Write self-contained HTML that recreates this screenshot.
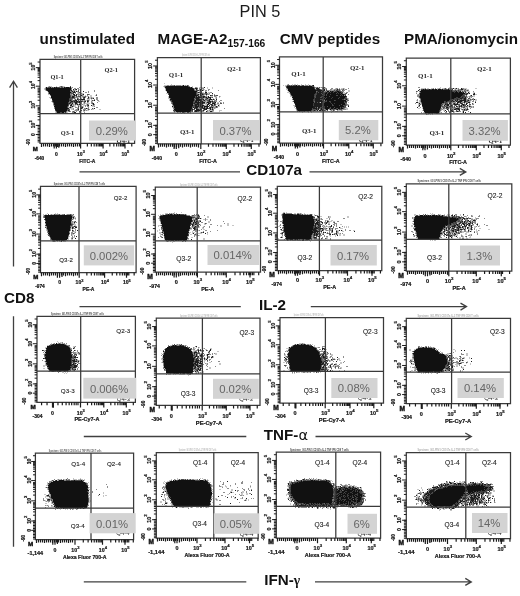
<!DOCTYPE html>
<html lang="en">
<head>
<meta charset="utf-8">
<title>PIN 5</title>
<style>
html,body{margin:0;padding:0;background:#fff;}
body{width:520px;height:596px;overflow:hidden;}
svg{display:block;}
</style>
</head>
<body>
<svg width="520" height="596" viewBox="0 0 520 596" font-family="'Liberation Sans', Arial, sans-serif">
<rect width="520" height="596" fill="#ffffff"/>
<text x="239.6" y="17" font-size="16.3" fill="#1c1c1c">PIN 5</text>
<g font-weight="bold" font-size="15.2" fill="#111">
<text x="39.5" y="43.8" letter-spacing="0.1">unstimulated</text>
<text x="157.5" y="43.8">MAGE-A2<tspan font-size="10.3" dy="3.2">157-166</tspan></text>
<text x="279.8" y="44.2">CMV peptides</text>
<text x="404" y="44.2">PMA/ionomycin</text>
<text x="4" y="303.4">CD8</text>
<text x="246.3" y="174.6">CD107a</text>
<text x="259" y="309.6">IL-2</text>
<text x="263.8" y="440">TNF-<tspan font-weight="normal" font-size="14.6" font-family="'DejaVu Sans', 'Liberation Sans', sans-serif">α</tspan></text>
<text x="264.2" y="585">IFN-<tspan font-weight="bold" font-size="13.6" font-family="'Liberation Serif', 'DejaVu Serif', serif">γ</tspan></text>
</g>
<g stroke="#404040" stroke-width="1.3" fill="none">
<path d="M13.5 81.3V266.4M13.5 316.2V546.8M9.6 87.6L13.5 81.2L17.4 87.6"/>
<path d="M79.5 171.9H240M309.5 171.9H465.8M459.8 168.4L465.8 171.9L459.8 175.4"/>
<path d="M79.5 306.6H240.8M310.8 306.6H466.5M460.5 303.1L466.5 306.6L460.5 310.1"/>
<path d="M83.8 436.5H246.3M315.5 436.5H471.3M465.3 433L471.3 436.5L465.3 440"/>
<path d="M83.8 581.9H246.3M315 581.9H471.3M465.3 578.4L471.3 581.9L465.3 585.4"/>
</g>
<g>
<text x="53.8" y="57.9" font-size="3.3" fill="#333" fill-opacity="0.9" font-weight="bold" textLength="48.7" lengthAdjust="spacingAndGlyphs">Specimen_001-PIN 5 CD107a IL-2 TNF IFN CD8 T cells</text>
<path fill="#0a0a0a" fill-opacity="0.92" d="M72 87.5h1v0.5h-1zM79 87.5h1.5v0.5h-1.5zM71.5 88h0.5v0.5h-0.5zM74 88h1v0.5h-1zM77.5 88h0.5v0.5h-0.5zM75 88.5h1v0.5h-1zM77.5 88.5h1.5v0.5h-1.5zM71 89h1v0.5h-1zM73 89h1v0.5h-1zM75 89h2v0.5h-2zM78 89h1.5v0.5h-1.5zM73 89.5h1.5v0.5h-1.5zM75.5 89.5h1.5v0.5h-1.5zM71 90h1v0.5h-1zM75.5 90h1v0.5h-1zM78 90h0.5v0.5h-0.5zM71 90.5h1v0.5h-1zM72.5 90.5h2.5v0.5h-2.5zM78 90.5h1v0.5h-1zM94 90.5h1v0.5h-1zM71.5 91h3.5v0.5h-3.5zM76 91h1v0.5h-1zM77.5 91h1.5v0.5h-1.5zM83 91h1v0.5h-1zM94 91h1v0.5h-1zM71.5 91.5h1.5v0.5h-1.5zM74 91.5h1.5v0.5h-1.5zM76 91.5h1v0.5h-1zM77.5 91.5h1v0.5h-1zM83 91.5h1v0.5h-1zM88 91.5h1v0.5h-1zM72.5 92h3v0.5h-3zM79.5 92h1v0.5h-1zM85.5 92h1v0.5h-1zM88 92h1v0.5h-1zM71 92.5h1.5v0.5h-1.5zM73 92.5h3v0.5h-3zM77.5 92.5h3v0.5h-3zM85.5 92.5h1v0.5h-1zM71 93h3v0.5h-3zM75 93h1v0.5h-1zM77.5 93h1v0.5h-1zM81 93h0.5v0.5h-0.5zM82.5 93h1v0.5h-1zM70 93.5h0.5v0.5h-0.5zM71.5 93.5h1v0.5h-1zM73 93.5h0.5v0.5h-0.5zM78.5 93.5h1v0.5h-1zM81 93.5h0.5v0.5h-0.5zM71 94h1.5v0.5h-1.5zM73 94h2v0.5h-2zM76 94h1.5v0.5h-1.5zM79 94h1v0.5h-1zM82.5 94h1.5v0.5h-1.5zM87.5 94h2v0.5h-2zM73 94.5h2v0.5h-2zM76 94.5h1.5v0.5h-1.5zM78 94.5h1v0.5h-1zM80.5 94.5h1v0.5h-1zM82.5 94.5h1.5v0.5h-1.5zM87 94.5h1v0.5h-1zM88.5 94.5h1v0.5h-1zM96 94.5h1v0.5h-1zM70.5 95h1v0.5h-1zM73 95h2v0.5h-2zM75.5 95h1.5v0.5h-1.5zM78 95h1v0.5h-1zM79.5 95h2.5v0.5h-2.5zM82.5 95h0.5v0.5h-0.5zM96 95h1v0.5h-1zM70.5 95.5h1v0.5h-1zM72 95.5h1v0.5h-1zM74 95.5h3v0.5h-3zM81 95.5h1v0.5h-1zM82.5 95.5h1v0.5h-1zM85.5 95.5h0.5v0.5h-0.5zM87 95.5h1v0.5h-1zM90.5 95.5h1v0.5h-1zM95.5 95.5h1v0.5h-1zM70.5 96h0.5v0.5h-0.5zM71.5 96h4v0.5h-4zM76 96h1v0.5h-1zM77.5 96h1v0.5h-1zM79 96h1.5v0.5h-1.5zM82.5 96h1v0.5h-1zM84.5 96h1.5v0.5h-1.5zM86.5 96h1v0.5h-1zM90.5 96h1v0.5h-1zM70 96.5h1.5v0.5h-1.5zM72 96.5h2.5v0.5h-2.5zM76 96.5h0.5v0.5h-0.5zM77.5 96.5h1.5v0.5h-1.5zM79.5 96.5h1v0.5h-1zM82 96.5h0.5v0.5h-0.5zM83 96.5h0.5v0.5h-0.5zM84.5 96.5h1v0.5h-1zM88 96.5h1v0.5h-1zM70 97h1.5v0.5h-1.5zM72 97h2.5v0.5h-2.5zM75.5 97h1v0.5h-1zM77 97h1.5v0.5h-1.5zM82 97h0.5v0.5h-0.5zM83.5 97h2v0.5h-2zM88 97h1v0.5h-1zM96.5 97h1v0.5h-1zM70.5 97.5h4.5v0.5h-4.5zM75.5 97.5h1v0.5h-1zM79.5 97.5h1v0.5h-1zM83 97.5h2.5v0.5h-2.5zM88 97.5h1.5v0.5h-1.5zM90.5 97.5h1.5v0.5h-1.5zM92.5 97.5h1v0.5h-1zM96.5 97.5h1v0.5h-1zM70.5 98h4.5v0.5h-4.5zM77 98h0.5v0.5h-0.5zM83 98h1.5v0.5h-1.5zM87.5 98h1v0.5h-1zM90.5 98h3.5v0.5h-3.5zM69.5 98.5h1v0.5h-1zM71.5 98.5h1v0.5h-1zM74.5 98.5h1v0.5h-1zM77 98.5h2v0.5h-2zM80 98.5h1v0.5h-1zM81.5 98.5h0.5v0.5h-0.5zM83.5 98.5h1.5v0.5h-1.5zM87.5 98.5h2v0.5h-2zM91 98.5h0.5v0.5h-0.5zM93 98.5h1v0.5h-1zM96 98.5h2v0.5h-2zM69 99h0.5v0.5h-0.5zM70 99h0.5v0.5h-0.5zM71 99h2v0.5h-2zM74.5 99h1.5v0.5h-1.5zM77 99h8v0.5h-8zM88.5 99h1v0.5h-1zM91 99h0.5v0.5h-0.5zM94 99h0.5v0.5h-0.5zM96 99h2v0.5h-2zM69 99.5h0.5v0.5h-0.5zM70 99.5h1v0.5h-1zM71.5 99.5h0.5v0.5h-0.5zM75 99.5h0.5v0.5h-0.5zM76.5 99.5h1.5v0.5h-1.5zM78.5 99.5h1v0.5h-1zM80 99.5h5v0.5h-5zM87 99.5h0.5v0.5h-0.5zM94 99.5h0.5v0.5h-0.5zM69.5 100h2.5v0.5h-2.5zM73 100h0.5v0.5h-0.5zM74.5 100h2.5v0.5h-2.5zM77.5 100h1v0.5h-1zM81.5 100h1v0.5h-1zM83.5 100h1v0.5h-1zM87 100h1.5v0.5h-1.5zM92 100h1v0.5h-1zM93.5 100h1.5v0.5h-1.5zM97.5 100h1v0.5h-1zM70 100.5h1.5v0.5h-1.5zM72 100.5h5v0.5h-5zM78 100.5h1.5v0.5h-1.5zM82.5 100.5h0.5v0.5h-0.5zM84.5 100.5h1.5v0.5h-1.5zM86.5 100.5h1v0.5h-1zM88 100.5h1.5v0.5h-1.5zM91.5 100.5h1v0.5h-1zM93.5 100.5h1.5v0.5h-1.5zM97.5 100.5h1v0.5h-1zM69.5 101h5.5v0.5h-5.5zM75.5 101h2.5v0.5h-2.5zM78.5 101h3.5v0.5h-3.5zM82.5 101h1v0.5h-1zM84.5 101h1.5v0.5h-1.5zM87 101h2v0.5h-2zM91.5 101h0.5v0.5h-0.5zM98.5 101h1v0.5h-1zM69.5 101.5h1v0.5h-1zM71 101.5h2.5v0.5h-2.5zM74 101.5h9.5v0.5h-9.5zM84 101.5h2v0.5h-2zM87 101.5h1.5v0.5h-1.5zM91.5 101.5h1v0.5h-1zM69.5 102h4v0.5h-4zM74 102h6v0.5h-6zM80.5 102h1v0.5h-1zM83.5 102h1.5v0.5h-1.5zM87 102h1.5v0.5h-1.5zM92 102h1v0.5h-1zM69.5 102.5h1.5v0.5h-1.5zM71.5 102.5h1v0.5h-1zM73 102.5h0.5v0.5h-0.5zM74.5 102.5h2.5v0.5h-2.5zM77.5 102.5h1v0.5h-1zM79 102.5h1v0.5h-1zM80.5 102.5h1v0.5h-1zM84.5 102.5h1v0.5h-1zM91 102.5h1v0.5h-1zM97 102.5h1v0.5h-1zM68.5 103h2.5v0.5h-2.5zM72 103h1.5v0.5h-1.5zM74.5 103h2.5v0.5h-2.5zM80.5 103h1v0.5h-1zM84.5 103h1v0.5h-1zM88.5 103h1v0.5h-1zM91 103h3v0.5h-3zM69 103.5h1.5v0.5h-1.5zM71 103.5h2v0.5h-2zM75 103.5h3v0.5h-3zM79 103.5h1v0.5h-1zM80.5 103.5h1v0.5h-1zM83.5 103.5h1v0.5h-1zM86.5 103.5h0.5v0.5h-0.5zM87.5 103.5h0.5v0.5h-0.5zM92.5 103.5h1.5v0.5h-1.5zM70.5 104h2v0.5h-2zM75 104h1.5v0.5h-1.5zM77 104h1v0.5h-1zM79 104h2v0.5h-2zM82 104h0.5v0.5h-0.5zM83.5 104h1v0.5h-1zM86.5 104h0.5v0.5h-0.5zM87.5 104h0.5v0.5h-0.5zM92.5 104h1.5v0.5h-1.5zM68.5 104.5h1v0.5h-1zM70.5 104.5h2v0.5h-2zM73 104.5h1v0.5h-1zM74.5 104.5h1v0.5h-1zM76.5 104.5h5v0.5h-5zM82 104.5h0.5v0.5h-0.5zM87 104.5h2v0.5h-2zM93 104.5h2v0.5h-2zM70 105h2v0.5h-2zM73 105h1v0.5h-1zM77 105h0.5v0.5h-0.5zM78.5 105h0.5v0.5h-0.5zM80 105h1.5v0.5h-1.5zM87 105h2v0.5h-2zM91 105h1v0.5h-1zM70 105.5h2.5v0.5h-2.5zM74.5 105.5h1v0.5h-1zM78.5 105.5h1v0.5h-1zM80 105.5h1v0.5h-1zM83.5 105.5h1v0.5h-1zM85 105.5h1v0.5h-1zM86.5 105.5h1v0.5h-1zM88 105.5h1v0.5h-1zM91 105.5h1v0.5h-1zM92.5 105.5h2v0.5h-2zM70 106h1v0.5h-1zM71.5 106h2v0.5h-2zM74.5 106h1v0.5h-1zM78.5 106h1v0.5h-1zM80 106h1v0.5h-1zM81.5 106h1v0.5h-1zM85 106h1v0.5h-1zM88 106h1v0.5h-1zM92.5 106h1v0.5h-1zM67.5 106.5h1v0.5h-1zM71.5 106.5h2v0.5h-2zM78 106.5h1v0.5h-1zM81.5 106.5h1v0.5h-1zM83 106.5h0.5v0.5h-0.5zM87 106.5h1v0.5h-1zM94 106.5h1v0.5h-1zM69.5 107h2.5v0.5h-2.5zM75 107h1v0.5h-1zM78 107h1v0.5h-1zM81.5 107h2v0.5h-2zM96.5 107h1v0.5h-1zM69.5 107.5h1.5v0.5h-1.5zM72 107.5h0.5v0.5h-0.5zM76 107.5h1v0.5h-1zM77.5 107.5h1v0.5h-1zM81 107.5h2v0.5h-2zM88 107.5h1v0.5h-1zM96.5 107.5h1v0.5h-1zM68 108h1v0.5h-1zM70.5 108h1v0.5h-1zM72 108h0.5v0.5h-0.5zM77.5 108h1.5v0.5h-1.5zM80 108h2.5v0.5h-2.5zM84.5 108h1v0.5h-1zM86 108h1.5v0.5h-1.5zM88 108h1v0.5h-1zM92 108h0.5v0.5h-0.5zM94 108h1v0.5h-1zM68 108.5h1.5v0.5h-1.5zM73 108.5h1v0.5h-1zM77.5 108.5h1v0.5h-1zM80 108.5h2.5v0.5h-2.5zM84.5 108.5h1v0.5h-1zM86 108.5h1.5v0.5h-1.5zM92 108.5h1.5v0.5h-1.5zM94 108.5h1v0.5h-1zM67 109h0.5v0.5h-0.5zM68.5 109h1v0.5h-1zM73 109h1v0.5h-1zM77.5 109h1.5v0.5h-1.5zM84.5 109h1v0.5h-1zM88.5 109h1v0.5h-1zM92.5 109h1v0.5h-1zM67.5 109.5h2.5v0.5h-2.5zM71.5 109.5h1v0.5h-1zM75 109.5h0.5v0.5h-0.5zM76 109.5h1v0.5h-1zM77.5 109.5h1.5v0.5h-1.5zM83 109.5h1v0.5h-1zM84.5 109.5h1v0.5h-1zM87.5 109.5h2v0.5h-2zM91 109.5h1v0.5h-1zM99.5 109.5h1v0.5h-1zM67.5 110h2.5v0.5h-2.5zM74.5 110h2.5v0.5h-2.5zM77.5 110h1v0.5h-1zM80.5 110h1v0.5h-1zM83 110h2.5v0.5h-2.5zM86 110h1v0.5h-1zM87.5 110h1v0.5h-1zM67.5 110.5h2v0.5h-2zM77.5 110.5h1v0.5h-1zM81 110.5h1v0.5h-1zM84.5 110.5h0.5v0.5h-0.5zM66.5 111h0.5v0.5h-0.5zM68 111h2.5v0.5h-2.5zM72.5 111h1v0.5h-1zM76 111h0.5v0.5h-0.5zM79.5 111h0.5v0.5h-0.5zM69.5 111.5h1v0.5h-1zM72.5 111.5h2.5v0.5h-2.5zM76 111.5h0.5v0.5h-0.5zM79 111.5h2v0.5h-2zM83.5 111.5h1v0.5h-1zM65 112h0.5v0.5h-0.5zM66.5 112h1v0.5h-1zM72 112h1v0.5h-1zM73.5 112h2.5v0.5h-2.5zM79 112h2v0.5h-2zM84 112h0.5v0.5h-0.5zM73.5 112.5h2.5v0.5h-2.5zM84 112.5h0.5v0.5h-0.5z"/>
<path fill="#111111" d="M49 86h0.5v0.5h-0.5zM61.5 86h0.5v0.5h-0.5zM62.5 86h0.5v0.5h-0.5zM70.5 86h0.5v0.5h-0.5zM48.5 86.5h0.5v0.5h-0.5zM49.5 86.5h0.5v0.5h-0.5zM50.5 86.5h1v0.5h-1zM56.5 86.5h0.5v0.5h-0.5zM59.5 86.5h3v0.5h-3zM63.5 86.5h0.5v0.5h-0.5zM64.5 86.5h0.5v0.5h-0.5zM70 86.5h1v0.5h-1zM46 87h1v0.5h-1zM48.5 87h1v0.5h-1zM50 87h1v0.5h-1zM52.5 87h0.5v0.5h-0.5zM54 87h1v0.5h-1zM55.5 87h2v0.5h-2zM58.5 87h0.5v0.5h-0.5zM59.5 87h0.5v0.5h-0.5zM61 87h0.5v0.5h-0.5zM62.5 87h0.5v0.5h-0.5zM64 87h1v0.5h-1zM65.5 87h3.5v0.5h-3.5zM69.5 87h1.5v0.5h-1.5zM71.5 87h0.5v0.5h-0.5zM45.5 87.5h25.5v0.5h-25.5zM45 88h26.5v0.5h-26.5zM44 88.5h0.5v0.5h-0.5zM46 88.5h25.5v0.5h-25.5zM44 89h0.5v0.5h-0.5zM45.5 89h25.5v0.5h-25.5zM45.5 89.5h25.5v0.5h-25.5zM45.5 90h25v0.5h-25zM46.5 90.5h24.5v0.5h-24.5zM47.5 91h23v0.5h-23zM48 91.5h22.5v0.5h-22.5zM71 91.5h0.5v0.5h-0.5zM48.5 92h23v0.5h-23zM48 92.5h0.5v0.5h-0.5zM49 92.5h22v0.5h-22zM48.5 93h22v0.5h-22zM48 93.5h0.5v0.5h-0.5zM49 93.5h21v0.5h-21zM70.5 93.5h0.5v0.5h-0.5zM48.5 94h0.5v0.5h-0.5zM50 94h20.5v0.5h-20.5zM49.5 94.5h21v0.5h-21zM50.5 95h20v0.5h-20zM50.5 95.5h20v0.5h-20zM51 96h19.5v0.5h-19.5zM51 96.5h19v0.5h-19zM49.5 97h0.5v0.5h-0.5zM50.5 97h19.5v0.5h-19.5zM51 97.5h19.5v0.5h-19.5zM50.5 98h0.5v0.5h-0.5zM51.5 98h19v0.5h-19zM51.5 98.5h18v0.5h-18zM70.5 98.5h0.5v0.5h-0.5zM52 99h17v0.5h-17zM69.5 99h0.5v0.5h-0.5zM70.5 99h0.5v0.5h-0.5zM52 99.5h17v0.5h-17zM69.5 99.5h0.5v0.5h-0.5zM52 100h17.5v0.5h-17.5zM52.5 100.5h17.5v0.5h-17.5zM51.5 101h17.5v0.5h-17.5zM52.5 101.5h17v0.5h-17zM53 102h15.5v0.5h-15.5zM69 102h0.5v0.5h-0.5zM52.5 102.5h0.5v0.5h-0.5zM53.5 102.5h15.5v0.5h-15.5zM53 103h15.5v0.5h-15.5zM54 103.5h15v0.5h-15zM53 104h16.5v0.5h-16.5zM54 104.5h14.5v0.5h-14.5zM53 105h0.5v0.5h-0.5zM54.5 105h14v0.5h-14zM54 105.5h15v0.5h-15zM54 106h14.5v0.5h-14.5zM54 106.5h13.5v0.5h-13.5zM54.5 107h13v0.5h-13zM68.5 107h1v0.5h-1zM54.5 107.5h13.5v0.5h-13.5zM54 108h0.5v0.5h-0.5zM55 108h13v0.5h-13zM54 108.5h0.5v0.5h-0.5zM55 108.5h13v0.5h-13zM55 109h12v0.5h-12zM67.5 109h0.5v0.5h-0.5zM55 109.5h12.5v0.5h-12.5zM55 110h12.5v0.5h-12.5zM55.5 110.5h11.5v0.5h-11.5zM56 111h10.5v0.5h-10.5zM67.5 111h0.5v0.5h-0.5zM55.5 111.5h0.5v0.5h-0.5zM56.5 111.5h9.5v0.5h-9.5zM66.5 111.5h0.5v0.5h-0.5zM55 112h0.5v0.5h-0.5zM56.5 112h8.5v0.5h-8.5zM65.5 112h0.5v0.5h-0.5zM56.5 112.5h4v0.5h-4zM61 112.5h0.5v0.5h-0.5zM62 112.5h2v0.5h-2zM65 112.5h1.5v0.5h-1.5zM57 113h1v0.5h-1zM58.5 113h0.5v0.5h-0.5zM61.5 113h1v0.5h-1zM63 113h1v0.5h-1zM64.5 113h0.5v0.5h-0.5zM57 113.5h0.5v0.5h-0.5zM64 113.5h0.5v0.5h-0.5z"/>
<path stroke="#3a3a3a" stroke-width="1.25" fill="none" d="M40 59.4H134.6V143.4H40ZM80.7 59.4V143.4M40 113.7H134.6"/>
<path stroke="#1c1c1c" stroke-width="1.2" fill="none" d="M56.4 143.4v5.2M80.6 143.4v5.2M103.1 143.4v5.2M125 143.4v5.2M87.37 143.4v3M91.34 143.4v3M94.15 143.4v3M96.33 143.4v3M98.11 143.4v3M99.61 143.4v3M100.92 143.4v3M102.07 143.4v3M109.87 143.4v3M113.84 143.4v3M116.65 143.4v3M118.83 143.4v3M120.61 143.4v3M122.11 143.4v3M123.42 143.4v3M124.57 143.4v3M131.77 143.4v3M41.5 143.4v3.6M43.5 143.4v3M45.5 143.4v3M47.5 143.4v3M49.5 143.4v3.6M51.5 143.4v3M53.5 143.4v3M55.5 143.4v3M57.5 143.4v3.6M59.5 143.4v3M61.5 143.4v3M63.5 143.4v3M65.5 143.4v3.6M67.5 143.4v3M69.5 143.4v3M71.5 143.4v3M73.5 143.4v3.6M75.5 143.4v3M77.5 143.4v3M79.5 143.4v3M54.2 143.4v5.2M58.8 143.4v4.4"/>
<path stroke="#1c1c1c" stroke-width="1.0" fill="none" d="M40 67.63h-4.2M40 86.2h-4.2M40 105.85h-4.2M40 125.42h-4.2M40 62.04h-2.4M40 80.61h-2.4M40 77.34h-2.4M40 75.02h-2.4M40 73.22h-2.4M40 71.75h-2.4M40 70.51h-2.4M40 69.43h-2.4M40 68.48h-2.4M40 100.26h-2.4M40 96.99h-2.4M40 94.68h-2.4M40 92.88h-2.4M40 91.41h-2.4M40 90.16h-2.4M40 89.09h-2.4M40 88.14h-2.4M40 119.84h-2.4M40 116.57h-2.4M40 114.25h-2.4M40 112.45h-2.4M40 110.98h-2.4M40 109.74h-2.4M40 108.66h-2.4M40 107.71h-2.4M40 125.42h-2.4M40 126.92h-2.4M40 128.42h-2.4M40 129.92h-2.4M40 131.42h-2.4M40 132.92h-2.4M40 134.42h-2.4M40 135.92h-2.4M40 137.42h-2.4M40 138.92h-2.4M40 140.42h-2.4M40 141.92h-2.4M40 134.5h-4.2"/>
<text x="116.5" y="142.5" font-family="'Liberation Serif', serif" font-size="6.6" font-weight="bold" fill="#222">Q4-1</text>
<rect x="89" y="120.5" width="47" height="20.1" fill="#d3d3d3"/>
<text x="111.8" y="134.85" font-size="11.3" fill="#666666" text-anchor="middle">0.29%</text>
<g font-family="'Liberation Serif', serif" font-size="6.31" font-weight="bold" fill="#262626">
<text x="50.4" y="78.8">Q1-1</text>
<text x="104.5" y="72">Q2-1</text>
<text x="60.8" y="134.5">Q3-1</text>
</g>
<g font-size="5.03" font-weight="bold" fill="#141414" stroke="#141414" stroke-width="0.2">
<text x="56.4" y="155.9" text-anchor="middle">0</text>
<text x="77.05" y="155.9">10<tspan font-size="3.94" dy="-2.66">3</tspan></text>
<text x="99.55" y="155.9">10<tspan font-size="3.94" dy="-2.66">4</tspan></text>
<text x="121.45" y="155.9">10<tspan font-size="3.94" dy="-2.66">5</tspan></text>
<text x="39.5" y="159.5" text-anchor="middle" font-size="4.73">-640</text>
<text x="32.81" y="150.7" font-size="6.01" stroke-width="0.45">M</text>
<text x="79.22" y="162.8" font-size="5.12" textLength="16.16" lengthAdjust="spacingAndGlyphs">FITC-A</text>
<text transform="translate(35.47 67.63) rotate(-90)" x="-2.76" y="0">10<tspan font-size="3.94" dy="-3.74">5</tspan></text>
<text transform="translate(35.47 86.2) rotate(-90)" x="-2.76" y="0">10<tspan font-size="3.94" dy="-3.74">4</tspan></text>
<text transform="translate(35.47 105.85) rotate(-90)" x="-2.76" y="0">10<tspan font-size="3.94" dy="-3.74">3</tspan></text>
<text transform="translate(35.47 125.42) rotate(-90)" x="-2.76" y="0">10<tspan font-size="3.94" dy="-3.74">2</tspan></text>
<text transform="translate(35.47 134.5) rotate(-90)" x="-1.38" y="0">0</text>
<text transform="translate(29.85 141.8) rotate(-90)" x="-3.55" y="0" font-size="4.43">-90</text>
</g>
</g>
<g>
<text x="182" y="56.2" font-size="3.3" fill="#333" fill-opacity="0.35" font-weight="bold" textLength="28" lengthAdjust="spacingAndGlyphs">Specimen_001-PIN 5 CD107a IL-2 TNF IFN CD8 T cells</text>
<path fill="#0a0a0a" fill-opacity="0.92" d="M192 87h1v0.5h-1zM204 87h1v0.5h-1zM195 87.5h2.5v0.5h-2.5zM199.5 87.5h1v0.5h-1zM201 87.5h1v0.5h-1zM202.5 87.5h1v0.5h-1zM204 87.5h1v0.5h-1zM207 87.5h0.5v0.5h-0.5zM212.5 87.5h0.5v0.5h-0.5zM193 88h0.5v0.5h-0.5zM194 88h3.5v0.5h-3.5zM199.5 88h0.5v0.5h-0.5zM201 88h1v0.5h-1zM202.5 88h1v0.5h-1zM207 88h0.5v0.5h-0.5zM212.5 88h0.5v0.5h-0.5zM193 88.5h1v0.5h-1zM195 88.5h3v0.5h-3zM199.5 88.5h0.5v0.5h-0.5zM202.5 88.5h1v0.5h-1zM196 89h2v0.5h-2zM199 89h2v0.5h-2zM202.5 89h1v0.5h-1zM208.5 89h1v0.5h-1zM196 89.5h1v0.5h-1zM200 89.5h2v0.5h-2zM203.5 89.5h1v0.5h-1zM208.5 89.5h1v0.5h-1zM196.5 90h1v0.5h-1zM198 90h1.5v0.5h-1.5zM200 90h1v0.5h-1zM202 90h1.5v0.5h-1.5zM196.5 90.5h1.5v0.5h-1.5zM198.5 90.5h1v0.5h-1zM200 90.5h1v0.5h-1zM202 90.5h1.5v0.5h-1.5zM205 90.5h2v0.5h-2zM208 90.5h1v0.5h-1zM218 90.5h1v0.5h-1zM199 91h0.5v0.5h-0.5zM200 91h1.5v0.5h-1.5zM197 91.5h0.5v0.5h-0.5zM200.5 91.5h1v0.5h-1zM205 91.5h1.5v0.5h-1.5zM196.5 92h0.5v0.5h-0.5zM198 92h2v0.5h-2zM200.5 92h1v0.5h-1zM205 92h2v0.5h-2zM196.5 92.5h0.5v0.5h-0.5zM197.5 92.5h1.5v0.5h-1.5zM199.5 92.5h2.5v0.5h-2.5zM202.5 92.5h1v0.5h-1zM205 92.5h2v0.5h-2zM208.5 92.5h1v0.5h-1zM210 92.5h2v0.5h-2zM196 93h0.5v0.5h-0.5zM198 93h0.5v0.5h-0.5zM199.5 93h2.5v0.5h-2.5zM202.5 93h1v0.5h-1zM204 93h1v0.5h-1zM205.5 93h2v0.5h-2zM208.5 93h1v0.5h-1zM212 93h1v0.5h-1zM196 93.5h0.5v0.5h-0.5zM197 93.5h0.5v0.5h-0.5zM200 93.5h1.5v0.5h-1.5zM202 93.5h1.5v0.5h-1.5zM205 93.5h1.5v0.5h-1.5zM207 93.5h0.5v0.5h-0.5zM209.5 93.5h0.5v0.5h-0.5zM212 93.5h1v0.5h-1zM196.5 94h1v0.5h-1zM198 94h3.5v0.5h-3.5zM202 94h2.5v0.5h-2.5zM205 94h2v0.5h-2zM207.5 94h1v0.5h-1zM209.5 94h0.5v0.5h-0.5zM214 94h0.5v0.5h-0.5zM196 94.5h0.5v0.5h-0.5zM197 94.5h2v0.5h-2zM200 94.5h1v0.5h-1zM202 94.5h1v0.5h-1zM203.5 94.5h1v0.5h-1zM206 94.5h1v0.5h-1zM207.5 94.5h1v0.5h-1zM212 94.5h0.5v0.5h-0.5zM214 94.5h0.5v0.5h-0.5zM196 95h3v0.5h-3zM200 95h1.5v0.5h-1.5zM203.5 95h0.5v0.5h-0.5zM210 95h1v0.5h-1zM211.5 95h1v0.5h-1zM214.5 95h0.5v0.5h-0.5zM216.5 95h1v0.5h-1zM196 95.5h2.5v0.5h-2.5zM199.5 95.5h3.5v0.5h-3.5zM203.5 95.5h1v0.5h-1zM206 95.5h1v0.5h-1zM210 95.5h3v0.5h-3zM214 95.5h4v0.5h-4zM195.5 96h2v0.5h-2zM198 96h1v0.5h-1zM199.5 96h5.5v0.5h-5.5zM205.5 96h0.5v0.5h-0.5zM208 96h1v0.5h-1zM210.5 96h1v0.5h-1zM214 96h2.5v0.5h-2.5zM219.5 96h1v0.5h-1zM195 96.5h0.5v0.5h-0.5zM196 96.5h1.5v0.5h-1.5zM198 96.5h2v0.5h-2zM200.5 96.5h1v0.5h-1zM202.5 96.5h2.5v0.5h-2.5zM205.5 96.5h2v0.5h-2zM208 96.5h1v0.5h-1zM212.5 96.5h0.5v0.5h-0.5zM219.5 96.5h0.5v0.5h-0.5zM195 97h9.5v0.5h-9.5zM205.5 97h2v0.5h-2zM208 97h3.5v0.5h-3.5zM212.5 97h0.5v0.5h-0.5zM219.5 97h0.5v0.5h-0.5zM195.5 97.5h7v0.5h-7zM203 97.5h4.5v0.5h-4.5zM208 97.5h3.5v0.5h-3.5zM212 97.5h1v0.5h-1zM215 97.5h0.5v0.5h-0.5zM216 97.5h1v0.5h-1zM195 98h4.5v0.5h-4.5zM200 98h0.5v0.5h-0.5zM201 98h0.5v0.5h-0.5zM202 98h0.5v0.5h-0.5zM203 98h0.5v0.5h-0.5zM204.5 98h4v0.5h-4zM209.5 98h1.5v0.5h-1.5zM215 98h0.5v0.5h-0.5zM216 98h1v0.5h-1zM194.5 98.5h0.5v0.5h-0.5zM195.5 98.5h4.5v0.5h-4.5zM201 98.5h0.5v0.5h-0.5zM202 98.5h1.5v0.5h-1.5zM206.5 98.5h2v0.5h-2zM209.5 98.5h1.5v0.5h-1.5zM213.5 98.5h0.5v0.5h-0.5zM194.5 99h0.5v0.5h-0.5zM196 99h8v0.5h-8zM205.5 99h1v0.5h-1zM207.5 99h1v0.5h-1zM209 99h3.5v0.5h-3.5zM213 99h1.5v0.5h-1.5zM216 99h1v0.5h-1zM194.5 99.5h8v0.5h-8zM203 99.5h1.5v0.5h-1.5zM205 99.5h2v0.5h-2zM207.5 99.5h1v0.5h-1zM209 99.5h3.5v0.5h-3.5zM213 99.5h1.5v0.5h-1.5zM216 99.5h1v0.5h-1zM194.5 100h7.5v0.5h-7.5zM203.5 100h3.5v0.5h-3.5zM207.5 100h1v0.5h-1zM209 100h1.5v0.5h-1.5zM214 100h0.5v0.5h-0.5zM215.5 100h1v0.5h-1zM220.5 100h1v0.5h-1zM194 100.5h0.5v0.5h-0.5zM195.5 100.5h9.5v0.5h-9.5zM207 100.5h3v0.5h-3zM211 100.5h0.5v0.5h-0.5zM212 100.5h1v0.5h-1zM214 100.5h0.5v0.5h-0.5zM215.5 100.5h1v0.5h-1zM220.5 100.5h1v0.5h-1zM193.5 101h0.5v0.5h-0.5zM194.5 101h3v0.5h-3zM198 101h1.5v0.5h-1.5zM200 101h3.5v0.5h-3.5zM204.5 101h0.5v0.5h-0.5zM207.5 101h0.5v0.5h-0.5zM208.5 101h3v0.5h-3zM212 101h1v0.5h-1zM213.5 101h1v0.5h-1zM215.5 101h1v0.5h-1zM219 101h0.5v0.5h-0.5zM195 101.5h4.5v0.5h-4.5zM200 101.5h3.5v0.5h-3.5zM204.5 101.5h2v0.5h-2zM207.5 101.5h5.5v0.5h-5.5zM213.5 101.5h1.5v0.5h-1.5zM215.5 101.5h1v0.5h-1zM219 101.5h0.5v0.5h-0.5zM193.5 102h0.5v0.5h-0.5zM194.5 102h10.5v0.5h-10.5zM205.5 102h4v0.5h-4zM210 102h1v0.5h-1zM212.5 102h3.5v0.5h-3.5zM193.5 102.5h11.5v0.5h-11.5zM207 102.5h4.5v0.5h-4.5zM212 102.5h1.5v0.5h-1.5zM214.5 102.5h1.5v0.5h-1.5zM217.5 102.5h1v0.5h-1zM220 102.5h1.5v0.5h-1.5zM223 102.5h1v0.5h-1zM194 103h9v0.5h-9zM203.5 103h1.5v0.5h-1.5zM208 103h2.5v0.5h-2.5zM212 103h3.5v0.5h-3.5zM217.5 103h1v0.5h-1zM220.5 103h1.5v0.5h-1.5zM223 103h1v0.5h-1zM193.5 103.5h2v0.5h-2zM196.5 103.5h3v0.5h-3zM200 103.5h4.5v0.5h-4.5zM205.5 103.5h1.5v0.5h-1.5zM207.5 103.5h3v0.5h-3zM212 103.5h3.5v0.5h-3.5zM217.5 103.5h1v0.5h-1zM220 103.5h1v0.5h-1zM221.5 103.5h0.5v0.5h-0.5zM194 104h5v0.5h-5zM199.5 104h4v0.5h-4zM205.5 104h0.5v0.5h-0.5zM206.5 104h2.5v0.5h-2.5zM210 104h3.5v0.5h-3.5zM214 104h1.5v0.5h-1.5zM194.5 104.5h7v0.5h-7zM202 104.5h0.5v0.5h-0.5zM207 104.5h2.5v0.5h-2.5zM210.5 104.5h2v0.5h-2zM214 104.5h2v0.5h-2zM216.5 104.5h1v0.5h-1zM218.5 104.5h1v0.5h-1zM193 105h1.5v0.5h-1.5zM195 105h2v0.5h-2zM197.5 105h4v0.5h-4zM202 105h2v0.5h-2zM206.5 105h1.5v0.5h-1.5zM209 105h1v0.5h-1zM211 105h2v0.5h-2zM213.5 105h2.5v0.5h-2.5zM218 105h1.5v0.5h-1.5zM193.5 105.5h6v0.5h-6zM200 105.5h1.5v0.5h-1.5zM202 105.5h3.5v0.5h-3.5zM206.5 105.5h1.5v0.5h-1.5zM209 105.5h1v0.5h-1zM211.5 105.5h1.5v0.5h-1.5zM213.5 105.5h1v0.5h-1zM218 105.5h1v0.5h-1zM192.5 106h6.5v0.5h-6.5zM199.5 106h10v0.5h-10zM211.5 106h0.5v0.5h-0.5zM214 106h0.5v0.5h-0.5zM215 106h2v0.5h-2zM218.5 106h1v0.5h-1zM193.5 106.5h1v0.5h-1zM195 106.5h8v0.5h-8zM204 106.5h5v0.5h-5zM210.5 106.5h3.5v0.5h-3.5zM216 106.5h2v0.5h-2zM192 107h6v0.5h-6zM198.5 107h1v0.5h-1zM200.5 107h2.5v0.5h-2.5zM204 107h1.5v0.5h-1.5zM206 107h2v0.5h-2zM209.5 107h3.5v0.5h-3.5zM213.5 107h1v0.5h-1zM215 107h3v0.5h-3zM193 107.5h1v0.5h-1zM194.5 107.5h3.5v0.5h-3.5zM198.5 107.5h7v0.5h-7zM206 107.5h0.5v0.5h-0.5zM207 107.5h1v0.5h-1zM209 107.5h2.5v0.5h-2.5zM212 107.5h1v0.5h-1zM213.5 107.5h1v0.5h-1zM216 107.5h0.5v0.5h-0.5zM194 108h4.5v0.5h-4.5zM199 108h1.5v0.5h-1.5zM201 108h4.5v0.5h-4.5zM206 108h5.5v0.5h-5.5zM212 108h1v0.5h-1zM214 108h1.5v0.5h-1.5zM224.5 108h0.5v0.5h-0.5zM192 108.5h1v0.5h-1zM194 108.5h1v0.5h-1zM195.5 108.5h1.5v0.5h-1.5zM197.5 108.5h1v0.5h-1zM200 108.5h1v0.5h-1zM202 108.5h0.5v0.5h-0.5zM203 108.5h5.5v0.5h-5.5zM209 108.5h0.5v0.5h-0.5zM210 108.5h1v0.5h-1zM212.5 108.5h1v0.5h-1zM224.5 108.5h0.5v0.5h-0.5zM192 109h1.5v0.5h-1.5zM194 109h1v0.5h-1zM196 109h3v0.5h-3zM199.5 109h2.5v0.5h-2.5zM203.5 109h3.5v0.5h-3.5zM209 109h0.5v0.5h-0.5zM210 109h1v0.5h-1zM211.5 109h2v0.5h-2zM191.5 109.5h3v0.5h-3zM196 109.5h5v0.5h-5zM201.5 109.5h0.5v0.5h-0.5zM203 109.5h0.5v0.5h-0.5zM204 109.5h3v0.5h-3zM210 109.5h1v0.5h-1zM211.5 109.5h2v0.5h-2zM192 110h1v0.5h-1zM194.5 110h6.5v0.5h-6.5zM201.5 110h0.5v0.5h-0.5zM203 110h1.5v0.5h-1.5zM209 110h0.5v0.5h-0.5zM212.5 110h1v0.5h-1zM220.5 110h1v0.5h-1zM192.5 110.5h0.5v0.5h-0.5zM194.5 110.5h5.5v0.5h-5.5zM200.5 110.5h0.5v0.5h-0.5zM201.5 110.5h3v0.5h-3zM207 110.5h1v0.5h-1zM208.5 110.5h1v0.5h-1zM210.5 110.5h1v0.5h-1zM212.5 110.5h1v0.5h-1zM219.5 110.5h0.5v0.5h-0.5zM191.5 111h1.5v0.5h-1.5zM194 111h5.5v0.5h-5.5zM200.5 111h3.5v0.5h-3.5zM206 111h2v0.5h-2zM208.5 111h1v0.5h-1zM210 111h3.5v0.5h-3.5zM219.5 111h0.5v0.5h-0.5zM190.5 111.5h0.5v0.5h-0.5zM191.5 111.5h1v0.5h-1zM194.5 111.5h3v0.5h-3zM198.5 111.5h1v0.5h-1zM200.5 111.5h1v0.5h-1zM206 111.5h1v0.5h-1zM210 111.5h2v0.5h-2z"/>
<path fill="#111111" d="M164.5 83.5h0.5v0.5h-0.5zM171.5 84h0.5v0.5h-0.5zM167 85h0.5v0.5h-0.5zM168 85h1v0.5h-1zM172.5 85h0.5v0.5h-0.5zM174 85h0.5v0.5h-0.5zM177.5 85h0.5v0.5h-0.5zM179.5 85h1v0.5h-1zM182 85h0.5v0.5h-0.5zM183 85h1.5v0.5h-1.5zM186.5 85h0.5v0.5h-0.5zM187.5 85h0.5v0.5h-0.5zM164.5 85.5h0.5v0.5h-0.5zM165.5 85.5h0.5v0.5h-0.5zM166.5 85.5h0.5v0.5h-0.5zM167.5 85.5h0.5v0.5h-0.5zM169.5 85.5h3v0.5h-3zM173 85.5h2.5v0.5h-2.5zM176 85.5h1v0.5h-1zM177.5 85.5h2v0.5h-2zM180.5 85.5h1v0.5h-1zM182 85.5h0.5v0.5h-0.5zM183 85.5h1v0.5h-1zM185 85.5h1v0.5h-1zM187 85.5h2v0.5h-2zM163.5 86h0.5v0.5h-0.5zM164.5 86h0.5v0.5h-0.5zM165.5 86h22.5v0.5h-22.5zM188.5 86h0.5v0.5h-0.5zM164.5 86.5h25.5v0.5h-25.5zM192 86.5h0.5v0.5h-0.5zM165 87h25.5v0.5h-25.5zM191 87h1v0.5h-1zM164 87.5h0.5v0.5h-0.5zM165 87.5h27v0.5h-27zM165 88h28v0.5h-28zM193.5 88h0.5v0.5h-0.5zM166 88.5h27v0.5h-27zM165 89h0.5v0.5h-0.5zM166 89h28v0.5h-28zM166 89.5h29.5v0.5h-29.5zM165 90h0.5v0.5h-0.5zM166 90h28.5v0.5h-28.5zM196 90h0.5v0.5h-0.5zM197.5 90h0.5v0.5h-0.5zM166 90.5h30.5v0.5h-30.5zM198 90.5h0.5v0.5h-0.5zM166.5 91h31v0.5h-31zM167 91.5h30v0.5h-30zM167 92h29.5v0.5h-29.5zM197 92h1v0.5h-1zM167 92.5h29.5v0.5h-29.5zM167 93h0.5v0.5h-0.5zM168 93h28v0.5h-28zM196.5 93h1v0.5h-1zM166.5 93.5h0.5v0.5h-0.5zM168.5 93.5h27.5v0.5h-27.5zM196.5 93.5h0.5v0.5h-0.5zM168.5 94h28v0.5h-28zM168 94.5h28v0.5h-28zM196.5 94.5h0.5v0.5h-0.5zM169 95h27v0.5h-27zM169 95.5h27v0.5h-27zM169 96h26.5v0.5h-26.5zM168.5 96.5h26.5v0.5h-26.5zM195.5 96.5h0.5v0.5h-0.5zM168.5 97h26.5v0.5h-26.5zM169 97.5h26.5v0.5h-26.5zM168.5 98h0.5v0.5h-0.5zM169.5 98h25.5v0.5h-25.5zM170.5 98.5h23.5v0.5h-23.5zM195 98.5h0.5v0.5h-0.5zM169.5 99h25v0.5h-25zM170 99.5h24.5v0.5h-24.5zM170.5 100h24v0.5h-24zM169.5 100.5h1.5v0.5h-1.5zM171.5 100.5h22.5v0.5h-22.5zM194.5 100.5h1v0.5h-1zM170 101h0.5v0.5h-0.5zM171 101h22.5v0.5h-22.5zM171.5 101.5h23.5v0.5h-23.5zM171.5 102h22v0.5h-22zM194 102h0.5v0.5h-0.5zM171.5 102.5h0.5v0.5h-0.5zM172.5 102.5h21v0.5h-21zM171 103h23v0.5h-23zM172.5 103.5h21v0.5h-21zM172 104h21v0.5h-21zM193.5 104h0.5v0.5h-0.5zM173 104.5h20.5v0.5h-20.5zM173 105h20v0.5h-20zM194.5 105h0.5v0.5h-0.5zM172.5 105.5h0.5v0.5h-0.5zM173.5 105.5h20v0.5h-20zM172 106h1v0.5h-1zM173.5 106h19v0.5h-19zM172 106.5h1v0.5h-1zM173.5 106.5h19.5v0.5h-19.5zM172.5 107h0.5v0.5h-0.5zM173.5 107h18.5v0.5h-18.5zM173.5 107.5h18.5v0.5h-18.5zM192.5 107.5h0.5v0.5h-0.5zM173 108h0.5v0.5h-0.5zM174 108h18.5v0.5h-18.5zM173.5 108.5h0.5v0.5h-0.5zM174.5 108.5h17.5v0.5h-17.5zM173 109h0.5v0.5h-0.5zM174 109h18v0.5h-18zM174 109.5h17.5v0.5h-17.5zM173 110h18.5v0.5h-18.5zM173.5 110.5h0.5v0.5h-0.5zM174.5 110.5h18v0.5h-18zM173.5 111h0.5v0.5h-0.5zM174.5 111h17v0.5h-17zM174 111.5h1v0.5h-1zM176 111.5h14.5v0.5h-14.5zM177 112h0.5v0.5h-0.5zM178.5 112h1v0.5h-1zM180 112h1v0.5h-1zM182 112h3.5v0.5h-3.5zM187 112h0.5v0.5h-0.5zM188 112h1v0.5h-1zM189.5 112h0.5v0.5h-0.5zM190.5 112h0.5v0.5h-0.5zM174.5 112.5h0.5v0.5h-0.5zM177.5 112.5h0.5v0.5h-0.5zM182.5 112.5h0.5v0.5h-0.5zM183.5 112.5h0.5v0.5h-0.5zM187 112.5h1.5v0.5h-1.5zM190.5 112.5h0.5v0.5h-0.5zM181 113h0.5v0.5h-0.5zM190.5 113h0.5v0.5h-0.5zM184.5 113.5h0.5v0.5h-0.5z"/>
<path stroke="#3a3a3a" stroke-width="1.25" fill="none" d="M157.4 57.5H260.4V143.8H157.4ZM201.2 57.5V143.8M157.4 113H260.4"/>
<path stroke="#1c1c1c" stroke-width="1.2" fill="none" d="M176.3 143.8v5.2M200.8 143.8v5.2M226.3 143.8v5.2M251.3 143.8v5.2M208.48 143.8v3M212.97 143.8v3M216.15 143.8v3M218.62 143.8v3M220.64 143.8v3M222.35 143.8v3M223.83 143.8v3M225.13 143.8v3M233.98 143.8v3M238.47 143.8v3M241.65 143.8v3M244.12 143.8v3M246.14 143.8v3M247.85 143.8v3M249.33 143.8v3M250.63 143.8v3M258.98 143.8v3M158.5 143.8v3.6M160.5 143.8v3M162.5 143.8v3M164.5 143.8v3M166.5 143.8v3.6M168.5 143.8v3M170.5 143.8v3M172.5 143.8v3M174.5 143.8v3.6M176.5 143.8v3M178.5 143.8v3M180.5 143.8v3M182.5 143.8v3.6M184.5 143.8v3M186.5 143.8v3M188.5 143.8v3M190.5 143.8v3.6M192.5 143.8v3M194.5 143.8v3M196.5 143.8v3M198.5 143.8v3.6M174.1 143.8v5.2M178.7 143.8v4.4"/>
<path stroke="#1c1c1c" stroke-width="1.0" fill="none" d="M157.4 65.96h-4.2M157.4 85.03h-4.2M157.4 105.22h-4.2M157.4 125.33h-4.2M157.4 60.22h-2.4M157.4 79.29h-2.4M157.4 75.93h-2.4M157.4 73.55h-2.4M157.4 71.7h-2.4M157.4 70.19h-2.4M157.4 68.91h-2.4M157.4 67.81h-2.4M157.4 66.83h-2.4M157.4 99.48h-2.4M157.4 96.12h-2.4M157.4 93.74h-2.4M157.4 91.89h-2.4M157.4 90.38h-2.4M157.4 89.11h-2.4M157.4 88h-2.4M157.4 87.02h-2.4M157.4 119.59h-2.4M157.4 116.23h-2.4M157.4 113.85h-2.4M157.4 112h-2.4M157.4 110.49h-2.4M157.4 109.21h-2.4M157.4 108.11h-2.4M157.4 107.13h-2.4M157.4 125.33h-2.4M157.4 126.83h-2.4M157.4 128.33h-2.4M157.4 129.83h-2.4M157.4 131.33h-2.4M157.4 132.83h-2.4M157.4 134.33h-2.4M157.4 135.83h-2.4M157.4 137.33h-2.4M157.4 138.83h-2.4M157.4 140.33h-2.4M157.4 141.83h-2.4M157.4 143.33h-2.4M157.4 134.65h-4.2"/>
<text x="239.8" y="142.4" font-family="'Liberation Serif', serif" font-size="6.6" font-weight="bold" fill="#222">Q4-1</text>
<rect x="213" y="120" width="46.3" height="20.5" fill="#d3d3d3"/>
<text x="235.45" y="134.55" font-size="11.3" fill="#666666" text-anchor="middle">0.37%</text>
<g font-family="'Liberation Serif', serif" font-size="6.87" font-weight="bold" fill="#262626">
<text x="168.8" y="77">Q1-1</text>
<text x="227" y="70.5">Q2-1</text>
<text x="180" y="133.8">Q3-1</text>
</g>
<g font-size="5.47" font-weight="bold" fill="#141414" stroke="#141414" stroke-width="0.2">
<text x="176.3" y="156.3" text-anchor="middle">0</text>
<text x="196.94" y="156.3">10<tspan font-size="4.29" dy="-2.9">3</tspan></text>
<text x="222.44" y="156.3">10<tspan font-size="4.29" dy="-2.9">4</tspan></text>
<text x="247.44" y="156.3">10<tspan font-size="4.29" dy="-2.9">5</tspan></text>
<text x="156.9" y="159.9" text-anchor="middle" font-size="5.15">-640</text>
<text x="149.57" y="151.1" font-size="6.54" stroke-width="0.45">M</text>
<text x="199.3" y="163.2" font-size="5.58" textLength="17.6" lengthAdjust="spacingAndGlyphs">FITC-A</text>
<text transform="translate(152.46 65.96) rotate(-90)" x="-3" y="0">10<tspan font-size="4.29" dy="-4.08">5</tspan></text>
<text transform="translate(152.46 85.03) rotate(-90)" x="-3" y="0">10<tspan font-size="4.29" dy="-4.08">4</tspan></text>
<text transform="translate(152.46 105.22) rotate(-90)" x="-3" y="0">10<tspan font-size="4.29" dy="-4.08">3</tspan></text>
<text transform="translate(152.46 125.33) rotate(-90)" x="-3" y="0">10<tspan font-size="4.29" dy="-4.08">2</tspan></text>
<text transform="translate(152.46 134.65) rotate(-90)" x="-1.5" y="0">0</text>
<text transform="translate(146.35 142.2) rotate(-90)" x="-3.86" y="0" font-size="4.83">-90</text>
</g>
</g>
<g>
<path fill="#0a0a0a" fill-opacity="0.92" d="M315 87h1v0.5h-1zM316.5 87h2v0.5h-2zM319.5 87h1v0.5h-1zM321.5 87h1v0.5h-1zM323.5 87h1v0.5h-1zM316.5 87.5h1v0.5h-1zM319 87.5h1v0.5h-1zM321.5 87.5h1v0.5h-1zM323 87.5h2.5v0.5h-2.5zM314.5 88h0.5v0.5h-0.5zM316 88h4v0.5h-4zM322.5 88h1.5v0.5h-1.5zM324.5 88h1v0.5h-1zM336.5 88h1v0.5h-1zM348 88h1v0.5h-1zM316 88.5h3v0.5h-3zM322.5 88.5h1.5v0.5h-1.5zM324.5 88.5h1v0.5h-1zM326 88.5h1v0.5h-1zM331 88.5h1v0.5h-1zM336.5 88.5h1v0.5h-1zM339.5 88.5h0.5v0.5h-0.5zM341 88.5h0.5v0.5h-0.5zM342.5 88.5h2v0.5h-2zM315 89h1.5v0.5h-1.5zM317 89h3.5v0.5h-3.5zM321.5 89h0.5v0.5h-0.5zM322.5 89h1v0.5h-1zM324 89h1.5v0.5h-1.5zM326 89h0.5v0.5h-0.5zM331 89h1v0.5h-1zM334.5 89h1v0.5h-1zM337 89h1v0.5h-1zM341 89h0.5v0.5h-0.5zM342.5 89h2v0.5h-2zM345.5 89h1v0.5h-1zM316 89.5h5v0.5h-5zM321.5 89.5h0.5v0.5h-0.5zM322.5 89.5h1v0.5h-1zM324 89.5h1v0.5h-1zM326 89.5h1v0.5h-1zM334.5 89.5h1v0.5h-1zM337 89.5h1v0.5h-1zM342.5 89.5h1v0.5h-1zM345.5 89.5h1v0.5h-1zM316 90h9v0.5h-9zM326 90h1v0.5h-1zM337.5 90h0.5v0.5h-0.5zM340 90h0.5v0.5h-0.5zM342.5 90h1v0.5h-1zM344.5 90h0.5v0.5h-0.5zM316 90.5h6.5v0.5h-6.5zM323 90.5h2v0.5h-2zM331.5 90.5h1v0.5h-1zM336 90.5h0.5v0.5h-0.5zM338 90.5h0.5v0.5h-0.5zM342 90.5h1.5v0.5h-1.5zM344.5 90.5h0.5v0.5h-0.5zM348.5 90.5h1v0.5h-1zM316 91h0.5v0.5h-0.5zM317.5 91h3.5v0.5h-3.5zM321.5 91h2.5v0.5h-2.5zM331 91h0.5v0.5h-0.5zM333 91h0.5v0.5h-0.5zM335.5 91h1v0.5h-1zM339 91h0.5v0.5h-0.5zM341.5 91h1.5v0.5h-1.5zM348.5 91h1v0.5h-1zM316.5 91.5h7.5v0.5h-7.5zM325 91.5h0.5v0.5h-0.5zM334.5 91.5h0.5v0.5h-0.5zM316 92h0.5v0.5h-0.5zM317 92h7.5v0.5h-7.5zM325.5 92h0.5v0.5h-0.5zM328 92h0.5v0.5h-0.5zM333.5 92h0.5v0.5h-0.5zM347.5 92h0.5v0.5h-0.5zM316.5 92.5h2v0.5h-2zM319 92.5h4v0.5h-4zM324 92.5h0.5v0.5h-0.5zM327 92.5h0.5v0.5h-0.5zM342.5 92.5h0.5v0.5h-0.5zM346 92.5h1v0.5h-1zM347.5 92.5h0.5v0.5h-0.5zM316 93h5v0.5h-5zM321.5 93h1.5v0.5h-1.5zM323.5 93h0.5v0.5h-0.5zM324.5 93h0.5v0.5h-0.5zM340 93h0.5v0.5h-0.5zM346 93h1v0.5h-1zM315.5 93.5h1v0.5h-1zM317 93.5h6.5v0.5h-6.5zM338.5 93.5h0.5v0.5h-0.5zM345 93.5h1.5v0.5h-1.5zM314.5 94h0.5v0.5h-0.5zM315.5 94h6.5v0.5h-6.5zM323 94h0.5v0.5h-0.5zM324 94h0.5v0.5h-0.5zM341 94h0.5v0.5h-0.5zM345 94h0.5v0.5h-0.5zM348 94h1v0.5h-1zM315.5 94.5h0.5v0.5h-0.5zM316.5 94.5h6v0.5h-6zM323.5 94.5h0.5v0.5h-0.5zM330 94.5h0.5v0.5h-0.5zM344.5 94.5h1v0.5h-1zM314.5 95h0.5v0.5h-0.5zM316 95h7v0.5h-7zM323.5 95h0.5v0.5h-0.5zM344.5 95h1v0.5h-1zM315 95.5h8v0.5h-8zM314.5 96h1v0.5h-1zM316 96h5.5v0.5h-5.5zM322.5 96h1v0.5h-1zM346.5 96h0.5v0.5h-0.5zM314.5 96.5h0.5v0.5h-0.5zM315.5 96.5h8v0.5h-8zM314.5 97h0.5v0.5h-0.5zM315.5 97h8.5v0.5h-8.5zM326 97h0.5v0.5h-0.5zM332 97h0.5v0.5h-0.5zM339 97h0.5v0.5h-0.5zM346 97h1v0.5h-1zM315 97.5h5.5v0.5h-5.5zM321.5 97.5h1.5v0.5h-1.5zM323.5 97.5h0.5v0.5h-0.5zM324.5 97.5h0.5v0.5h-0.5zM314.5 98h8.5v0.5h-8.5zM323.5 98h0.5v0.5h-0.5zM331.5 98h0.5v0.5h-0.5zM345 98h0.5v0.5h-0.5zM315 98.5h8v0.5h-8zM344 98.5h0.5v0.5h-0.5zM347.5 98.5h1v0.5h-1zM314 99h6v0.5h-6zM320.5 99h0.5v0.5h-0.5zM321.5 99h1.5v0.5h-1.5zM347.5 99h1v0.5h-1zM313.5 99.5h1v0.5h-1zM315 99.5h7v0.5h-7zM322.5 99.5h0.5v0.5h-0.5zM324.5 99.5h0.5v0.5h-0.5zM342.5 99.5h0.5v0.5h-0.5zM343.5 99.5h0.5v0.5h-0.5zM313.5 100h9v0.5h-9zM346 100h0.5v0.5h-0.5zM347.5 100h1v0.5h-1zM314.5 100.5h8.5v0.5h-8.5zM335 100.5h0.5v0.5h-0.5zM347.5 100.5h1v0.5h-1zM313.5 101h0.5v0.5h-0.5zM314.5 101h8.5v0.5h-8.5zM323.5 101h0.5v0.5h-0.5zM325.5 101h0.5v0.5h-0.5zM330 101h0.5v0.5h-0.5zM346 101h0.5v0.5h-0.5zM314.5 101.5h8.5v0.5h-8.5zM323.5 101.5h0.5v0.5h-0.5zM344.5 101.5h0.5v0.5h-0.5zM314.5 102h3v0.5h-3zM318 102h2.5v0.5h-2.5zM321 102h1v0.5h-1zM322.5 102h0.5v0.5h-0.5zM324 102h0.5v0.5h-0.5zM330 102h0.5v0.5h-0.5zM345.5 102h1.5v0.5h-1.5zM314 102.5h5.5v0.5h-5.5zM321 102.5h1v0.5h-1zM323.5 102.5h0.5v0.5h-0.5zM346.5 102.5h0.5v0.5h-0.5zM314 103h9v0.5h-9zM323.5 103h0.5v0.5h-0.5zM334 103h0.5v0.5h-0.5zM345.5 103h0.5v0.5h-0.5zM346.5 103h0.5v0.5h-0.5zM313.5 103.5h9v0.5h-9zM323 103.5h0.5v0.5h-0.5zM331.5 103.5h0.5v0.5h-0.5zM314 104h8.5v0.5h-8.5zM346 104h0.5v0.5h-0.5zM347.5 104h0.5v0.5h-0.5zM313.5 104.5h10v0.5h-10zM347.5 104.5h1v0.5h-1zM313 105h10v0.5h-10zM348 105h0.5v0.5h-0.5zM313 105.5h0.5v0.5h-0.5zM314 105.5h8.5v0.5h-8.5zM333 105.5h0.5v0.5h-0.5zM345 105.5h0.5v0.5h-0.5zM348 105.5h1v0.5h-1zM313 106h9v0.5h-9zM322.5 106h0.5v0.5h-0.5zM348 106h1v0.5h-1zM313 106.5h9.5v0.5h-9.5zM323 106.5h0.5v0.5h-0.5zM324 106.5h0.5v0.5h-0.5zM344 106.5h1v0.5h-1zM348 106.5h1v0.5h-1zM313 107h2v0.5h-2zM315.5 107h2v0.5h-2zM318 107h3.5v0.5h-3.5zM322 107h0.5v0.5h-0.5zM313 107.5h4v0.5h-4zM317.5 107.5h3v0.5h-3zM321 107.5h1.5v0.5h-1.5zM323 107.5h0.5v0.5h-0.5zM324 107.5h0.5v0.5h-0.5zM345 107.5h0.5v0.5h-0.5zM313 108h4v0.5h-4zM317.5 108h2v0.5h-2zM320 108h0.5v0.5h-0.5zM321 108h1v0.5h-1zM323 108h0.5v0.5h-0.5zM340.5 108h0.5v0.5h-0.5zM344 108h1.5v0.5h-1.5zM313 108.5h9.5v0.5h-9.5zM333 108.5h0.5v0.5h-0.5zM336 108.5h0.5v0.5h-0.5zM346.5 108.5h1v0.5h-1zM312 109h0.5v0.5h-0.5zM313.5 109h1v0.5h-1zM315.5 109h3.5v0.5h-3.5zM320.5 109h3v0.5h-3zM331.5 109h0.5v0.5h-0.5zM334 109h0.5v0.5h-0.5zM342 109h0.5v0.5h-0.5zM344.5 109h1v0.5h-1zM346.5 109h1v0.5h-1zM312 109.5h5.5v0.5h-5.5zM318 109.5h1.5v0.5h-1.5zM320 109.5h2v0.5h-2zM322.5 109.5h0.5v0.5h-0.5zM325 109.5h1v0.5h-1zM332.5 109.5h0.5v0.5h-0.5zM336.5 109.5h0.5v0.5h-0.5zM344.5 109.5h1v0.5h-1zM312.5 110h3.5v0.5h-3.5zM316.5 110h1.5v0.5h-1.5zM318.5 110h3v0.5h-3zM322 110h1.5v0.5h-1.5zM324 110h0.5v0.5h-0.5zM325 110h0.5v0.5h-0.5zM337.5 110h0.5v0.5h-0.5zM312 110.5h0.5v0.5h-0.5zM313.5 110.5h2v0.5h-2zM316.5 110.5h1.5v0.5h-1.5zM319 110.5h2.5v0.5h-2.5zM322 110.5h1.5v0.5h-1.5zM324 110.5h1.5v0.5h-1.5z"/>
<path fill="#111111" d="M287 84h0.5v0.5h-0.5zM288 84h0.5v0.5h-0.5zM292.5 84h0.5v0.5h-0.5zM301.5 84h0.5v0.5h-0.5zM308 84h0.5v0.5h-0.5zM288.5 84.5h0.5v0.5h-0.5zM294.5 84.5h0.5v0.5h-0.5zM295.5 84.5h0.5v0.5h-0.5zM297 84.5h0.5v0.5h-0.5zM305.5 84.5h0.5v0.5h-0.5zM287 85h0.5v0.5h-0.5zM288.5 85h0.5v0.5h-0.5zM289.5 85h0.5v0.5h-0.5zM291.5 85h0.5v0.5h-0.5zM293.5 85h0.5v0.5h-0.5zM294.5 85h0.5v0.5h-0.5zM295.5 85h1.5v0.5h-1.5zM298 85h0.5v0.5h-0.5zM299 85h0.5v0.5h-0.5zM301.5 85h2v0.5h-2zM306 85h1v0.5h-1zM307.5 85h0.5v0.5h-0.5zM309 85h0.5v0.5h-0.5zM312 85h0.5v0.5h-0.5zM313 85h1v0.5h-1zM283.5 85.5h0.5v0.5h-0.5zM285.5 85.5h0.5v0.5h-0.5zM286.5 85.5h13.5v0.5h-13.5zM300.5 85.5h1v0.5h-1zM302.5 85.5h2v0.5h-2zM305 85.5h1v0.5h-1zM307.5 85.5h0.5v0.5h-0.5zM308.5 85.5h2.5v0.5h-2.5zM311.5 85.5h2.5v0.5h-2.5zM285.5 86h0.5v0.5h-0.5zM286.5 86h25.5v0.5h-25.5zM312.5 86h1v0.5h-1zM286 86.5h28.5v0.5h-28.5zM286 87h28v0.5h-28zM314.5 87h0.5v0.5h-0.5zM286.5 87.5h28.5v0.5h-28.5zM286 88h0.5v0.5h-0.5zM287 88h27.5v0.5h-27.5zM332 88h0.5v0.5h-0.5zM287.5 88.5h27.5v0.5h-27.5zM315.5 88.5h0.5v0.5h-0.5zM332.5 88.5h0.5v0.5h-0.5zM335.5 88.5h0.5v0.5h-0.5zM339 88.5h0.5v0.5h-0.5zM287.5 89h27.5v0.5h-27.5zM316.5 89h0.5v0.5h-0.5zM332.5 89h1v0.5h-1zM338 89h0.5v0.5h-0.5zM339 89h0.5v0.5h-0.5zM340 89h0.5v0.5h-0.5zM341.5 89h0.5v0.5h-0.5zM286.5 89.5h0.5v0.5h-0.5zM288 89.5h28v0.5h-28zM330 89.5h1v0.5h-1zM336 89.5h1v0.5h-1zM338.5 89.5h1.5v0.5h-1.5zM288 90h28v0.5h-28zM327 90h0.5v0.5h-0.5zM328 90h0.5v0.5h-0.5zM332 90h0.5v0.5h-0.5zM334.5 90h0.5v0.5h-0.5zM335.5 90h2v0.5h-2zM338.5 90h0.5v0.5h-0.5zM339.5 90h0.5v0.5h-0.5zM287.5 90.5h28.5v0.5h-28.5zM325.5 90.5h1.5v0.5h-1.5zM327.5 90.5h0.5v0.5h-0.5zM328.5 90.5h3v0.5h-3zM333 90.5h2v0.5h-2zM335.5 90.5h0.5v0.5h-0.5zM336.5 90.5h1.5v0.5h-1.5zM338.5 90.5h2v0.5h-2zM289 91h27v0.5h-27zM317 91h0.5v0.5h-0.5zM325.5 91h0.5v0.5h-0.5zM327 91h2.5v0.5h-2.5zM330 91h1v0.5h-1zM331.5 91h1.5v0.5h-1.5zM333.5 91h2v0.5h-2zM336.5 91h2.5v0.5h-2.5zM339.5 91h1v0.5h-1zM343 91h0.5v0.5h-0.5zM288.5 91.5h28v0.5h-28zM324 91.5h1v0.5h-1zM325.5 91.5h3.5v0.5h-3.5zM329.5 91.5h4.5v0.5h-4.5zM335 91.5h7v0.5h-7zM343.5 91.5h0.5v0.5h-0.5zM287.5 92h0.5v0.5h-0.5zM290 92h26v0.5h-26zM316.5 92h0.5v0.5h-0.5zM324.5 92h1v0.5h-1zM326 92h2v0.5h-2zM328.5 92h1.5v0.5h-1.5zM330.5 92h3v0.5h-3zM334 92h3v0.5h-3zM337.5 92h4v0.5h-4zM342 92h1v0.5h-1zM344.5 92h0.5v0.5h-0.5zM288.5 92.5h0.5v0.5h-0.5zM289.5 92.5h27v0.5h-27zM323.5 92.5h0.5v0.5h-0.5zM324.5 92.5h2.5v0.5h-2.5zM327.5 92.5h15v0.5h-15zM343 92.5h0.5v0.5h-0.5zM290 93h26v0.5h-26zM323 93h0.5v0.5h-0.5zM324 93h0.5v0.5h-0.5zM325 93h2.5v0.5h-2.5zM328 93h8v0.5h-8zM336.5 93h3.5v0.5h-3.5zM340.5 93h3v0.5h-3zM345.5 93h0.5v0.5h-0.5zM289 93.5h0.5v0.5h-0.5zM290.5 93.5h25v0.5h-25zM316.5 93.5h0.5v0.5h-0.5zM323.5 93.5h15v0.5h-15zM339 93.5h3.5v0.5h-3.5zM344 93.5h0.5v0.5h-0.5zM290.5 94h24v0.5h-24zM315 94h0.5v0.5h-0.5zM322.5 94h0.5v0.5h-0.5zM323.5 94h0.5v0.5h-0.5zM324.5 94h1.5v0.5h-1.5zM326.5 94h14.5v0.5h-14.5zM341.5 94h3.5v0.5h-3.5zM345.5 94h0.5v0.5h-0.5zM290.5 94.5h25v0.5h-25zM316 94.5h0.5v0.5h-0.5zM322.5 94.5h1v0.5h-1zM324 94.5h6v0.5h-6zM330.5 94.5h14v0.5h-14zM345.5 94.5h0.5v0.5h-0.5zM290 95h0.5v0.5h-0.5zM291.5 95h23v0.5h-23zM315 95h1v0.5h-1zM323 95h0.5v0.5h-0.5zM324 95h16.5v0.5h-16.5zM341 95h1.5v0.5h-1.5zM343 95h1v0.5h-1zM345.5 95h0.5v0.5h-0.5zM291 95.5h24v0.5h-24zM323 95.5h1v0.5h-1zM324.5 95.5h1.5v0.5h-1.5zM326.5 95.5h10v0.5h-10zM337.5 95.5h6.5v0.5h-6.5zM344.5 95.5h1.5v0.5h-1.5zM290.5 96h0.5v0.5h-0.5zM292 96h22.5v0.5h-22.5zM315.5 96h0.5v0.5h-0.5zM321.5 96h0.5v0.5h-0.5zM323.5 96h23v0.5h-23zM291.5 96.5h0.5v0.5h-0.5zM292.5 96.5h22v0.5h-22zM315 96.5h0.5v0.5h-0.5zM323.5 96.5h5.5v0.5h-5.5zM329.5 96.5h17.5v0.5h-17.5zM292 97h22.5v0.5h-22.5zM324 97h2v0.5h-2zM326.5 97h5.5v0.5h-5.5zM332.5 97h6.5v0.5h-6.5zM339.5 97h6v0.5h-6zM292 97.5h23v0.5h-23zM323 97.5h0.5v0.5h-0.5zM324 97.5h0.5v0.5h-0.5zM325 97.5h21v0.5h-21zM346.5 97.5h0.5v0.5h-0.5zM292.5 98h22v0.5h-22zM323 98h0.5v0.5h-0.5zM324 98h7.5v0.5h-7.5zM332 98h6v0.5h-6zM338.5 98h6.5v0.5h-6.5zM345.5 98h1v0.5h-1zM347.5 98h0.5v0.5h-0.5zM293 98.5h22v0.5h-22zM323 98.5h0.5v0.5h-0.5zM324 98.5h1.5v0.5h-1.5zM326 98.5h18v0.5h-18zM344.5 98.5h2.5v0.5h-2.5zM292 99h0.5v0.5h-0.5zM293 99h21v0.5h-21zM321 99h0.5v0.5h-0.5zM323 99h22v0.5h-22zM345.5 99h1.5v0.5h-1.5zM292.5 99.5h21v0.5h-21zM314.5 99.5h0.5v0.5h-0.5zM323 99.5h1.5v0.5h-1.5zM325 99.5h17.5v0.5h-17.5zM343 99.5h0.5v0.5h-0.5zM345 99.5h3v0.5h-3zM293.5 100h20v0.5h-20zM323 100h1v0.5h-1zM324.5 100h9.5v0.5h-9.5zM334.5 100h11.5v0.5h-11.5zM294 100.5h20.5v0.5h-20.5zM323 100.5h0.5v0.5h-0.5zM324.5 100.5h1.5v0.5h-1.5zM326.5 100.5h8.5v0.5h-8.5zM335.5 100.5h10.5v0.5h-10.5zM346.5 100.5h1v0.5h-1zM348.5 100.5h0.5v0.5h-0.5zM292.5 101h21v0.5h-21zM314 101h0.5v0.5h-0.5zM323 101h0.5v0.5h-0.5zM324 101h1.5v0.5h-1.5zM326.5 101h3.5v0.5h-3.5zM330.5 101h15.5v0.5h-15.5zM346.5 101h0.5v0.5h-0.5zM293.5 101.5h20.5v0.5h-20.5zM324 101.5h0.5v0.5h-0.5zM325 101.5h4v0.5h-4zM329.5 101.5h15v0.5h-15zM345 101.5h2.5v0.5h-2.5zM294 102h20v0.5h-20zM322 102h0.5v0.5h-0.5zM323.5 102h0.5v0.5h-0.5zM324.5 102h5.5v0.5h-5.5zM330.5 102h15v0.5h-15zM348 102h0.5v0.5h-0.5zM294 102.5h20v0.5h-20zM322 102.5h1v0.5h-1zM324 102.5h20.5v0.5h-20.5zM345 102.5h1.5v0.5h-1.5zM295 103h19v0.5h-19zM324 103h10v0.5h-10zM334.5 103h11v0.5h-11zM346 103h0.5v0.5h-0.5zM294 103.5h19.5v0.5h-19.5zM322.5 103.5h0.5v0.5h-0.5zM323.5 103.5h8v0.5h-8zM332 103.5h13.5v0.5h-13.5zM346 103.5h0.5v0.5h-0.5zM295 104h19v0.5h-19zM322.5 104h1v0.5h-1zM324 104h8.5v0.5h-8.5zM333 104h8.5v0.5h-8.5zM342 104h3.5v0.5h-3.5zM346.5 104h0.5v0.5h-0.5zM295 104.5h18.5v0.5h-18.5zM323.5 104.5h23v0.5h-23zM293.5 105h1v0.5h-1zM295.5 105h17.5v0.5h-17.5zM323.5 105h20v0.5h-20zM344 105h0.5v0.5h-0.5zM345 105h1.5v0.5h-1.5zM347.5 105h0.5v0.5h-0.5zM295 105.5h18v0.5h-18zM313.5 105.5h0.5v0.5h-0.5zM322.5 105.5h9.5v0.5h-9.5zM332.5 105.5h0.5v0.5h-0.5zM333.5 105.5h5.5v0.5h-5.5zM339.5 105.5h5.5v0.5h-5.5zM345.5 105.5h1v0.5h-1zM294.5 106h0.5v0.5h-0.5zM295.5 106h17.5v0.5h-17.5zM323 106h4.5v0.5h-4.5zM328 106h18v0.5h-18zM295 106.5h18v0.5h-18zM322.5 106.5h0.5v0.5h-0.5zM323.5 106.5h0.5v0.5h-0.5zM324.5 106.5h19.5v0.5h-19.5zM345.5 106.5h0.5v0.5h-0.5zM296 107h17v0.5h-17zM321.5 107h0.5v0.5h-0.5zM322.5 107h18v0.5h-18zM341 107h3.5v0.5h-3.5zM345 107h0.5v0.5h-0.5zM294.5 107.5h0.5v0.5h-0.5zM296 107.5h17v0.5h-17zM322.5 107.5h0.5v0.5h-0.5zM323.5 107.5h0.5v0.5h-0.5zM324.5 107.5h5.5v0.5h-5.5zM330.5 107.5h3.5v0.5h-3.5zM334.5 107.5h8v0.5h-8zM343 107.5h0.5v0.5h-0.5zM344 107.5h1v0.5h-1zM345.5 107.5h1v0.5h-1zM295.5 108h0.5v0.5h-0.5zM296.5 108h16.5v0.5h-16.5zM322 108h0.5v0.5h-0.5zM323.5 108h6v0.5h-6zM330 108h7v0.5h-7zM337.5 108h3v0.5h-3zM341 108h3v0.5h-3zM296 108.5h16.5v0.5h-16.5zM322.5 108.5h0.5v0.5h-0.5zM324.5 108.5h6v0.5h-6zM331 108.5h2v0.5h-2zM333.5 108.5h2.5v0.5h-2.5zM336.5 108.5h7v0.5h-7zM296 109h0.5v0.5h-0.5zM297 109h15v0.5h-15zM323.5 109h0.5v0.5h-0.5zM324.5 109h1v0.5h-1zM326 109h2v0.5h-2zM328.5 109h0.5v0.5h-0.5zM329.5 109h2v0.5h-2zM332 109h1.5v0.5h-1.5zM334.5 109h1v0.5h-1zM336 109h2.5v0.5h-2.5zM339 109h3v0.5h-3zM342.5 109h0.5v0.5h-0.5zM296.5 109.5h15.5v0.5h-15.5zM322 109.5h0.5v0.5h-0.5zM324.5 109.5h0.5v0.5h-0.5zM326 109.5h2v0.5h-2zM329 109.5h0.5v0.5h-0.5zM330 109.5h1.5v0.5h-1.5zM333 109.5h1v0.5h-1zM334.5 109.5h0.5v0.5h-0.5zM335.5 109.5h1v0.5h-1zM337 109.5h1v0.5h-1zM338.5 109.5h0.5v0.5h-0.5zM339.5 109.5h1v0.5h-1zM341 109.5h0.5v0.5h-0.5zM343 109.5h1v0.5h-1zM297 110h15.5v0.5h-15.5zM323.5 110h0.5v0.5h-0.5zM324.5 110h0.5v0.5h-0.5zM325.5 110h1v0.5h-1zM327.5 110h0.5v0.5h-0.5zM331.5 110h1v0.5h-1zM333.5 110h1v0.5h-1zM338.5 110h0.5v0.5h-0.5zM339.5 110h0.5v0.5h-0.5zM341 110h1v0.5h-1zM342.5 110h0.5v0.5h-0.5zM296.5 110.5h1v0.5h-1zM298 110.5h13v0.5h-13zM311.5 110.5h0.5v0.5h-0.5zM321.5 110.5h0.5v0.5h-0.5zM327 110.5h1v0.5h-1zM330 110.5h0.5v0.5h-0.5zM331.5 110.5h0.5v0.5h-0.5zM333 110.5h1.5v0.5h-1.5zM337.5 110.5h0.5v0.5h-0.5zM340.5 110.5h0.5v0.5h-0.5zM297 111h1v0.5h-1zM299 111h0.5v0.5h-0.5zM300.5 111h2.5v0.5h-2.5zM303.5 111h1v0.5h-1zM305 111h0.5v0.5h-0.5zM306 111h0.5v0.5h-0.5zM307 111h1.5v0.5h-1.5zM310 111h1v0.5h-1zM311.5 111h0.5v0.5h-0.5zM313 111h0.5v0.5h-0.5zM333 111h0.5v0.5h-0.5zM336 111h0.5v0.5h-0.5zM298.5 111.5h2v0.5h-2zM303.5 111.5h1.5v0.5h-1.5zM308 111.5h0.5v0.5h-0.5zM332.5 111.5h0.5v0.5h-0.5zM335 111.5h0.5v0.5h-0.5zM337.5 111.5h0.5v0.5h-0.5zM342 111.5h0.5v0.5h-0.5zM302.5 112h0.5v0.5h-0.5zM311.5 112h0.5v0.5h-0.5zM331 112h0.5v0.5h-0.5zM308 112.5h0.5v0.5h-0.5z"/>
<path stroke="#3a3a3a" stroke-width="1.25" fill="none" d="M279.5 56.8H382.5V143.2H279.5ZM323.2 56.8V143.2M279.5 111.8H382.5"/>
<path stroke="#1c1c1c" stroke-width="1.2" fill="none" d="M297.5 143.2v5.2M323.5 143.2v5.2M348.8 143.2v5.2M373.3 143.2v5.2M331.12 143.2v3M335.57 143.2v3M338.73 143.2v3M341.18 143.2v3M343.19 143.2v3M344.88 143.2v3M346.35 143.2v3M347.64 143.2v3M356.42 143.2v3M360.87 143.2v3M364.03 143.2v3M366.48 143.2v3M368.49 143.2v3M370.18 143.2v3M371.65 143.2v3M372.94 143.2v3M380.92 143.2v3M280.5 143.2v3.6M282.5 143.2v3M284.5 143.2v3M286.5 143.2v3M288.5 143.2v3.6M290.5 143.2v3M292.5 143.2v3M294.5 143.2v3M296.5 143.2v3.6M298.5 143.2v3M300.5 143.2v3M302.5 143.2v3M304.5 143.2v3.6M306.5 143.2v3M308.5 143.2v3M310.5 143.2v3M312.5 143.2v3.6M314.5 143.2v3M316.5 143.2v3M318.5 143.2v3M320.5 143.2v3.6M322.5 143.2v3M295.3 143.2v5.2M299.9 143.2v4.4"/>
<path stroke="#1c1c1c" stroke-width="1.0" fill="none" d="M279.5 65.27h-4.2M279.5 84.36h-4.2M279.5 104.58h-4.2M279.5 124.71h-4.2M279.5 59.52h-2.4M279.5 78.61h-2.4M279.5 75.25h-2.4M279.5 72.87h-2.4M279.5 71.02h-2.4M279.5 69.5h-2.4M279.5 68.22h-2.4M279.5 67.12h-2.4M279.5 66.14h-2.4M279.5 98.83h-2.4M279.5 95.47h-2.4M279.5 93.08h-2.4M279.5 91.23h-2.4M279.5 89.72h-2.4M279.5 88.44h-2.4M279.5 87.34h-2.4M279.5 86.36h-2.4M279.5 118.96h-2.4M279.5 115.6h-2.4M279.5 113.21h-2.4M279.5 111.36h-2.4M279.5 109.85h-2.4M279.5 108.57h-2.4M279.5 107.47h-2.4M279.5 106.49h-2.4M279.5 124.71h-2.4M279.5 126.21h-2.4M279.5 127.71h-2.4M279.5 129.21h-2.4M279.5 130.71h-2.4M279.5 132.21h-2.4M279.5 133.71h-2.4M279.5 135.21h-2.4M279.5 136.71h-2.4M279.5 138.21h-2.4M279.5 139.71h-2.4M279.5 141.21h-2.4M279.5 142.71h-2.4M279.5 134.04h-4.2"/>
<text x="358.8" y="142.2" font-family="'Liberation Serif', serif" font-size="6.6" font-weight="bold" fill="#222">Q4-1</text>
<rect x="338.8" y="120" width="39.5" height="20.3" fill="#d3d3d3"/>
<text x="357.85" y="134.45" font-size="11.3" fill="#666666" text-anchor="middle">5.2%</text>
<g font-family="'Liberation Serif', serif" font-size="6.87" font-weight="bold" fill="#262626">
<text x="291.3" y="76.3">Q1-1</text>
<text x="350" y="69.5">Q2-1</text>
<text x="302" y="132.5">Q3-1</text>
</g>
<g font-size="5.47" font-weight="bold" fill="#141414" stroke="#141414" stroke-width="0.2">
<text x="297.5" y="155.7" text-anchor="middle">0</text>
<text x="319.64" y="155.7">10<tspan font-size="4.29" dy="-2.9">3</tspan></text>
<text x="344.94" y="155.7">10<tspan font-size="4.29" dy="-2.9">4</tspan></text>
<text x="369.44" y="155.7">10<tspan font-size="4.29" dy="-2.9">5</tspan></text>
<text x="279" y="159.3" text-anchor="middle" font-size="5.15">-640</text>
<text x="271.67" y="150.5" font-size="6.54" stroke-width="0.45">M</text>
<text x="322" y="162.6" font-size="5.58" textLength="17.6" lengthAdjust="spacingAndGlyphs">FITC-A</text>
<text transform="translate(274.56 65.27) rotate(-90)" x="-3" y="0">10<tspan font-size="4.29" dy="-4.08">5</tspan></text>
<text transform="translate(274.56 84.36) rotate(-90)" x="-3" y="0">10<tspan font-size="4.29" dy="-4.08">4</tspan></text>
<text transform="translate(274.56 104.58) rotate(-90)" x="-3" y="0">10<tspan font-size="4.29" dy="-4.08">3</tspan></text>
<text transform="translate(274.56 124.71) rotate(-90)" x="-3" y="0">10<tspan font-size="4.29" dy="-4.08">2</tspan></text>
<text transform="translate(274.56 134.04) rotate(-90)" x="-1.5" y="0">0</text>
<text transform="translate(268.45 141.6) rotate(-90)" x="-3.86" y="0" font-size="4.83">-90</text>
</g>
</g>
<g>
<path fill="#0a0a0a" fill-opacity="0.92" d="M418.5 87h1v0.5h-1zM418.5 87.5h1v0.5h-1zM448.5 88h1v0.5h-1zM451 88h3.5v0.5h-3.5zM456 88h1.5v0.5h-1.5zM461 88h1.5v0.5h-1.5zM475.5 88h1v0.5h-1zM444.5 88.5h0.5v0.5h-0.5zM448.5 88.5h1v0.5h-1zM453 88.5h1v0.5h-1zM455 88.5h2v0.5h-2zM458 88.5h1v0.5h-1zM461 88.5h1.5v0.5h-1.5zM463 88.5h1.5v0.5h-1.5zM465.5 88.5h1v0.5h-1zM419 89h1v0.5h-1zM443.5 89h1v0.5h-1zM445 89h0.5v0.5h-0.5zM446 89h0.5v0.5h-0.5zM449 89h0.5v0.5h-0.5zM452 89h1v0.5h-1zM455 89h1v0.5h-1zM458.5 89h0.5v0.5h-0.5zM459.5 89h5v0.5h-5zM465.5 89h1v0.5h-1zM419.5 89.5h0.5v0.5h-0.5zM444 89.5h0.5v0.5h-0.5zM451 89.5h1.5v0.5h-1.5zM454.5 89.5h0.5v0.5h-0.5zM456.5 89.5h1v0.5h-1zM458 89.5h0.5v0.5h-0.5zM459 89.5h0.5v0.5h-0.5zM461 89.5h2v0.5h-2zM464.5 89.5h1.5v0.5h-1.5zM467.5 89.5h1v0.5h-1zM418 90h1v0.5h-1zM452 90h0.5v0.5h-0.5zM454.5 90h0.5v0.5h-0.5zM455.5 90h1v0.5h-1zM457.5 90h1v0.5h-1zM459 90h0.5v0.5h-0.5zM460.5 90h1v0.5h-1zM466.5 90h0.5v0.5h-0.5zM467.5 90h1v0.5h-1zM418 90.5h1v0.5h-1zM452.5 90.5h1.5v0.5h-1.5zM457.5 90.5h0.5v0.5h-0.5zM459.5 90.5h0.5v0.5h-0.5zM462.5 90.5h0.5v0.5h-0.5zM463.5 90.5h0.5v0.5h-0.5zM464.5 90.5h1.5v0.5h-1.5zM466.5 90.5h2v0.5h-2zM416.5 91h1v0.5h-1zM452.5 91h1.5v0.5h-1.5zM457.5 91h0.5v0.5h-0.5zM458.5 91h0.5v0.5h-0.5zM463.5 91h2v0.5h-2zM466.5 91h1v0.5h-1zM473 91h0.5v0.5h-0.5zM416 91.5h1.5v0.5h-1.5zM454 91.5h0.5v0.5h-0.5zM458.5 91.5h0.5v0.5h-0.5zM461.5 91.5h0.5v0.5h-0.5zM465 91.5h1v0.5h-1zM468.5 91.5h1v0.5h-1zM473 91.5h0.5v0.5h-0.5zM416 92h0.5v0.5h-0.5zM454.5 92h0.5v0.5h-0.5zM465 92h1v0.5h-1zM468 92h1.5v0.5h-1.5zM464 92.5h0.5v0.5h-0.5zM465.5 92.5h0.5v0.5h-0.5zM468 92.5h1v0.5h-1zM473.5 92.5h1v0.5h-1zM416 93h1v0.5h-1zM466.5 93h1.5v0.5h-1.5zM469 93h1v0.5h-1zM474 93h1v0.5h-1zM465 93.5h0.5v0.5h-0.5zM466 93.5h4v0.5h-4zM473 93.5h2v0.5h-2zM417.5 94h1v0.5h-1zM465.5 94h2v0.5h-2zM473 94h2v0.5h-2zM464 94.5h1v0.5h-1zM465.5 94.5h2v0.5h-2zM473 94.5h2v0.5h-2zM475.5 94.5h1v0.5h-1zM417 95h0.5v0.5h-0.5zM462.5 95h0.5v0.5h-0.5zM464 95h1v0.5h-1zM470.5 95h1.5v0.5h-1.5zM417 95.5h0.5v0.5h-0.5zM463 95.5h0.5v0.5h-0.5zM464 95.5h0.5v0.5h-0.5zM465.5 95.5h1.5v0.5h-1.5zM470.5 95.5h1.5v0.5h-1.5zM473 95.5h0.5v0.5h-0.5zM474.5 95.5h0.5v0.5h-0.5zM417 96h1.5v0.5h-1.5zM461.5 96h0.5v0.5h-0.5zM462.5 96h0.5v0.5h-0.5zM464 96h0.5v0.5h-0.5zM465 96h0.5v0.5h-0.5zM466 96h1v0.5h-1zM469.5 96h1v0.5h-1zM473 96h0.5v0.5h-0.5zM474.5 96h0.5v0.5h-0.5zM418.5 96.5h1v0.5h-1zM461 96.5h0.5v0.5h-0.5zM463 96.5h0.5v0.5h-0.5zM465 96.5h0.5v0.5h-0.5zM466.5 96.5h0.5v0.5h-0.5zM467.5 96.5h1v0.5h-1zM469 96.5h0.5v0.5h-0.5zM470 96.5h0.5v0.5h-0.5zM471 96.5h2v0.5h-2zM418.5 97h1v0.5h-1zM461.5 97h1.5v0.5h-1.5zM463.5 97h0.5v0.5h-0.5zM464.5 97h2v0.5h-2zM469 97h0.5v0.5h-0.5zM471 97h1v0.5h-1zM419 97.5h0.5v0.5h-0.5zM456.5 97.5h0.5v0.5h-0.5zM457.5 97.5h0.5v0.5h-0.5zM460.5 97.5h6v0.5h-6zM467 97.5h1v0.5h-1zM469.5 97.5h1v0.5h-1zM456.5 98h0.5v0.5h-0.5zM457.5 98h1v0.5h-1zM459 98h0.5v0.5h-0.5zM460 98h2v0.5h-2zM462.5 98h1v0.5h-1zM464 98h2v0.5h-2zM466.5 98h0.5v0.5h-0.5zM468.5 98h2v0.5h-2zM454 98.5h0.5v0.5h-0.5zM458.5 98.5h1v0.5h-1zM460 98.5h6v0.5h-6zM466.5 98.5h0.5v0.5h-0.5zM468 98.5h1.5v0.5h-1.5zM472.5 98.5h1.5v0.5h-1.5zM417.5 99h0.5v0.5h-0.5zM454.5 99h0.5v0.5h-0.5zM455.5 99h0.5v0.5h-0.5zM457 99h1v0.5h-1zM458.5 99h1v0.5h-1zM461 99h1.5v0.5h-1.5zM463 99h3.5v0.5h-3.5zM468 99h1v0.5h-1zM470 99h0.5v0.5h-0.5zM471.5 99h2v0.5h-2zM474 99h1v0.5h-1zM417.5 99.5h0.5v0.5h-0.5zM450.5 99.5h0.5v0.5h-0.5zM451.5 99.5h1.5v0.5h-1.5zM453.5 99.5h0.5v0.5h-0.5zM454.5 99.5h6.5v0.5h-6.5zM461.5 99.5h1v0.5h-1zM463 99.5h0.5v0.5h-0.5zM464 99.5h2.5v0.5h-2.5zM467 99.5h1v0.5h-1zM469 99.5h0.5v0.5h-0.5zM470 99.5h1.5v0.5h-1.5zM472.5 99.5h1v0.5h-1zM474 99.5h1v0.5h-1zM475.5 99.5h1v0.5h-1zM451 100h2.5v0.5h-2.5zM455 100h3v0.5h-3zM459 100h0.5v0.5h-0.5zM460 100h10v0.5h-10zM470.5 100h1v0.5h-1zM475.5 100h1v0.5h-1zM416.5 100.5h1.5v0.5h-1.5zM449 100.5h0.5v0.5h-0.5zM451.5 100.5h2v0.5h-2zM455 100.5h1.5v0.5h-1.5zM457 100.5h1.5v0.5h-1.5zM459 100.5h7v0.5h-7zM467.5 100.5h1.5v0.5h-1.5zM470 100.5h0.5v0.5h-0.5zM473 100.5h1v0.5h-1zM417.5 101h0.5v0.5h-0.5zM445.5 101h0.5v0.5h-0.5zM448 101h0.5v0.5h-0.5zM450 101h4v0.5h-4zM454.5 101h0.5v0.5h-0.5zM455.5 101h2v0.5h-2zM458 101h4.5v0.5h-4.5zM464 101h2v0.5h-2zM466.5 101h2v0.5h-2zM470 101h0.5v0.5h-0.5zM473 101h1v0.5h-1zM447.5 101.5h0.5v0.5h-0.5zM448.5 101.5h1.5v0.5h-1.5zM450.5 101.5h2v0.5h-2zM453 101.5h2v0.5h-2zM455.5 101.5h7v0.5h-7zM463.5 101.5h4v0.5h-4zM468 101.5h0.5v0.5h-0.5zM469 101.5h1v0.5h-1zM472 101.5h1v0.5h-1zM475 101.5h1v0.5h-1zM416 102h2v0.5h-2zM445.5 102h0.5v0.5h-0.5zM448.5 102h1v0.5h-1zM450 102h1.5v0.5h-1.5zM452 102h2.5v0.5h-2.5zM455 102h0.5v0.5h-0.5zM457 102h5.5v0.5h-5.5zM463.5 102h3v0.5h-3zM468 102h2v0.5h-2zM475 102h1v0.5h-1zM416 102.5h2v0.5h-2zM418.5 102.5h1v0.5h-1zM447 102.5h1v0.5h-1zM449.5 102.5h2v0.5h-2zM454.5 102.5h1v0.5h-1zM457 102.5h2v0.5h-2zM459.5 102.5h1.5v0.5h-1.5zM462 102.5h0.5v0.5h-0.5zM463.5 102.5h1.5v0.5h-1.5zM466.5 102.5h4v0.5h-4zM475 102.5h1v0.5h-1zM415.5 103h0.5v0.5h-0.5zM418.5 103h1.5v0.5h-1.5zM442.5 103h0.5v0.5h-0.5zM447 103h0.5v0.5h-0.5zM448.5 103h3v0.5h-3zM453.5 103h2v0.5h-2zM457 103h1v0.5h-1zM458.5 103h1v0.5h-1zM460 103h3v0.5h-3zM464 103h0.5v0.5h-0.5zM466 103h2v0.5h-2zM472 103h1.5v0.5h-1.5zM415.5 103.5h0.5v0.5h-0.5zM419 103.5h1v0.5h-1zM443.5 103.5h0.5v0.5h-0.5zM445.5 103.5h0.5v0.5h-0.5zM447 103.5h0.5v0.5h-0.5zM449 103.5h2v0.5h-2zM451.5 103.5h1v0.5h-1zM453 103.5h2.5v0.5h-2.5zM456 103.5h2v0.5h-2zM460.5 103.5h2v0.5h-2zM464 103.5h0.5v0.5h-0.5zM466 103.5h1.5v0.5h-1.5zM469 103.5h1v0.5h-1zM472 103.5h0.5v0.5h-0.5zM419.5 104h1v0.5h-1zM443.5 104h0.5v0.5h-0.5zM445 104h1v0.5h-1zM446.5 104h2.5v0.5h-2.5zM450 104h9.5v0.5h-9.5zM461 104h4.5v0.5h-4.5zM466 104h1v0.5h-1zM469 104h1.5v0.5h-1.5zM472.5 104h1v0.5h-1zM418 104.5h0.5v0.5h-0.5zM419.5 104.5h1v0.5h-1zM445 104.5h5v0.5h-5zM453.5 104.5h4.5v0.5h-4.5zM458.5 104.5h1.5v0.5h-1.5zM462 104.5h2v0.5h-2zM464.5 104.5h1v0.5h-1zM466 104.5h1v0.5h-1zM469.5 104.5h1.5v0.5h-1.5zM472.5 104.5h1v0.5h-1zM418 105h0.5v0.5h-0.5zM419 105h1v0.5h-1zM441.5 105h0.5v0.5h-0.5zM444 105h5v0.5h-5zM450.5 105h1.5v0.5h-1.5zM452.5 105h0.5v0.5h-0.5zM455 105h0.5v0.5h-0.5zM456.5 105h0.5v0.5h-0.5zM458 105h1v0.5h-1zM459.5 105h0.5v0.5h-0.5zM461 105h1v0.5h-1zM462.5 105h2v0.5h-2zM465.5 105h0.5v0.5h-0.5zM467 105h1v0.5h-1zM469.5 105h0.5v0.5h-0.5zM419 105.5h1v0.5h-1zM444 105.5h1v0.5h-1zM446.5 105.5h3v0.5h-3zM450.5 105.5h2.5v0.5h-2.5zM454 105.5h2v0.5h-2zM456.5 105.5h0.5v0.5h-0.5zM459 105.5h3v0.5h-3zM462.5 105.5h3.5v0.5h-3.5zM467 105.5h1.5v0.5h-1.5zM469.5 105.5h1v0.5h-1zM418.5 106h1v0.5h-1zM441.5 106h2v0.5h-2zM445.5 106h2.5v0.5h-2.5zM449 106h2.5v0.5h-2.5zM452.5 106h0.5v0.5h-0.5zM454 106h1v0.5h-1zM456 106h1.5v0.5h-1.5zM459 106h3.5v0.5h-3.5zM463 106h2.5v0.5h-2.5zM466.5 106h2v0.5h-2zM469 106h2.5v0.5h-2.5zM472.5 106h1v0.5h-1zM418.5 106.5h1v0.5h-1zM442.5 106.5h0.5v0.5h-0.5zM443.5 106.5h3v0.5h-3zM447.5 106.5h1.5v0.5h-1.5zM449.5 106.5h4v0.5h-4zM454.5 106.5h0.5v0.5h-0.5zM456 106.5h4v0.5h-4zM460.5 106.5h2v0.5h-2zM464.5 106.5h1v0.5h-1zM466 106.5h1v0.5h-1zM469 106.5h1v0.5h-1zM470.5 106.5h1v0.5h-1zM473.5 106.5h0.5v0.5h-0.5zM417 107h1v0.5h-1zM420 107h0.5v0.5h-0.5zM441 107h0.5v0.5h-0.5zM442.5 107h1v0.5h-1zM444 107h1.5v0.5h-1.5zM446 107h4.5v0.5h-4.5zM451.5 107h2v0.5h-2zM454.5 107h0.5v0.5h-0.5zM458 107h2v0.5h-2zM461 107h1v0.5h-1zM462.5 107h0.5v0.5h-0.5zM463.5 107h2v0.5h-2zM469.5 107h1v0.5h-1zM471 107h0.5v0.5h-0.5zM472.5 107h1.5v0.5h-1.5zM417 107.5h1v0.5h-1zM420 107.5h0.5v0.5h-0.5zM442.5 107.5h2v0.5h-2zM446 107.5h2.5v0.5h-2.5zM451.5 107.5h0.5v0.5h-0.5zM452.5 107.5h1v0.5h-1zM454 107.5h2.5v0.5h-2.5zM457 107.5h1v0.5h-1zM459 107.5h0.5v0.5h-0.5zM462.5 107.5h2v0.5h-2zM466.5 107.5h1.5v0.5h-1.5zM471 107.5h0.5v0.5h-0.5zM442.5 108h2v0.5h-2zM445 108h4.5v0.5h-4.5zM450 108h1v0.5h-1zM452.5 108h1v0.5h-1zM454.5 108h5v0.5h-5zM465 108h0.5v0.5h-0.5zM466.5 108h1.5v0.5h-1.5zM470.5 108h0.5v0.5h-0.5zM418.5 108.5h1v0.5h-1zM440 108.5h0.5v0.5h-0.5zM443.5 108.5h1v0.5h-1zM446.5 108.5h1v0.5h-1zM448 108.5h0.5v0.5h-0.5zM451 108.5h1v0.5h-1zM452.5 108.5h1v0.5h-1zM454.5 108.5h1v0.5h-1zM456 108.5h4v0.5h-4zM460.5 108.5h1v0.5h-1zM463.5 108.5h1v0.5h-1zM465 108.5h0.5v0.5h-0.5zM467 108.5h0.5v0.5h-0.5zM470.5 108.5h0.5v0.5h-0.5zM442 109h0.5v0.5h-0.5zM446.5 109h2v0.5h-2zM450 109h2v0.5h-2zM452.5 109h1v0.5h-1zM454 109h6v0.5h-6zM461 109h0.5v0.5h-0.5zM462 109h0.5v0.5h-0.5zM464 109h1v0.5h-1zM465.5 109h1v0.5h-1zM467 109h1.5v0.5h-1.5zM440.5 109.5h1v0.5h-1zM442 109.5h0.5v0.5h-0.5zM443.5 109.5h1v0.5h-1zM447 109.5h1.5v0.5h-1.5zM450 109.5h1v0.5h-1zM452 109.5h1.5v0.5h-1.5zM454 109.5h2.5v0.5h-2.5zM457.5 109.5h2.5v0.5h-2.5zM461 109.5h0.5v0.5h-0.5zM462 109.5h3v0.5h-3zM465.5 109.5h3v0.5h-3zM440.5 110h1v0.5h-1zM443.5 110h1v0.5h-1zM445 110h1v0.5h-1zM448.5 110h0.5v0.5h-0.5zM450 110h2v0.5h-2zM452.5 110h1v0.5h-1zM456 110h0.5v0.5h-0.5zM458.5 110h1.5v0.5h-1.5zM462.5 110h2.5v0.5h-2.5zM465.5 110h2v0.5h-2zM439.5 110.5h0.5v0.5h-0.5zM445 110.5h1v0.5h-1zM448 110.5h1v0.5h-1zM450 110.5h0.5v0.5h-0.5zM451 110.5h2.5v0.5h-2.5zM456 110.5h1.5v0.5h-1.5zM459 110.5h1v0.5h-1zM464.5 110.5h0.5v0.5h-0.5zM465.5 110.5h1v0.5h-1zM444 111h0.5v0.5h-0.5zM446 111h1v0.5h-1zM448 111h1v0.5h-1zM449.5 111h4v0.5h-4zM455.5 111h3v0.5h-3zM459 111h1v0.5h-1zM463 111h1v0.5h-1zM444 111.5h0.5v0.5h-0.5zM446 111.5h1v0.5h-1zM449.5 111.5h0.5v0.5h-0.5zM450.5 111.5h1v0.5h-1zM452 111.5h2.5v0.5h-2.5zM456.5 111.5h2.5v0.5h-2.5zM460 111.5h1v0.5h-1zM462 111.5h0.5v0.5h-0.5zM463 111.5h1v0.5h-1zM468 111.5h1v0.5h-1zM421 112h1v0.5h-1zM441.5 112h0.5v0.5h-0.5zM445.5 112h1.5v0.5h-1.5zM449 112h1.5v0.5h-1.5zM453 112h1.5v0.5h-1.5zM462 112h0.5v0.5h-0.5zM463 112h1v0.5h-1zM465 112h1v0.5h-1zM470 112h1v0.5h-1zM441.5 112.5h0.5v0.5h-0.5zM445.5 112.5h0.5v0.5h-0.5zM449.5 112.5h1v0.5h-1zM463 112.5h1v0.5h-1zM465 112.5h1v0.5h-1zM470 112.5h1v0.5h-1z"/>
<path fill="#111111" d="M440 87.5h0.5v0.5h-0.5zM449.5 87.5h0.5v0.5h-0.5zM424 88h0.5v0.5h-0.5zM425.5 88h0.5v0.5h-0.5zM427.5 88h0.5v0.5h-0.5zM431.5 88h0.5v0.5h-0.5zM432.5 88h1v0.5h-1zM435 88h1v0.5h-1zM439.5 88h0.5v0.5h-0.5zM444.5 88h1v0.5h-1zM421.5 88.5h1v0.5h-1zM423.5 88.5h0.5v0.5h-0.5zM425 88.5h0.5v0.5h-0.5zM428 88.5h0.5v0.5h-0.5zM433 88.5h0.5v0.5h-0.5zM437.5 88.5h1v0.5h-1zM439.5 88.5h1v0.5h-1zM442 88.5h0.5v0.5h-0.5zM443 88.5h0.5v0.5h-0.5zM445 88.5h1.5v0.5h-1.5zM448 88.5h0.5v0.5h-0.5zM421 89h0.5v0.5h-0.5zM422 89h0.5v0.5h-0.5zM423 89h1.5v0.5h-1.5zM425 89h1v0.5h-1zM426.5 89h0.5v0.5h-0.5zM427.5 89h1v0.5h-1zM429 89h1.5v0.5h-1.5zM431 89h0.5v0.5h-0.5zM432 89h2.5v0.5h-2.5zM435 89h2v0.5h-2zM438 89h3v0.5h-3zM441.5 89h1.5v0.5h-1.5zM444.5 89h0.5v0.5h-0.5zM445.5 89h0.5v0.5h-0.5zM446.5 89h1v0.5h-1zM448 89h1v0.5h-1zM449.5 89h0.5v0.5h-0.5zM458 89h0.5v0.5h-0.5zM419 89.5h0.5v0.5h-0.5zM420 89.5h0.5v0.5h-0.5zM421 89.5h23v0.5h-23zM444.5 89.5h5v0.5h-5zM450 89.5h0.5v0.5h-0.5zM452.5 89.5h0.5v0.5h-0.5zM460.5 89.5h0.5v0.5h-0.5zM419.5 90h0.5v0.5h-0.5zM420.5 90h30v0.5h-30zM451 90h1v0.5h-1zM452.5 90h1v0.5h-1zM455 90h0.5v0.5h-0.5zM458.5 90h0.5v0.5h-0.5zM464 90h0.5v0.5h-0.5zM421 90.5h31.5v0.5h-31.5zM454 90.5h3.5v0.5h-3.5zM458 90.5h1.5v0.5h-1.5zM460 90.5h1v0.5h-1zM461.5 90.5h1v0.5h-1zM464 90.5h0.5v0.5h-0.5zM420 91h32.5v0.5h-32.5zM454 91h1.5v0.5h-1.5zM456 91h1.5v0.5h-1.5zM458 91h0.5v0.5h-0.5zM459 91h2v0.5h-2zM462.5 91h1v0.5h-1zM419 91.5h35v0.5h-35zM454.5 91.5h2.5v0.5h-2.5zM457.5 91.5h1v0.5h-1zM459.5 91.5h1.5v0.5h-1.5zM462 91.5h1v0.5h-1zM464.5 91.5h0.5v0.5h-0.5zM420 92h34.5v0.5h-34.5zM455 92h3v0.5h-3zM458.5 92h5.5v0.5h-5.5zM419.5 92.5h0.5v0.5h-0.5zM420.5 92.5h41.5v0.5h-41.5zM462.5 92.5h1.5v0.5h-1.5zM465 92.5h0.5v0.5h-0.5zM466 92.5h0.5v0.5h-0.5zM419 93h47v0.5h-47zM419 93.5h0.5v0.5h-0.5zM420 93.5h45v0.5h-45zM418.5 94h0.5v0.5h-0.5zM419.5 94h46v0.5h-46zM419.5 94.5h44v0.5h-44zM465 94.5h0.5v0.5h-0.5zM418 95h1v0.5h-1zM419.5 95h43v0.5h-43zM463 95h1v0.5h-1zM466 95h0.5v0.5h-0.5zM419.5 95.5h43.5v0.5h-43.5zM463.5 95.5h0.5v0.5h-0.5zM419 96h42.5v0.5h-42.5zM462 96h0.5v0.5h-0.5zM463 96h1v0.5h-1zM464.5 96h0.5v0.5h-0.5zM465.5 96h0.5v0.5h-0.5zM419.5 96.5h41.5v0.5h-41.5zM461.5 96.5h1.5v0.5h-1.5zM463.5 96.5h1.5v0.5h-1.5zM419.5 97h42v0.5h-42zM463 97h0.5v0.5h-0.5zM419.5 97.5h37v0.5h-37zM457 97.5h0.5v0.5h-0.5zM458 97.5h2.5v0.5h-2.5zM420 98h36.5v0.5h-36.5zM457 98h0.5v0.5h-0.5zM458.5 98h0.5v0.5h-0.5zM459.5 98h0.5v0.5h-0.5zM462 98h0.5v0.5h-0.5zM463.5 98h0.5v0.5h-0.5zM419 98.5h0.5v0.5h-0.5zM420.5 98.5h33.5v0.5h-33.5zM454.5 98.5h0.5v0.5h-0.5zM455.5 98.5h3v0.5h-3zM459.5 98.5h0.5v0.5h-0.5zM420 99h34.5v0.5h-34.5zM455 99h0.5v0.5h-0.5zM456 99h1v0.5h-1zM458 99h0.5v0.5h-0.5zM459.5 99h0.5v0.5h-0.5zM460.5 99h0.5v0.5h-0.5zM421 99.5h29.5v0.5h-29.5zM451 99.5h0.5v0.5h-0.5zM453 99.5h0.5v0.5h-0.5zM454 99.5h0.5v0.5h-0.5zM461 99.5h0.5v0.5h-0.5zM419.5 100h0.5v0.5h-0.5zM420.5 100h30v0.5h-30zM454 100h1v0.5h-1zM458 100h0.5v0.5h-0.5zM420 100.5h0.5v0.5h-0.5zM421 100.5h28v0.5h-28zM449.5 100.5h2v0.5h-2zM453.5 100.5h0.5v0.5h-0.5zM420.5 101h24v0.5h-24zM445 101h0.5v0.5h-0.5zM446 101h2v0.5h-2zM448.5 101h1.5v0.5h-1.5zM454 101h0.5v0.5h-0.5zM419 101.5h0.5v0.5h-0.5zM420.5 101.5h27v0.5h-27zM448 101.5h0.5v0.5h-0.5zM450 101.5h0.5v0.5h-0.5zM420.5 102h23.5v0.5h-23.5zM444.5 102h1v0.5h-1zM446 102h1v0.5h-1zM447.5 102h1v0.5h-1zM449.5 102h0.5v0.5h-0.5zM421.5 102.5h24.5v0.5h-24.5zM446.5 102.5h0.5v0.5h-0.5zM449 102.5h0.5v0.5h-0.5zM420 103h0.5v0.5h-0.5zM421 103h21.5v0.5h-21.5zM443 103h1v0.5h-1zM444.5 103h2v0.5h-2zM447.5 103h0.5v0.5h-0.5zM422 103.5h20.5v0.5h-20.5zM444.5 103.5h1v0.5h-1zM446 103.5h1v0.5h-1zM447.5 103.5h0.5v0.5h-0.5zM420.5 104h0.5v0.5h-0.5zM422 104h20.5v0.5h-20.5zM443 104h0.5v0.5h-0.5zM444 104h1v0.5h-1zM446 104h0.5v0.5h-0.5zM421.5 104.5h20v0.5h-20zM442 104.5h1v0.5h-1zM422 105h19.5v0.5h-19.5zM422 105.5h21.5v0.5h-21.5zM422 106h19.5v0.5h-19.5zM444 106h0.5v0.5h-0.5zM422 106.5h0.5v0.5h-0.5zM423 106.5h18.5v0.5h-18.5zM443 106.5h0.5v0.5h-0.5zM422.5 107h18.5v0.5h-18.5zM423 107.5h18v0.5h-18zM422.5 108h19v0.5h-19zM423 108.5h17v0.5h-17zM440.5 108.5h1v0.5h-1zM423 109h17v0.5h-17zM440.5 109h1v0.5h-1zM423.5 109.5h17v0.5h-17zM423 110h17.5v0.5h-17.5zM422.5 110.5h0.5v0.5h-0.5zM423.5 110.5h16v0.5h-16zM440 110.5h0.5v0.5h-0.5zM424 111h15.5v0.5h-15.5zM440 111h0.5v0.5h-0.5zM424 111.5h16v0.5h-16zM423.5 112h15.5v0.5h-15.5zM439.5 112h0.5v0.5h-0.5zM440.5 112h0.5v0.5h-0.5zM425 112.5h14.5v0.5h-14.5zM425 113h1v0.5h-1zM426.5 113h0.5v0.5h-0.5zM427.5 113h1v0.5h-1zM429 113h1.5v0.5h-1.5zM431 113h2.5v0.5h-2.5zM435 113h0.5v0.5h-0.5zM436 113h2.5v0.5h-2.5zM426.5 113.5h0.5v0.5h-0.5zM428 113.5h1v0.5h-1zM429.5 113.5h0.5v0.5h-0.5zM430.5 113.5h0.5v0.5h-0.5zM432 113.5h0.5v0.5h-0.5zM434 113.5h1.5v0.5h-1.5zM436 113.5h0.5v0.5h-0.5zM437.5 113.5h1v0.5h-1zM439 113.5h0.5v0.5h-0.5zM426 114h0.5v0.5h-0.5zM428 114h0.5v0.5h-0.5zM430 114h0.5v0.5h-0.5zM432.5 114h0.5v0.5h-0.5zM426.5 114.5h1v0.5h-1z"/>
<path stroke="#3a3a3a" stroke-width="1.25" fill="none" d="M406.3 58H510.4V145H406.3ZM450.8 58V145M406.3 113.9H510.4"/>
<path stroke="#1c1c1c" stroke-width="1.2" fill="none" d="M425 145v5.2M450.8 145v5.2M476.3 145v5.2M501.3 145v5.2M458.48 145v3M462.97 145v3M466.15 145v3M468.62 145v3M470.64 145v3M472.35 145v3M473.83 145v3M475.13 145v3M483.98 145v3M488.47 145v3M491.65 145v3M494.12 145v3M496.14 145v3M497.85 145v3M499.33 145v3M500.63 145v3M508.98 145v3M407.5 145v3.6M409.5 145v3M411.5 145v3M413.5 145v3M415.5 145v3.6M417.5 145v3M419.5 145v3M421.5 145v3M423.5 145v3.6M425.5 145v3M427.5 145v3M429.5 145v3M431.5 145v3.6M433.5 145v3M435.5 145v3M437.5 145v3M439.5 145v3.6M441.5 145v3M443.5 145v3M445.5 145v3M447.5 145v3.6M449.5 145v3M422.8 145v5.2M427.4 145v4.4"/>
<path stroke="#1c1c1c" stroke-width="1.0" fill="none" d="M406.3 66.53h-4.2M406.3 85.75h-4.2M406.3 106.11h-4.2M406.3 126.38h-4.2M406.3 60.74h-2.4M406.3 79.97h-2.4M406.3 76.58h-2.4M406.3 74.18h-2.4M406.3 72.31h-2.4M406.3 70.79h-2.4M406.3 69.5h-2.4M406.3 68.39h-2.4M406.3 67.41h-2.4M406.3 100.32h-2.4M406.3 96.94h-2.4M406.3 94.54h-2.4M406.3 92.67h-2.4M406.3 91.15h-2.4M406.3 89.86h-2.4M406.3 88.75h-2.4M406.3 87.76h-2.4M406.3 120.59h-2.4M406.3 117.21h-2.4M406.3 114.81h-2.4M406.3 112.94h-2.4M406.3 111.42h-2.4M406.3 110.13h-2.4M406.3 109.02h-2.4M406.3 108.03h-2.4M406.3 126.38h-2.4M406.3 127.88h-2.4M406.3 129.38h-2.4M406.3 130.88h-2.4M406.3 132.38h-2.4M406.3 133.88h-2.4M406.3 135.38h-2.4M406.3 136.88h-2.4M406.3 138.38h-2.4M406.3 139.88h-2.4M406.3 141.38h-2.4M406.3 142.88h-2.4M406.3 144.38h-2.4M406.3 135.78h-4.2"/>
<text x="488.4" y="142.7" font-family="'Liberation Serif', serif" font-size="6.6" font-weight="bold" fill="#222">Q4-1</text>
<rect x="462.5" y="120" width="45.4" height="20.8" fill="#d3d3d3"/>
<text x="484.5" y="134.7" font-size="11.3" fill="#666666" text-anchor="middle">3.32%</text>
<g font-family="'Liberation Serif', serif" font-size="6.94" font-weight="bold" fill="#262626">
<text x="418" y="78">Q1-1</text>
<text x="477" y="71.3">Q2-1</text>
<text x="429.5" y="134.5">Q3-1</text>
</g>
<g font-size="5.53" font-weight="bold" fill="#141414" stroke="#141414" stroke-width="0.2">
<text x="425" y="157.5" text-anchor="middle">0</text>
<text x="446.9" y="157.5">10<tspan font-size="4.34" dy="-2.93">3</tspan></text>
<text x="472.4" y="157.5">10<tspan font-size="4.34" dy="-2.93">4</tspan></text>
<text x="497.4" y="157.5">10<tspan font-size="4.34" dy="-2.93">5</tspan></text>
<text x="405.8" y="161.1" text-anchor="middle" font-size="5.2">-640</text>
<text x="398.38" y="152.3" font-size="6.61" stroke-width="0.45">M</text>
<text x="449.28" y="164.4" font-size="5.64" textLength="17.78" lengthAdjust="spacingAndGlyphs">FITC-A</text>
<text transform="translate(401.31 66.53) rotate(-90)" x="-3.04" y="0">10<tspan font-size="4.34" dy="-4.12">5</tspan></text>
<text transform="translate(401.31 85.75) rotate(-90)" x="-3.04" y="0">10<tspan font-size="4.34" dy="-4.12">4</tspan></text>
<text transform="translate(401.31 106.11) rotate(-90)" x="-3.04" y="0">10<tspan font-size="4.34" dy="-4.12">3</tspan></text>
<text transform="translate(401.31 126.38) rotate(-90)" x="-3.04" y="0">10<tspan font-size="4.34" dy="-4.12">2</tspan></text>
<text transform="translate(401.31 135.78) rotate(-90)" x="-1.52" y="0">0</text>
<text transform="translate(395.13 143.4) rotate(-90)" x="-3.9" y="0" font-size="4.88">-90</text>
</g>
</g>
<g>
<text x="53.8" y="185" font-size="3.3" fill="#333" fill-opacity="0.9" font-weight="bold" textLength="51.2" lengthAdjust="spacingAndGlyphs">Specimen_001-PIN 5 CD107a IL-2 TNF IFN CD8 T cells</text>
<path fill="#0a0a0a" fill-opacity="0.92" d="M73.5 214h0.5v0.5h-0.5zM72 214.5h0.5v0.5h-0.5zM72 215h0.5v0.5h-0.5zM72 215.5h0.5v0.5h-0.5zM73.5 216h1v0.5h-1zM73.5 216.5h1v0.5h-1zM72.5 217h1.5v0.5h-1.5zM72.5 217.5h1.5v0.5h-1.5zM74.5 217.5h1v0.5h-1zM72 218h0.5v0.5h-0.5zM73 218h1v0.5h-1zM74.5 218h1v0.5h-1zM73 218.5h0.5v0.5h-0.5zM75.5 218.5h0.5v0.5h-0.5zM72.5 219h1v0.5h-1zM75.5 219h0.5v0.5h-0.5zM72 219.5h0.5v0.5h-0.5zM75.5 221h0.5v0.5h-0.5zM71.5 221.5h0.5v0.5h-0.5zM73.5 221.5h2.5v0.5h-2.5zM71.5 222h0.5v0.5h-0.5zM73.5 222h1.5v0.5h-1.5zM76.5 222h0.5v0.5h-0.5zM72 222.5h0.5v0.5h-0.5zM74 222.5h1.5v0.5h-1.5zM76.5 222.5h0.5v0.5h-0.5zM72 223h0.5v0.5h-0.5zM74 223h0.5v0.5h-0.5zM71.5 223.5h1v0.5h-1zM73.5 223.5h1v0.5h-1zM71 224h0.5v0.5h-0.5zM72 224h0.5v0.5h-0.5zM72 224.5h2v0.5h-2zM74.5 224.5h1v0.5h-1zM70.5 225h0.5v0.5h-0.5zM71.5 225h1v0.5h-1zM74.5 225h1v0.5h-1zM71 225.5h1.5v0.5h-1.5zM72 226h0.5v0.5h-0.5zM73.5 226h1.5v0.5h-1.5zM75.5 226h1v0.5h-1zM70.5 226.5h0.5v0.5h-0.5zM71.5 226.5h1v0.5h-1zM73.5 226.5h3v0.5h-3zM70 227h0.5v0.5h-0.5zM72 227h1.5v0.5h-1.5zM75 227h2v0.5h-2zM71 227.5h0.5v0.5h-0.5zM72 227.5h2v0.5h-2zM75 227.5h2v0.5h-2zM72 228h1.5v0.5h-1.5zM75 228h0.5v0.5h-0.5zM72 228.5h1.5v0.5h-1.5zM74 228.5h1v0.5h-1zM72.5 229h0.5v0.5h-0.5zM70 229.5h0.5v0.5h-0.5zM75 229.5h1v0.5h-1zM72 230h1v0.5h-1zM75 230h1v0.5h-1zM77 230h1v0.5h-1zM72 230.5h2v0.5h-2zM77 230.5h1v0.5h-1zM72.5 231h1.5v0.5h-1.5zM72.5 231.5h0.5v0.5h-0.5zM74.5 231.5h1v0.5h-1zM74.5 232h1v0.5h-1zM71 232.5h2v0.5h-2zM75 232.5h0.5v0.5h-0.5zM71 233h2v0.5h-2zM73.5 233h1v0.5h-1zM73 233.5h1.5v0.5h-1.5zM73 234h0.5v0.5h-0.5zM71 234.5h1.5v0.5h-1.5zM71 235h1.5v0.5h-1.5zM74 235.5h1v0.5h-1zM72.5 236h0.5v0.5h-0.5zM74 236h1v0.5h-1zM76 236h1v0.5h-1zM72.5 236.5h0.5v0.5h-0.5zM76 236.5h1v0.5h-1zM71.5 237.5h1.5v0.5h-1.5zM73.5 237.5h1v0.5h-1zM71.5 238h1.5v0.5h-1.5zM75 238h1v0.5h-1zM71.5 238.5h1v0.5h-1zM75 238.5h1v0.5h-1zM71.5 239h1v0.5h-1z"/>
<path fill="#111111" d="M47 213.5h0.5v0.5h-0.5zM55 213.5h0.5v0.5h-0.5zM57.5 213.5h0.5v0.5h-0.5zM43 214h0.5v0.5h-0.5zM48 214h0.5v0.5h-0.5zM51.5 214h0.5v0.5h-0.5zM54 214h0.5v0.5h-0.5zM58.5 214h0.5v0.5h-0.5zM59.5 214h0.5v0.5h-0.5zM62 214h0.5v0.5h-0.5zM64.5 214h0.5v0.5h-0.5zM67 214h0.5v0.5h-0.5zM68.5 214h0.5v0.5h-0.5zM70.5 214h0.5v0.5h-0.5zM73 214h0.5v0.5h-0.5zM45.5 214.5h1v0.5h-1zM48 214.5h1v0.5h-1zM50.5 214.5h0.5v0.5h-0.5zM51.5 214.5h0.5v0.5h-0.5zM52.5 214.5h0.5v0.5h-0.5zM53.5 214.5h4.5v0.5h-4.5zM58.5 214.5h1.5v0.5h-1.5zM60.5 214.5h1v0.5h-1zM62 214.5h0.5v0.5h-0.5zM63 214.5h2v0.5h-2zM66 214.5h0.5v0.5h-0.5zM67.5 214.5h0.5v0.5h-0.5zM68.5 214.5h3.5v0.5h-3.5zM73 214.5h0.5v0.5h-0.5zM44.5 215h27v0.5h-27zM43.5 215.5h28.5v0.5h-28.5zM72.5 215.5h1v0.5h-1zM43 216h1v0.5h-1zM44.5 216h28v0.5h-28zM44 216.5h28.5v0.5h-28.5zM43.5 217h28.5v0.5h-28.5zM43.5 217.5h0.5v0.5h-0.5zM44.5 217.5h28v0.5h-28zM45 218h27v0.5h-27zM45 218.5h27v0.5h-27zM44 219h28.5v0.5h-28.5zM44.5 219.5h26.5v0.5h-26.5zM71.5 219.5h0.5v0.5h-0.5zM45.5 220h26.5v0.5h-26.5zM45 220.5h26.5v0.5h-26.5zM45.5 221h25.5v0.5h-25.5zM72 221h0.5v0.5h-0.5zM45.5 221.5h26v0.5h-26zM72 221.5h0.5v0.5h-0.5zM45 222h26v0.5h-26zM72 222h0.5v0.5h-0.5zM45 222.5h26.5v0.5h-26.5zM45.5 223h25.5v0.5h-25.5zM71.5 223h0.5v0.5h-0.5zM45.5 223.5h26v0.5h-26zM45.5 224h25.5v0.5h-25.5zM71.5 224h0.5v0.5h-0.5zM46 224.5h26v0.5h-26zM45.5 225h25v0.5h-25zM71 225h0.5v0.5h-0.5zM45 225.5h26v0.5h-26zM46.5 226h24v0.5h-24zM71.5 226h0.5v0.5h-0.5zM45.5 226.5h0.5v0.5h-0.5zM46.5 226.5h24v0.5h-24zM45 227h1v0.5h-1zM46.5 227h23.5v0.5h-23.5zM70.5 227h0.5v0.5h-0.5zM45 227.5h0.5v0.5h-0.5zM46.5 227.5h24.5v0.5h-24.5zM46 228h0.5v0.5h-0.5zM47 228h24.5v0.5h-24.5zM46.5 228.5h23.5v0.5h-23.5zM46.5 229h24v0.5h-24zM47.5 229.5h22.5v0.5h-22.5zM47 230h0.5v0.5h-0.5zM48 230h22v0.5h-22zM70.5 230h0.5v0.5h-0.5zM46.5 230.5h0.5v0.5h-0.5zM47.5 230.5h23v0.5h-23zM47.5 231h22v0.5h-22zM47 231.5h0.5v0.5h-0.5zM48 231.5h21.5v0.5h-21.5zM47.5 232h21.5v0.5h-21.5zM47 232.5h0.5v0.5h-0.5zM48.5 232.5h21.5v0.5h-21.5zM48 233h21v0.5h-21zM69.5 233h0.5v0.5h-0.5zM48 233.5h22v0.5h-22zM48.5 234h21v0.5h-21zM47.5 234.5h0.5v0.5h-0.5zM48.5 234.5h20.5v0.5h-20.5zM48 235h1v0.5h-1zM49.5 235h19.5v0.5h-19.5zM48.5 235.5h19.5v0.5h-19.5zM68.5 235.5h0.5v0.5h-0.5zM49 236h19.5v0.5h-19.5zM69 236h0.5v0.5h-0.5zM50 236.5h18.5v0.5h-18.5zM50 237h18v0.5h-18zM50.5 237.5h17.5v0.5h-17.5zM68.5 237.5h0.5v0.5h-0.5zM50.5 238h18v0.5h-18zM50 238.5h0.5v0.5h-0.5zM51 238.5h17v0.5h-17zM50.5 239h16.5v0.5h-16.5zM68 239h0.5v0.5h-0.5zM50 239.5h0.5v0.5h-0.5zM51.5 239.5h16v0.5h-16zM52 240h14.5v0.5h-14.5zM67.5 240h0.5v0.5h-0.5zM53 240.5h0.5v0.5h-0.5zM54.5 240.5h0.5v0.5h-0.5zM56 240.5h2.5v0.5h-2.5zM59 240.5h1v0.5h-1zM61 240.5h3v0.5h-3zM64.5 240.5h0.5v0.5h-0.5zM53.5 241h0.5v0.5h-0.5zM54.5 241h0.5v0.5h-0.5zM55.5 241h0.5v0.5h-0.5zM57 241h0.5v0.5h-0.5zM59.5 241h1v0.5h-1zM61 241h0.5v0.5h-0.5zM63.5 241h1v0.5h-1zM65.5 241h0.5v0.5h-0.5zM52 241.5h0.5v0.5h-0.5zM53.5 241.5h0.5v0.5h-0.5zM54.5 241.5h0.5v0.5h-0.5zM61 241.5h1v0.5h-1z"/>
<path stroke="#3a3a3a" stroke-width="1.25" fill="none" d="M40.5 186.4H136.1V272.6H40.5ZM79 186.4V272.6M40.5 240.9H136.1"/>
<path stroke="#1c1c1c" stroke-width="1.2" fill="none" d="M59.6 272.6v5.2M79.2 272.6v5.2M104.6 272.6v5.2M126.5 272.6v5.2M86.85 272.6v3M91.32 272.6v3M94.49 272.6v3M96.95 272.6v3M98.97 272.6v3M100.67 272.6v3M102.14 272.6v3M103.44 272.6v3M112.25 272.6v3M116.72 272.6v3M119.89 272.6v3M122.35 272.6v3M124.37 272.6v3M126.07 272.6v3M127.54 272.6v3M128.84 272.6v3M134.15 272.6v3M41.5 272.6v3.6M43.5 272.6v3M45.5 272.6v3M47.5 272.6v3M49.5 272.6v3.6M51.5 272.6v3M53.5 272.6v3M55.5 272.6v3M57.5 272.6v3.6M59.5 272.6v3M61.5 272.6v3M63.5 272.6v3M65.5 272.6v3.6M67.5 272.6v3M69.5 272.6v3M71.5 272.6v3M73.5 272.6v3.6M75.5 272.6v3M77.5 272.6v3M57.4 272.6v5.2M62 272.6v4.4"/>
<path stroke="#1c1c1c" stroke-width="1.0" fill="none" d="M40.5 194.85h-4.2M40.5 213.9h-4.2M40.5 234.07h-4.2M40.5 254.15h-4.2M40.5 189.11h-2.4M40.5 208.16h-2.4M40.5 204.81h-2.4M40.5 202.43h-2.4M40.5 200.58h-2.4M40.5 199.07h-2.4M40.5 197.8h-2.4M40.5 196.69h-2.4M40.5 195.72h-2.4M40.5 228.33h-2.4M40.5 224.98h-2.4M40.5 222.6h-2.4M40.5 220.75h-2.4M40.5 219.24h-2.4M40.5 217.97h-2.4M40.5 216.86h-2.4M40.5 215.89h-2.4M40.5 248.42h-2.4M40.5 245.06h-2.4M40.5 242.68h-2.4M40.5 240.84h-2.4M40.5 239.33h-2.4M40.5 238.05h-2.4M40.5 236.95h-2.4M40.5 235.97h-2.4M40.5 254.15h-2.4M40.5 255.65h-2.4M40.5 257.15h-2.4M40.5 258.65h-2.4M40.5 260.15h-2.4M40.5 261.65h-2.4M40.5 263.15h-2.4M40.5 264.65h-2.4M40.5 266.15h-2.4M40.5 267.65h-2.4M40.5 269.15h-2.4M40.5 270.65h-2.4M40.5 272.15h-2.4M40.5 263.46h-4.2"/>
<rect x="83.8" y="245.3" width="50.3" height="20.1" fill="#d3d3d3"/>
<text x="108.85" y="259.65" font-size="11.3" fill="#666666" text-anchor="middle">0.002%</text>
<g font-size="6.07" fill="#1e1e1e" stroke="#1e1e1e" stroke-width="0.12">
<text x="113.8" y="200">Q2-2</text>
<text x="59.3" y="262">Q3-2</text>
</g>
<g font-size="5.08" font-weight="bold" fill="#141414" stroke="#141414" stroke-width="0.2">
<text x="59.6" y="284.3" text-anchor="middle">0</text>
<text x="75.62" y="284.3">10<tspan font-size="3.98" dy="-2.69">3</tspan></text>
<text x="101.02" y="284.3">10<tspan font-size="3.98" dy="-2.69">4</tspan></text>
<text x="122.92" y="284.3">10<tspan font-size="3.98" dy="-2.69">5</tspan></text>
<text x="40" y="287.9" text-anchor="middle" font-size="4.78">-974</text>
<text x="33.23" y="279.1" font-size="6.07" stroke-width="0.45">M</text>
<text x="82.59" y="291.2" font-size="5.18" textLength="11.85" lengthAdjust="spacingAndGlyphs">PE-A</text>
<text transform="translate(35.92 194.85) rotate(-90)" x="-2.79" y="0">10<tspan font-size="3.98" dy="-3.78">5</tspan></text>
<text transform="translate(35.92 213.9) rotate(-90)" x="-2.79" y="0">10<tspan font-size="3.98" dy="-3.78">4</tspan></text>
<text transform="translate(35.92 234.07) rotate(-90)" x="-2.79" y="0">10<tspan font-size="3.98" dy="-3.78">3</tspan></text>
<text transform="translate(35.92 254.15) rotate(-90)" x="-2.79" y="0">10<tspan font-size="3.98" dy="-3.78">2</tspan></text>
<text transform="translate(35.92 263.46) rotate(-90)" x="-1.39" y="0">0</text>
<text transform="translate(30.24 271) rotate(-90)" x="-3.58" y="0" font-size="4.48">-90</text>
</g>
</g>
<g>
<text x="180" y="185.5" font-size="3.3" fill="#333" fill-opacity="0.35" font-weight="bold" textLength="37.5" lengthAdjust="spacingAndGlyphs">Specimen_001-PIN 5 CD107a IL-2 TNF IFN CD8 T cells</text>
<path fill="#0a0a0a" fill-opacity="0.92" d="M194 214.5h1v0.5h-1zM196 214.5h1v0.5h-1zM198 214.5h1v0.5h-1zM192.5 215h1v0.5h-1zM194.5 215h1v0.5h-1zM198 215h1v0.5h-1zM204.5 215h0.5v0.5h-0.5zM192 215.5h2v0.5h-2zM194.5 215.5h1v0.5h-1zM196.5 215.5h1v0.5h-1zM198 215.5h1v0.5h-1zM199.5 215.5h0.5v0.5h-0.5zM204.5 215.5h0.5v0.5h-0.5zM190.5 216h1v0.5h-1zM192 216h0.5v0.5h-0.5zM198 216h1v0.5h-1zM199.5 216h0.5v0.5h-0.5zM191 216.5h0.5v0.5h-0.5zM192 216.5h0.5v0.5h-0.5zM193 216.5h2.5v0.5h-2.5zM198.5 216.5h1.5v0.5h-1.5zM207.5 216.5h1v0.5h-1zM192.5 217h0.5v0.5h-0.5zM193.5 217h1.5v0.5h-1.5zM198 217h2v0.5h-2zM207.5 217h1v0.5h-1zM193 217.5h1v0.5h-1zM194.5 217.5h2v0.5h-2zM197 217.5h1.5v0.5h-1.5zM195.5 218h4v0.5h-4zM200 218h1.5v0.5h-1.5zM193 218.5h1.5v0.5h-1.5zM195 218.5h2.5v0.5h-2.5zM198 218.5h1.5v0.5h-1.5zM200 218.5h1v0.5h-1zM205 218.5h1v0.5h-1zM160 219h0.5v0.5h-0.5zM193 219h1.5v0.5h-1.5zM195 219h2v0.5h-2zM205 219h1v0.5h-1zM206.5 219h1v0.5h-1zM194 219.5h0.5v0.5h-0.5zM195.5 219.5h1.5v0.5h-1.5zM197.5 219.5h0.5v0.5h-0.5zM203.5 219.5h1v0.5h-1zM210 219.5h1v0.5h-1zM194 220h3v0.5h-3zM197.5 220h0.5v0.5h-0.5zM199 220h1v0.5h-1zM205.5 220h0.5v0.5h-0.5zM210 220h1v0.5h-1zM192.5 220.5h0.5v0.5h-0.5zM193.5 220.5h1.5v0.5h-1.5zM198 220.5h0.5v0.5h-0.5zM200 220.5h1v0.5h-1zM205.5 220.5h0.5v0.5h-0.5zM192 221h1v0.5h-1zM193.5 221h1.5v0.5h-1.5zM196 221h1v0.5h-1zM197.5 221h1v0.5h-1zM199 221h0.5v0.5h-0.5zM200 221h1v0.5h-1zM223.5 221h0.5v0.5h-0.5zM194 221.5h4v0.5h-4zM198.5 221.5h1v0.5h-1zM200 221.5h1v0.5h-1zM208.5 221.5h1v0.5h-1zM223.5 221.5h0.5v0.5h-0.5zM160.5 222h0.5v0.5h-0.5zM193 222h1.5v0.5h-1.5zM195 222h1.5v0.5h-1.5zM198.5 222h1v0.5h-1zM201.5 222h1v0.5h-1zM208.5 222h1v0.5h-1zM191.5 222.5h1v0.5h-1zM193 222.5h4v0.5h-4zM198 222.5h1v0.5h-1zM201.5 222.5h1v0.5h-1zM191.5 223h1v0.5h-1zM193 223h1.5v0.5h-1.5zM195 223h2v0.5h-2zM198 223h1v0.5h-1zM205.5 223h1v0.5h-1zM224 223h1v0.5h-1zM227.5 223h1v0.5h-1zM191 223.5h0.5v0.5h-0.5zM193 223.5h1.5v0.5h-1.5zM195.5 223.5h1.5v0.5h-1.5zM198.5 223.5h0.5v0.5h-0.5zM204.5 223.5h2v0.5h-2zM191 224h6v0.5h-6zM198.5 224h2v0.5h-2zM204.5 224h1v0.5h-1zM210.5 224h1v0.5h-1zM191.5 224.5h2v0.5h-2zM195 224.5h1.5v0.5h-1.5zM198.5 224.5h1v0.5h-1zM210.5 224.5h1v0.5h-1zM227.5 224.5h1v0.5h-1zM192 225h1v0.5h-1zM193.5 225h0.5v0.5h-0.5zM194.5 225h1v0.5h-1zM197 225h1.5v0.5h-1.5zM217 225h0.5v0.5h-0.5zM227.5 225h1v0.5h-1zM232.5 225h1v0.5h-1zM158.5 225.5h0.5v0.5h-0.5zM159.5 225.5h1v0.5h-1zM192 225.5h2.5v0.5h-2.5zM197 225.5h2v0.5h-2zM200 225.5h1v0.5h-1zM217 225.5h0.5v0.5h-0.5zM220.5 225.5h1v0.5h-1zM158.5 226h0.5v0.5h-0.5zM192.5 226h2v0.5h-2zM195 226h1v0.5h-1zM198 226h1v0.5h-1zM220.5 226h1v0.5h-1zM191.5 226.5h1.5v0.5h-1.5zM194 226.5h0.5v0.5h-0.5zM195 226.5h2v0.5h-2zM198 226.5h0.5v0.5h-0.5zM199 226.5h0.5v0.5h-0.5zM203.5 226.5h1.5v0.5h-1.5zM209 226.5h1v0.5h-1zM161 227h1v0.5h-1zM192 227h1v0.5h-1zM193.5 227h3.5v0.5h-3.5zM198 227h0.5v0.5h-0.5zM199 227h0.5v0.5h-0.5zM203.5 227h0.5v0.5h-0.5zM209 227h1v0.5h-1zM161.5 227.5h0.5v0.5h-0.5zM190.5 227.5h1v0.5h-1zM193.5 227.5h1.5v0.5h-1.5zM195.5 227.5h0.5v0.5h-0.5zM198 227.5h0.5v0.5h-0.5zM202.5 227.5h1v0.5h-1zM162 228h0.5v0.5h-0.5zM190.5 228h1v0.5h-1zM193 228h2v0.5h-2zM195.5 228h0.5v0.5h-0.5zM202.5 228h1v0.5h-1zM161 228.5h1v0.5h-1zM162.5 228.5h0.5v0.5h-0.5zM190.5 228.5h1v0.5h-1zM193 228.5h3.5v0.5h-3.5zM161 229h1v0.5h-1zM190.5 229h1v0.5h-1zM194 229h2.5v0.5h-2.5zM197 229h1v0.5h-1zM201.5 229h0.5v0.5h-0.5zM203.5 229h1v0.5h-1zM159 229.5h0.5v0.5h-0.5zM194 229.5h1v0.5h-1zM195.5 229.5h1v0.5h-1zM197 229.5h1v0.5h-1zM201.5 229.5h0.5v0.5h-0.5zM159 230h0.5v0.5h-0.5zM162 230h0.5v0.5h-0.5zM193.5 230h1v0.5h-1zM197 230h1.5v0.5h-1.5zM199.5 230h0.5v0.5h-0.5zM205.5 230h1v0.5h-1zM217 230h1v0.5h-1zM157.5 230.5h0.5v0.5h-0.5zM162 230.5h1v0.5h-1zM189 230.5h1v0.5h-1zM193.5 230.5h1v0.5h-1zM195 230.5h1.5v0.5h-1.5zM197.5 230.5h0.5v0.5h-0.5zM199.5 230.5h0.5v0.5h-0.5zM205.5 230.5h1v0.5h-1zM157.5 231h0.5v0.5h-0.5zM195 231h1.5v0.5h-1.5zM197.5 231h0.5v0.5h-0.5zM203 231h1v0.5h-1zM210 231h1v0.5h-1zM162 231.5h1v0.5h-1zM192.5 231.5h0.5v0.5h-0.5zM161 232h2v0.5h-2zM189.5 232h1v0.5h-1zM192.5 232h0.5v0.5h-0.5zM193.5 232h1v0.5h-1zM201.5 232h1v0.5h-1zM203 232h1v0.5h-1zM159.5 232.5h1v0.5h-1zM162 232.5h1v0.5h-1zM200.5 232.5h2v0.5h-2zM203 232.5h1v0.5h-1zM207 232.5h1v0.5h-1zM159.5 233h1v0.5h-1zM162.5 233h1v0.5h-1zM193 233h1v0.5h-1zM198.5 233h1v0.5h-1zM200.5 233h1v0.5h-1zM205 233h1v0.5h-1zM192.5 233.5h1.5v0.5h-1.5zM195.5 233.5h1v0.5h-1zM205 233.5h1v0.5h-1zM207 233.5h0.5v0.5h-0.5zM161.5 234h1v0.5h-1zM194.5 234h2v0.5h-2zM207 234h0.5v0.5h-0.5zM160.5 234.5h0.5v0.5h-0.5zM161.5 234.5h1v0.5h-1zM190.5 234.5h1v0.5h-1zM194.5 234.5h1v0.5h-1zM197.5 234.5h0.5v0.5h-0.5zM160.5 235h0.5v0.5h-0.5zM162 235h0.5v0.5h-0.5zM195.5 235h1v0.5h-1zM197.5 235h2v0.5h-2zM194 235.5h1v0.5h-1zM160.5 236h1v0.5h-1zM194 236h1v0.5h-1zM160.5 236.5h1v0.5h-1zM158.5 237h0.5v0.5h-0.5zM161.5 237h1v0.5h-1zM158.5 237.5h0.5v0.5h-0.5zM161.5 237.5h1.5v0.5h-1.5zM191.5 237.5h1v0.5h-1zM203.5 238.5h1v0.5h-1zM191 239h1v0.5h-1zM203.5 239h1v0.5h-1zM191 239.5h1v0.5h-1z"/>
<path fill="#111111" d="M174.5 212.5h0.5v0.5h-0.5zM181.5 212.5h0.5v0.5h-0.5zM169.5 213h0.5v0.5h-0.5zM171.5 213h0.5v0.5h-0.5zM173 213h0.5v0.5h-0.5zM176.5 213h0.5v0.5h-0.5zM165 213.5h0.5v0.5h-0.5zM166.5 213.5h0.5v0.5h-0.5zM167.5 213.5h0.5v0.5h-0.5zM169 213.5h0.5v0.5h-0.5zM170.5 213.5h0.5v0.5h-0.5zM171.5 213.5h1v0.5h-1zM173 213.5h0.5v0.5h-0.5zM174.5 213.5h0.5v0.5h-0.5zM176 213.5h0.5v0.5h-0.5zM162.5 214h0.5v0.5h-0.5zM166.5 214h0.5v0.5h-0.5zM167.5 214h1.5v0.5h-1.5zM169.5 214h2.5v0.5h-2.5zM172.5 214h0.5v0.5h-0.5zM174 214h1v0.5h-1zM175.5 214h0.5v0.5h-0.5zM176.5 214h2v0.5h-2zM179 214h1.5v0.5h-1.5zM181 214h0.5v0.5h-0.5zM182.5 214h1v0.5h-1zM185 214h0.5v0.5h-0.5zM186 214h0.5v0.5h-0.5zM160.5 214.5h0.5v0.5h-0.5zM163.5 214.5h0.5v0.5h-0.5zM165 214.5h21v0.5h-21zM160.5 215h1v0.5h-1zM162 215h0.5v0.5h-0.5zM163 215h23v0.5h-23zM186.5 215h1v0.5h-1zM188 215h1.5v0.5h-1.5zM158.5 215.5h0.5v0.5h-0.5zM160.5 215.5h27v0.5h-27zM189 215.5h0.5v0.5h-0.5zM191 215.5h0.5v0.5h-0.5zM159 216h31.5v0.5h-31.5zM192.5 216h0.5v0.5h-0.5zM160 216.5h31v0.5h-31zM191.5 216.5h0.5v0.5h-0.5zM159.5 217h33v0.5h-33zM193 217h0.5v0.5h-0.5zM159.5 217.5h33.5v0.5h-33.5zM158.5 218h0.5v0.5h-0.5zM159.5 218h32.5v0.5h-32.5zM192.5 218h0.5v0.5h-0.5zM159 218.5h0.5v0.5h-0.5zM160 218.5h32.5v0.5h-32.5zM159.5 219h0.5v0.5h-0.5zM160.5 219h31.5v0.5h-31.5zM160 219.5h32v0.5h-32zM192.5 219.5h0.5v0.5h-0.5zM159.5 220h0.5v0.5h-0.5zM160.5 220h32.5v0.5h-32.5zM160 220.5h32.5v0.5h-32.5zM193 220.5h0.5v0.5h-0.5zM160 221h32v0.5h-32zM161 221.5h32v0.5h-32zM161 222h30.5v0.5h-30.5zM161 222.5h30v0.5h-30zM160 223h0.5v0.5h-0.5zM161 223h30.5v0.5h-30.5zM161 223.5h30v0.5h-30zM192.5 223.5h0.5v0.5h-0.5zM162 224h28.5v0.5h-28.5zM161.5 224.5h29.5v0.5h-29.5zM160.5 225h0.5v0.5h-0.5zM161.5 225h29.5v0.5h-29.5zM161 225.5h29.5v0.5h-29.5zM161.5 226h28.5v0.5h-28.5zM162 226.5h28v0.5h-28zM162 227h28v0.5h-28zM161 227.5h0.5v0.5h-0.5zM162 227.5h0.5v0.5h-0.5zM163 227.5h27.5v0.5h-27.5zM161.5 228h0.5v0.5h-0.5zM162.5 228h28v0.5h-28zM162 228.5h0.5v0.5h-0.5zM163 228.5h27v0.5h-27zM162 229h0.5v0.5h-0.5zM163 229h26.5v0.5h-26.5zM162.5 229.5h27v0.5h-27zM162.5 230h26.5v0.5h-26.5zM163 230.5h26v0.5h-26zM162.5 231h26.5v0.5h-26.5zM163.5 231.5h25v0.5h-25zM163.5 232h25.5v0.5h-25.5zM163 232.5h0.5v0.5h-0.5zM164 232.5h25v0.5h-25zM163.5 233h25v0.5h-25zM163.5 233.5h25v0.5h-25zM189 233.5h0.5v0.5h-0.5zM164 234h24.5v0.5h-24.5zM162.5 234.5h0.5v0.5h-0.5zM164 234.5h25v0.5h-25zM164 235h24.5v0.5h-24.5zM163.5 235.5h25.5v0.5h-25.5zM164.5 236h23v0.5h-23zM188 236h0.5v0.5h-0.5zM164 236.5h23.5v0.5h-23.5zM164.5 237h23.5v0.5h-23.5zM164 237.5h23.5v0.5h-23.5zM164 238h24.5v0.5h-24.5zM165 238.5h22v0.5h-22zM187.5 238.5h1v0.5h-1zM164.5 239h23v0.5h-23zM188 239h0.5v0.5h-0.5zM165 239.5h22v0.5h-22zM165 240h0.5v0.5h-0.5zM166 240h20.5v0.5h-20.5zM187 240h0.5v0.5h-0.5zM166 240.5h0.5v0.5h-0.5zM168.5 240.5h0.5v0.5h-0.5zM169.5 240.5h0.5v0.5h-0.5zM170.5 240.5h3.5v0.5h-3.5zM175 240.5h2.5v0.5h-2.5zM178 240.5h1v0.5h-1zM179.5 240.5h1v0.5h-1zM181 240.5h0.5v0.5h-0.5zM183 240.5h2.5v0.5h-2.5zM186 240.5h0.5v0.5h-0.5zM166 241h0.5v0.5h-0.5zM167.5 241h0.5v0.5h-0.5zM168.5 241h0.5v0.5h-0.5zM170.5 241h0.5v0.5h-0.5zM173 241h0.5v0.5h-0.5zM174 241h0.5v0.5h-0.5zM182 241h0.5v0.5h-0.5zM183 241h0.5v0.5h-0.5zM185 241h1v0.5h-1zM167.5 241.5h0.5v0.5h-0.5zM182.5 241.5h0.5v0.5h-0.5zM172 242h0.5v0.5h-0.5z"/>
<path stroke="#3a3a3a" stroke-width="1.25" fill="none" d="M155.3 187.2H260.5V272.2H155.3ZM197.2 187.2V272.2M155.3 240.8H260.5"/>
<path stroke="#1c1c1c" stroke-width="1.2" fill="none" d="M176.3 272.2v5.2M197.4 272.2v5.2M226.3 272.2v5.2M250 272.2v5.2M206.1 272.2v3M211.19 272.2v3M214.8 272.2v3M217.6 272.2v3M219.89 272.2v3M221.82 272.2v3M223.5 272.2v3M224.98 272.2v3M235 272.2v3M240.09 272.2v3M243.7 272.2v3M246.5 272.2v3M248.79 272.2v3M250.72 272.2v3M252.4 272.2v3M253.88 272.2v3M258.7 272.2v3M156.5 272.2v3.6M158.5 272.2v3M160.5 272.2v3M162.5 272.2v3M164.5 272.2v3.6M166.5 272.2v3M168.5 272.2v3M170.5 272.2v3M172.5 272.2v3.6M174.5 272.2v3M176.5 272.2v3M178.5 272.2v3M180.5 272.2v3.6M182.5 272.2v3M184.5 272.2v3M186.5 272.2v3M188.5 272.2v3.6M190.5 272.2v3M192.5 272.2v3M194.5 272.2v3M196.5 272.2v3.6M174.1 272.2v5.2M178.7 272.2v4.4"/>
<path stroke="#1c1c1c" stroke-width="1.0" fill="none" d="M155.3 195.53h-4.2M155.3 214.31h-4.2M155.3 234.2h-4.2M155.3 254.01h-4.2M155.3 189.88h-2.4M155.3 208.66h-2.4M155.3 205.35h-2.4M155.3 203.01h-2.4M155.3 201.18h-2.4M155.3 199.7h-2.4M155.3 198.44h-2.4M155.3 197.35h-2.4M155.3 196.39h-2.4M155.3 228.55h-2.4M155.3 225.24h-2.4M155.3 222.9h-2.4M155.3 221.07h-2.4M155.3 219.59h-2.4M155.3 218.33h-2.4M155.3 217.24h-2.4M155.3 216.28h-2.4M155.3 248.36h-2.4M155.3 245.05h-2.4M155.3 242.7h-2.4M155.3 240.88h-2.4M155.3 239.39h-2.4M155.3 238.13h-2.4M155.3 237.05h-2.4M155.3 236.08h-2.4M155.3 254.01h-2.4M155.3 255.51h-2.4M155.3 257.01h-2.4M155.3 258.51h-2.4M155.3 260.01h-2.4M155.3 261.51h-2.4M155.3 263.01h-2.4M155.3 264.51h-2.4M155.3 266.01h-2.4M155.3 267.51h-2.4M155.3 269.01h-2.4M155.3 270.51h-2.4M155.3 272.01h-2.4M155.3 263.19h-4.2"/>
<rect x="207.5" y="245" width="51.8" height="20" fill="#d3d3d3"/>
<text x="232.7" y="259.3" font-size="11.3" fill="#666666" text-anchor="middle">0.014%</text>
<g font-size="6.68" fill="#1e1e1e" stroke="#1e1e1e" stroke-width="0.12">
<text x="237.5" y="200.5">Q2-2</text>
<text x="176.3" y="261.3">Q3-2</text>
</g>
<g font-size="5.59" font-weight="bold" fill="#141414" stroke="#141414" stroke-width="0.2">
<text x="176.3" y="283.9" text-anchor="middle">0</text>
<text x="193.46" y="283.9">10<tspan font-size="4.38" dy="-2.96">3</tspan></text>
<text x="222.36" y="283.9">10<tspan font-size="4.38" dy="-2.96">4</tspan></text>
<text x="246.06" y="283.9">10<tspan font-size="4.38" dy="-2.96">5</tspan></text>
<text x="154.8" y="287.5" text-anchor="middle" font-size="5.26">-974</text>
<text x="147.3" y="278.7" font-size="6.68" stroke-width="0.45">M</text>
<text x="201.13" y="290.8" font-size="5.7" textLength="13.04" lengthAdjust="spacingAndGlyphs">PE-A</text>
<text transform="translate(150.26 195.53) rotate(-90)" x="-3.07" y="0">10<tspan font-size="4.38" dy="-4.16">5</tspan></text>
<text transform="translate(150.26 214.31) rotate(-90)" x="-3.07" y="0">10<tspan font-size="4.38" dy="-4.16">4</tspan></text>
<text transform="translate(150.26 234.2) rotate(-90)" x="-3.07" y="0">10<tspan font-size="4.38" dy="-4.16">3</tspan></text>
<text transform="translate(150.26 254.01) rotate(-90)" x="-3.07" y="0">10<tspan font-size="4.38" dy="-4.16">2</tspan></text>
<text transform="translate(150.26 263.19) rotate(-90)" x="-1.53" y="0">0</text>
<text transform="translate(144.01 270.6) rotate(-90)" x="-3.94" y="0" font-size="4.93">-90</text>
</g>
</g>
<g>
<path fill="#0a0a0a" fill-opacity="0.92" d="M309 214.5h0.5v0.5h-0.5zM314.5 214.5h0.5v0.5h-0.5zM314.5 215h0.5v0.5h-0.5zM315.5 215h1v0.5h-1zM315 215.5h1.5v0.5h-1.5zM317 215.5h1v0.5h-1zM317 216h2v0.5h-2zM320.5 216h1v0.5h-1zM282 216.5h0.5v0.5h-0.5zM313.5 216.5h0.5v0.5h-0.5zM317 216.5h3v0.5h-3zM328 216.5h1v0.5h-1zM329.5 216.5h1v0.5h-1zM347.5 216.5h1v0.5h-1zM313.5 217h0.5v0.5h-0.5zM314.5 217h0.5v0.5h-0.5zM317.5 217h2.5v0.5h-2.5zM328 217h1v0.5h-1zM329.5 217h1v0.5h-1zM347.5 217h1v0.5h-1zM313 217.5h2v0.5h-2zM317.5 217.5h2.5v0.5h-2.5zM313.5 218h0.5v0.5h-0.5zM317 218h1v0.5h-1zM318.5 218h1v0.5h-1zM343.5 218h1v0.5h-1zM315.5 218.5h1.5v0.5h-1.5zM318.5 218.5h1v0.5h-1zM320.5 218.5h1.5v0.5h-1.5zM326.5 218.5h1v0.5h-1zM329 218.5h1v0.5h-1zM343.5 218.5h1v0.5h-1zM314 219h3.5v0.5h-3.5zM318 219h1.5v0.5h-1.5zM320.5 219h2.5v0.5h-2.5zM329 219h1v0.5h-1zM314 219.5h0.5v0.5h-0.5zM315.5 219.5h2v0.5h-2zM315.5 220h3.5v0.5h-3.5zM331.5 220h1v0.5h-1zM278 220.5h0.5v0.5h-0.5zM314.5 220.5h0.5v0.5h-0.5zM315.5 220.5h1.5v0.5h-1.5zM317.5 220.5h1.5v0.5h-1.5zM325 220.5h1.5v0.5h-1.5zM327 220.5h1.5v0.5h-1.5zM278 221h0.5v0.5h-0.5zM280.5 221h1v0.5h-1zM314.5 221h2v0.5h-2zM317 221h2v0.5h-2zM319.5 221h2v0.5h-2zM325 221h1v0.5h-1zM327 221h1.5v0.5h-1.5zM337.5 221h1v0.5h-1zM280.5 221.5h1v0.5h-1zM314.5 221.5h0.5v0.5h-0.5zM317 221.5h1v0.5h-1zM319.5 221.5h0.5v0.5h-0.5zM320.5 221.5h1.5v0.5h-1.5zM327 221.5h2.5v0.5h-2.5zM330.5 221.5h1v0.5h-1zM333 221.5h0.5v0.5h-0.5zM334 221.5h0.5v0.5h-0.5zM337.5 221.5h1v0.5h-1zM316 222h3v0.5h-3zM319.5 222h0.5v0.5h-0.5zM321 222h2v0.5h-2zM325 222h0.5v0.5h-0.5zM326 222h2v0.5h-2zM333 222h0.5v0.5h-0.5zM334 222h0.5v0.5h-0.5zM314 222.5h0.5v0.5h-0.5zM316 222.5h3.5v0.5h-3.5zM320 222.5h0.5v0.5h-0.5zM321.5 222.5h1.5v0.5h-1.5zM324 222.5h1.5v0.5h-1.5zM326.5 222.5h1v0.5h-1zM328.5 222.5h1v0.5h-1zM333 222.5h0.5v0.5h-0.5zM334 222.5h1v0.5h-1zM315 223h3.5v0.5h-3.5zM319 223h0.5v0.5h-0.5zM320 223h0.5v0.5h-0.5zM322 223h1v0.5h-1zM324.5 223h0.5v0.5h-0.5zM325.5 223h1.5v0.5h-1.5zM328.5 223h1v0.5h-1zM334 223h1v0.5h-1zM335.5 223h1v0.5h-1zM314 223.5h5v0.5h-5zM319.5 223.5h0.5v0.5h-0.5zM322 223.5h0.5v0.5h-0.5zM325.5 223.5h1.5v0.5h-1.5zM335.5 223.5h1v0.5h-1zM315 224h5.5v0.5h-5.5zM321 224h1.5v0.5h-1.5zM325 224h1v0.5h-1zM328.5 224h1v0.5h-1zM333.5 224h1v0.5h-1zM280 224.5h1v0.5h-1zM314.5 224.5h1.5v0.5h-1.5zM316.5 224.5h2.5v0.5h-2.5zM319.5 224.5h2v0.5h-2zM328.5 224.5h1v0.5h-1zM333.5 224.5h1v0.5h-1zM336 224.5h1v0.5h-1zM340.5 224.5h1v0.5h-1zM279.5 225h1v0.5h-1zM314 225h2.5v0.5h-2.5zM317.5 225h3v0.5h-3zM323.5 225h1v0.5h-1zM331 225h1v0.5h-1zM334.5 225h0.5v0.5h-0.5zM336 225h1v0.5h-1zM280 225.5h0.5v0.5h-0.5zM314.5 225.5h2v0.5h-2zM317.5 225.5h3.5v0.5h-3.5zM322.5 225.5h1v0.5h-1zM326 225.5h0.5v0.5h-0.5zM331 225.5h1v0.5h-1zM334.5 225.5h0.5v0.5h-0.5zM313.5 226h0.5v0.5h-0.5zM314.5 226h1.5v0.5h-1.5zM317.5 226h2v0.5h-2zM320 226h1v0.5h-1zM322 226h1v0.5h-1zM323.5 226h1v0.5h-1zM326 226h0.5v0.5h-0.5zM330.5 226h1.5v0.5h-1.5zM336 226h0.5v0.5h-0.5zM342.5 226h0.5v0.5h-0.5zM278.5 226.5h1v0.5h-1zM314 226.5h0.5v0.5h-0.5zM315 226.5h3.5v0.5h-3.5zM320 226.5h1v0.5h-1zM324.5 226.5h1v0.5h-1zM326.5 226.5h1v0.5h-1zM328.5 226.5h3.5v0.5h-3.5zM333 226.5h1v0.5h-1zM336 226.5h0.5v0.5h-0.5zM342.5 226.5h0.5v0.5h-0.5zM344.5 226.5h0.5v0.5h-0.5zM346.5 226.5h0.5v0.5h-0.5zM348 226.5h0.5v0.5h-0.5zM280 227h0.5v0.5h-0.5zM282 227h1v0.5h-1zM313.5 227h0.5v0.5h-0.5zM314.5 227h5.5v0.5h-5.5zM323 227h0.5v0.5h-0.5zM324.5 227h1v0.5h-1zM328.5 227h1v0.5h-1zM330 227h1v0.5h-1zM333 227h1v0.5h-1zM339 227h1v0.5h-1zM344.5 227h0.5v0.5h-0.5zM346.5 227h0.5v0.5h-0.5zM348 227h0.5v0.5h-0.5zM280 227.5h1v0.5h-1zM314.5 227.5h2.5v0.5h-2.5zM317.5 227.5h3.5v0.5h-3.5zM323 227.5h0.5v0.5h-0.5zM333 227.5h0.5v0.5h-0.5zM339 227.5h1.5v0.5h-1.5zM314 228h9v0.5h-9zM324.5 228h1v0.5h-1zM326 228h0.5v0.5h-0.5zM329 228h1.5v0.5h-1.5zM331.5 228h1v0.5h-1zM333 228h0.5v0.5h-0.5zM336.5 228h1v0.5h-1zM340 228h0.5v0.5h-0.5zM313.5 228.5h5v0.5h-5zM319 228.5h5v0.5h-5zM324.5 228.5h1v0.5h-1zM326 228.5h1.5v0.5h-1.5zM329 228.5h1.5v0.5h-1.5zM331.5 228.5h1.5v0.5h-1.5zM335 228.5h1v0.5h-1zM336.5 228.5h1v0.5h-1zM341.5 228.5h1v0.5h-1zM280 229h0.5v0.5h-0.5zM281 229h1v0.5h-1zM313 229h3v0.5h-3zM316.5 229h2v0.5h-2zM319 229h0.5v0.5h-0.5zM320.5 229h0.5v0.5h-0.5zM321.5 229h1v0.5h-1zM323.5 229h0.5v0.5h-0.5zM329 229h1.5v0.5h-1.5zM332 229h1v0.5h-1zM335 229h1v0.5h-1zM280 229.5h0.5v0.5h-0.5zM281 229.5h1v0.5h-1zM313 229.5h4v0.5h-4zM318 229.5h3v0.5h-3zM322 229.5h2v0.5h-2zM324.5 229.5h2v0.5h-2zM329.5 229.5h1v0.5h-1zM331.5 229.5h1v0.5h-1zM345 229.5h1v0.5h-1zM281.5 230h1v0.5h-1zM312.5 230h6.5v0.5h-6.5zM320 230h1v0.5h-1zM322 230h1.5v0.5h-1.5zM325.5 230h2v0.5h-2zM329.5 230h1v0.5h-1zM331.5 230h1.5v0.5h-1.5zM336 230h0.5v0.5h-0.5zM339 230h1v0.5h-1zM341 230h1.5v0.5h-1.5zM345 230h1v0.5h-1zM349.5 230h1v0.5h-1zM281.5 230.5h1v0.5h-1zM313 230.5h4.5v0.5h-4.5zM319.5 230.5h0.5v0.5h-0.5zM321 230.5h2v0.5h-2zM323.5 230.5h0.5v0.5h-0.5zM327.5 230.5h1v0.5h-1zM329.5 230.5h1v0.5h-1zM331.5 230.5h1.5v0.5h-1.5zM336 230.5h0.5v0.5h-0.5zM337.5 230.5h1v0.5h-1zM339 230.5h1v0.5h-1zM341 230.5h1v0.5h-1zM349.5 230.5h1v0.5h-1zM353.5 230.5h1v0.5h-1zM313.5 231h6.5v0.5h-6.5zM320.5 231h1.5v0.5h-1.5zM323.5 231h0.5v0.5h-0.5zM332 231h1v0.5h-1zM336 231h1v0.5h-1zM354 231h1v0.5h-1zM314 231.5h5.5v0.5h-5.5zM320.5 231.5h1.5v0.5h-1.5zM329 231.5h1v0.5h-1zM331 231.5h2v0.5h-2zM336 231.5h2v0.5h-2zM338.5 231.5h0.5v0.5h-0.5zM342.5 231.5h1v0.5h-1zM354 231.5h1v0.5h-1zM281.5 232h1v0.5h-1zM283 232h1.5v0.5h-1.5zM313 232h3v0.5h-3zM317 232h1v0.5h-1zM318.5 232h1v0.5h-1zM321 232h1v0.5h-1zM323 232h1.5v0.5h-1.5zM325 232h1v0.5h-1zM329 232h1v0.5h-1zM331 232h2v0.5h-2zM336 232h0.5v0.5h-0.5zM337 232h1v0.5h-1zM338.5 232h0.5v0.5h-0.5zM282 232.5h1.5v0.5h-1.5zM313 232.5h5v0.5h-5zM319 232.5h1v0.5h-1zM323 232.5h1.5v0.5h-1.5zM325 232.5h1v0.5h-1zM327 232.5h1v0.5h-1zM336 232.5h1v0.5h-1zM280.5 233h1v0.5h-1zM282 233h1v0.5h-1zM313 233h0.5v0.5h-0.5zM314 233h1v0.5h-1zM315.5 233h3v0.5h-3zM319 233h1v0.5h-1zM327 233h1v0.5h-1zM328.5 233h1v0.5h-1zM334.5 233h1v0.5h-1zM336 233h1.5v0.5h-1.5zM342 233h1v0.5h-1zM280.5 233.5h2.5v0.5h-2.5zM312.5 233.5h1v0.5h-1zM314 233.5h3v0.5h-3zM317.5 233.5h3.5v0.5h-3.5zM321.5 233.5h1v0.5h-1zM323 233.5h1v0.5h-1zM326.5 233.5h1v0.5h-1zM328.5 233.5h2.5v0.5h-2.5zM334.5 233.5h1v0.5h-1zM336 233.5h1v0.5h-1zM338.5 233.5h1v0.5h-1zM340 233.5h1v0.5h-1zM281.5 234h1.5v0.5h-1.5zM312.5 234h1v0.5h-1zM314 234h1v0.5h-1zM315.5 234h4v0.5h-4zM320 234h1v0.5h-1zM322 234h0.5v0.5h-0.5zM323 234h1v0.5h-1zM329 234h2v0.5h-2zM332 234h3.5v0.5h-3.5zM336 234h1.5v0.5h-1.5zM312 234.5h0.5v0.5h-0.5zM313 234.5h5v0.5h-5zM319 234.5h1.5v0.5h-1.5zM322.5 234.5h1v0.5h-1zM329.5 234.5h1.5v0.5h-1.5zM332 234.5h1v0.5h-1zM334 234.5h0.5v0.5h-0.5zM336.5 234.5h1v0.5h-1zM339.5 234.5h1v0.5h-1zM343.5 234.5h1v0.5h-1zM282.5 235h0.5v0.5h-0.5zM284 235h0.5v0.5h-0.5zM312 235h0.5v0.5h-0.5zM313 235h5v0.5h-5zM319.5 235h1v0.5h-1zM321.5 235h0.5v0.5h-0.5zM329.5 235h0.5v0.5h-0.5zM337 235h1v0.5h-1zM339.5 235h1v0.5h-1zM343.5 235h1v0.5h-1zM282.5 235.5h0.5v0.5h-0.5zM284 235.5h0.5v0.5h-0.5zM313.5 235.5h1.5v0.5h-1.5zM315.5 235.5h2v0.5h-2zM320 235.5h0.5v0.5h-0.5zM321.5 235.5h0.5v0.5h-0.5zM324 235.5h1v0.5h-1zM330 235.5h0.5v0.5h-0.5zM335.5 235.5h0.5v0.5h-0.5zM337 235.5h1v0.5h-1zM281.5 236h1v0.5h-1zM313 236h2v0.5h-2zM316 236h1.5v0.5h-1.5zM318 236h1v0.5h-1zM320 236h0.5v0.5h-0.5zM324 236h1v0.5h-1zM326.5 236h1v0.5h-1zM330 236h0.5v0.5h-0.5zM335.5 236h0.5v0.5h-0.5zM312 236.5h0.5v0.5h-0.5zM313.5 236.5h0.5v0.5h-0.5zM316.5 236.5h1v0.5h-1zM318 236.5h1.5v0.5h-1.5zM326.5 236.5h1v0.5h-1zM280.5 237h2v0.5h-2zM313 237h3v0.5h-3zM316.5 237h0.5v0.5h-0.5zM319 237h1v0.5h-1zM322 237h1v0.5h-1zM280.5 237.5h2v0.5h-2zM311.5 237.5h1v0.5h-1zM313.5 237.5h3.5v0.5h-3.5zM319 237.5h1v0.5h-1zM326.5 237.5h1v0.5h-1zM311.5 238h1v0.5h-1zM314 238h3v0.5h-3zM321.5 238h1v0.5h-1zM325 238h0.5v0.5h-0.5zM326.5 238h1v0.5h-1zM277.5 238.5h1v0.5h-1zM311.5 238.5h0.5v0.5h-0.5zM313 238.5h1.5v0.5h-1.5zM315.5 238.5h1v0.5h-1zM317.5 238.5h1v0.5h-1zM319 238.5h1v0.5h-1zM321 238.5h1.5v0.5h-1.5zM325 238.5h1.5v0.5h-1.5zM330 238.5h1v0.5h-1zM277.5 239h1v0.5h-1zM311 239h1v0.5h-1zM314 239h0.5v0.5h-0.5zM315.5 239h1v0.5h-1zM317.5 239h1v0.5h-1zM319 239h1v0.5h-1zM321 239h0.5v0.5h-0.5zM330 239h1v0.5h-1z"/>
<path fill="#111111" d="M283.5 212.5h0.5v0.5h-0.5zM284.5 212.5h0.5v0.5h-0.5zM286 212.5h0.5v0.5h-0.5zM283 213h0.5v0.5h-0.5zM284 213h1v0.5h-1zM286.5 213h1v0.5h-1zM291.5 213h0.5v0.5h-0.5zM300 213h0.5v0.5h-0.5zM282 213.5h0.5v0.5h-0.5zM283 213.5h2v0.5h-2zM285.5 213.5h0.5v0.5h-0.5zM286.5 213.5h1v0.5h-1zM288 213.5h3v0.5h-3zM291.5 213.5h0.5v0.5h-0.5zM294 213.5h0.5v0.5h-0.5zM295 213.5h0.5v0.5h-0.5zM297 213.5h2v0.5h-2zM299.5 213.5h0.5v0.5h-0.5zM300.5 213.5h0.5v0.5h-0.5zM301.5 213.5h0.5v0.5h-0.5zM304 213.5h0.5v0.5h-0.5zM282 214h11v0.5h-11zM293.5 214h0.5v0.5h-0.5zM294.5 214h0.5v0.5h-0.5zM295.5 214h0.5v0.5h-0.5zM297 214h2.5v0.5h-2.5zM300 214h0.5v0.5h-0.5zM302 214h1v0.5h-1zM304 214h0.5v0.5h-0.5zM305 214h1v0.5h-1zM310 214h1.5v0.5h-1.5zM281.5 214.5h0.5v0.5h-0.5zM282.5 214.5h19.5v0.5h-19.5zM302.5 214.5h1v0.5h-1zM304 214.5h0.5v0.5h-0.5zM306 214.5h0.5v0.5h-0.5zM307 214.5h1v0.5h-1zM308.5 214.5h0.5v0.5h-0.5zM309.5 214.5h1v0.5h-1zM311 214.5h1.5v0.5h-1.5zM282 215h30.5v0.5h-30.5zM281.5 215.5h0.5v0.5h-0.5zM282.5 215.5h29.5v0.5h-29.5zM282 216h31.5v0.5h-31.5zM282.5 216.5h31v0.5h-31zM314 216.5h0.5v0.5h-0.5zM282 217h31.5v0.5h-31.5zM314 217h0.5v0.5h-0.5zM282.5 217.5h30.5v0.5h-30.5zM282.5 218h31v0.5h-31zM314 218h1v0.5h-1zM282 218.5h0.5v0.5h-0.5zM283 218.5h30.5v0.5h-30.5zM283 219h31v0.5h-31zM282.5 219.5h31.5v0.5h-31.5zM314.5 219.5h1v0.5h-1zM282 220h32.5v0.5h-32.5zM283 220.5h31.5v0.5h-31.5zM315 220.5h0.5v0.5h-0.5zM282 221h0.5v0.5h-0.5zM283 221h31.5v0.5h-31.5zM282 221.5h0.5v0.5h-0.5zM283 221.5h31.5v0.5h-31.5zM315 221.5h0.5v0.5h-0.5zM282.5 222h33v0.5h-33zM282 222.5h32v0.5h-32zM314.5 222.5h0.5v0.5h-0.5zM282.5 223h32.5v0.5h-32.5zM282.5 223.5h31.5v0.5h-31.5zM283.5 224h30.5v0.5h-30.5zM283.5 224.5h31v0.5h-31zM283 225h31v0.5h-31zM282 225.5h0.5v0.5h-0.5zM283 225.5h31.5v0.5h-31.5zM283.5 226h30v0.5h-30zM314 226h0.5v0.5h-0.5zM283.5 226.5h30.5v0.5h-30.5zM314.5 226.5h0.5v0.5h-0.5zM283 227h30.5v0.5h-30.5zM314 227h0.5v0.5h-0.5zM283 227.5h0.5v0.5h-0.5zM284 227.5h30.5v0.5h-30.5zM282.5 228h31.5v0.5h-31.5zM282.5 228.5h0.5v0.5h-0.5zM284 228.5h29.5v0.5h-29.5zM283 229h30v0.5h-30zM284 229.5h29v0.5h-29zM283 230h29.5v0.5h-29.5zM283.5 230.5h29.5v0.5h-29.5zM283.5 231h30v0.5h-30zM283.5 231.5h30.5v0.5h-30.5zM284.5 232h28.5v0.5h-28.5zM283.5 232.5h0.5v0.5h-0.5zM284.5 232.5h28.5v0.5h-28.5zM284.5 233h28.5v0.5h-28.5zM284.5 233.5h28v0.5h-28zM284.5 234h27.5v0.5h-27.5zM284.5 234.5h27.5v0.5h-27.5zM312.5 234.5h0.5v0.5h-0.5zM285 235h26.5v0.5h-26.5zM312.5 235h0.5v0.5h-0.5zM284.5 235.5h0.5v0.5h-0.5zM285.5 235.5h26.5v0.5h-26.5zM285 236h26.5v0.5h-26.5zM285 236.5h27v0.5h-27zM312.5 236.5h0.5v0.5h-0.5zM286 237h25.5v0.5h-25.5zM312 237h0.5v0.5h-0.5zM285.5 237.5h26v0.5h-26zM285 238h26.5v0.5h-26.5zM285 238.5h0.5v0.5h-0.5zM286 238.5h25.5v0.5h-25.5zM312.5 238.5h0.5v0.5h-0.5zM284.5 239h0.5v0.5h-0.5zM286 239h23.5v0.5h-23.5zM310 239h0.5v0.5h-0.5zM284.5 239.5h0.5v0.5h-0.5zM286.5 239.5h2v0.5h-2zM289 239.5h0.5v0.5h-0.5zM290 239.5h3v0.5h-3zM294.5 239.5h2v0.5h-2zM297 239.5h1v0.5h-1zM299.5 239.5h0.5v0.5h-0.5zM302.5 239.5h1.5v0.5h-1.5zM305.5 239.5h4.5v0.5h-4.5zM311 239.5h0.5v0.5h-0.5zM287 240h1.5v0.5h-1.5zM290 240h0.5v0.5h-0.5zM292.5 240h1v0.5h-1zM294 240h0.5v0.5h-0.5zM297.5 240h1v0.5h-1zM300.5 240h0.5v0.5h-0.5zM302.5 240h1.5v0.5h-1.5zM305.5 240h0.5v0.5h-0.5zM306.5 240h1v0.5h-1zM309.5 240h0.5v0.5h-0.5zM295 240.5h0.5v0.5h-0.5zM299 240.5h0.5v0.5h-0.5zM302 240.5h1.5v0.5h-1.5zM310.5 241h0.5v0.5h-0.5z"/>
<path stroke="#3a3a3a" stroke-width="1.25" fill="none" d="M277.3 186.3H381.8V270.6H277.3ZM319.4 186.3V270.6M277.3 240H381.8"/>
<path stroke="#1c1c1c" stroke-width="1.2" fill="none" d="M297.5 270.6v5.2M319.5 270.6v5.2M347.5 270.6v5.2M372 270.6v5.2M327.93 270.6v3M332.86 270.6v3M336.36 270.6v3M339.07 270.6v3M341.29 270.6v3M343.16 270.6v3M344.79 270.6v3M346.22 270.6v3M355.93 270.6v3M360.86 270.6v3M364.36 270.6v3M367.07 270.6v3M369.29 270.6v3M371.16 270.6v3M372.79 270.6v3M374.22 270.6v3M380.43 270.6v3M278.5 270.6v3.6M280.5 270.6v3M282.5 270.6v3M284.5 270.6v3M286.5 270.6v3.6M288.5 270.6v3M290.5 270.6v3M292.5 270.6v3M294.5 270.6v3.6M296.5 270.6v3M298.5 270.6v3M300.5 270.6v3M302.5 270.6v3.6M304.5 270.6v3M306.5 270.6v3M308.5 270.6v3M310.5 270.6v3.6M312.5 270.6v3M314.5 270.6v3M316.5 270.6v3M318.5 270.6v3.6M295.3 270.6v5.2M299.9 270.6v4.4"/>
<path stroke="#1c1c1c" stroke-width="1.0" fill="none" d="M277.3 194.56h-4.2M277.3 213.19h-4.2M277.3 232.92h-4.2M277.3 252.56h-4.2M277.3 188.95h-2.4M277.3 207.58h-2.4M277.3 204.3h-2.4M277.3 201.98h-2.4M277.3 200.17h-2.4M277.3 198.69h-2.4M277.3 197.45h-2.4M277.3 196.37h-2.4M277.3 195.41h-2.4M277.3 227.31h-2.4M277.3 224.03h-2.4M277.3 221.7h-2.4M277.3 219.9h-2.4M277.3 218.42h-2.4M277.3 217.17h-2.4M277.3 216.09h-2.4M277.3 215.14h-2.4M277.3 246.95h-2.4M277.3 243.67h-2.4M277.3 241.34h-2.4M277.3 239.54h-2.4M277.3 238.06h-2.4M277.3 236.82h-2.4M277.3 235.73h-2.4M277.3 234.78h-2.4M277.3 252.56h-2.4M277.3 254.06h-2.4M277.3 255.56h-2.4M277.3 257.06h-2.4M277.3 258.56h-2.4M277.3 260.06h-2.4M277.3 261.56h-2.4M277.3 263.06h-2.4M277.3 264.56h-2.4M277.3 266.06h-2.4M277.3 267.56h-2.4M277.3 269.06h-2.4M277.3 270.56h-2.4M277.3 261.66h-4.2"/>
<rect x="330.5" y="245" width="46.3" height="20.5" fill="#d3d3d3"/>
<text x="352.95" y="259.55" font-size="11.3" fill="#666666" text-anchor="middle">0.17%</text>
<g font-size="6.64" fill="#1e1e1e" stroke="#1e1e1e" stroke-width="0.12">
<text x="358.3" y="198.8">Q2-2</text>
<text x="297.5" y="260">Q3-2</text>
</g>
<g font-size="5.55" font-weight="bold" fill="#141414" stroke="#141414" stroke-width="0.2">
<text x="297.5" y="282.3" text-anchor="middle">0</text>
<text x="315.58" y="282.3">10<tspan font-size="4.35" dy="-2.94">3</tspan></text>
<text x="343.58" y="282.3">10<tspan font-size="4.35" dy="-2.94">4</tspan></text>
<text x="368.08" y="282.3">10<tspan font-size="4.35" dy="-2.94">5</tspan></text>
<text x="276.8" y="285.9" text-anchor="middle" font-size="5.23">-974</text>
<text x="269.35" y="277.1" font-size="6.64" stroke-width="0.45">M</text>
<text x="323.2" y="289.2" font-size="5.66" textLength="12.95" lengthAdjust="spacingAndGlyphs">PE-A</text>
<text transform="translate(272.29 194.56) rotate(-90)" x="-3.05" y="0">10<tspan font-size="4.35" dy="-4.14">5</tspan></text>
<text transform="translate(272.29 213.19) rotate(-90)" x="-3.05" y="0">10<tspan font-size="4.35" dy="-4.14">4</tspan></text>
<text transform="translate(272.29 232.92) rotate(-90)" x="-3.05" y="0">10<tspan font-size="4.35" dy="-4.14">3</tspan></text>
<text transform="translate(272.29 252.56) rotate(-90)" x="-3.05" y="0">10<tspan font-size="4.35" dy="-4.14">2</tspan></text>
<text transform="translate(272.29 261.66) rotate(-90)" x="-1.52" y="0">0</text>
<text transform="translate(266.09 269) rotate(-90)" x="-3.92" y="0" font-size="4.9">-90</text>
</g>
</g>
<g>
<text x="417.5" y="182.3" font-size="3.3" fill="#333" fill-opacity="0.9" font-weight="bold" textLength="63.5" lengthAdjust="spacingAndGlyphs">Specimen_001-PIN 5 CD107a IL-2 TNF IFN CD8 T cells</text>
<path fill="#0a0a0a" fill-opacity="0.92" d="M455.5 214h1v0.5h-1zM463 214h1v0.5h-1zM414.5 214.5h1v0.5h-1zM452 214.5h1v0.5h-1zM455.5 214.5h1v0.5h-1zM460 214.5h0.5v0.5h-0.5zM463 214.5h1v0.5h-1zM414.5 215h1v0.5h-1zM443.5 215h0.5v0.5h-0.5zM452 215h1v0.5h-1zM454 215h1v0.5h-1zM460 215h0.5v0.5h-0.5zM463 215h0.5v0.5h-0.5zM467 215h0.5v0.5h-0.5zM443.5 215.5h0.5v0.5h-0.5zM446.5 215.5h1v0.5h-1zM448 215.5h1v0.5h-1zM452 215.5h1v0.5h-1zM454 215.5h1.5v0.5h-1.5zM456 215.5h1v0.5h-1zM463 215.5h0.5v0.5h-0.5zM467 215.5h0.5v0.5h-0.5zM471 215.5h1.5v0.5h-1.5zM479 215.5h1v0.5h-1zM444 216h1v0.5h-1zM448 216h0.5v0.5h-0.5zM451.5 216h1v0.5h-1zM453 216h1.5v0.5h-1.5zM455 216h0.5v0.5h-0.5zM456 216h1v0.5h-1zM458 216h0.5v0.5h-0.5zM459 216h0.5v0.5h-0.5zM464.5 216h1v0.5h-1zM471 216h2v0.5h-2zM478 216h0.5v0.5h-0.5zM479 216h1v0.5h-1zM448 216.5h0.5v0.5h-0.5zM452 216.5h0.5v0.5h-0.5zM453.5 216.5h1v0.5h-1zM455.5 216.5h0.5v0.5h-0.5zM456.5 216.5h3v0.5h-3zM461 216.5h1v0.5h-1zM464.5 216.5h1v0.5h-1zM466 216.5h0.5v0.5h-0.5zM478 216.5h0.5v0.5h-0.5zM453.5 217h1v0.5h-1zM456 217h0.5v0.5h-0.5zM457 217h3v0.5h-3zM460.5 217h0.5v0.5h-0.5zM461.5 217h0.5v0.5h-0.5zM462.5 217h1v0.5h-1zM466 217h0.5v0.5h-0.5zM412 217.5h1v0.5h-1zM456.5 217.5h0.5v0.5h-0.5zM458.5 217.5h2.5v0.5h-2.5zM461.5 217.5h2.5v0.5h-2.5zM468 217.5h1v0.5h-1zM475.5 217.5h0.5v0.5h-0.5zM412 218h1v0.5h-1zM458.5 218h0.5v0.5h-0.5zM460.5 218h1v0.5h-1zM462 218h3.5v0.5h-3.5zM466.5 218h3.5v0.5h-3.5zM470.5 218h1v0.5h-1zM475.5 218h1v0.5h-1zM477.5 218h1v0.5h-1zM456.5 218.5h0.5v0.5h-0.5zM461 218.5h0.5v0.5h-0.5zM463 218.5h2.5v0.5h-2.5zM466 218.5h2v0.5h-2zM469.5 218.5h1.5v0.5h-1.5zM472 218.5h0.5v0.5h-0.5zM476 218.5h0.5v0.5h-0.5zM477.5 218.5h1v0.5h-1zM484 218.5h1v0.5h-1zM459 219h0.5v0.5h-0.5zM460.5 219h1v0.5h-1zM462 219h1v0.5h-1zM464 219h1.5v0.5h-1.5zM466 219h1v0.5h-1zM471 219h1.5v0.5h-1.5zM476.5 219h0.5v0.5h-0.5zM458.5 219.5h1v0.5h-1zM460.5 219.5h1v0.5h-1zM462 219.5h1v0.5h-1zM464.5 219.5h1v0.5h-1zM467 219.5h1v0.5h-1zM472.5 219.5h1v0.5h-1zM474 219.5h1.5v0.5h-1.5zM476.5 219.5h0.5v0.5h-0.5zM459.5 220h0.5v0.5h-0.5zM460.5 220h1v0.5h-1zM462 220h1v0.5h-1zM465.5 220h1v0.5h-1zM467 220h2v0.5h-2zM473 220h2.5v0.5h-2.5zM458 220.5h1.5v0.5h-1.5zM461 220.5h1v0.5h-1zM465 220.5h1.5v0.5h-1.5zM467.5 220.5h1.5v0.5h-1.5zM470 220.5h1v0.5h-1zM471.5 220.5h1v0.5h-1zM473 220.5h3v0.5h-3zM456 221h0.5v0.5h-0.5zM457.5 221h1v0.5h-1zM459 221h0.5v0.5h-0.5zM460 221h0.5v0.5h-0.5zM461 221h0.5v0.5h-0.5zM462 221h1v0.5h-1zM464 221h2v0.5h-2zM467.5 221h1v0.5h-1zM469 221h2v0.5h-2zM471.5 221h1.5v0.5h-1.5zM475.5 221h0.5v0.5h-0.5zM456.5 221.5h0.5v0.5h-0.5zM458 221.5h2.5v0.5h-2.5zM461 221.5h2v0.5h-2zM463.5 221.5h1.5v0.5h-1.5zM465.5 221.5h3v0.5h-3zM469 221.5h1.5v0.5h-1.5zM472.5 221.5h0.5v0.5h-0.5zM473.5 221.5h2v0.5h-2zM456 222h1.5v0.5h-1.5zM458.5 222h4v0.5h-4zM463.5 222h1.5v0.5h-1.5zM465.5 222h3v0.5h-3zM469.5 222h2v0.5h-2zM472 222h0.5v0.5h-0.5zM473 222h0.5v0.5h-0.5zM474.5 222h1v0.5h-1zM453.5 222.5h1.5v0.5h-1.5zM455.5 222.5h1v0.5h-1zM457 222.5h0.5v0.5h-0.5zM460 222.5h1.5v0.5h-1.5zM462 222.5h1v0.5h-1zM463.5 222.5h1.5v0.5h-1.5zM465.5 222.5h1v0.5h-1zM470 222.5h1.5v0.5h-1.5zM472 222.5h1.5v0.5h-1.5zM474.5 222.5h1v0.5h-1zM452.5 223h0.5v0.5h-0.5zM455 223h0.5v0.5h-0.5zM456 223h1v0.5h-1zM458.5 223h3v0.5h-3zM462 223h2v0.5h-2zM464.5 223h1v0.5h-1zM466.5 223h0.5v0.5h-0.5zM468 223h3v0.5h-3zM471.5 223h1.5v0.5h-1.5zM474.5 223h1v0.5h-1zM451 223.5h1v0.5h-1zM452.5 223.5h1v0.5h-1zM454 223.5h2v0.5h-2zM456.5 223.5h1v0.5h-1zM458.5 223.5h2v0.5h-2zM462 223.5h5v0.5h-5zM467.5 223.5h3v0.5h-3zM471.5 223.5h1.5v0.5h-1.5zM475 223.5h0.5v0.5h-0.5zM477 223.5h1v0.5h-1zM453 224h5v0.5h-5zM458.5 224h1v0.5h-1zM461.5 224h0.5v0.5h-0.5zM462.5 224h2.5v0.5h-2.5zM465.5 224h1v0.5h-1zM467 224h1.5v0.5h-1.5zM469 224h1.5v0.5h-1.5zM472.5 224h1v0.5h-1zM476 224h2v0.5h-2zM484 224h0.5v0.5h-0.5zM448 224.5h0.5v0.5h-0.5zM449.5 224.5h0.5v0.5h-0.5zM451 224.5h1.5v0.5h-1.5zM453 224.5h0.5v0.5h-0.5zM454.5 224.5h0.5v0.5h-0.5zM456 224.5h4v0.5h-4zM461 224.5h1v0.5h-1zM463 224.5h2v0.5h-2zM466 224.5h2.5v0.5h-2.5zM469 224.5h1.5v0.5h-1.5zM472.5 224.5h1v0.5h-1zM477 224.5h1v0.5h-1zM484 224.5h0.5v0.5h-0.5zM448.5 225h0.5v0.5h-0.5zM450 225h0.5v0.5h-0.5zM452 225h0.5v0.5h-0.5zM453 225h3v0.5h-3zM457 225h3v0.5h-3zM460.5 225h1v0.5h-1zM464 225h1.5v0.5h-1.5zM466 225h1v0.5h-1zM468 225h2.5v0.5h-2.5zM471 225h1.5v0.5h-1.5zM477 225h1v0.5h-1zM486.5 225h1v0.5h-1zM411.5 225.5h1v0.5h-1zM445.5 225.5h0.5v0.5h-0.5zM447 225.5h1v0.5h-1zM450 225.5h3v0.5h-3zM453.5 225.5h5v0.5h-5zM459 225.5h0.5v0.5h-0.5zM460.5 225.5h1.5v0.5h-1.5zM464 225.5h1.5v0.5h-1.5zM466 225.5h1v0.5h-1zM468.5 225.5h2v0.5h-2zM471 225.5h1v0.5h-1zM472.5 225.5h1v0.5h-1zM479.5 225.5h0.5v0.5h-0.5zM486.5 225.5h1v0.5h-1zM411.5 226h1v0.5h-1zM448 226h0.5v0.5h-0.5zM450.5 226h5v0.5h-5zM456.5 226h0.5v0.5h-0.5zM457.5 226h3v0.5h-3zM462 226h1v0.5h-1zM463.5 226h1v0.5h-1zM465 226h2v0.5h-2zM468.5 226h1.5v0.5h-1.5zM470.5 226h1.5v0.5h-1.5zM476.5 226h0.5v0.5h-0.5zM478 226h1v0.5h-1zM479.5 226h0.5v0.5h-0.5zM445.5 226.5h0.5v0.5h-0.5zM447 226.5h1.5v0.5h-1.5zM449 226.5h0.5v0.5h-0.5zM450 226.5h0.5v0.5h-0.5zM451.5 226.5h4.5v0.5h-4.5zM456.5 226.5h0.5v0.5h-0.5zM457.5 226.5h3v0.5h-3zM462 226.5h4v0.5h-4zM470 226.5h0.5v0.5h-0.5zM471 226.5h1v0.5h-1zM474.5 226.5h1v0.5h-1zM476.5 226.5h0.5v0.5h-0.5zM445.5 227h0.5v0.5h-0.5zM446.5 227h1v0.5h-1zM448 227h0.5v0.5h-0.5zM449.5 227h1.5v0.5h-1.5zM452.5 227h1v0.5h-1zM454 227h4.5v0.5h-4.5zM459 227h2.5v0.5h-2.5zM462 227h1.5v0.5h-1.5zM464.5 227h1v0.5h-1zM467 227h1.5v0.5h-1.5zM470 227h0.5v0.5h-0.5zM471 227h2v0.5h-2zM474.5 227h1v0.5h-1zM413 227.5h0.5v0.5h-0.5zM443.5 227.5h0.5v0.5h-0.5zM445.5 227.5h0.5v0.5h-0.5zM446.5 227.5h1v0.5h-1zM448 227.5h1.5v0.5h-1.5zM450 227.5h1v0.5h-1zM451.5 227.5h2v0.5h-2zM454 227.5h1v0.5h-1zM456 227.5h0.5v0.5h-0.5zM457 227.5h4.5v0.5h-4.5zM462 227.5h1.5v0.5h-1.5zM465 227.5h1v0.5h-1zM467 227.5h2.5v0.5h-2.5zM471 227.5h1v0.5h-1zM413 228h0.5v0.5h-0.5zM443.5 228h0.5v0.5h-0.5zM446 228h1v0.5h-1zM448 228h2.5v0.5h-2.5zM451.5 228h3v0.5h-3zM456.5 228h0.5v0.5h-0.5zM457.5 228h3.5v0.5h-3.5zM462.5 228h1v0.5h-1zM465 228h1v0.5h-1zM467 228h1v0.5h-1zM468.5 228h1v0.5h-1zM471 228h1v0.5h-1zM479.5 228h1v0.5h-1zM413.5 228.5h1.5v0.5h-1.5zM443 228.5h0.5v0.5h-0.5zM445.5 228.5h1.5v0.5h-1.5zM447.5 228.5h2.5v0.5h-2.5zM451.5 228.5h3v0.5h-3zM456.5 228.5h2.5v0.5h-2.5zM461 228.5h0.5v0.5h-0.5zM463 228.5h1v0.5h-1zM464.5 228.5h1v0.5h-1zM467 228.5h1.5v0.5h-1.5zM470 228.5h2v0.5h-2zM474 228.5h1v0.5h-1zM414 229h1v0.5h-1zM443 229h2v0.5h-2zM445.5 229h1v0.5h-1zM447.5 229h2.5v0.5h-2.5zM450.5 229h2v0.5h-2zM453 229h0.5v0.5h-0.5zM454.5 229h4.5v0.5h-4.5zM460 229h5.5v0.5h-5.5zM469.5 229h3.5v0.5h-3.5zM474 229h1v0.5h-1zM414 229.5h1v0.5h-1zM444 229.5h1.5v0.5h-1.5zM446 229.5h1v0.5h-1zM449 229.5h0.5v0.5h-0.5zM451.5 229.5h1v0.5h-1zM453 229.5h3.5v0.5h-3.5zM457.5 229.5h4.5v0.5h-4.5zM462.5 229.5h0.5v0.5h-0.5zM464 229.5h1.5v0.5h-1.5zM468 229.5h1v0.5h-1zM471 229.5h1v0.5h-1zM476.5 229.5h0.5v0.5h-0.5zM488.5 229.5h1v0.5h-1zM414 230h1v0.5h-1zM444.5 230h1v0.5h-1zM446 230h1.5v0.5h-1.5zM451.5 230h3v0.5h-3zM455 230h5v0.5h-5zM460.5 230h0.5v0.5h-0.5zM464.5 230h1v0.5h-1zM468 230h1v0.5h-1zM476.5 230h0.5v0.5h-0.5zM478.5 230h0.5v0.5h-0.5zM442 230.5h0.5v0.5h-0.5zM444 230.5h1.5v0.5h-1.5zM446 230.5h2v0.5h-2zM450 230.5h4.5v0.5h-4.5zM455 230.5h0.5v0.5h-0.5zM456.5 230.5h2.5v0.5h-2.5zM461 230.5h1v0.5h-1zM464.5 230.5h1v0.5h-1zM468 230.5h1.5v0.5h-1.5zM471 230.5h0.5v0.5h-0.5zM478.5 230.5h1v0.5h-1zM411.5 231h1v0.5h-1zM442 231h0.5v0.5h-0.5zM443.5 231h2v0.5h-2zM447.5 231h0.5v0.5h-0.5zM449.5 231h1v0.5h-1zM451.5 231h2.5v0.5h-2.5zM454.5 231h2.5v0.5h-2.5zM460.5 231h1v0.5h-1zM464.5 231h1v0.5h-1zM468 231h1.5v0.5h-1.5zM470 231h1.5v0.5h-1.5zM411.5 231.5h1v0.5h-1zM443 231.5h2v0.5h-2zM447.5 231.5h2.5v0.5h-2.5zM451.5 231.5h0.5v0.5h-0.5zM452.5 231.5h1.5v0.5h-1.5zM454.5 231.5h2v0.5h-2zM458 231.5h1v0.5h-1zM459.5 231.5h2v0.5h-2zM462.5 231.5h1v0.5h-1zM464.5 231.5h1v0.5h-1zM466 231.5h0.5v0.5h-0.5zM467.5 231.5h1v0.5h-1zM470 231.5h1v0.5h-1zM474 231.5h1v0.5h-1zM476.5 231.5h1v0.5h-1zM441 232h1v0.5h-1zM443.5 232h1.5v0.5h-1.5zM446 232h1v0.5h-1zM447.5 232h1v0.5h-1zM449 232h1.5v0.5h-1.5zM451.5 232h0.5v0.5h-0.5zM453 232h1v0.5h-1zM455.5 232h2v0.5h-2zM458 232h1v0.5h-1zM459.5 232h1.5v0.5h-1.5zM462.5 232h1v0.5h-1zM466 232h0.5v0.5h-0.5zM467.5 232h1v0.5h-1zM474 232h1v0.5h-1zM476.5 232h1v0.5h-1zM412.5 232.5h1v0.5h-1zM442.5 232.5h1.5v0.5h-1.5zM446 232.5h0.5v0.5h-0.5zM447 232.5h1.5v0.5h-1.5zM449 232.5h1v0.5h-1zM450.5 232.5h0.5v0.5h-0.5zM451.5 232.5h1.5v0.5h-1.5zM454.5 232.5h0.5v0.5h-0.5zM455.5 232.5h2v0.5h-2zM458.5 232.5h1v0.5h-1zM461 232.5h1v0.5h-1zM474 232.5h0.5v0.5h-0.5zM415 233h0.5v0.5h-0.5zM441 233h2.5v0.5h-2.5zM444 233h1v0.5h-1zM446 233h0.5v0.5h-0.5zM448 233h0.5v0.5h-0.5zM449.5 233h0.5v0.5h-0.5zM450.5 233h0.5v0.5h-0.5zM451.5 233h2v0.5h-2zM454 233h1v0.5h-1zM455.5 233h1v0.5h-1zM457.5 233h2v0.5h-2zM415 233.5h0.5v0.5h-0.5zM441 233.5h1v0.5h-1zM444 233.5h1v0.5h-1zM446.5 233.5h1v0.5h-1zM448 233.5h0.5v0.5h-0.5zM449.5 233.5h1.5v0.5h-1.5zM452 233.5h0.5v0.5h-0.5zM454 233.5h1v0.5h-1zM455.5 233.5h1v0.5h-1zM457.5 233.5h1v0.5h-1zM459 233.5h1v0.5h-1zM465.5 233.5h1v0.5h-1zM477 233.5h1v0.5h-1zM413 234h1v0.5h-1zM440.5 234h1v0.5h-1zM442 234h1v0.5h-1zM444 234h2v0.5h-2zM446.5 234h1v0.5h-1zM448 234h2.5v0.5h-2.5zM452 234h0.5v0.5h-0.5zM454 234h2v0.5h-2zM456.5 234h1v0.5h-1zM465.5 234h1v0.5h-1zM477 234h1v0.5h-1zM413 234.5h1v0.5h-1zM444 234.5h0.5v0.5h-0.5zM445 234.5h1v0.5h-1zM446.5 234.5h2v0.5h-2zM450.5 234.5h1v0.5h-1zM452.5 234.5h2v0.5h-2zM455 234.5h1v0.5h-1zM461 234.5h0.5v0.5h-0.5zM469.5 234.5h1v0.5h-1zM471 234.5h1v0.5h-1zM443 235h1v0.5h-1zM446 235h3v0.5h-3zM449.5 235h5v0.5h-5zM456.5 235h1v0.5h-1zM461 235h0.5v0.5h-0.5zM468.5 235h1v0.5h-1zM471 235h1v0.5h-1zM413 235.5h0.5v0.5h-0.5zM414 235.5h1v0.5h-1zM444 235.5h1v0.5h-1zM446 235.5h1v0.5h-1zM447.5 235.5h3v0.5h-3zM451 235.5h1v0.5h-1zM454 235.5h1.5v0.5h-1.5zM461.5 235.5h1v0.5h-1zM468.5 235.5h1v0.5h-1zM470.5 235.5h0.5v0.5h-0.5zM413 236h0.5v0.5h-0.5zM414 236h1v0.5h-1zM444 236h1v0.5h-1zM448 236h4.5v0.5h-4.5zM454.5 236h1v0.5h-1zM456 236h1v0.5h-1zM461 236h1.5v0.5h-1.5zM465.5 236h1v0.5h-1zM470.5 236h0.5v0.5h-0.5zM450 236.5h1v0.5h-1zM452 236.5h0.5v0.5h-0.5zM456 236.5h1v0.5h-1zM462.5 236.5h1v0.5h-1zM465.5 236.5h1.5v0.5h-1.5zM440.5 237h1v0.5h-1zM446 237h1v0.5h-1zM448 237h1v0.5h-1zM451 237h1v0.5h-1zM462.5 237h1v0.5h-1zM466.5 237h0.5v0.5h-0.5zM469.5 237h1v0.5h-1zM440.5 237.5h1v0.5h-1zM446 237.5h1v0.5h-1zM448 237.5h1v0.5h-1zM451 237.5h1.5v0.5h-1.5zM457 237.5h1v0.5h-1zM459.5 237.5h1v0.5h-1zM451.5 238h1v0.5h-1zM459.5 238h1v0.5h-1zM462.5 238h1v0.5h-1zM466.5 238h1v0.5h-1zM462.5 238.5h1v0.5h-1z"/>
<path fill="#111111" d="M430 213.5h0.5v0.5h-0.5zM432.5 213.5h0.5v0.5h-0.5zM419.5 214h0.5v0.5h-0.5zM423 214h1v0.5h-1zM425 214h0.5v0.5h-0.5zM434 214h0.5v0.5h-0.5zM438.5 214h0.5v0.5h-0.5zM425 214.5h1v0.5h-1zM427.5 214.5h0.5v0.5h-0.5zM431 214.5h0.5v0.5h-0.5zM432 214.5h0.5v0.5h-0.5zM433.5 214.5h1v0.5h-1zM438 214.5h0.5v0.5h-0.5zM439 214.5h0.5v0.5h-0.5zM440.5 214.5h0.5v0.5h-0.5zM444 214.5h0.5v0.5h-0.5zM447 214.5h0.5v0.5h-0.5zM448.5 214.5h1v0.5h-1zM416 215h0.5v0.5h-0.5zM417.5 215h0.5v0.5h-0.5zM418.5 215h0.5v0.5h-0.5zM420 215h3v0.5h-3zM424 215h1.5v0.5h-1.5zM426 215h1.5v0.5h-1.5zM428 215h1.5v0.5h-1.5zM430 215h1v0.5h-1zM432 215h3v0.5h-3zM435.5 215h2v0.5h-2zM438.5 215h1.5v0.5h-1.5zM441 215h0.5v0.5h-0.5zM442 215h1v0.5h-1zM448 215h0.5v0.5h-0.5zM449.5 215h0.5v0.5h-0.5zM451.5 215h0.5v0.5h-0.5zM416 215.5h2v0.5h-2zM419 215.5h22v0.5h-22zM441.5 215.5h2v0.5h-2zM444 215.5h1v0.5h-1zM451 215.5h1v0.5h-1zM415 216h28.5v0.5h-28.5zM445 216h1v0.5h-1zM446.5 216h1v0.5h-1zM448.5 216h1.5v0.5h-1.5zM452.5 216h0.5v0.5h-0.5zM454.5 216h0.5v0.5h-0.5zM457.5 216h0.5v0.5h-0.5zM415 216.5h30v0.5h-30zM445.5 216.5h1.5v0.5h-1.5zM447.5 216.5h0.5v0.5h-0.5zM449 216.5h0.5v0.5h-0.5zM450.5 216.5h0.5v0.5h-0.5zM451.5 216.5h0.5v0.5h-0.5zM452.5 216.5h0.5v0.5h-0.5zM454.5 216.5h0.5v0.5h-0.5zM456 216.5h0.5v0.5h-0.5zM414.5 217h35.5v0.5h-35.5zM450.5 217h0.5v0.5h-0.5zM451.5 217h2v0.5h-2zM454.5 217h0.5v0.5h-0.5zM455.5 217h0.5v0.5h-0.5zM456.5 217h0.5v0.5h-0.5zM460 217h0.5v0.5h-0.5zM462 217h0.5v0.5h-0.5zM413.5 217.5h43v0.5h-43zM458 217.5h0.5v0.5h-0.5zM461 217.5h0.5v0.5h-0.5zM414.5 218h44v0.5h-44zM459 218h1.5v0.5h-1.5zM413.5 218.5h43v0.5h-43zM457 218.5h2.5v0.5h-2.5zM460 218.5h1v0.5h-1zM413.5 219h45.5v0.5h-45.5zM459.5 219h0.5v0.5h-0.5zM414 219.5h44.5v0.5h-44.5zM413.5 220h46v0.5h-46zM460 220h0.5v0.5h-0.5zM414 220.5h43v0.5h-43zM457.5 220.5h0.5v0.5h-0.5zM459.5 220.5h0.5v0.5h-0.5zM413.5 221h42.5v0.5h-42.5zM456.5 221h1v0.5h-1zM458.5 221h0.5v0.5h-0.5zM460.5 221h0.5v0.5h-0.5zM412.5 221.5h43.5v0.5h-43.5zM457 221.5h0.5v0.5h-0.5zM460.5 221.5h0.5v0.5h-0.5zM414 222h42v0.5h-42zM458 222h0.5v0.5h-0.5zM414 222.5h39.5v0.5h-39.5zM455 222.5h0.5v0.5h-0.5zM412.5 223h0.5v0.5h-0.5zM414 223h38.5v0.5h-38.5zM453 223h2v0.5h-2zM455.5 223h0.5v0.5h-0.5zM413.5 223.5h37.5v0.5h-37.5zM452 223.5h0.5v0.5h-0.5zM453.5 223.5h0.5v0.5h-0.5zM456 223.5h0.5v0.5h-0.5zM413.5 224h39.5v0.5h-39.5zM413 224.5h0.5v0.5h-0.5zM414 224.5h34v0.5h-34zM448.5 224.5h1v0.5h-1zM450 224.5h1v0.5h-1zM454 224.5h0.5v0.5h-0.5zM455 224.5h0.5v0.5h-0.5zM414 225h34.5v0.5h-34.5zM449 225h1v0.5h-1zM451.5 225h0.5v0.5h-0.5zM414.5 225.5h31v0.5h-31zM446 225.5h1v0.5h-1zM449.5 225.5h0.5v0.5h-0.5zM453 225.5h0.5v0.5h-0.5zM414 226h32.5v0.5h-32.5zM447 226h0.5v0.5h-0.5zM448.5 226h1v0.5h-1zM414 226.5h31v0.5h-31zM449.5 226.5h0.5v0.5h-0.5zM415 227h30v0.5h-30zM446 227h0.5v0.5h-0.5zM449 227h0.5v0.5h-0.5zM414.5 227.5h0.5v0.5h-0.5zM415.5 227.5h28v0.5h-28zM444 227.5h1.5v0.5h-1.5zM446 227.5h0.5v0.5h-0.5zM447.5 227.5h0.5v0.5h-0.5zM414 228h0.5v0.5h-0.5zM415 228h28.5v0.5h-28.5zM444 228h0.5v0.5h-0.5zM415 228.5h28v0.5h-28zM443.5 228.5h0.5v0.5h-0.5zM444.5 228.5h1v0.5h-1zM415 229h27.5v0.5h-27.5zM415 229.5h28v0.5h-28zM415 230h27.5v0.5h-27.5zM444 230h0.5v0.5h-0.5zM415 230.5h0.5v0.5h-0.5zM416 230.5h26v0.5h-26zM415.5 231h26.5v0.5h-26.5zM416 231.5h25v0.5h-25zM416 232h25v0.5h-25zM442 232h0.5v0.5h-0.5zM415.5 232.5h0.5v0.5h-0.5zM416.5 232.5h24v0.5h-24zM441 232.5h0.5v0.5h-0.5zM416.5 233h24.5v0.5h-24.5zM416 233.5h25v0.5h-25zM417 234h23.5v0.5h-23.5zM441.5 234h0.5v0.5h-0.5zM416 234.5h24.5v0.5h-24.5zM416 235h24.5v0.5h-24.5zM415.5 235.5h1v0.5h-1zM417 235.5h23v0.5h-23zM440.5 235.5h0.5v0.5h-0.5zM441.5 235.5h0.5v0.5h-0.5zM417 236h23v0.5h-23zM440.5 236h0.5v0.5h-0.5zM416 236.5h0.5v0.5h-0.5zM417 236.5h23.5v0.5h-23.5zM417.5 237h22v0.5h-22zM416 237.5h1v0.5h-1zM417.5 237.5h22v0.5h-22zM417.5 238h22.5v0.5h-22.5zM418 238.5h21v0.5h-21zM417.5 239h0.5v0.5h-0.5zM418.5 239h0.5v0.5h-0.5zM420 239h0.5v0.5h-0.5zM421 239h1v0.5h-1zM422.5 239h0.5v0.5h-0.5zM425 239h0.5v0.5h-0.5zM426 239h1v0.5h-1zM428.5 239h1v0.5h-1zM430 239h1v0.5h-1zM431.5 239h1.5v0.5h-1.5zM433.5 239h1v0.5h-1zM435 239h0.5v0.5h-0.5zM436 239h0.5v0.5h-0.5zM437 239h1v0.5h-1zM422 239.5h1.5v0.5h-1.5zM424.5 239.5h0.5v0.5h-0.5zM426 239.5h1v0.5h-1zM429 239.5h0.5v0.5h-0.5zM431.5 239.5h0.5v0.5h-0.5zM439 239.5h0.5v0.5h-0.5zM430 240h0.5v0.5h-0.5zM432.5 240h0.5v0.5h-0.5zM434.5 240h0.5v0.5h-0.5zM435.5 240h0.5v0.5h-0.5z"/>
<path stroke="#3a3a3a" stroke-width="1.25" fill="none" d="M406.3 183.8H511.8V271.1H406.3ZM448.8 183.8V271.1M406.3 239.3H511.8"/>
<path stroke="#1c1c1c" stroke-width="1.2" fill="none" d="M427.5 271.1v5.2M448.8 271.1v5.2M476.3 271.1v5.2M501.3 271.1v5.2M457.08 271.1v3M461.92 271.1v3M465.36 271.1v3M468.02 271.1v3M470.2 271.1v3M472.04 271.1v3M473.63 271.1v3M475.04 271.1v3M484.58 271.1v3M489.42 271.1v3M492.86 271.1v3M495.52 271.1v3M497.7 271.1v3M499.54 271.1v3M501.13 271.1v3M502.54 271.1v3M509.58 271.1v3M407.5 271.1v3.6M409.5 271.1v3M411.5 271.1v3M413.5 271.1v3M415.5 271.1v3.6M417.5 271.1v3M419.5 271.1v3M421.5 271.1v3M423.5 271.1v3.6M425.5 271.1v3M427.5 271.1v3M429.5 271.1v3M431.5 271.1v3.6M433.5 271.1v3M435.5 271.1v3M437.5 271.1v3M439.5 271.1v3.6M441.5 271.1v3M443.5 271.1v3M445.5 271.1v3M447.5 271.1v3.6M425.3 271.1v5.2M429.9 271.1v4.4"/>
<path stroke="#1c1c1c" stroke-width="1.0" fill="none" d="M406.3 192.36h-4.2M406.3 211.65h-4.2M406.3 232.08h-4.2M406.3 252.42h-4.2M406.3 186.55h-2.4M406.3 205.84h-2.4M406.3 202.44h-2.4M406.3 200.03h-2.4M406.3 198.16h-2.4M406.3 196.64h-2.4M406.3 195.34h-2.4M406.3 194.23h-2.4M406.3 193.24h-2.4M406.3 226.27h-2.4M406.3 222.87h-2.4M406.3 220.46h-2.4M406.3 218.59h-2.4M406.3 217.06h-2.4M406.3 215.77h-2.4M406.3 214.65h-2.4M406.3 213.67h-2.4M406.3 246.61h-2.4M406.3 243.21h-2.4M406.3 240.8h-2.4M406.3 238.93h-2.4M406.3 237.4h-2.4M406.3 236.11h-2.4M406.3 234.99h-2.4M406.3 234.01h-2.4M406.3 252.42h-2.4M406.3 253.92h-2.4M406.3 255.42h-2.4M406.3 256.92h-2.4M406.3 258.42h-2.4M406.3 259.92h-2.4M406.3 261.42h-2.4M406.3 262.92h-2.4M406.3 264.42h-2.4M406.3 265.92h-2.4M406.3 267.42h-2.4M406.3 268.92h-2.4M406.3 270.42h-2.4M406.3 261.85h-4.2"/>
<rect x="460" y="245.5" width="40" height="20" fill="#d3d3d3"/>
<text x="479.3" y="259.8" font-size="11.3" fill="#666666" text-anchor="middle">1.3%</text>
<g font-size="6.7" fill="#1e1e1e" stroke="#1e1e1e" stroke-width="0.12">
<text x="487.5" y="197.5">Q2-2</text>
<text x="427" y="260">Q3-2</text>
</g>
<g font-size="5.6" font-weight="bold" fill="#141414" stroke="#141414" stroke-width="0.2">
<text x="427.5" y="282.8" text-anchor="middle">0</text>
<text x="444.84" y="282.8">10<tspan font-size="4.4" dy="-2.97">3</tspan></text>
<text x="472.34" y="282.8">10<tspan font-size="4.4" dy="-2.97">4</tspan></text>
<text x="497.34" y="282.8">10<tspan font-size="4.4" dy="-2.97">5</tspan></text>
<text x="405.8" y="286.4" text-anchor="middle" font-size="5.27">-974</text>
<text x="398.28" y="277.6" font-size="6.7" stroke-width="0.45">M</text>
<text x="452.54" y="289.7" font-size="5.71" textLength="13.08" lengthAdjust="spacingAndGlyphs">PE-A</text>
<text transform="translate(401.24 192.36) rotate(-90)" x="-3.08" y="0">10<tspan font-size="4.4" dy="-4.18">5</tspan></text>
<text transform="translate(401.24 211.65) rotate(-90)" x="-3.08" y="0">10<tspan font-size="4.4" dy="-4.18">4</tspan></text>
<text transform="translate(401.24 232.08) rotate(-90)" x="-3.08" y="0">10<tspan font-size="4.4" dy="-4.18">3</tspan></text>
<text transform="translate(401.24 252.42) rotate(-90)" x="-3.08" y="0">10<tspan font-size="4.4" dy="-4.18">2</tspan></text>
<text transform="translate(401.24 261.85) rotate(-90)" x="-1.54" y="0">0</text>
<text transform="translate(394.98 269.5) rotate(-90)" x="-3.96" y="0" font-size="4.95">-90</text>
</g>
</g>
<g>
<text x="51" y="314.8" font-size="3.3" fill="#333" fill-opacity="0.9" font-weight="bold" textLength="52.8" lengthAdjust="spacingAndGlyphs">Specimen_001-PIN 5 CD107a IL-2 TNF IFN CD8 T cells</text>
<path fill="#0a0a0a" fill-opacity="0.92" d="M69 345.5h1v0.5h-1zM69.5 346h0.5v0.5h-0.5zM73.5 346.5h1v0.5h-1zM75 346.5h1v0.5h-1zM73.5 347h1v0.5h-1zM45.5 347.5h1v0.5h-1zM74 347.5h1v0.5h-1zM73 348h1.5v0.5h-1.5zM71.5 348.5h0.5v0.5h-0.5zM73 348.5h1.5v0.5h-1.5zM71 349h1v0.5h-1zM42 350h1v0.5h-1zM43.5 350h0.5v0.5h-0.5zM71 350h1v0.5h-1zM74 350h1.5v0.5h-1.5zM42 350.5h2v0.5h-2zM71 350.5h1v0.5h-1zM74 350.5h1.5v0.5h-1.5zM77 350.5h1v0.5h-1zM44 351h0.5v0.5h-0.5zM45.5 351h0.5v0.5h-0.5zM77 351h1v0.5h-1zM44 351.5h0.5v0.5h-0.5zM73 351.5h1v0.5h-1zM72.5 352h0.5v0.5h-0.5zM73.5 352h1v0.5h-1zM75 352h0.5v0.5h-0.5zM78 352h0.5v0.5h-0.5zM43 352.5h1v0.5h-1zM72.5 352.5h0.5v0.5h-0.5zM73.5 352.5h1v0.5h-1zM75 352.5h0.5v0.5h-0.5zM76.5 352.5h1v0.5h-1zM78 352.5h1.5v0.5h-1.5zM73 353h2v0.5h-2zM76.5 353h1v0.5h-1zM78.5 353h1v0.5h-1zM75 353.5h1v0.5h-1zM78.5 353.5h1.5v0.5h-1.5zM72.5 354h0.5v0.5h-0.5zM74.5 354h2v0.5h-2zM78.5 354h2v0.5h-2zM44 354.5h1v0.5h-1zM72 354.5h0.5v0.5h-0.5zM74 354.5h1v0.5h-1zM75.5 354.5h1.5v0.5h-1.5zM44 355h1v0.5h-1zM74 355h1v0.5h-1zM75.5 355h1.5v0.5h-1.5zM72 355.5h1.5v0.5h-1.5zM74.5 355.5h0.5v0.5h-0.5zM76 355.5h0.5v0.5h-0.5zM72.5 356h1v0.5h-1zM74.5 356h1.5v0.5h-1.5zM72.5 356.5h3.5v0.5h-3.5zM72 357h0.5v0.5h-0.5zM73 357h3.5v0.5h-3.5zM77 357h1v0.5h-1zM72 357.5h1v0.5h-1zM73.5 357.5h4.5v0.5h-4.5zM43 358h1v0.5h-1zM73 358h0.5v0.5h-0.5zM74 358h2v0.5h-2zM43 358.5h1v0.5h-1zM72 358.5h2v0.5h-2zM72 359h1v0.5h-1zM73.5 359h3.5v0.5h-3.5zM45.5 359.5h0.5v0.5h-0.5zM71.5 359.5h0.5v0.5h-0.5zM73 359.5h0.5v0.5h-0.5zM74 359.5h1v0.5h-1zM76 359.5h1.5v0.5h-1.5zM42.5 360h0.5v0.5h-0.5zM45.5 360h0.5v0.5h-0.5zM72 360h3v0.5h-3zM76.5 360h1v0.5h-1zM42.5 360.5h0.5v0.5h-0.5zM71.5 360.5h6v0.5h-6zM78 360.5h1.5v0.5h-1.5zM45.5 361h0.5v0.5h-0.5zM73 361h4.5v0.5h-4.5zM78 361h1.5v0.5h-1.5zM44.5 361.5h1.5v0.5h-1.5zM71.5 361.5h0.5v0.5h-0.5zM72.5 361.5h5v0.5h-5zM78 361.5h1v0.5h-1zM46 362h0.5v0.5h-0.5zM71.5 362h0.5v0.5h-0.5zM72.5 362h1v0.5h-1zM74 362h0.5v0.5h-0.5zM73 362.5h2.5v0.5h-2.5zM76 362.5h0.5v0.5h-0.5zM77 362.5h2v0.5h-2zM73 363h1v0.5h-1zM74.5 363h2v0.5h-2zM78 363h1v0.5h-1zM79.5 363h1v0.5h-1zM73 363.5h3.5v0.5h-3.5zM79.5 363.5h1v0.5h-1zM71 364h0.5v0.5h-0.5zM72 364h4v0.5h-4zM77 364h1v0.5h-1zM71 364.5h3v0.5h-3zM74.5 364.5h0.5v0.5h-0.5zM77 364.5h1v0.5h-1zM71 365h7v0.5h-7zM43.5 365.5h1v0.5h-1zM71 365.5h1v0.5h-1zM72.5 365.5h1v0.5h-1zM74 365.5h3v0.5h-3zM43.5 366h1v0.5h-1zM71.5 366h0.5v0.5h-0.5zM72.5 366h1v0.5h-1zM74 366h3.5v0.5h-3.5zM70.5 366.5h7v0.5h-7zM71 367h0.5v0.5h-0.5zM72.5 367h4.5v0.5h-4.5zM78 367h1v0.5h-1zM71 367.5h5v0.5h-5zM43.5 368h1v0.5h-1zM71.5 368h2v0.5h-2zM74.5 368h1v0.5h-1zM71.5 368.5h2v0.5h-2zM74.5 368.5h1v0.5h-1zM77 368.5h1v0.5h-1zM72.5 369h1v0.5h-1zM74.5 369h1.5v0.5h-1.5zM77 369h1v0.5h-1zM70 369.5h0.5v0.5h-0.5zM71.5 369.5h4.5v0.5h-4.5zM72.5 370h2.5v0.5h-2.5zM70 370.5h0.5v0.5h-0.5zM74.5 370.5h0.5v0.5h-0.5z"/>
<path fill="#111111" d="M57 341.5h0.5v0.5h-0.5zM62 342h1v0.5h-1zM58.5 342.5h0.5v0.5h-0.5zM60 342.5h0.5v0.5h-0.5zM61.5 342.5h0.5v0.5h-0.5zM54 343h0.5v0.5h-0.5zM56 343h1v0.5h-1zM58.5 343h1.5v0.5h-1.5zM60.5 343h0.5v0.5h-0.5zM62 343h1v0.5h-1zM64.5 343h0.5v0.5h-0.5zM51 343.5h0.5v0.5h-0.5zM53 343.5h0.5v0.5h-0.5zM54 343.5h0.5v0.5h-0.5zM56 343.5h1.5v0.5h-1.5zM58.5 343.5h1v0.5h-1zM60.5 343.5h1v0.5h-1zM63 343.5h0.5v0.5h-0.5zM64.5 343.5h0.5v0.5h-0.5zM66 343.5h1v0.5h-1zM52.5 344h2v0.5h-2zM55 344h9.5v0.5h-9.5zM65 344h0.5v0.5h-0.5zM50 344.5h15.5v0.5h-15.5zM66 344.5h0.5v0.5h-0.5zM49 345h0.5v0.5h-0.5zM50.5 345h16v0.5h-16zM67 345h0.5v0.5h-0.5zM68 345h0.5v0.5h-0.5zM69 345h0.5v0.5h-0.5zM47.5 345.5h0.5v0.5h-0.5zM48.5 345.5h19v0.5h-19zM68.5 345.5h0.5v0.5h-0.5zM47 346h22.5v0.5h-22.5zM47 346.5h21.5v0.5h-21.5zM47 347h22.5v0.5h-22.5zM70 347h0.5v0.5h-0.5zM47 347.5h23v0.5h-23zM45.5 348h25.5v0.5h-25.5zM46 348.5h24v0.5h-24zM71 348.5h0.5v0.5h-0.5zM46 349h25v0.5h-25zM46.5 349.5h23.5v0.5h-23.5zM70.5 349.5h0.5v0.5h-0.5zM45 350h25.5v0.5h-25.5zM44.5 350.5h0.5v0.5h-0.5zM46 350.5h25v0.5h-25zM46 351h25v0.5h-25zM46 351.5h25.5v0.5h-25.5zM45 352h26v0.5h-26zM71.5 352h0.5v0.5h-0.5zM45 352.5h27v0.5h-27zM44.5 353h0.5v0.5h-0.5zM45.5 353h26v0.5h-26zM45.5 353.5h26v0.5h-26zM43 354h0.5v0.5h-0.5zM44.5 354h27v0.5h-27zM72 354h0.5v0.5h-0.5zM45 354.5h27v0.5h-27zM72.5 354.5h0.5v0.5h-0.5zM45 355h27v0.5h-27zM73 355h0.5v0.5h-0.5zM44.5 355.5h27.5v0.5h-27.5zM44.5 356h28v0.5h-28zM44.5 356.5h0.5v0.5h-0.5zM45.5 356.5h26.5v0.5h-26.5zM44.5 357h27.5v0.5h-27.5zM72.5 357h0.5v0.5h-0.5zM45 357.5h27v0.5h-27zM44 358h27.5v0.5h-27.5zM72.5 358h0.5v0.5h-0.5zM44 358.5h0.5v0.5h-0.5zM45 358.5h27v0.5h-27zM45.5 359h26.5v0.5h-26.5zM73 359h0.5v0.5h-0.5zM46 359.5h25.5v0.5h-25.5zM46 360h26v0.5h-26zM46 360.5h25.5v0.5h-25.5zM45 361h0.5v0.5h-0.5zM46 361h26.5v0.5h-26.5zM46 361.5h25.5v0.5h-25.5zM72 361.5h0.5v0.5h-0.5zM45.5 362h0.5v0.5h-0.5zM46.5 362h25v0.5h-25zM72 362h0.5v0.5h-0.5zM46.5 362.5h26v0.5h-26zM45.5 363h26v0.5h-26zM72 363h0.5v0.5h-0.5zM46 363.5h26v0.5h-26zM45.5 364h25.5v0.5h-25.5zM71.5 364h0.5v0.5h-0.5zM46 364.5h0.5v0.5h-0.5zM47 364.5h24v0.5h-24zM46 365h25v0.5h-25zM45.5 365.5h0.5v0.5h-0.5zM47.5 365.5h23.5v0.5h-23.5zM47 366h24.5v0.5h-24.5zM72 366h0.5v0.5h-0.5zM47 366.5h23.5v0.5h-23.5zM47.5 367h23.5v0.5h-23.5zM71.5 367h0.5v0.5h-0.5zM47.5 367.5h0.5v0.5h-0.5zM48.5 367.5h22.5v0.5h-22.5zM47.5 368h23.5v0.5h-23.5zM47.5 368.5h23v0.5h-23zM48 369h22.5v0.5h-22.5zM71.5 369h1v0.5h-1zM49 369.5h21v0.5h-21zM70.5 369.5h0.5v0.5h-0.5zM49.5 370h20v0.5h-20zM70 370h0.5v0.5h-0.5zM49 370.5h19.5v0.5h-19.5zM69 370.5h0.5v0.5h-0.5zM70.5 370.5h0.5v0.5h-0.5zM48.5 371h1v0.5h-1zM50 371h0.5v0.5h-0.5zM51.5 371h1v0.5h-1zM53 371h1v0.5h-1zM55.5 371h0.5v0.5h-0.5zM56.5 371h2v0.5h-2zM59 371h1v0.5h-1zM60.5 371h0.5v0.5h-0.5zM61.5 371h0.5v0.5h-0.5zM64 371h1.5v0.5h-1.5zM66 371h0.5v0.5h-0.5zM67 371h1v0.5h-1zM68.5 371h0.5v0.5h-0.5zM69.5 371h0.5v0.5h-0.5zM49 371.5h0.5v0.5h-0.5zM51.5 371.5h2v0.5h-2zM54 371.5h1.5v0.5h-1.5zM57.5 371.5h0.5v0.5h-0.5zM58.5 371.5h2.5v0.5h-2.5zM63 371.5h0.5v0.5h-0.5zM64 371.5h0.5v0.5h-0.5zM65 371.5h0.5v0.5h-0.5zM58 372h1v0.5h-1zM62 372h0.5v0.5h-0.5zM63 372h0.5v0.5h-0.5zM67.5 372h0.5v0.5h-0.5zM65 372.5h0.5v0.5h-0.5zM64.5 373h0.5v0.5h-0.5zM66.5 373h0.5v0.5h-0.5z"/>
<path stroke="#3a3a3a" stroke-width="1.25" fill="none" d="M37 316.3H135.4V402.3H37ZM80.7 316.3V402.3M37 371.1H135.4"/>
<path stroke="#1c1c1c" stroke-width="1.2" fill="none" d="M52.5 402.3v5.2M80.5 402.3v5.2M103.8 402.3v5.2M126.3 402.3v5.2M87.51 402.3v3M91.62 402.3v3M94.53 402.3v3M96.79 402.3v3M98.63 402.3v3M100.19 402.3v3M101.54 402.3v3M102.73 402.3v3M110.81 402.3v3M114.92 402.3v3M117.83 402.3v3M120.09 402.3v3M121.93 402.3v3M123.49 402.3v3M124.84 402.3v3M126.03 402.3v3M133.31 402.3v3M57.96 402.3v3M62.3 402.3v3M66.08 402.3v3M69.16 402.3v3M71.68 402.3v3M74.2 402.3v3M76.16 402.3v3M77.98 402.3v3M47.04 402.3v3M41.58 402.3v3M53 402.3v5.4M53.4 402.3v5.4"/>
<path stroke="#1c1c1c" stroke-width="1.0" fill="none" d="M37 324.73h-4.2M37 343.73h-4.2M37 363.86h-4.2M37 383.9h-4.2M37 319.01h-2.4M37 338.01h-2.4M37 334.67h-2.4M37 332.29h-2.4M37 330.45h-2.4M37 328.94h-2.4M37 327.67h-2.4M37 326.57h-2.4M37 325.6h-2.4M37 358.14h-2.4M37 354.79h-2.4M37 352.42h-2.4M37 350.57h-2.4M37 349.07h-2.4M37 347.8h-2.4M37 346.69h-2.4M37 345.72h-2.4M37 378.17h-2.4M37 374.83h-2.4M37 372.45h-2.4M37 370.61h-2.4M37 369.11h-2.4M37 367.83h-2.4M37 366.73h-2.4M37 365.76h-2.4M37 383.9h-2.4M37 385.4h-2.4M37 386.9h-2.4M37 388.4h-2.4M37 389.9h-2.4M37 391.4h-2.4M37 392.9h-2.4M37 394.4h-2.4M37 395.9h-2.4M37 397.4h-2.4M37 398.9h-2.4M37 400.4h-2.4M37 401.9h-2.4M37 393.18h-4.2"/>
<text x="116.7" y="400.5" font-size="6.1" fill="#222">Q4-3</text>
<rect x="83.3" y="377.8" width="52.9" height="20.8" fill="#d3d3d3"/>
<text x="109.05" y="392.5" font-size="11.3" fill="#666666" text-anchor="middle">0.006%</text>
<g font-size="6.25" fill="#1e1e1e" stroke="#1e1e1e" stroke-width="0.12">
<text x="116.3" y="333">Q2-3</text>
<text x="60.8" y="392.5">Q3-3</text>
</g>
<g font-size="5.23" font-weight="bold" fill="#141414" stroke="#141414" stroke-width="0.2">
<text x="52.5" y="414.5" text-anchor="middle">0</text>
<text x="76.81" y="414.5">10<tspan font-size="4.1" dy="-2.77">3</tspan></text>
<text x="100.11" y="414.5">10<tspan font-size="4.1" dy="-2.77">4</tspan></text>
<text x="122.61" y="414.5">10<tspan font-size="4.1" dy="-2.77">5</tspan></text>
<text x="37.5" y="417.6" text-anchor="middle" font-size="4.92">-304</text>
<text x="30.54" y="409.3" font-size="6.25" stroke-width="0.45">M</text>
<text x="74.45" y="421.4" font-size="5.33" textLength="24.91" lengthAdjust="spacingAndGlyphs">PE-Cy7-A</text>
<text transform="translate(32.28 324.73) rotate(-90)" x="-2.87" y="0">10<tspan font-size="4.1" dy="-3.9">5</tspan></text>
<text transform="translate(32.28 343.73) rotate(-90)" x="-2.87" y="0">10<tspan font-size="4.1" dy="-3.9">4</tspan></text>
<text transform="translate(32.28 363.86) rotate(-90)" x="-2.87" y="0">10<tspan font-size="4.1" dy="-3.9">3</tspan></text>
<text transform="translate(32.28 383.9) rotate(-90)" x="-2.87" y="0">10<tspan font-size="4.1" dy="-3.9">2</tspan></text>
<text transform="translate(32.28 393.18) rotate(-90)" x="-1.44" y="0">0</text>
<text transform="translate(26.44 400.7) rotate(-90)" x="-3.69" y="0" font-size="4.61">-90</text>
</g>
</g>
<g>
<text x="180" y="316.5" font-size="3.3" fill="#333" fill-opacity="0.35" font-weight="bold" textLength="37.5" lengthAdjust="spacingAndGlyphs">Specimen_001-PIN 5 CD107a IL-2 TNF IFN CD8 T cells</text>
<path fill="#0a0a0a" fill-opacity="0.92" d="M195.5 346h1.5v0.5h-1.5zM195.5 346.5h1.5v0.5h-1.5zM196 347h0.5v0.5h-0.5zM193 347.5h1v0.5h-1zM194.5 347.5h0.5v0.5h-0.5zM198 347.5h1.5v0.5h-1.5zM190.5 348h1v0.5h-1zM193 348h1v0.5h-1zM194.5 348h1v0.5h-1zM198 348h0.5v0.5h-0.5zM190.5 348.5h1.5v0.5h-1.5zM202.5 348.5h1v0.5h-1zM204 348.5h1v0.5h-1zM210.5 348.5h1v0.5h-1zM191.5 349h0.5v0.5h-0.5zM193.5 349h1v0.5h-1zM197.5 349h1v0.5h-1zM200 349h1v0.5h-1zM202 349h1v0.5h-1zM205.5 349h1v0.5h-1zM210 349h1.5v0.5h-1.5zM191 349.5h0.5v0.5h-0.5zM193.5 349.5h1v0.5h-1zM197.5 349.5h1.5v0.5h-1.5zM200.5 349.5h0.5v0.5h-0.5zM210 349.5h1v0.5h-1zM191 350h0.5v0.5h-0.5zM196.5 350h1v0.5h-1zM198 350h1v0.5h-1zM199.5 350h2v0.5h-2zM202.5 350h1v0.5h-1zM206 350h1.5v0.5h-1.5zM209.5 350h1.5v0.5h-1.5zM193 350.5h0.5v0.5h-0.5zM194.5 350.5h1v0.5h-1zM196.5 350.5h1v0.5h-1zM198 350.5h1v0.5h-1zM199.5 350.5h2v0.5h-2zM202.5 350.5h1.5v0.5h-1.5zM206.5 350.5h1v0.5h-1zM209.5 350.5h1.5v0.5h-1.5zM193 351h0.5v0.5h-0.5zM195.5 351h1v0.5h-1zM198 351h1v0.5h-1zM200.5 351h1v0.5h-1zM203 351h1v0.5h-1zM209 351h1v0.5h-1zM217.5 351h1v0.5h-1zM194 351.5h2.5v0.5h-2.5zM198 351.5h1v0.5h-1zM208.5 351.5h1.5v0.5h-1.5zM194 352h3.5v0.5h-3.5zM198 352h1.5v0.5h-1.5zM208 352h1.5v0.5h-1.5zM194 352.5h3.5v0.5h-3.5zM198.5 352.5h1v0.5h-1zM208.5 352.5h1v0.5h-1zM192.5 353h0.5v0.5h-0.5zM194 353h3.5v0.5h-3.5zM198.5 353h1.5v0.5h-1.5zM203.5 353h0.5v0.5h-0.5zM208.5 353h1v0.5h-1zM214.5 353h0.5v0.5h-0.5zM194 353.5h1v0.5h-1zM196.5 353.5h2.5v0.5h-2.5zM199.5 353.5h0.5v0.5h-0.5zM200.5 353.5h1.5v0.5h-1.5zM202.5 353.5h1.5v0.5h-1.5zM209.5 353.5h0.5v0.5h-0.5zM212 353.5h1v0.5h-1zM214.5 353.5h0.5v0.5h-0.5zM215.5 353.5h1v0.5h-1zM194 354h1v0.5h-1zM195.5 354h2v0.5h-2zM199.5 354h0.5v0.5h-0.5zM200.5 354h1.5v0.5h-1.5zM207 354h2v0.5h-2zM209.5 354h1v0.5h-1zM212 354h1v0.5h-1zM215.5 354h1v0.5h-1zM194 354.5h0.5v0.5h-0.5zM195.5 354.5h2v0.5h-2zM199.5 354.5h0.5v0.5h-0.5zM200.5 354.5h2v0.5h-2zM204 354.5h1v0.5h-1zM206.5 354.5h2.5v0.5h-2.5zM209.5 354.5h1v0.5h-1zM193.5 355h0.5v0.5h-0.5zM194.5 355h1v0.5h-1zM196 355h1.5v0.5h-1.5zM199.5 355h5.5v0.5h-5.5zM206.5 355h1.5v0.5h-1.5zM194.5 355.5h0.5v0.5h-0.5zM195.5 355.5h2v0.5h-2zM199.5 355.5h3.5v0.5h-3.5zM207 355.5h1v0.5h-1zM193.5 356h0.5v0.5h-0.5zM194.5 356h4.5v0.5h-4.5zM199.5 356h2.5v0.5h-2.5zM202.5 356h1v0.5h-1zM207 356h1v0.5h-1zM212 356h1v0.5h-1zM194.5 356.5h2.5v0.5h-2.5zM197.5 356.5h1.5v0.5h-1.5zM200.5 356.5h3v0.5h-3zM207.5 356.5h2.5v0.5h-2.5zM211.5 356.5h2v0.5h-2zM194 357h2v0.5h-2zM197.5 357h1.5v0.5h-1.5zM200.5 357h2v0.5h-2zM207 357h2v0.5h-2zM211 357h1v0.5h-1zM212.5 357h1v0.5h-1zM194 357.5h1.5v0.5h-1.5zM197 357.5h1.5v0.5h-1.5zM199 357.5h0.5v0.5h-0.5zM201.5 357.5h1v0.5h-1zM204 357.5h1v0.5h-1zM207 357.5h1v0.5h-1zM209 357.5h1v0.5h-1zM211 357.5h2v0.5h-2zM196.5 358h2v0.5h-2zM199 358h1.5v0.5h-1.5zM201.5 358h0.5v0.5h-0.5zM204 358h1v0.5h-1zM205.5 358h1v0.5h-1zM207 358h1v0.5h-1zM211.5 358h0.5v0.5h-0.5zM194 358.5h0.5v0.5h-0.5zM195 358.5h3.5v0.5h-3.5zM200 358.5h3.5v0.5h-3.5zM204 358.5h1v0.5h-1zM207 358.5h1v0.5h-1zM194.5 359h2.5v0.5h-2.5zM197.5 359h1v0.5h-1zM200 359h1.5v0.5h-1.5zM202 359h0.5v0.5h-0.5zM204 359h1v0.5h-1zM206 359h1v0.5h-1zM210 359h1v0.5h-1zM194 359.5h1v0.5h-1zM195.5 359.5h3.5v0.5h-3.5zM200 359.5h2.5v0.5h-2.5zM204.5 359.5h1v0.5h-1zM206 359.5h1.5v0.5h-1.5zM209 359.5h1v0.5h-1zM194.5 360h0.5v0.5h-0.5zM195.5 360h4v0.5h-4zM200 360h1v0.5h-1zM201.5 360h0.5v0.5h-0.5zM204.5 360h1v0.5h-1zM207 360h0.5v0.5h-0.5zM209 360h0.5v0.5h-0.5zM194.5 360.5h6v0.5h-6zM207 360.5h1v0.5h-1zM209 360.5h0.5v0.5h-0.5zM194 361h4v0.5h-4zM198.5 361h3.5v0.5h-3.5zM207 361h1v0.5h-1zM218.5 361h1v0.5h-1zM194.5 361.5h4.5v0.5h-4.5zM200 361.5h2v0.5h-2zM204 361.5h0.5v0.5h-0.5zM211 361.5h1v0.5h-1zM218.5 361.5h1v0.5h-1zM194.5 362h4.5v0.5h-4.5zM199.5 362h1.5v0.5h-1.5zM204 362h0.5v0.5h-0.5zM209.5 362h1v0.5h-1zM194.5 362.5h4.5v0.5h-4.5zM199.5 362.5h2v0.5h-2zM193.5 363h4.5v0.5h-4.5zM198.5 363h4v0.5h-4zM205 363h0.5v0.5h-0.5zM194 363.5h2v0.5h-2zM197 363.5h1v0.5h-1zM198.5 363.5h4v0.5h-4zM205 363.5h0.5v0.5h-0.5zM206.5 363.5h1.5v0.5h-1.5zM219.5 363.5h1v0.5h-1zM194.5 364h3.5v0.5h-3.5zM200 364h2v0.5h-2zM203.5 364h0.5v0.5h-0.5zM206.5 364h1.5v0.5h-1.5zM219.5 364h1v0.5h-1zM194 364.5h5.5v0.5h-5.5zM201.5 364.5h1v0.5h-1zM203.5 364.5h0.5v0.5h-0.5zM194 365h7v0.5h-7zM201.5 365h1v0.5h-1zM206 365h0.5v0.5h-0.5zM194.5 365.5h1v0.5h-1zM196 365.5h2v0.5h-2zM198.5 365.5h4.5v0.5h-4.5zM206 365.5h0.5v0.5h-0.5zM194.5 366h1.5v0.5h-1.5zM197 366h2v0.5h-2zM199.5 366h3.5v0.5h-3.5zM215 366h0.5v0.5h-0.5zM193 366.5h0.5v0.5h-0.5zM194 366.5h2v0.5h-2zM196.5 366.5h4.5v0.5h-4.5zM201.5 366.5h1v0.5h-1zM207 366.5h1v0.5h-1zM215 366.5h0.5v0.5h-0.5zM193.5 367h2.5v0.5h-2.5zM196.5 367h4.5v0.5h-4.5zM201.5 367h1v0.5h-1zM193.5 367.5h0.5v0.5h-0.5zM194.5 367.5h2v0.5h-2zM198.5 367.5h1v0.5h-1zM209.5 367.5h1v0.5h-1zM194 368h2v0.5h-2zM197.5 368h2v0.5h-2zM200 368h1.5v0.5h-1.5zM202 368h0.5v0.5h-0.5zM209.5 368h1v0.5h-1zM193 368.5h2.5v0.5h-2.5zM196 368.5h3v0.5h-3zM200 368.5h1.5v0.5h-1.5zM202 368.5h0.5v0.5h-0.5zM193.5 369h0.5v0.5h-0.5zM194.5 369h1v0.5h-1zM196 369h3.5v0.5h-3.5zM200 369h1v0.5h-1zM202.5 369h0.5v0.5h-0.5zM206.5 369h1v0.5h-1zM195 369.5h1v0.5h-1zM196.5 369.5h1v0.5h-1zM198 369.5h3v0.5h-3zM202.5 369.5h0.5v0.5h-0.5zM206.5 369.5h1v0.5h-1zM194.5 370h1.5v0.5h-1.5zM196.5 370h1.5v0.5h-1.5zM199 370h2.5v0.5h-2.5zM194.5 370.5h0.5v0.5h-0.5zM196 370.5h2.5v0.5h-2.5zM199 370.5h1.5v0.5h-1.5zM193.5 371h0.5v0.5h-0.5zM194.5 371h4v0.5h-4zM193.5 371.5h0.5v0.5h-0.5zM195 371.5h1v0.5h-1zM197 371.5h0.5v0.5h-0.5zM198 371.5h0.5v0.5h-0.5zM202.5 371.5h1v0.5h-1zM198 372h0.5v0.5h-0.5zM199.5 372h2v0.5h-2zM202.5 372h1v0.5h-1zM195 372.5h0.5v0.5h-0.5zM196 372.5h1v0.5h-1zM197.5 372.5h1.5v0.5h-1.5zM195 373h0.5v0.5h-0.5zM196 373h1v0.5h-1zM198 373h1v0.5h-1z"/>
<path fill="#111111" d="M174 344h0.5v0.5h-0.5zM177.5 344h0.5v0.5h-0.5zM178.5 344h1v0.5h-1zM180 344h0.5v0.5h-0.5zM181 344h0.5v0.5h-0.5zM172.5 344.5h0.5v0.5h-0.5zM174 344.5h1v0.5h-1zM176.5 344.5h0.5v0.5h-0.5zM177.5 344.5h0.5v0.5h-0.5zM179.5 344.5h0.5v0.5h-0.5zM181 344.5h1v0.5h-1zM170 345h0.5v0.5h-0.5zM172.5 345h2v0.5h-2zM175 345h1v0.5h-1zM176.5 345h0.5v0.5h-0.5zM179 345h0.5v0.5h-0.5zM180 345h1v0.5h-1zM181.5 345h1v0.5h-1zM183 345h1v0.5h-1zM184.5 345h1v0.5h-1zM168 345.5h1v0.5h-1zM171.5 345.5h11.5v0.5h-11.5zM183.5 345.5h0.5v0.5h-0.5zM185 345.5h0.5v0.5h-0.5zM186.5 345.5h0.5v0.5h-0.5zM168 346h2v0.5h-2zM170.5 346h14v0.5h-14zM185 346h0.5v0.5h-0.5zM168.5 346.5h17.5v0.5h-17.5zM187 346.5h1v0.5h-1zM167 347h20.5v0.5h-20.5zM189 347h1v0.5h-1zM167 347.5h22.5v0.5h-22.5zM166 348h23v0.5h-23zM165 348.5h24.5v0.5h-24.5zM164.5 349h27v0.5h-27zM164.5 349.5h26.5v0.5h-26.5zM192 349.5h0.5v0.5h-0.5zM163 350h0.5v0.5h-0.5zM165 350h26v0.5h-26zM163.5 350.5h0.5v0.5h-0.5zM165 350.5h26v0.5h-26zM163 351h1v0.5h-1zM164.5 351h27.5v0.5h-27.5zM163 351.5h1v0.5h-1zM164.5 351.5h27.5v0.5h-27.5zM192.5 351.5h0.5v0.5h-0.5zM163 352h0.5v0.5h-0.5zM164.5 352h28v0.5h-28zM193 352h0.5v0.5h-0.5zM164 352.5h29.5v0.5h-29.5zM161.5 353h0.5v0.5h-0.5zM163.5 353h29v0.5h-29zM193 353h1v0.5h-1zM163.5 353.5h29.5v0.5h-29.5zM163.5 354h30v0.5h-30zM162 354.5h1v0.5h-1zM163.5 354.5h30v0.5h-30zM194.5 354.5h0.5v0.5h-0.5zM161 355h0.5v0.5h-0.5zM163 355h30.5v0.5h-30.5zM194 355h0.5v0.5h-0.5zM161.5 355.5h0.5v0.5h-0.5zM163 355.5h31.5v0.5h-31.5zM162.5 356h31v0.5h-31zM163 356.5h30.5v0.5h-30.5zM194 356.5h0.5v0.5h-0.5zM163 357h30.5v0.5h-30.5zM162.5 357.5h31.5v0.5h-31.5zM161 358h0.5v0.5h-0.5zM162 358h33v0.5h-33zM163.5 358.5h30.5v0.5h-30.5zM194.5 358.5h0.5v0.5h-0.5zM163 359h31.5v0.5h-31.5zM161.5 359.5h1v0.5h-1zM163 359.5h31v0.5h-31zM162.5 360h32v0.5h-32zM163.5 360.5h30.5v0.5h-30.5zM162.5 361h31.5v0.5h-31.5zM163 361.5h31.5v0.5h-31.5zM161 362h0.5v0.5h-0.5zM162.5 362h31v0.5h-31zM194 362h0.5v0.5h-0.5zM162.5 362.5h0.5v0.5h-0.5zM163.5 362.5h30.5v0.5h-30.5zM163.5 363h30v0.5h-30zM163.5 363.5h30.5v0.5h-30.5zM163.5 364h31v0.5h-31zM163.5 364.5h30.5v0.5h-30.5zM163 365h0.5v0.5h-0.5zM164 365h30v0.5h-30zM163.5 365.5h31v0.5h-31zM163.5 366h31v0.5h-31zM164 366.5h29v0.5h-29zM193.5 366.5h0.5v0.5h-0.5zM163.5 367h29.5v0.5h-29.5zM163.5 367.5h29.5v0.5h-29.5zM194 367.5h0.5v0.5h-0.5zM163.5 368h0.5v0.5h-0.5zM164.5 368h29.5v0.5h-29.5zM163.5 368.5h0.5v0.5h-0.5zM165 368.5h28v0.5h-28zM164.5 369h0.5v0.5h-0.5zM165.5 369h28v0.5h-28zM164 369.5h1v0.5h-1zM165.5 369.5h27.5v0.5h-27.5zM193.5 369.5h1v0.5h-1zM164 370h0.5v0.5h-0.5zM165.5 370h28v0.5h-28zM164.5 370.5h0.5v0.5h-0.5zM165.5 370.5h27.5v0.5h-27.5zM166 371h27.5v0.5h-27.5zM166 371.5h27.5v0.5h-27.5zM166 372h27v0.5h-27zM166 372.5h26.5v0.5h-26.5zM167.5 373h11.5v0.5h-11.5zM179.5 373h1.5v0.5h-1.5zM181.5 373h10v0.5h-10zM192 373h1v0.5h-1zM166.5 373.5h0.5v0.5h-0.5zM167.5 373.5h0.5v0.5h-0.5zM170 373.5h0.5v0.5h-0.5zM173 373.5h0.5v0.5h-0.5zM174 373.5h1v0.5h-1zM175.5 373.5h3.5v0.5h-3.5zM180 373.5h1v0.5h-1zM181.5 373.5h0.5v0.5h-0.5zM182.5 373.5h2.5v0.5h-2.5zM186.5 373.5h3v0.5h-3zM190 373.5h2.5v0.5h-2.5zM166 374h1v0.5h-1zM168 374h0.5v0.5h-0.5zM169 374h0.5v0.5h-0.5zM170 374h0.5v0.5h-0.5zM173.5 374h0.5v0.5h-0.5zM175.5 374h0.5v0.5h-0.5zM179 374h0.5v0.5h-0.5zM182.5 374h0.5v0.5h-0.5zM183.5 374h1v0.5h-1zM187.5 374h1v0.5h-1zM189 374h2v0.5h-2zM180 374.5h0.5v0.5h-0.5zM181.5 374.5h0.5v0.5h-0.5zM188 375h0.5v0.5h-0.5z"/>
<path stroke="#3a3a3a" stroke-width="1.25" fill="none" d="M156.3 318H260V405.4H156.3ZM202.4 318V405.4M156.3 373.8H260"/>
<path stroke="#1c1c1c" stroke-width="1.2" fill="none" d="M171.3 405.4v5.2M202.2 405.4v5.2M226.3 405.4v5.2M250 405.4v5.2M209.45 405.4v3M213.7 405.4v3M216.71 405.4v3M219.05 405.4v3M220.95 405.4v3M222.57 405.4v3M223.96 405.4v3M225.2 405.4v3M233.55 405.4v3M237.8 405.4v3M240.81 405.4v3M243.15 405.4v3M245.05 405.4v3M246.67 405.4v3M248.06 405.4v3M249.3 405.4v3M257.25 405.4v3M177.33 405.4v3M182.12 405.4v3M186.29 405.4v3M189.69 405.4v3M192.47 405.4v3M195.25 405.4v3M197.41 405.4v3M199.42 405.4v3M165.27 405.4v3M159.25 405.4v3M171.8 405.4v5.4M172.2 405.4v5.4"/>
<path stroke="#1c1c1c" stroke-width="1.0" fill="none" d="M156.3 326.57h-4.2M156.3 345.88h-4.2M156.3 366.33h-4.2M156.3 386.7h-4.2M156.3 320.75h-2.4M156.3 340.07h-2.4M156.3 336.66h-2.4M156.3 334.25h-2.4M156.3 332.38h-2.4M156.3 330.85h-2.4M156.3 329.56h-2.4M156.3 328.44h-2.4M156.3 327.45h-2.4M156.3 360.52h-2.4M156.3 357.12h-2.4M156.3 354.7h-2.4M156.3 352.83h-2.4M156.3 351.3h-2.4M156.3 350.01h-2.4M156.3 348.89h-2.4M156.3 347.9h-2.4M156.3 380.88h-2.4M156.3 377.48h-2.4M156.3 375.07h-2.4M156.3 373.2h-2.4M156.3 371.67h-2.4M156.3 370.37h-2.4M156.3 369.25h-2.4M156.3 368.26h-2.4M156.3 386.7h-2.4M156.3 388.2h-2.4M156.3 389.7h-2.4M156.3 391.2h-2.4M156.3 392.7h-2.4M156.3 394.2h-2.4M156.3 395.7h-2.4M156.3 397.2h-2.4M156.3 398.7h-2.4M156.3 400.2h-2.4M156.3 401.7h-2.4M156.3 403.2h-2.4M156.3 404.7h-2.4M156.3 396.14h-4.2"/>
<text x="239.3" y="400.7" font-size="6.1" fill="#222">Q4-3</text>
<rect x="213" y="378.8" width="45.8" height="20" fill="#d3d3d3"/>
<text x="235.2" y="393.1" font-size="11.3" fill="#666666" text-anchor="middle">0.02%</text>
<g font-size="6.59" fill="#1e1e1e" stroke="#1e1e1e" stroke-width="0.12">
<text x="239.5" y="334.5">Q2-3</text>
<text x="180.8" y="395.5">Q3-3</text>
</g>
<g font-size="5.51" font-weight="bold" fill="#141414" stroke="#141414" stroke-width="0.2">
<text x="171.3" y="417.6" text-anchor="middle">0</text>
<text x="198.31" y="417.6">10<tspan font-size="4.32" dy="-2.92">3</tspan></text>
<text x="222.41" y="417.6">10<tspan font-size="4.32" dy="-2.92">4</tspan></text>
<text x="246.11" y="417.6">10<tspan font-size="4.32" dy="-2.92">5</tspan></text>
<text x="156.8" y="420.7" text-anchor="middle" font-size="5.18">-304</text>
<text x="149.49" y="412.4" font-size="6.59" stroke-width="0.45">M</text>
<text x="195.83" y="424.5" font-size="5.62" textLength="26.25" lengthAdjust="spacingAndGlyphs">PE-Cy7-A</text>
<text transform="translate(151.33 326.57) rotate(-90)" x="-3.02" y="0">10<tspan font-size="4.32" dy="-4.1">5</tspan></text>
<text transform="translate(151.33 345.88) rotate(-90)" x="-3.02" y="0">10<tspan font-size="4.32" dy="-4.1">4</tspan></text>
<text transform="translate(151.33 366.33) rotate(-90)" x="-3.02" y="0">10<tspan font-size="4.32" dy="-4.1">3</tspan></text>
<text transform="translate(151.33 386.7) rotate(-90)" x="-3.02" y="0">10<tspan font-size="4.32" dy="-4.1">2</tspan></text>
<text transform="translate(151.33 396.14) rotate(-90)" x="-1.51" y="0">0</text>
<text transform="translate(145.17 403.8) rotate(-90)" x="-3.89" y="0" font-size="4.86">-90</text>
</g>
</g>
<g>
<text x="293.8" y="316.2" font-size="3.3" fill="#333" fill-opacity="0.35" font-weight="bold" textLength="30" lengthAdjust="spacingAndGlyphs">Specimen_001-PIN 5 CD107a IL-2 TNF IFN CD8 T cells</text>
<path fill="#0a0a0a" fill-opacity="0.92" d="M323.5 346h1v0.5h-1zM322 346.5h1v0.5h-1zM323.5 346.5h1v0.5h-1zM318.5 347h1v0.5h-1zM322 347h1v0.5h-1zM288 347.5h0.5v0.5h-0.5zM318.5 347.5h1v0.5h-1zM286.5 348h1v0.5h-1zM288 348h0.5v0.5h-0.5zM322 348h2.5v0.5h-2.5zM325 348h1v0.5h-1zM322 348.5h3v0.5h-3zM319.5 349h1v0.5h-1zM322 349h1v0.5h-1zM323.5 349h1.5v0.5h-1.5zM325.5 349h1v0.5h-1zM319.5 349.5h1v0.5h-1zM322 349.5h1v0.5h-1zM324 349.5h1v0.5h-1zM286.5 350.5h1v0.5h-1zM321.5 350.5h1v0.5h-1zM324.5 350.5h0.5v0.5h-0.5zM286.5 351h1v0.5h-1zM319.5 351h1v0.5h-1zM321.5 351h1v0.5h-1zM324 351h1v0.5h-1zM285 351.5h1v0.5h-1zM320 351.5h0.5v0.5h-0.5zM321.5 351.5h1v0.5h-1zM323 351.5h2v0.5h-2zM325.5 351.5h1v0.5h-1zM323 352h1v0.5h-1zM324.5 352h2v0.5h-2zM327 352h0.5v0.5h-0.5zM323.5 352.5h2.5v0.5h-2.5zM327 352.5h1v0.5h-1zM321 353h1v0.5h-1zM323.5 353h1.5v0.5h-1.5zM326.5 353h1.5v0.5h-1.5zM328.5 353h0.5v0.5h-0.5zM284 353.5h1v0.5h-1zM322 353.5h3v0.5h-3zM328.5 353.5h0.5v0.5h-0.5zM330 353.5h1v0.5h-1zM320.5 354h0.5v0.5h-0.5zM321.5 354h2.5v0.5h-2.5zM325.5 354h0.5v0.5h-0.5zM326.5 354h1.5v0.5h-1.5zM330 354h1v0.5h-1zM284 354.5h1.5v0.5h-1.5zM320.5 354.5h1v0.5h-1zM322.5 354.5h2v0.5h-2zM325.5 354.5h0.5v0.5h-0.5zM326.5 354.5h0.5v0.5h-0.5zM331.5 354.5h1v0.5h-1zM284.5 355h1v0.5h-1zM322 355h2.5v0.5h-2.5zM331.5 355h1v0.5h-1zM321.5 355.5h2v0.5h-2zM326 355.5h1v0.5h-1zM286 356h1.5v0.5h-1.5zM321.5 356h3.5v0.5h-3.5zM326 356h1v0.5h-1zM330.5 356h1v0.5h-1zM285.5 356.5h0.5v0.5h-0.5zM320.5 356.5h2v0.5h-2zM323 356.5h1.5v0.5h-1.5zM325.5 356.5h1v0.5h-1zM327 356.5h1v0.5h-1zM330.5 356.5h1v0.5h-1zM343 356.5h1v0.5h-1zM284 357h1v0.5h-1zM285.5 357h0.5v0.5h-0.5zM286.5 357h1v0.5h-1zM288 357h0.5v0.5h-0.5zM320.5 357h4.5v0.5h-4.5zM325.5 357h1v0.5h-1zM332 357h1v0.5h-1zM337 357h1v0.5h-1zM343 357h1v0.5h-1zM284 357.5h1v0.5h-1zM288 357.5h0.5v0.5h-0.5zM322.5 357.5h2.5v0.5h-2.5zM326.5 357.5h1.5v0.5h-1.5zM329.5 357.5h1.5v0.5h-1.5zM337 357.5h1v0.5h-1zM285 358h1v0.5h-1zM321 358h1v0.5h-1zM322.5 358h2v0.5h-2zM325 358h0.5v0.5h-0.5zM326 358h2v0.5h-2zM285 358.5h2v0.5h-2zM321 358.5h0.5v0.5h-0.5zM322.5 358.5h1v0.5h-1zM324 358.5h3v0.5h-3zM332 358.5h1v0.5h-1zM333.5 358.5h1v0.5h-1zM338.5 358.5h1v0.5h-1zM285 359h2.5v0.5h-2.5zM321 359h1v0.5h-1zM322.5 359h1v0.5h-1zM324 359h0.5v0.5h-0.5zM331 359h4.5v0.5h-4.5zM337 359h0.5v0.5h-0.5zM338.5 359h1v0.5h-1zM284 359.5h1v0.5h-1zM286 359.5h1v0.5h-1zM322.5 359.5h1v0.5h-1zM324 359.5h2v0.5h-2zM327.5 359.5h1.5v0.5h-1.5zM331 359.5h1v0.5h-1zM333.5 359.5h1v0.5h-1zM337 359.5h1v0.5h-1zM284 360h1v0.5h-1zM286 360h1v0.5h-1zM288 360h0.5v0.5h-0.5zM323 360h4v0.5h-4zM327.5 360h1.5v0.5h-1.5zM332 360h1v0.5h-1zM337.5 360h0.5v0.5h-0.5zM339.5 360h1v0.5h-1zM285 360.5h1v0.5h-1zM288 360.5h0.5v0.5h-0.5zM321.5 360.5h0.5v0.5h-0.5zM322.5 360.5h0.5v0.5h-0.5zM325 360.5h3v0.5h-3zM329 360.5h1.5v0.5h-1.5zM331 360.5h1v0.5h-1zM285 361h1v0.5h-1zM286.5 361h1v0.5h-1zM322 361h0.5v0.5h-0.5zM323.5 361h3v0.5h-3zM327 361h1v0.5h-1zM329 361h1.5v0.5h-1.5zM333.5 361h0.5v0.5h-0.5zM336 361h1v0.5h-1zM344 361h0.5v0.5h-0.5zM287.5 361.5h1v0.5h-1zM322 361.5h4.5v0.5h-4.5zM327 361.5h0.5v0.5h-0.5zM333.5 361.5h0.5v0.5h-0.5zM336 361.5h1v0.5h-1zM344 361.5h0.5v0.5h-0.5zM283.5 362h1v0.5h-1zM287.5 362h0.5v0.5h-0.5zM322.5 362h1.5v0.5h-1.5zM324.5 362h2.5v0.5h-2.5zM286 362.5h1v0.5h-1zM322 362.5h2v0.5h-2zM325 362.5h2v0.5h-2zM340.5 362.5h1v0.5h-1zM343 362.5h1v0.5h-1zM286 363h1v0.5h-1zM322 363h2v0.5h-2zM325 363h2v0.5h-2zM327.5 363h1v0.5h-1zM340.5 363h1v0.5h-1zM321.5 363.5h2.5v0.5h-2.5zM324.5 363.5h1.5v0.5h-1.5zM326.5 363.5h2v0.5h-2zM331.5 363.5h1.5v0.5h-1.5zM335.5 363.5h1v0.5h-1zM322 364h4v0.5h-4zM326.5 364h1.5v0.5h-1.5zM331 364h2v0.5h-2zM334 364h1v0.5h-1zM335.5 364h1v0.5h-1zM322 364.5h1v0.5h-1zM323.5 364.5h1.5v0.5h-1.5zM325.5 364.5h0.5v0.5h-0.5zM327 364.5h1v0.5h-1zM330 364.5h1.5v0.5h-1.5zM334 364.5h2.5v0.5h-2.5zM339 364.5h1v0.5h-1zM284 365h0.5v0.5h-0.5zM285.5 365h1v0.5h-1zM322 365h0.5v0.5h-0.5zM324 365h1v0.5h-1zM329.5 365h1.5v0.5h-1.5zM334 365h0.5v0.5h-0.5zM335.5 365h1v0.5h-1zM284 365.5h2.5v0.5h-2.5zM321 365.5h1v0.5h-1zM323 365.5h4.5v0.5h-4.5zM329.5 365.5h1.5v0.5h-1.5zM333 365.5h1v0.5h-1zM337 365.5h2v0.5h-2zM285 366h0.5v0.5h-0.5zM321 366h1v0.5h-1zM323 366h3v0.5h-3zM328 366h0.5v0.5h-0.5zM329.5 366h1.5v0.5h-1.5zM331.5 366h1v0.5h-1zM333 366h1v0.5h-1zM335.5 366h1v0.5h-1zM337 366h2v0.5h-2zM346.5 366h1v0.5h-1zM285 366.5h0.5v0.5h-0.5zM321.5 366.5h0.5v0.5h-0.5zM322.5 366.5h1.5v0.5h-1.5zM325 366.5h1v0.5h-1zM328 366.5h0.5v0.5h-0.5zM330 366.5h1v0.5h-1zM334.5 366.5h2v0.5h-2zM339 366.5h1v0.5h-1zM346.5 366.5h1v0.5h-1zM321.5 367h3v0.5h-3zM326.5 367h0.5v0.5h-0.5zM328.5 367h1v0.5h-1zM330 367h1v0.5h-1zM334.5 367h1v0.5h-1zM338 367h1v0.5h-1zM287 367.5h1v0.5h-1zM321.5 367.5h2.5v0.5h-2.5zM324.5 367.5h3v0.5h-3zM328.5 367.5h1v0.5h-1zM330 367.5h0.5v0.5h-0.5zM331 367.5h1v0.5h-1zM335 367.5h1v0.5h-1zM338.5 367.5h0.5v0.5h-0.5zM340.5 367.5h1v0.5h-1zM287 368h1v0.5h-1zM322.5 368h5v0.5h-5zM331 368h1v0.5h-1zM335 368h1v0.5h-1zM338.5 368h0.5v0.5h-0.5zM339.5 368h2v0.5h-2zM321.5 368.5h2v0.5h-2zM325 368.5h1v0.5h-1zM326.5 368.5h0.5v0.5h-0.5zM331.5 368.5h0.5v0.5h-0.5zM338.5 368.5h0.5v0.5h-0.5zM321 369h4.5v0.5h-4.5zM326.5 369h1v0.5h-1zM328.5 369h0.5v0.5h-0.5zM331.5 369h0.5v0.5h-0.5zM320.5 369.5h4v0.5h-4zM326 369.5h1.5v0.5h-1.5zM328.5 369.5h0.5v0.5h-0.5zM321 370h0.5v0.5h-0.5zM322 370h0.5v0.5h-0.5zM323 370h2.5v0.5h-2.5zM326 370h0.5v0.5h-0.5zM327 370h1v0.5h-1zM330 370h1v0.5h-1zM332 370h0.5v0.5h-0.5zM283.5 370.5h1v0.5h-1zM320 370.5h0.5v0.5h-0.5zM321.5 370.5h1v0.5h-1zM324.5 370.5h1v0.5h-1zM327 370.5h1v0.5h-1zM330 370.5h1v0.5h-1zM332 370.5h0.5v0.5h-0.5zM339.5 370.5h0.5v0.5h-0.5zM344 370.5h1v0.5h-1zM283.5 371h1v0.5h-1zM330 371h1v0.5h-1zM339.5 371h0.5v0.5h-0.5zM344 371h1v0.5h-1z"/>
<path fill="#111111" d="M299 343h0.5v0.5h-0.5zM304.5 343h0.5v0.5h-0.5zM300.5 343.5h0.5v0.5h-0.5zM301.5 343.5h1.5v0.5h-1.5zM303.5 343.5h0.5v0.5h-0.5zM294.5 344h0.5v0.5h-0.5zM295.5 344h0.5v0.5h-0.5zM297 344h2v0.5h-2zM301 344h1.5v0.5h-1.5zM303 344h0.5v0.5h-0.5zM304 344h1v0.5h-1zM305.5 344h0.5v0.5h-0.5zM307 344h0.5v0.5h-0.5zM308.5 344h1v0.5h-1zM310 344h1v0.5h-1zM312.5 344h0.5v0.5h-0.5zM295 344.5h1v0.5h-1zM296.5 344.5h1.5v0.5h-1.5zM298.5 344.5h8v0.5h-8zM307 344.5h0.5v0.5h-0.5zM308.5 344.5h0.5v0.5h-0.5zM293 345h16.5v0.5h-16.5zM310 345h0.5v0.5h-0.5zM311.5 345h0.5v0.5h-0.5zM314 345h0.5v0.5h-0.5zM292.5 345.5h0.5v0.5h-0.5zM293.5 345.5h18.5v0.5h-18.5zM292 346h21v0.5h-21zM314 346h0.5v0.5h-0.5zM291 346.5h1v0.5h-1zM292.5 346.5h21v0.5h-21zM289 347h1.5v0.5h-1.5zM291 347h23.5v0.5h-23.5zM315 347h0.5v0.5h-0.5zM289 347.5h1.5v0.5h-1.5zM291 347.5h24.5v0.5h-24.5zM316 347.5h0.5v0.5h-0.5zM317.5 347.5h0.5v0.5h-0.5zM289 348h0.5v0.5h-0.5zM290 348h26v0.5h-26zM316.5 348h0.5v0.5h-0.5zM289 348.5h28v0.5h-28zM288.5 349h28v0.5h-28zM317 349h0.5v0.5h-0.5zM288.5 349.5h28.5v0.5h-28.5zM288 350h29.5v0.5h-29.5zM318 350h0.5v0.5h-0.5zM288.5 350.5h30v0.5h-30zM287.5 351h0.5v0.5h-0.5zM289 351h29.5v0.5h-29.5zM319 351h0.5v0.5h-0.5zM287.5 351.5h1v0.5h-1zM289 351.5h30v0.5h-30zM319.5 351.5h0.5v0.5h-0.5zM288.5 352h31.5v0.5h-31.5zM288.5 352.5h31v0.5h-31zM288 353h32.5v0.5h-32.5zM287.5 353.5h32v0.5h-32zM287.5 354h32v0.5h-32zM320 354h0.5v0.5h-0.5zM321 354h0.5v0.5h-0.5zM287 354.5h33.5v0.5h-33.5zM287.5 355h33.5v0.5h-33.5zM288 355.5h32.5v0.5h-32.5zM287.5 356h32.5v0.5h-32.5zM321 356h0.5v0.5h-0.5zM286.5 356.5h0.5v0.5h-0.5zM287.5 356.5h32.5v0.5h-32.5zM287.5 357h0.5v0.5h-0.5zM288.5 357h32v0.5h-32zM287 357.5h1v0.5h-1zM288.5 357.5h33.5v0.5h-33.5zM288 358h33v0.5h-33zM288 358.5h33v0.5h-33zM321.5 358.5h1v0.5h-1zM287.5 359h0.5v0.5h-0.5zM288.5 359h32.5v0.5h-32.5zM322 359h0.5v0.5h-0.5zM288 359.5h34v0.5h-34zM288.5 360h34v0.5h-34zM288.5 360.5h33v0.5h-33zM322 360.5h0.5v0.5h-0.5zM323 360.5h0.5v0.5h-0.5zM287.5 361h34.5v0.5h-34.5zM288.5 361.5h33.5v0.5h-33.5zM288 362h34.5v0.5h-34.5zM288.5 362.5h33.5v0.5h-33.5zM288.5 363h0.5v0.5h-0.5zM289.5 363h32.5v0.5h-32.5zM288 363.5h33.5v0.5h-33.5zM289 364h33v0.5h-33zM289 364.5h33v0.5h-33zM289.5 365h32.5v0.5h-32.5zM289.5 365.5h31.5v0.5h-31.5zM289.5 366h31.5v0.5h-31.5zM289.5 366.5h31.5v0.5h-31.5zM289 367h0.5v0.5h-0.5zM290 367h31.5v0.5h-31.5zM289 367.5h32v0.5h-32zM289 368h33v0.5h-33zM290 368.5h31v0.5h-31zM290 369h31v0.5h-31zM288.5 369.5h0.5v0.5h-0.5zM289.5 369.5h0.5v0.5h-0.5zM290.5 369.5h30v0.5h-30zM289.5 370h31.5v0.5h-31.5zM321.5 370h0.5v0.5h-0.5zM322.5 370h0.5v0.5h-0.5zM290.5 370.5h29.5v0.5h-29.5zM291 371h3v0.5h-3zM294.5 371h25.5v0.5h-25.5zM320.5 371h0.5v0.5h-0.5zM291.5 371.5h1v0.5h-1zM293.5 371.5h4.5v0.5h-4.5zM298.5 371.5h1v0.5h-1zM300 371.5h3v0.5h-3zM303.5 371.5h2v0.5h-2zM306 371.5h1v0.5h-1zM308 371.5h2v0.5h-2zM310.5 371.5h3v0.5h-3zM314.5 371.5h3.5v0.5h-3.5zM320 371.5h0.5v0.5h-0.5zM292.5 372h0.5v0.5h-0.5zM294 372h0.5v0.5h-0.5zM296 372h0.5v0.5h-0.5zM297.5 372h0.5v0.5h-0.5zM298.5 372h0.5v0.5h-0.5zM301.5 372h0.5v0.5h-0.5zM303 372h0.5v0.5h-0.5zM304 372h0.5v0.5h-0.5zM305.5 372h0.5v0.5h-0.5zM306.5 372h2v0.5h-2zM309.5 372h1v0.5h-1zM313.5 372h1v0.5h-1zM316 372h1v0.5h-1zM318 372h0.5v0.5h-0.5zM292.5 372.5h0.5v0.5h-0.5zM294.5 372.5h0.5v0.5h-0.5zM296.5 372.5h0.5v0.5h-0.5zM299 372.5h0.5v0.5h-0.5zM302.5 372.5h1v0.5h-1zM304.5 372.5h0.5v0.5h-0.5zM310.5 372.5h0.5v0.5h-0.5zM316 372.5h0.5v0.5h-0.5zM317.5 372.5h1v0.5h-1zM320 372.5h0.5v0.5h-0.5zM292.5 373h0.5v0.5h-0.5zM294.5 373h0.5v0.5h-0.5z"/>
<path stroke="#3a3a3a" stroke-width="1.25" fill="none" d="M280 317.5H383.5V403H280ZM325.4 317.5V403M280 371.3H383.5"/>
<path stroke="#1c1c1c" stroke-width="1.2" fill="none" d="M295 403v5.2M325.2 403v5.2M350 403v5.2M373.8 403v5.2M332.67 403v3M337.03 403v3M340.13 403v3M342.53 403v3M344.5 403v3M346.16 403v3M347.6 403v3M348.87 403v3M357.47 403v3M361.83 403v3M364.93 403v3M367.33 403v3M369.3 403v3M370.96 403v3M372.4 403v3M373.67 403v3M381.27 403v3M300.89 403v3M305.57 403v3M309.65 403v3M312.97 403v3M315.69 403v3M318.4 403v3M320.52 403v3M322.48 403v3M289.11 403v3M283.22 403v3M295.5 403v5.4M295.9 403v5.4"/>
<path stroke="#1c1c1c" stroke-width="1.0" fill="none" d="M280 325.88h-4.2M280 344.77h-4.2M280 364.78h-4.2M280 384.7h-4.2M280 320.19h-2.4M280 339.09h-2.4M280 335.76h-2.4M280 333.4h-2.4M280 331.57h-2.4M280 330.07h-2.4M280 328.81h-2.4M280 327.71h-2.4M280 326.74h-2.4M280 359.09h-2.4M280 355.77h-2.4M280 353.41h-2.4M280 351.57h-2.4M280 350.08h-2.4M280 348.81h-2.4M280 347.72h-2.4M280 346.75h-2.4M280 379.01h-2.4M280 375.69h-2.4M280 373.33h-2.4M280 371.5h-2.4M280 370h-2.4M280 368.73h-2.4M280 367.64h-2.4M280 366.67h-2.4M280 384.7h-2.4M280 386.2h-2.4M280 387.7h-2.4M280 389.2h-2.4M280 390.7h-2.4M280 392.2h-2.4M280 393.7h-2.4M280 395.2h-2.4M280 396.7h-2.4M280 398.2h-2.4M280 399.7h-2.4M280 401.2h-2.4M280 402.7h-2.4M280 393.94h-4.2"/>
<text x="358" y="399.9" font-size="6.1" fill="#222">Q4-3</text>
<rect x="331.3" y="378" width="46.2" height="20" fill="#d3d3d3"/>
<text x="353.7" y="392.3" font-size="11.3" fill="#666666" text-anchor="middle">0.08%</text>
<g font-size="6.58" fill="#1e1e1e" stroke="#1e1e1e" stroke-width="0.12">
<text x="363" y="333.8">Q2-3</text>
<text x="303.8" y="392.5">Q3-3</text>
</g>
<g font-size="5.5" font-weight="bold" fill="#141414" stroke="#141414" stroke-width="0.2">
<text x="295" y="415.2" text-anchor="middle">0</text>
<text x="321.32" y="415.2">10<tspan font-size="4.31" dy="-2.91">3</tspan></text>
<text x="346.12" y="415.2">10<tspan font-size="4.31" dy="-2.91">4</tspan></text>
<text x="369.92" y="415.2">10<tspan font-size="4.31" dy="-2.91">5</tspan></text>
<text x="280.5" y="418.3" text-anchor="middle" font-size="5.17">-304</text>
<text x="273.21" y="410" font-size="6.58" stroke-width="0.45">M</text>
<text x="318.84" y="422.1" font-size="5.61" textLength="26.2" lengthAdjust="spacingAndGlyphs">PE-Cy7-A</text>
<text transform="translate(275.04 325.88) rotate(-90)" x="-3.02" y="0">10<tspan font-size="4.31" dy="-4.1">5</tspan></text>
<text transform="translate(275.04 344.77) rotate(-90)" x="-3.02" y="0">10<tspan font-size="4.31" dy="-4.1">4</tspan></text>
<text transform="translate(275.04 364.78) rotate(-90)" x="-3.02" y="0">10<tspan font-size="4.31" dy="-4.1">3</tspan></text>
<text transform="translate(275.04 384.7) rotate(-90)" x="-3.02" y="0">10<tspan font-size="4.31" dy="-4.1">2</tspan></text>
<text transform="translate(275.04 393.94) rotate(-90)" x="-1.51" y="0">0</text>
<text transform="translate(268.9 401.4) rotate(-90)" x="-3.88" y="0" font-size="4.85">-90</text>
</g>
</g>
<g>
<text x="417.5" y="317.2" font-size="3.3" fill="#333" fill-opacity="0.4" font-weight="bold" textLength="61.3" lengthAdjust="spacingAndGlyphs">Specimen_001-PIN 5 CD107a IL-2 TNF IFN CD8 T cells</text>
<path fill="#0a0a0a" fill-opacity="0.92" d="M453.5 349h1v0.5h-1zM409.5 349.5h1v0.5h-1zM409.5 350h1v0.5h-1zM461 350h1v0.5h-1zM464 350h1v0.5h-1zM455 350.5h0.5v0.5h-0.5zM461 350.5h1v0.5h-1zM464 350.5h1v0.5h-1zM412 351h1v0.5h-1zM455 351h0.5v0.5h-0.5zM413 351.5h0.5v0.5h-0.5zM453 352.5h1v0.5h-1zM412.5 353h0.5v0.5h-0.5zM449.5 353h1.5v0.5h-1.5zM451.5 353h0.5v0.5h-0.5zM412.5 353.5h0.5v0.5h-0.5zM441.5 353.5h1v0.5h-1zM447.5 353.5h1v0.5h-1zM449.5 353.5h1v0.5h-1zM451.5 353.5h0.5v0.5h-0.5zM461 353.5h1v0.5h-1zM466.5 353.5h1v0.5h-1zM446.5 354h0.5v0.5h-0.5zM447.5 354h1v0.5h-1zM461 354h1v0.5h-1zM462.5 354h1v0.5h-1zM413 354.5h0.5v0.5h-0.5zM446.5 354.5h0.5v0.5h-0.5zM462.5 354.5h1v0.5h-1zM466 354.5h0.5v0.5h-0.5zM467 354.5h0.5v0.5h-0.5zM413 355h0.5v0.5h-0.5zM445 355h0.5v0.5h-0.5zM446.5 355h1v0.5h-1zM449 355h1v0.5h-1zM450.5 355h2v0.5h-2zM466 355h0.5v0.5h-0.5zM467 355h0.5v0.5h-0.5zM445.5 355.5h0.5v0.5h-0.5zM446.5 355.5h2v0.5h-2zM449 355.5h2v0.5h-2zM447.5 356h2v0.5h-2zM450 356h0.5v0.5h-0.5zM459.5 356h1v0.5h-1zM448 356.5h1.5v0.5h-1.5zM450 356.5h0.5v0.5h-0.5zM452.5 356.5h0.5v0.5h-0.5zM459.5 356.5h1.5v0.5h-1.5zM413 357h0.5v0.5h-0.5zM446.5 357h0.5v0.5h-0.5zM447.5 357h2v0.5h-2zM450.5 357h1v0.5h-1zM452.5 357h1.5v0.5h-1.5zM460.5 357h0.5v0.5h-0.5zM413 357.5h0.5v0.5h-0.5zM446.5 357.5h1.5v0.5h-1.5zM448.5 357.5h2v0.5h-2zM453.5 357.5h0.5v0.5h-0.5zM455.5 357.5h1v0.5h-1zM460.5 357.5h1v0.5h-1zM463.5 357.5h1v0.5h-1zM469 357.5h0.5v0.5h-0.5zM447.5 358h0.5v0.5h-0.5zM449.5 358h3.5v0.5h-3.5zM453.5 358h0.5v0.5h-0.5zM455.5 358h1v0.5h-1zM457 358h1v0.5h-1zM459.5 358h1v0.5h-1zM462.5 358h2v0.5h-2zM469 358h0.5v0.5h-0.5zM471 358h1v0.5h-1zM446.5 358.5h1.5v0.5h-1.5zM449 358.5h1v0.5h-1zM450.5 358.5h1.5v0.5h-1.5zM454 358.5h1v0.5h-1zM459.5 358.5h1v0.5h-1zM462 358.5h1.5v0.5h-1.5zM471 358.5h1v0.5h-1zM447.5 359h0.5v0.5h-0.5zM449 359h3v0.5h-3zM457.5 359h1v0.5h-1zM410.5 359.5h1v0.5h-1zM447.5 359.5h0.5v0.5h-0.5zM449.5 359.5h0.5v0.5h-0.5zM450.5 359.5h1v0.5h-1zM460 359.5h1v0.5h-1zM461.5 359.5h1v0.5h-1zM410.5 360h2v0.5h-2zM447.5 360h0.5v0.5h-0.5zM448.5 360h1.5v0.5h-1.5zM451 360h1v0.5h-1zM452.5 360h1v0.5h-1zM459.5 360h1.5v0.5h-1.5zM461.5 360h2v0.5h-2zM410 360.5h1v0.5h-1zM448.5 360.5h2.5v0.5h-2.5zM452.5 360.5h1v0.5h-1zM459 360.5h1.5v0.5h-1.5zM462 360.5h1.5v0.5h-1.5zM409.5 361h1v0.5h-1zM411.5 361h1v0.5h-1zM413 361h0.5v0.5h-0.5zM447.5 361h0.5v0.5h-0.5zM448.5 361h1v0.5h-1zM452 361h1v0.5h-1zM457 361h0.5v0.5h-0.5zM459 361h1v0.5h-1zM471 361h1v0.5h-1zM409.5 361.5h1v0.5h-1zM411 361.5h1.5v0.5h-1.5zM413 361.5h0.5v0.5h-0.5zM447.5 361.5h0.5v0.5h-0.5zM448.5 361.5h1v0.5h-1zM450.5 361.5h1.5v0.5h-1.5zM456 361.5h1.5v0.5h-1.5zM459 361.5h1.5v0.5h-1.5zM467 361.5h0.5v0.5h-0.5zM471 361.5h1v0.5h-1zM410.5 362h1v0.5h-1zM447.5 362h2v0.5h-2zM450 362h2v0.5h-2zM453.5 362h0.5v0.5h-0.5zM454.5 362h1v0.5h-1zM456 362h1v0.5h-1zM460 362h0.5v0.5h-0.5zM462.5 362h1v0.5h-1zM466.5 362h1v0.5h-1zM410.5 362.5h0.5v0.5h-0.5zM447 362.5h0.5v0.5h-0.5zM448 362.5h2v0.5h-2zM451 362.5h1v0.5h-1zM452.5 362.5h1.5v0.5h-1.5zM454.5 362.5h1v0.5h-1zM457 362.5h2v0.5h-2zM461 362.5h1v0.5h-1zM462.5 362.5h1v0.5h-1zM466 362.5h1.5v0.5h-1.5zM411 363h1v0.5h-1zM447 363h2.5v0.5h-2.5zM451 363h2.5v0.5h-2.5zM456.5 363h1v0.5h-1zM458.5 363h3.5v0.5h-3.5zM466 363h0.5v0.5h-0.5zM411 363.5h1.5v0.5h-1.5zM447 363.5h0.5v0.5h-0.5zM448 363.5h4.5v0.5h-4.5zM457.5 363.5h1v0.5h-1zM459 363.5h2v0.5h-2zM470 363.5h0.5v0.5h-0.5zM413.5 364h0.5v0.5h-0.5zM446 364h1v0.5h-1zM448 364h3.5v0.5h-3.5zM457.5 364h1v0.5h-1zM470 364h0.5v0.5h-0.5zM411.5 364.5h1v0.5h-1zM413.5 364.5h0.5v0.5h-0.5zM446.5 364.5h3v0.5h-3zM450.5 364.5h1v0.5h-1zM452 364.5h1v0.5h-1zM455.5 364.5h1v0.5h-1zM459 364.5h1v0.5h-1zM446.5 365h2v0.5h-2zM450.5 365h1v0.5h-1zM452 365h1v0.5h-1zM459 365h1v0.5h-1zM464.5 365h1v0.5h-1zM445.5 365.5h3.5v0.5h-3.5zM450.5 365.5h1v0.5h-1zM452.5 365.5h1v0.5h-1zM456.5 365.5h1v0.5h-1zM464.5 365.5h1v0.5h-1zM445 366h0.5v0.5h-0.5zM446 366h4v0.5h-4zM451 366h2v0.5h-2zM454.5 366h0.5v0.5h-0.5zM456.5 366h1v0.5h-1zM410 366.5h0.5v0.5h-0.5zM445.5 366.5h1v0.5h-1zM448.5 366.5h1.5v0.5h-1.5zM451.5 366.5h2v0.5h-2zM454.5 366.5h0.5v0.5h-0.5zM461 366.5h1v0.5h-1zM410 367h0.5v0.5h-0.5zM412 367h1v0.5h-1zM413.5 367h1v0.5h-1zM446.5 367h3v0.5h-3zM451 367h2v0.5h-2zM461 367h1v0.5h-1zM413.5 367.5h1v0.5h-1zM445 367.5h1v0.5h-1zM446.5 367.5h1v0.5h-1zM448 367.5h1.5v0.5h-1.5zM451 367.5h2v0.5h-2zM462.5 367.5h1v0.5h-1zM444.5 368h0.5v0.5h-0.5zM446 368h2.5v0.5h-2.5zM449 368h1.5v0.5h-1.5zM451 368h1v0.5h-1zM452.5 368h1v0.5h-1zM462.5 368h1v0.5h-1zM414.5 368.5h0.5v0.5h-0.5zM444.5 368.5h1v0.5h-1zM446 368.5h4.5v0.5h-4.5zM414.5 369h1v0.5h-1zM445.5 369h5v0.5h-5zM451.5 369h0.5v0.5h-0.5zM452.5 369h1v0.5h-1zM463 369h1v0.5h-1zM444.5 369.5h1v0.5h-1zM447.5 369.5h1v0.5h-1zM449.5 369.5h1v0.5h-1zM451.5 369.5h0.5v0.5h-0.5zM452.5 369.5h1v0.5h-1zM463 369.5h1v0.5h-1zM414.5 370h1v0.5h-1zM442.5 370h1v0.5h-1zM445 370h1.5v0.5h-1.5zM448.5 370h1.5v0.5h-1.5zM452.5 370h1v0.5h-1zM411.5 370.5h1v0.5h-1zM414.5 370.5h1v0.5h-1zM443 370.5h1.5v0.5h-1.5zM445 370.5h1v0.5h-1zM446.5 370.5h3.5v0.5h-3.5zM452 370.5h1.5v0.5h-1.5zM460 370.5h1v0.5h-1zM462.5 370.5h0.5v0.5h-0.5zM410 371h1v0.5h-1zM443 371h1v0.5h-1zM446.5 371h0.5v0.5h-0.5zM450.5 371h1v0.5h-1zM452 371h0.5v0.5h-0.5zM460 371h1v0.5h-1zM462.5 371h0.5v0.5h-0.5zM450.5 371.5h1v0.5h-1z"/>
<path fill="#111111" d="M419.5 346h0.5v0.5h-0.5zM425 346h0.5v0.5h-0.5zM428 346h0.5v0.5h-0.5zM418 346.5h1v0.5h-1zM419.5 346.5h0.5v0.5h-0.5zM421 346.5h0.5v0.5h-0.5zM425 346.5h0.5v0.5h-0.5zM426 346.5h1v0.5h-1zM428 346.5h0.5v0.5h-0.5zM430 346.5h0.5v0.5h-0.5zM418.5 347h0.5v0.5h-0.5zM420 347h0.5v0.5h-0.5zM422 347h0.5v0.5h-0.5zM423 347h1v0.5h-1zM425 347h0.5v0.5h-0.5zM426 347h1v0.5h-1zM428.5 347h0.5v0.5h-0.5zM431.5 347h0.5v0.5h-0.5zM433.5 347h1v0.5h-1zM418 347.5h2v0.5h-2zM420.5 347.5h7v0.5h-7zM428 347.5h3v0.5h-3zM431.5 347.5h1v0.5h-1zM433.5 347.5h0.5v0.5h-0.5zM416.5 348h0.5v0.5h-0.5zM418 348h14v0.5h-14zM432.5 348h1v0.5h-1zM434 348h1v0.5h-1zM435.5 348h0.5v0.5h-0.5zM417 348.5h18v0.5h-18zM435.5 348.5h0.5v0.5h-0.5zM416 349h19v0.5h-19zM414 349.5h0.5v0.5h-0.5zM415.5 349.5h19.5v0.5h-19.5zM435.5 349.5h1.5v0.5h-1.5zM438 349.5h0.5v0.5h-0.5zM414 350h0.5v0.5h-0.5zM415 350h21v0.5h-21zM437 350h0.5v0.5h-0.5zM414.5 350.5h23.5v0.5h-23.5zM413 351h25v0.5h-25zM413.5 351.5h25.5v0.5h-25.5zM440 351.5h0.5v0.5h-0.5zM413.5 352h26.5v0.5h-26.5zM441 352h0.5v0.5h-0.5zM414 352.5h25v0.5h-25zM439.5 352.5h0.5v0.5h-0.5zM442.5 352.5h0.5v0.5h-0.5zM412 353h0.5v0.5h-0.5zM413 353h26.5v0.5h-26.5zM440.5 353h0.5v0.5h-0.5zM442.5 353h0.5v0.5h-0.5zM413 353.5h28.5v0.5h-28.5zM442.5 353.5h0.5v0.5h-0.5zM412.5 354h31.5v0.5h-31.5zM444.5 354h0.5v0.5h-0.5zM413.5 354.5h31v0.5h-31zM445 354.5h0.5v0.5h-0.5zM412 355h0.5v0.5h-0.5zM413.5 355h31.5v0.5h-31.5zM445.5 355h0.5v0.5h-0.5zM413.5 355.5h32v0.5h-32zM413.5 356h32.5v0.5h-32.5zM446.5 356h0.5v0.5h-0.5zM412.5 356.5h0.5v0.5h-0.5zM413.5 356.5h33.5v0.5h-33.5zM412 357h0.5v0.5h-0.5zM413.5 357h33v0.5h-33zM412 357.5h0.5v0.5h-0.5zM413.5 357.5h33v0.5h-33zM413.5 358h34v0.5h-34zM412.5 358.5h0.5v0.5h-0.5zM413.5 358.5h33v0.5h-33zM412.5 359h0.5v0.5h-0.5zM413.5 359h34v0.5h-34zM414 359.5h33.5v0.5h-33.5zM414 360h33.5v0.5h-33.5zM414 360.5h33.5v0.5h-33.5zM414 361h0.5v0.5h-0.5zM415 361h32.5v0.5h-32.5zM413.5 361.5h34v0.5h-34zM414 362h33.5v0.5h-33.5zM414.5 362.5h32.5v0.5h-32.5zM447.5 362.5h0.5v0.5h-0.5zM414.5 363h32.5v0.5h-32.5zM413 363.5h0.5v0.5h-0.5zM415 363.5h32v0.5h-32zM415 364h31v0.5h-31zM447 364h1v0.5h-1zM414.5 364.5h32v0.5h-32zM415 365h31v0.5h-31zM415 365.5h30.5v0.5h-30.5zM416 366h29v0.5h-29zM445.5 366h0.5v0.5h-0.5zM414.5 366.5h31v0.5h-31zM447 366.5h0.5v0.5h-0.5zM415 367h0.5v0.5h-0.5zM416 367h30v0.5h-30zM415.5 367.5h29.5v0.5h-29.5zM446 367.5h0.5v0.5h-0.5zM416.5 368h27.5v0.5h-27.5zM445 368h1v0.5h-1zM415 368.5h1v0.5h-1zM416.5 368.5h28v0.5h-28zM415.5 369h0.5v0.5h-0.5zM417 369h26.5v0.5h-26.5zM416 369.5h27.5v0.5h-27.5zM417 370h25.5v0.5h-25.5zM444 370h0.5v0.5h-0.5zM417 370.5h0.5v0.5h-0.5zM418 370.5h25v0.5h-25zM416 371h0.5v0.5h-0.5zM417.5 371h25.5v0.5h-25.5zM418 371.5h15.5v0.5h-15.5zM434 371.5h6.5v0.5h-6.5zM441 371.5h1v0.5h-1zM442.5 371.5h1v0.5h-1zM417 372h0.5v0.5h-0.5zM418 372h1v0.5h-1zM419.5 372h1v0.5h-1zM421 372h0.5v0.5h-0.5zM423.5 372h0.5v0.5h-0.5zM424.5 372h0.5v0.5h-0.5zM425.5 372h2v0.5h-2zM428 372h1v0.5h-1zM430 372h1v0.5h-1zM432 372h1v0.5h-1zM433.5 372h0.5v0.5h-0.5zM435 372h1v0.5h-1zM436.5 372h3.5v0.5h-3.5zM419.5 372.5h0.5v0.5h-0.5zM423 372.5h0.5v0.5h-0.5zM425 372.5h1.5v0.5h-1.5zM427.5 372.5h1.5v0.5h-1.5zM431 372.5h0.5v0.5h-0.5zM434 372.5h1.5v0.5h-1.5zM438 372.5h0.5v0.5h-0.5zM439 372.5h1v0.5h-1zM421.5 373h0.5v0.5h-0.5zM423.5 373h0.5v0.5h-0.5zM425 373h0.5v0.5h-0.5zM428 373h0.5v0.5h-0.5zM431 373h0.5v0.5h-0.5zM436 373h0.5v0.5h-0.5zM437 373h0.5v0.5h-0.5zM437 373.5h0.5v0.5h-0.5z"/>
<path stroke="#3a3a3a" stroke-width="1.25" fill="none" d="M406.3 318.3H510.5V403.6H406.3ZM451.6 318.3V403.6M406.3 372H510.5"/>
<path stroke="#1c1c1c" stroke-width="1.2" fill="none" d="M421.3 403.6v5.2M451.3 403.6v5.2M476.3 403.6v5.2M500 403.6v5.2M458.83 403.6v3M463.23 403.6v3M466.35 403.6v3M468.77 403.6v3M470.75 403.6v3M472.43 403.6v3M473.88 403.6v3M475.16 403.6v3M483.83 403.6v3M488.23 403.6v3M491.35 403.6v3M493.77 403.6v3M495.75 403.6v3M497.43 403.6v3M498.88 403.6v3M500.16 403.6v3M507.53 403.6v3M427.15 403.6v3M431.8 403.6v3M435.85 403.6v3M439.15 403.6v3M441.85 403.6v3M444.55 403.6v3M446.65 403.6v3M448.6 403.6v3M415.45 403.6v3M409.6 403.6v3M421.8 403.6v5.4M422.2 403.6v5.4"/>
<path stroke="#1c1c1c" stroke-width="1.0" fill="none" d="M406.3 326.66h-4.2M406.3 345.51h-4.2M406.3 365.47h-4.2M406.3 385.35h-4.2M406.3 320.98h-2.4M406.3 339.84h-2.4M406.3 336.52h-2.4M406.3 334.16h-2.4M406.3 332.33h-2.4M406.3 330.84h-2.4M406.3 329.58h-2.4M406.3 328.49h-2.4M406.3 327.52h-2.4M406.3 359.8h-2.4M406.3 356.48h-2.4M406.3 354.12h-2.4M406.3 352.29h-2.4M406.3 350.8h-2.4M406.3 349.54h-2.4M406.3 348.45h-2.4M406.3 347.48h-2.4M406.3 379.67h-2.4M406.3 376.35h-2.4M406.3 374h-2.4M406.3 372.17h-2.4M406.3 370.68h-2.4M406.3 369.41h-2.4M406.3 368.32h-2.4M406.3 367.36h-2.4M406.3 385.35h-2.4M406.3 386.85h-2.4M406.3 388.35h-2.4M406.3 389.85h-2.4M406.3 391.35h-2.4M406.3 392.85h-2.4M406.3 394.35h-2.4M406.3 395.85h-2.4M406.3 397.35h-2.4M406.3 398.85h-2.4M406.3 400.35h-2.4M406.3 401.85h-2.4M406.3 403.35h-2.4M406.3 394.56h-4.2"/>
<text x="484.3" y="399.9" font-size="6.1" fill="#222">Q4-3</text>
<rect x="457.5" y="378" width="46.3" height="20" fill="#d3d3d3"/>
<text x="479.95" y="392.3" font-size="11.3" fill="#666666" text-anchor="middle">0.14%</text>
<g font-size="6.62" fill="#1e1e1e" stroke="#1e1e1e" stroke-width="0.12">
<text x="490" y="334.3">Q2-3</text>
<text x="430.8" y="393">Q3-3</text>
</g>
<g font-size="5.54" font-weight="bold" fill="#141414" stroke="#141414" stroke-width="0.2">
<text x="421.3" y="415.8" text-anchor="middle">0</text>
<text x="447.39" y="415.8">10<tspan font-size="4.34" dy="-2.93">3</tspan></text>
<text x="472.39" y="415.8">10<tspan font-size="4.34" dy="-2.93">4</tspan></text>
<text x="496.09" y="415.8">10<tspan font-size="4.34" dy="-2.93">5</tspan></text>
<text x="406.8" y="418.9" text-anchor="middle" font-size="5.21">-304</text>
<text x="399.46" y="410.6" font-size="6.62" stroke-width="0.45">M</text>
<text x="444.9" y="422.7" font-size="5.64" textLength="26.38" lengthAdjust="spacingAndGlyphs">PE-Cy7-A</text>
<text transform="translate(401.31 326.66) rotate(-90)" x="-3.04" y="0">10<tspan font-size="4.34" dy="-4.12">5</tspan></text>
<text transform="translate(401.31 345.51) rotate(-90)" x="-3.04" y="0">10<tspan font-size="4.34" dy="-4.12">4</tspan></text>
<text transform="translate(401.31 365.47) rotate(-90)" x="-3.04" y="0">10<tspan font-size="4.34" dy="-4.12">3</tspan></text>
<text transform="translate(401.31 385.35) rotate(-90)" x="-3.04" y="0">10<tspan font-size="4.34" dy="-4.12">2</tspan></text>
<text transform="translate(401.31 394.56) rotate(-90)" x="-1.52" y="0">0</text>
<text transform="translate(395.12 402) rotate(-90)" x="-3.91" y="0" font-size="4.88">-90</text>
</g>
</g>
<g>
<text x="48.8" y="451.8" font-size="3.3" fill="#333" fill-opacity="0.8" font-weight="bold" textLength="52.5" lengthAdjust="spacingAndGlyphs">Specimen_001-PIN 5 CD107a IL-2 TNF IFN CD8 T cells</text>
<path fill="#0a0a0a" fill-opacity="0.92" d="M106.5 484h0.5v0.5h-0.5zM106.5 484.5h0.5v0.5h-0.5zM107 486.5h1v0.5h-1zM45.5 487h2v0.5h-2zM107 487h1v0.5h-1zM46.5 487.5h1v0.5h-1zM96 489.5h1v0.5h-1zM48.5 491h0.5v0.5h-0.5zM92 491.5h1v0.5h-1zM92 492h1v0.5h-1zM103 492.5h0.5v0.5h-0.5zM103 493h0.5v0.5h-0.5zM48.5 494h0.5v0.5h-0.5zM99 494h1v0.5h-1zM44.5 494.5h1v0.5h-1zM48.5 494.5h0.5v0.5h-0.5zM99 494.5h1v0.5h-1zM46.5 495h2.5v0.5h-2.5zM98 495h1v0.5h-1zM105.5 495h1v0.5h-1zM46.5 495.5h2.5v0.5h-2.5zM49.5 495.5h1v0.5h-1zM103.5 495.5h0.5v0.5h-0.5zM46.5 496h1.5v0.5h-1.5zM48.5 496h0.5v0.5h-0.5zM49.5 496h1v0.5h-1zM103.5 496h0.5v0.5h-0.5zM45.5 496.5h0.5v0.5h-0.5zM48.5 496.5h2v0.5h-2zM45.5 497h0.5v0.5h-0.5zM49.5 497h0.5v0.5h-0.5zM50.5 497h0.5v0.5h-0.5zM49.5 497.5h0.5v0.5h-0.5zM50.5 497.5h0.5v0.5h-0.5zM51 498h0.5v0.5h-0.5zM43 498.5h1v0.5h-1zM46.5 498.5h1v0.5h-1zM48.5 498.5h1v0.5h-1zM50.5 498.5h1v0.5h-1zM43 499h1v0.5h-1zM47.5 499h2.5v0.5h-2.5zM50.5 499h1v0.5h-1zM47 499.5h3v0.5h-3zM50.5 499.5h1v0.5h-1zM43.5 500h1v0.5h-1zM47 500h2.5v0.5h-2.5zM51 500h1v0.5h-1zM43.5 500.5h1v0.5h-1zM45.5 500.5h0.5v0.5h-0.5zM47.5 500.5h1v0.5h-1zM49 500.5h1v0.5h-1zM51 500.5h0.5v0.5h-0.5zM45.5 501h1.5v0.5h-1.5zM47.5 501h1v0.5h-1zM49 501h1v0.5h-1zM52 501h0.5v0.5h-0.5zM48 501.5h0.5v0.5h-0.5zM51.5 501.5h0.5v0.5h-0.5zM48 502h0.5v0.5h-0.5zM51.5 502.5h1v0.5h-1zM51.5 503h1v0.5h-1zM45.5 503.5h1v0.5h-1zM45.5 505h0.5v0.5h-0.5zM46.5 505h2v0.5h-2zM51.5 505h0.5v0.5h-0.5zM45.5 505.5h0.5v0.5h-0.5zM51.5 505.5h1v0.5h-1zM48.5 506h0.5v0.5h-0.5zM51.5 506h1v0.5h-1zM48.5 506.5h0.5v0.5h-0.5zM45.5 507h0.5v0.5h-0.5zM45.5 507.5h0.5v0.5h-0.5z"/>
<path fill="#111111" d="M67 478h0.5v0.5h-0.5zM67.5 478.5h0.5v0.5h-0.5zM73 478.5h0.5v0.5h-0.5zM80 478.5h0.5v0.5h-0.5zM58.5 479h0.5v0.5h-0.5zM61 479h0.5v0.5h-0.5zM63.5 479h0.5v0.5h-0.5zM66 479h1v0.5h-1zM67.5 479h0.5v0.5h-0.5zM69 479h0.5v0.5h-0.5zM76 479h0.5v0.5h-0.5zM82 479h0.5v0.5h-0.5zM54 479.5h1v0.5h-1zM57 479.5h0.5v0.5h-0.5zM58.5 479.5h0.5v0.5h-0.5zM59.5 479.5h1v0.5h-1zM61.5 479.5h0.5v0.5h-0.5zM63.5 479.5h0.5v0.5h-0.5zM64.5 479.5h1v0.5h-1zM66 479.5h0.5v0.5h-0.5zM68 479.5h1.5v0.5h-1.5zM73 479.5h0.5v0.5h-0.5zM74.5 479.5h0.5v0.5h-0.5zM75.5 479.5h0.5v0.5h-0.5zM78 479.5h0.5v0.5h-0.5zM79 479.5h0.5v0.5h-0.5zM80 479.5h1.5v0.5h-1.5zM84 479.5h0.5v0.5h-0.5zM51 480h0.5v0.5h-0.5zM52 480h0.5v0.5h-0.5zM53.5 480h0.5v0.5h-0.5zM55.5 480h2v0.5h-2zM58.5 480h6v0.5h-6zM65.5 480h0.5v0.5h-0.5zM66.5 480h1v0.5h-1zM68.5 480h0.5v0.5h-0.5zM69.5 480h0.5v0.5h-0.5zM71 480h0.5v0.5h-0.5zM72 480h0.5v0.5h-0.5zM73.5 480h2v0.5h-2zM76.5 480h1v0.5h-1zM78.5 480h1v0.5h-1zM80 480h2v0.5h-2zM82.5 480h1.5v0.5h-1.5zM52 480.5h1.5v0.5h-1.5zM55 480.5h2v0.5h-2zM58.5 480.5h6v0.5h-6zM65.5 480.5h14.5v0.5h-14.5zM80.5 480.5h1.5v0.5h-1.5zM82.5 480.5h1v0.5h-1zM84.5 480.5h0.5v0.5h-0.5zM50 481h0.5v0.5h-0.5zM51.5 481h0.5v0.5h-0.5zM53 481h30.5v0.5h-30.5zM49 481.5h1v0.5h-1zM50.5 481.5h0.5v0.5h-0.5zM51.5 481.5h0.5v0.5h-0.5zM52.5 481.5h31v0.5h-31zM47.5 482h0.5v0.5h-0.5zM49 482h0.5v0.5h-0.5zM50 482h35v0.5h-35zM86 482h0.5v0.5h-0.5zM88.5 482h0.5v0.5h-0.5zM49.5 482.5h0.5v0.5h-0.5zM51 482.5h35v0.5h-35zM47 483h0.5v0.5h-0.5zM48.5 483h0.5v0.5h-0.5zM49.5 483h37v0.5h-37zM87 483h0.5v0.5h-0.5zM48 483.5h39.5v0.5h-39.5zM47 484h0.5v0.5h-0.5zM49 484h37.5v0.5h-37.5zM87 484h0.5v0.5h-0.5zM48 484.5h39.5v0.5h-39.5zM46.5 485h0.5v0.5h-0.5zM48 485h40v0.5h-40zM47.5 485.5h39.5v0.5h-39.5zM87.5 485.5h1v0.5h-1zM48.5 486h39.5v0.5h-39.5zM48 486.5h40v0.5h-40zM48 487h41.5v0.5h-41.5zM48 487.5h40v0.5h-40zM47.5 488h0.5v0.5h-0.5zM48.5 488h39v0.5h-39zM88.5 488h0.5v0.5h-0.5zM48 488.5h40v0.5h-40zM48 489h40.5v0.5h-40.5zM47 489.5h0.5v0.5h-0.5zM48.5 489.5h39.5v0.5h-39.5zM89 489.5h0.5v0.5h-0.5zM48.5 490h40.5v0.5h-40.5zM49 490.5h40v0.5h-40zM49 491h38.5v0.5h-38.5zM88 491h0.5v0.5h-0.5zM48.5 491.5h39.5v0.5h-39.5zM88.5 491.5h0.5v0.5h-0.5zM49 492h39.5v0.5h-39.5zM89 492h0.5v0.5h-0.5zM49.5 492.5h39v0.5h-39zM50 493h39v0.5h-39zM49 493.5h39.5v0.5h-39.5zM50.5 494h37.5v0.5h-37.5zM89 494h0.5v0.5h-0.5zM49 494.5h0.5v0.5h-0.5zM50 494.5h0.5v0.5h-0.5zM51 494.5h37.5v0.5h-37.5zM50 495h0.5v0.5h-0.5zM51 495h37.5v0.5h-37.5zM89.5 495h0.5v0.5h-0.5zM51 495.5h37.5v0.5h-37.5zM51 496h37.5v0.5h-37.5zM51 496.5h37v0.5h-37zM88.5 496.5h0.5v0.5h-0.5zM50 497h0.5v0.5h-0.5zM51 497h37.5v0.5h-37.5zM51 497.5h37v0.5h-37zM88.5 497.5h1v0.5h-1zM50.5 498h0.5v0.5h-0.5zM51.5 498h38v0.5h-38zM51.5 498.5h37v0.5h-37zM51.5 499h37.5v0.5h-37.5zM53 499.5h35.5v0.5h-35.5zM89.5 499.5h0.5v0.5h-0.5zM50.5 500h0.5v0.5h-0.5zM52.5 500h36.5v0.5h-36.5zM90 500h0.5v0.5h-0.5zM51.5 500.5h0.5v0.5h-0.5zM52.5 500.5h36v0.5h-36zM89.5 500.5h0.5v0.5h-0.5zM53 501h36.5v0.5h-36.5zM52 501.5h36.5v0.5h-36.5zM90 501.5h0.5v0.5h-0.5zM52 502h36.5v0.5h-36.5zM89 502h0.5v0.5h-0.5zM52.5 502.5h1v0.5h-1zM54 502.5h34v0.5h-34zM88.5 502.5h0.5v0.5h-0.5zM53 503h0.5v0.5h-0.5zM54 503h34.5v0.5h-34.5zM52.5 503.5h0.5v0.5h-0.5zM54 503.5h34v0.5h-34zM53 504h0.5v0.5h-0.5zM54.5 504h34v0.5h-34zM53 504.5h35v0.5h-35zM54 505h33.5v0.5h-33.5zM88 505h0.5v0.5h-0.5zM54.5 505.5h34v0.5h-34zM54 506h33.5v0.5h-33.5zM53.5 506.5h1.5v0.5h-1.5zM55.5 506.5h32v0.5h-32zM55.5 507h31.5v0.5h-31.5zM55 507.5h2v0.5h-2zM57.5 507.5h1.5v0.5h-1.5zM59.5 507.5h24v0.5h-24zM84 507.5h3.5v0.5h-3.5zM88 507.5h0.5v0.5h-0.5zM57 508h1v0.5h-1zM58.5 508h1v0.5h-1zM61 508h1v0.5h-1zM63 508h1v0.5h-1zM64.5 508h0.5v0.5h-0.5zM65.5 508h0.5v0.5h-0.5zM66.5 508h1.5v0.5h-1.5zM68.5 508h0.5v0.5h-0.5zM69.5 508h1v0.5h-1zM71.5 508h1v0.5h-1zM73 508h1v0.5h-1zM75.5 508h0.5v0.5h-0.5zM77 508h2.5v0.5h-2.5zM80.5 508h0.5v0.5h-0.5zM81.5 508h0.5v0.5h-0.5zM83 508h1v0.5h-1zM84.5 508h0.5v0.5h-0.5zM85.5 508h0.5v0.5h-0.5zM53.5 508.5h0.5v0.5h-0.5zM57.5 508.5h0.5v0.5h-0.5zM59 508.5h0.5v0.5h-0.5zM60 508.5h0.5v0.5h-0.5zM63 508.5h1.5v0.5h-1.5zM65 508.5h0.5v0.5h-0.5zM66.5 508.5h0.5v0.5h-0.5zM69 508.5h0.5v0.5h-0.5zM70.5 508.5h1v0.5h-1zM75.5 508.5h1v0.5h-1zM77 508.5h1v0.5h-1zM80 508.5h1v0.5h-1zM82.5 508.5h1.5v0.5h-1.5zM84.5 508.5h0.5v0.5h-0.5zM55 509h1v0.5h-1zM60 509h0.5v0.5h-0.5zM70 509h0.5v0.5h-0.5zM72 509h0.5v0.5h-0.5zM76 509h1v0.5h-1zM77.5 509h0.5v0.5h-0.5zM65 509.5h0.5v0.5h-0.5zM67 509.5h0.5v0.5h-0.5zM70.5 509.5h0.5v0.5h-0.5zM72 509.5h0.5v0.5h-0.5zM73 509.5h0.5v0.5h-0.5z"/>
<path stroke="#3a3a3a" stroke-width="1.25" fill="none" d="M35.4 453H133.6V539.5H35.4ZM91 453V539.5M35.4 508H133.6"/>
<path stroke="#1c1c1c" stroke-width="1.2" fill="none" d="M55 539.5v5.2M75 539.5v5.2M102.5 539.5v5.2M125 539.5v5.2M83.28 539.5v3M88.12 539.5v3M91.56 539.5v3M94.22 539.5v3M96.4 539.5v3M98.24 539.5v3M99.83 539.5v3M101.24 539.5v3M110.78 539.5v3M115.62 539.5v3M119.06 539.5v3M121.72 539.5v3M123.9 539.5v3M125.74 539.5v3M127.33 539.5v3M128.74 539.5v3M133.28 539.5v3M36.5 539.5v3.6M38.5 539.5v3M40.5 539.5v3M42.5 539.5v3M44.5 539.5v3.6M46.5 539.5v3M48.5 539.5v3M50.5 539.5v3M52.5 539.5v3.6M54.5 539.5v3M56.5 539.5v3M58.5 539.5v3M60.5 539.5v3.6M62.5 539.5v3M64.5 539.5v3M66.5 539.5v3M68.5 539.5v3.6M70.5 539.5v3M72.5 539.5v3M52.8 539.5v5.2M57.4 539.5v4.4"/>
<path stroke="#1c1c1c" stroke-width="1.0" fill="none" d="M35.4 461.48h-4.2M35.4 480.59h-4.2M35.4 500.83h-4.2M35.4 520.99h-4.2M35.4 455.72h-2.4M35.4 474.84h-2.4M35.4 471.47h-2.4M35.4 469.08h-2.4M35.4 467.23h-2.4M35.4 465.72h-2.4M35.4 464.44h-2.4M35.4 463.33h-2.4M35.4 462.35h-2.4M35.4 495.08h-2.4M35.4 491.71h-2.4M35.4 489.33h-2.4M35.4 487.47h-2.4M35.4 485.96h-2.4M35.4 484.68h-2.4M35.4 483.57h-2.4M35.4 482.59h-2.4M35.4 515.23h-2.4M35.4 511.87h-2.4M35.4 509.48h-2.4M35.4 507.63h-2.4M35.4 506.11h-2.4M35.4 504.83h-2.4M35.4 503.73h-2.4M35.4 502.75h-2.4M35.4 520.99h-2.4M35.4 522.49h-2.4M35.4 523.99h-2.4M35.4 525.49h-2.4M35.4 526.99h-2.4M35.4 528.49h-2.4M35.4 529.99h-2.4M35.4 531.49h-2.4M35.4 532.99h-2.4M35.4 534.49h-2.4M35.4 535.99h-2.4M35.4 537.49h-2.4M35.4 538.99h-2.4M35.4 530.33h-4.2"/>
<text x="116.2" y="535.2" font-size="6.1" fill="#222">Q4-4</text>
<rect x="89.6" y="513.1" width="46.1" height="20.2" fill="#d3d3d3"/>
<text x="111.95" y="527.5" font-size="11.3" fill="#666666" text-anchor="middle">0.01%</text>
<g font-size="6.24" fill="#1e1e1e" stroke="#1e1e1e" stroke-width="0.12">
<text x="71.3" y="465.8">Q1-4</text>
<text x="107" y="465.8">Q2-4</text>
<text x="70.8" y="528">Q3-4</text>
</g>
<g font-size="5.22" font-weight="bold" fill="#141414" stroke="#141414" stroke-width="0.2">
<text x="55" y="551.6" text-anchor="middle">0</text>
<text x="71.32" y="551.6">10<tspan font-size="4.09" dy="-2.76">3</tspan></text>
<text x="98.82" y="551.6">10<tspan font-size="4.09" dy="-2.76">4</tspan></text>
<text x="121.32" y="551.6">10<tspan font-size="4.09" dy="-2.76">5</tspan></text>
<text x="27.63" y="555.1" font-size="5.11" textLength="15.55" lengthAdjust="spacingAndGlyphs">-1,144</text>
<text x="27.93" y="545.9" font-size="6.24" stroke-width="0.45">M</text>
<text x="62.93" y="558.5" font-size="5.32" textLength="43.58" lengthAdjust="spacingAndGlyphs">Alexa Fluor 700-A</text>
<text transform="translate(30.69 461.48) rotate(-90)" x="-2.86" y="0">10<tspan font-size="4.09" dy="-3.89">5</tspan></text>
<text transform="translate(30.69 480.59) rotate(-90)" x="-2.86" y="0">10<tspan font-size="4.09" dy="-3.89">4</tspan></text>
<text transform="translate(30.69 500.83) rotate(-90)" x="-2.86" y="0">10<tspan font-size="4.09" dy="-3.89">3</tspan></text>
<text transform="translate(30.69 520.99) rotate(-90)" x="-2.86" y="0">10<tspan font-size="4.09" dy="-3.89">2</tspan></text>
<text transform="translate(30.69 530.33) rotate(-90)" x="-1.43" y="0">0</text>
<text transform="translate(24.86 537.9) rotate(-90)" x="-3.68" y="0" font-size="4.6">-90</text>
</g>
</g>
<g>
<text x="178.8" y="451" font-size="3.3" fill="#333" fill-opacity="0.35" font-weight="bold" textLength="37.5" lengthAdjust="spacingAndGlyphs">Specimen_001-PIN 5 CD107a IL-2 TNF IFN CD8 T cells</text>
<path fill="#0a0a0a" fill-opacity="0.92" d="M220 481h1v0.5h-1zM227 481h1v0.5h-1zM227 481.5h1v0.5h-1zM242 481.5h1v0.5h-1zM241 482h0.5v0.5h-0.5zM242 482h1v0.5h-1zM251.5 482h0.5v0.5h-0.5zM163 482.5h0.5v0.5h-0.5zM223 482.5h1v0.5h-1zM241 482.5h0.5v0.5h-0.5zM251.5 482.5h0.5v0.5h-0.5zM163 483h0.5v0.5h-0.5zM223 483h1v0.5h-1zM241.5 483h1v0.5h-1zM235 483.5h1v0.5h-1zM241.5 483.5h1v0.5h-1zM222.5 484h1v0.5h-1zM235 484h1v0.5h-1zM222.5 484.5h1v0.5h-1zM165 485.5h0.5v0.5h-0.5zM219 485.5h1v0.5h-1zM225 485.5h0.5v0.5h-0.5zM230 485.5h1v0.5h-1zM250 485.5h0.5v0.5h-0.5zM165 486h0.5v0.5h-0.5zM219 486h2v0.5h-2zM221.5 486h1v0.5h-1zM225 486h0.5v0.5h-0.5zM230.5 486h0.5v0.5h-0.5zM250 486h0.5v0.5h-0.5zM163 486.5h1v0.5h-1zM164.5 486.5h0.5v0.5h-0.5zM226 486.5h0.5v0.5h-0.5zM250 486.5h0.5v0.5h-0.5zM162.5 487h1.5v0.5h-1.5zM164.5 487h1v0.5h-1zM222 487h1v0.5h-1zM226 487h0.5v0.5h-0.5zM237.5 487h0.5v0.5h-0.5zM250 487h0.5v0.5h-0.5zM162.5 487.5h0.5v0.5h-0.5zM237.5 487.5h0.5v0.5h-0.5zM162 488h1v0.5h-1zM227 488h0.5v0.5h-0.5zM242 488h1v0.5h-1zM227 488.5h0.5v0.5h-0.5zM228 488.5h1v0.5h-1zM248 488.5h1v0.5h-1zM163 489h0.5v0.5h-0.5zM164.5 489h0.5v0.5h-0.5zM219.5 489h1v0.5h-1zM243.5 489h1v0.5h-1zM248 489h1v0.5h-1zM163 489.5h0.5v0.5h-0.5zM231.5 489.5h1v0.5h-1zM243.5 489.5h1v0.5h-1zM251 489.5h1v0.5h-1zM231.5 490h1v0.5h-1zM235 490h1v0.5h-1zM249 490h1v0.5h-1zM251 490h1v0.5h-1zM164.5 490.5h0.5v0.5h-0.5zM235 490.5h1v0.5h-1zM237 490.5h2v0.5h-2zM244 490.5h1v0.5h-1zM251 490.5h1v0.5h-1zM164.5 491h1.5v0.5h-1.5zM237 491h1v0.5h-1zM163 491.5h1v0.5h-1zM165 491.5h1v0.5h-1zM230.5 491.5h1v0.5h-1zM242.5 491.5h1v0.5h-1zM246 491.5h1v0.5h-1zM162.5 492h1.5v0.5h-1.5zM223.5 492h1v0.5h-1zM230 492h0.5v0.5h-0.5zM231 492h1v0.5h-1zM232.5 492h1v0.5h-1zM242.5 492h1v0.5h-1zM246 492h1v0.5h-1zM162.5 492.5h1.5v0.5h-1.5zM167 492.5h1v0.5h-1zM223.5 492.5h1v0.5h-1zM230 492.5h0.5v0.5h-0.5zM231 492.5h1v0.5h-1zM241 492.5h1v0.5h-1zM229 493h1v0.5h-1zM249.5 493h1v0.5h-1zM166 493.5h1v0.5h-1zM241.5 493.5h1v0.5h-1zM246.5 493.5h1v0.5h-1zM249.5 493.5h1v0.5h-1zM161.5 494h1.5v0.5h-1.5zM164 494h0.5v0.5h-0.5zM167 494h0.5v0.5h-0.5zM168 494h0.5v0.5h-0.5zM239 494h0.5v0.5h-0.5zM241.5 494h1v0.5h-1zM246.5 494h1v0.5h-1zM251 494h1v0.5h-1zM161.5 494.5h1v0.5h-1zM164 494.5h0.5v0.5h-0.5zM165.5 494.5h1v0.5h-1zM227.5 494.5h1v0.5h-1zM235 494.5h1v0.5h-1zM239 494.5h0.5v0.5h-0.5zM251 494.5h1v0.5h-1zM164 495h0.5v0.5h-0.5zM221.5 495h1v0.5h-1zM240.5 495h1v0.5h-1zM242.5 495h1.5v0.5h-1.5zM164 495.5h0.5v0.5h-0.5zM221.5 495.5h1v0.5h-1zM240.5 495.5h1v0.5h-1zM161 496h1v0.5h-1zM168.5 496h1v0.5h-1zM218 496h1v0.5h-1zM225 496h0.5v0.5h-0.5zM233 496h1v0.5h-1zM161 496.5h1v0.5h-1zM164 496.5h0.5v0.5h-0.5zM168.5 496.5h0.5v0.5h-0.5zM218 496.5h1v0.5h-1zM225 496.5h0.5v0.5h-0.5zM231 496.5h1v0.5h-1zM164 497h0.5v0.5h-0.5zM167.5 497h1v0.5h-1zM227 497h1v0.5h-1zM231 497h1v0.5h-1zM235 497h1v0.5h-1zM227 497.5h1v0.5h-1zM234.5 497.5h1.5v0.5h-1.5zM242 497.5h1v0.5h-1zM165 498h0.5v0.5h-0.5zM234.5 498h1v0.5h-1zM242 498h1v0.5h-1zM246 498h1v0.5h-1zM251 498h1v0.5h-1zM253 498h1v0.5h-1zM165 498.5h0.5v0.5h-0.5zM167.5 498.5h1v0.5h-1zM169.5 498.5h0.5v0.5h-0.5zM215.5 498.5h1v0.5h-1zM240.5 498.5h1v0.5h-1zM246 498.5h1v0.5h-1zM162.5 499h1v0.5h-1zM165 499h1v0.5h-1zM167.5 499h1v0.5h-1zM170 499h0.5v0.5h-0.5zM215.5 499h1v0.5h-1zM237 499h1v0.5h-1zM162.5 499.5h1v0.5h-1zM216.5 499.5h1v0.5h-1zM237 499.5h1v0.5h-1zM245.5 499.5h1v0.5h-1zM248 499.5h0.5v0.5h-0.5zM163 500h0.5v0.5h-0.5zM164.5 500h1v0.5h-1zM216.5 500h1v0.5h-1zM219.5 500h1v0.5h-1zM244.5 500h2v0.5h-2zM248 500h0.5v0.5h-0.5zM163 500.5h0.5v0.5h-0.5zM219.5 500.5h1v0.5h-1zM244.5 500.5h1v0.5h-1zM165 501h1v0.5h-1zM160.5 501.5h1v0.5h-1zM160.5 502h1v0.5h-1zM166.5 502h0.5v0.5h-0.5zM165 502.5h1v0.5h-1zM166.5 502.5h0.5v0.5h-0.5zM167.5 502.5h0.5v0.5h-0.5zM239 502.5h1v0.5h-1zM165 503h2v0.5h-2zM167.5 503h0.5v0.5h-0.5zM230 503h1v0.5h-1zM165 503.5h2v0.5h-2zM230 503.5h1v0.5h-1zM162 504h1v0.5h-1zM164 504h1v0.5h-1zM219.5 504h1v0.5h-1zM219.5 504.5h1v0.5h-1zM165.5 505.5h1v0.5h-1z"/>
<path fill="#111111" d="M177 478.5h0.5v0.5h-0.5zM200.5 478.5h0.5v0.5h-0.5zM202.5 478.5h0.5v0.5h-0.5zM174.5 479h0.5v0.5h-0.5zM178.5 479h0.5v0.5h-0.5zM179.5 479h0.5v0.5h-0.5zM181 479h2v0.5h-2zM183.5 479h0.5v0.5h-0.5zM184.5 479h1.5v0.5h-1.5zM187.5 479h0.5v0.5h-0.5zM190 479h0.5v0.5h-0.5zM193 479h0.5v0.5h-0.5zM197.5 479h0.5v0.5h-0.5zM199.5 479h0.5v0.5h-0.5zM203.5 479h0.5v0.5h-0.5zM205.5 479h0.5v0.5h-0.5zM207 479h0.5v0.5h-0.5zM171 479.5h0.5v0.5h-0.5zM174.5 479.5h0.5v0.5h-0.5zM175.5 479.5h0.5v0.5h-0.5zM177 479.5h0.5v0.5h-0.5zM179 479.5h1v0.5h-1zM180.5 479.5h1v0.5h-1zM182.5 479.5h1.5v0.5h-1.5zM184.5 479.5h0.5v0.5h-0.5zM185.5 479.5h1v0.5h-1zM187 479.5h1.5v0.5h-1.5zM189 479.5h2.5v0.5h-2.5zM192 479.5h1v0.5h-1zM193.5 479.5h0.5v0.5h-0.5zM194.5 479.5h0.5v0.5h-0.5zM195.5 479.5h0.5v0.5h-0.5zM196.5 479.5h0.5v0.5h-0.5zM197.5 479.5h0.5v0.5h-0.5zM199 479.5h1v0.5h-1zM204 479.5h1.5v0.5h-1.5zM171.5 480h0.5v0.5h-0.5zM173 480h1v0.5h-1zM175 480h1.5v0.5h-1.5zM177 480h0.5v0.5h-0.5zM178 480h17.5v0.5h-17.5zM196 480h0.5v0.5h-0.5zM197.5 480h1v0.5h-1zM199 480h0.5v0.5h-0.5zM200 480h3.5v0.5h-3.5zM205 480h1v0.5h-1zM207 480h0.5v0.5h-0.5zM169.5 480.5h1v0.5h-1zM171.5 480.5h0.5v0.5h-0.5zM173 480.5h34.5v0.5h-34.5zM208.5 480.5h0.5v0.5h-0.5zM168 481h0.5v0.5h-0.5zM169.5 481h38.5v0.5h-38.5zM164.5 481.5h0.5v0.5h-0.5zM167.5 481.5h0.5v0.5h-0.5zM169 481.5h0.5v0.5h-0.5zM170 481.5h37.5v0.5h-37.5zM166.5 482h1v0.5h-1zM168 482h41.5v0.5h-41.5zM210 482h0.5v0.5h-0.5zM165.5 482.5h0.5v0.5h-0.5zM166.5 482.5h42v0.5h-42zM164 483h0.5v0.5h-0.5zM166 483h42.5v0.5h-42.5zM209 483h0.5v0.5h-0.5zM166 483.5h44v0.5h-44zM165 484h0.5v0.5h-0.5zM166.5 484h44v0.5h-44zM165 484.5h0.5v0.5h-0.5zM166 484.5h45.5v0.5h-45.5zM166 485h45.5v0.5h-45.5zM165.5 485.5h45v0.5h-45zM211.5 485.5h0.5v0.5h-0.5zM212.5 485.5h0.5v0.5h-0.5zM166 486h45.5v0.5h-45.5zM212 486h0.5v0.5h-0.5zM165 486.5h45.5v0.5h-45.5zM211 486.5h0.5v0.5h-0.5zM164 487h0.5v0.5h-0.5zM165.5 487h46v0.5h-46zM165 487.5h0.5v0.5h-0.5zM166 487.5h45v0.5h-45zM164.5 488h0.5v0.5h-0.5zM166 488h45.5v0.5h-45.5zM164.5 488.5h1v0.5h-1zM166 488.5h45.5v0.5h-45.5zM165 489h0.5v0.5h-0.5zM166 489h45.5v0.5h-45.5zM166.5 489.5h45v0.5h-45zM212 489.5h0.5v0.5h-0.5zM165.5 490h46v0.5h-46zM167 490.5h45v0.5h-45zM166 491h45v0.5h-45zM167 491.5h45v0.5h-45zM212.5 491.5h0.5v0.5h-0.5zM166.5 492h45.5v0.5h-45.5zM166.5 492.5h0.5v0.5h-0.5zM168 492.5h44v0.5h-44zM167.5 493h44.5v0.5h-44.5zM167 493.5h46v0.5h-46zM167.5 494h0.5v0.5h-0.5zM168.5 494h43.5v0.5h-43.5zM168 494.5h44v0.5h-44zM168 495h43.5v0.5h-43.5zM166.5 495.5h0.5v0.5h-0.5zM167.5 495.5h0.5v0.5h-0.5zM168.5 495.5h43.5v0.5h-43.5zM168 496h0.5v0.5h-0.5zM169.5 496h41.5v0.5h-41.5zM211.5 496h1v0.5h-1zM168 496.5h0.5v0.5h-0.5zM169 496.5h42.5v0.5h-42.5zM169 497h42.5v0.5h-42.5zM169 497.5h1v0.5h-1zM170.5 497.5h41v0.5h-41zM169.5 498h42v0.5h-42zM212 498h0.5v0.5h-0.5zM170 498.5h41v0.5h-41zM169.5 499h0.5v0.5h-0.5zM171 499h40.5v0.5h-40.5zM170.5 499.5h40v0.5h-40zM211 499.5h1v0.5h-1zM170 500h40.5v0.5h-40.5zM170.5 500.5h0.5v0.5h-0.5zM171.5 500.5h39v0.5h-39zM211 500.5h0.5v0.5h-0.5zM171.5 501h39.5v0.5h-39.5zM171 501.5h40v0.5h-40zM171 502h39v0.5h-39zM171.5 502.5h39v0.5h-39zM212 502.5h0.5v0.5h-0.5zM171.5 503h0.5v0.5h-0.5zM172.5 503h38.5v0.5h-38.5zM170.5 503.5h0.5v0.5h-0.5zM172 503.5h38v0.5h-38zM171.5 504h0.5v0.5h-0.5zM172.5 504h38.5v0.5h-38.5zM172 504.5h0.5v0.5h-0.5zM173 504.5h37.5v0.5h-37.5zM171 505h0.5v0.5h-0.5zM172 505h0.5v0.5h-0.5zM173.5 505h36v0.5h-36zM210.5 505h0.5v0.5h-0.5zM173.5 505.5h36.5v0.5h-36.5zM211 505.5h0.5v0.5h-0.5zM172.5 506h0.5v0.5h-0.5zM173.5 506h1v0.5h-1zM175 506h3.5v0.5h-3.5zM179 506h12.5v0.5h-12.5zM192 506h1v0.5h-1zM193.5 506h15.5v0.5h-15.5zM209.5 506h0.5v0.5h-0.5zM173.5 506.5h1.5v0.5h-1.5zM175.5 506.5h1v0.5h-1zM178 506.5h2v0.5h-2zM180.5 506.5h1v0.5h-1zM182.5 506.5h2v0.5h-2zM185.5 506.5h1v0.5h-1zM187 506.5h3v0.5h-3zM190.5 506.5h0.5v0.5h-0.5zM191.5 506.5h2.5v0.5h-2.5zM194.5 506.5h0.5v0.5h-0.5zM195.5 506.5h0.5v0.5h-0.5zM196.5 506.5h3.5v0.5h-3.5zM200.5 506.5h1v0.5h-1zM202.5 506.5h1v0.5h-1zM204 506.5h1v0.5h-1zM205.5 506.5h2.5v0.5h-2.5zM210 506.5h0.5v0.5h-0.5zM172.5 507h0.5v0.5h-0.5zM175.5 507h1.5v0.5h-1.5zM180 507h0.5v0.5h-0.5zM182 507h1.5v0.5h-1.5zM184 507h0.5v0.5h-0.5zM185 507h0.5v0.5h-0.5zM190.5 507h1.5v0.5h-1.5zM192.5 507h0.5v0.5h-0.5zM197 507h0.5v0.5h-0.5zM200.5 507h1v0.5h-1zM203 507h0.5v0.5h-0.5zM206.5 507h0.5v0.5h-0.5zM207.5 507h1v0.5h-1zM176 507.5h1v0.5h-1zM177.5 507.5h0.5v0.5h-0.5zM179 507.5h0.5v0.5h-0.5zM181 507.5h0.5v0.5h-0.5zM183.5 507.5h0.5v0.5h-0.5zM186.5 507.5h1v0.5h-1zM188.5 507.5h0.5v0.5h-0.5zM196.5 507.5h0.5v0.5h-0.5zM198.5 507.5h0.5v0.5h-0.5zM200.5 507.5h1v0.5h-1zM205.5 507.5h0.5v0.5h-0.5zM206.5 507.5h0.5v0.5h-0.5zM188 508h0.5v0.5h-0.5zM188.5 508.5h0.5v0.5h-0.5z"/>
<path stroke="#3a3a3a" stroke-width="1.25" fill="none" d="M156.3 452.5H258.2V538H156.3ZM213.8 452.5V538M156.3 506.3H258.2"/>
<path stroke="#1c1c1c" stroke-width="1.2" fill="none" d="M177 538v5.2M197 538v5.2M225 538v5.2M249.5 538v5.2M205.43 538v3M210.36 538v3M213.86 538v3M216.57 538v3M218.79 538v3M220.66 538v3M222.29 538v3M223.72 538v3M233.43 538v3M238.36 538v3M241.86 538v3M244.57 538v3M246.79 538v3M248.66 538v3M250.29 538v3M251.72 538v3M257.93 538v3M157.5 538v3.6M159.5 538v3M161.5 538v3M163.5 538v3M165.5 538v3.6M167.5 538v3M169.5 538v3M171.5 538v3M173.5 538v3.6M175.5 538v3M177.5 538v3M179.5 538v3M181.5 538v3.6M183.5 538v3M185.5 538v3M187.5 538v3M189.5 538v3.6M191.5 538v3M193.5 538v3M195.5 538v3M174.8 538v5.2M179.4 538v4.4"/>
<path stroke="#1c1c1c" stroke-width="1.0" fill="none" d="M156.3 460.88h-4.2M156.3 479.77h-4.2M156.3 499.78h-4.2M156.3 519.7h-4.2M156.3 455.19h-2.4M156.3 474.09h-2.4M156.3 470.76h-2.4M156.3 468.4h-2.4M156.3 466.57h-2.4M156.3 465.07h-2.4M156.3 463.81h-2.4M156.3 462.71h-2.4M156.3 461.74h-2.4M156.3 494.09h-2.4M156.3 490.77h-2.4M156.3 488.41h-2.4M156.3 486.57h-2.4M156.3 485.08h-2.4M156.3 483.81h-2.4M156.3 482.72h-2.4M156.3 481.75h-2.4M156.3 514.01h-2.4M156.3 510.69h-2.4M156.3 508.33h-2.4M156.3 506.5h-2.4M156.3 505h-2.4M156.3 503.73h-2.4M156.3 502.64h-2.4M156.3 501.67h-2.4M156.3 519.7h-2.4M156.3 521.2h-2.4M156.3 522.7h-2.4M156.3 524.2h-2.4M156.3 525.7h-2.4M156.3 527.2h-2.4M156.3 528.7h-2.4M156.3 530.2h-2.4M156.3 531.7h-2.4M156.3 533.2h-2.4M156.3 534.7h-2.4M156.3 536.2h-2.4M156.3 537.7h-2.4M156.3 528.94h-4.2"/>
<text x="239.8" y="535.7" font-size="6.1" fill="#222">Q4-4</text>
<rect x="213.8" y="513.3" width="45.5" height="20.5" fill="#d3d3d3"/>
<text x="235.85" y="527.85" font-size="11.3" fill="#666666" text-anchor="middle">0.05%</text>
<g font-size="6.47" fill="#1e1e1e" stroke="#1e1e1e" stroke-width="0.12">
<text x="193" y="465">Q1-4</text>
<text x="230.8" y="465">Q2-4</text>
<text x="192.5" y="526.3">Q3-4</text>
</g>
<g font-size="5.41" font-weight="bold" fill="#141414" stroke="#141414" stroke-width="0.2">
<text x="177" y="550.1" text-anchor="middle">0</text>
<text x="193.18" y="550.1">10<tspan font-size="4.25" dy="-2.87">3</tspan></text>
<text x="221.18" y="550.1">10<tspan font-size="4.25" dy="-2.87">4</tspan></text>
<text x="245.68" y="550.1">10<tspan font-size="4.25" dy="-2.87">5</tspan></text>
<text x="148.23" y="553.6" font-size="5.31" textLength="16.13" lengthAdjust="spacingAndGlyphs">-1,144</text>
<text x="148.55" y="544.4" font-size="6.47" stroke-width="0.45">M</text>
<text x="184.47" y="557" font-size="5.52" textLength="45.22" lengthAdjust="spacingAndGlyphs">Alexa Fluor 700-A</text>
<text transform="translate(151.42 460.88) rotate(-90)" x="-2.97" y="0">10<tspan font-size="4.25" dy="-4.03">5</tspan></text>
<text transform="translate(151.42 479.77) rotate(-90)" x="-2.97" y="0">10<tspan font-size="4.25" dy="-4.03">4</tspan></text>
<text transform="translate(151.42 499.78) rotate(-90)" x="-2.97" y="0">10<tspan font-size="4.25" dy="-4.03">3</tspan></text>
<text transform="translate(151.42 519.7) rotate(-90)" x="-2.97" y="0">10<tspan font-size="4.25" dy="-4.03">2</tspan></text>
<text transform="translate(151.42 528.94) rotate(-90)" x="-1.49" y="0">0</text>
<text transform="translate(145.37 536.4) rotate(-90)" x="-3.82" y="0" font-size="4.78">-90</text>
</g>
</g>
<g>
<text x="290" y="451" font-size="3.3" fill="#333" fill-opacity="0.9" font-weight="bold" textLength="58.8" lengthAdjust="spacingAndGlyphs">Specimen_001-PIN 5 CD107a IL-2 TNF IFN CD8 T cells</text>
<path fill="#0a0a0a" fill-opacity="0.92" d="M309 478h0.5v0.5h-0.5zM304 478.5h1v0.5h-1zM309 478.5h0.5v0.5h-0.5zM313 478.5h1v0.5h-1zM302.5 479h1.5v0.5h-1.5zM304.5 479h0.5v0.5h-0.5zM306 479h1v0.5h-1zM307.5 479h0.5v0.5h-0.5zM309 479h0.5v0.5h-0.5zM310 479h1v0.5h-1zM318.5 479h1v0.5h-1zM296 479.5h0.5v0.5h-0.5zM302.5 479.5h1.5v0.5h-1.5zM304.5 479.5h0.5v0.5h-0.5zM307.5 479.5h0.5v0.5h-0.5zM310.5 479.5h0.5v0.5h-0.5zM312.5 479.5h1v0.5h-1zM316.5 479.5h0.5v0.5h-0.5zM318 479.5h1.5v0.5h-1.5zM320 479.5h0.5v0.5h-0.5zM325 479.5h1v0.5h-1zM296 480h0.5v0.5h-0.5zM297 480h1v0.5h-1zM300 480h2v0.5h-2zM302.5 480h2.5v0.5h-2.5zM307 480h3v0.5h-3zM310.5 480h0.5v0.5h-0.5zM313.5 480h0.5v0.5h-0.5zM316.5 480h1v0.5h-1zM318.5 480h1v0.5h-1zM320 480h1v0.5h-1zM324 480h0.5v0.5h-0.5zM327 480h2v0.5h-2zM294 480.5h1v0.5h-1zM296 480.5h3v0.5h-3zM299.5 480.5h0.5v0.5h-0.5zM301 480.5h1v0.5h-1zM306 480.5h0.5v0.5h-0.5zM313.5 480.5h0.5v0.5h-0.5zM317.5 480.5h0.5v0.5h-0.5zM324 480.5h0.5v0.5h-0.5zM325.5 480.5h0.5v0.5h-0.5zM327.5 480.5h0.5v0.5h-0.5zM328.5 480.5h1.5v0.5h-1.5zM330.5 480.5h1v0.5h-1zM294 481h1v0.5h-1zM296 481h1v0.5h-1zM297.5 481h1v0.5h-1zM302.5 481h0.5v0.5h-0.5zM327.5 481h0.5v0.5h-0.5zM329 481h1v0.5h-1zM289 481.5h1v0.5h-1zM290.5 481.5h1.5v0.5h-1.5zM295.5 481.5h0.5v0.5h-0.5zM297.5 481.5h0.5v0.5h-0.5zM299 481.5h0.5v0.5h-0.5zM300 481.5h0.5v0.5h-0.5zM328 481.5h0.5v0.5h-0.5zM329 481.5h1v0.5h-1zM330.5 481.5h0.5v0.5h-0.5zM289 482h1v0.5h-1zM290.5 482h1.5v0.5h-1.5zM293 482h0.5v0.5h-0.5zM294 482h1v0.5h-1zM296 482h0.5v0.5h-0.5zM298.5 482h0.5v0.5h-0.5zM329 482h0.5v0.5h-0.5zM330.5 482h0.5v0.5h-0.5zM291 482.5h0.5v0.5h-0.5zM292 482.5h0.5v0.5h-0.5zM293 482.5h0.5v0.5h-0.5zM294 482.5h0.5v0.5h-0.5zM295 482.5h0.5v0.5h-0.5zM330.5 482.5h0.5v0.5h-0.5zM287.5 483h2v0.5h-2zM290.5 483h1v0.5h-1zM294 483h0.5v0.5h-0.5zM330.5 483h0.5v0.5h-0.5zM333.5 483h1v0.5h-1zM288 483.5h1.5v0.5h-1.5zM290.5 483.5h1v0.5h-1zM333 483.5h1v0.5h-1zM288 484h1v0.5h-1zM290 484h1v0.5h-1zM291.5 484h0.5v0.5h-0.5zM333 484h1.5v0.5h-1.5zM340.5 484h1v0.5h-1zM348.5 484h1v0.5h-1zM288 484.5h2v0.5h-2zM290.5 484.5h0.5v0.5h-0.5zM333.5 484.5h1v0.5h-1zM340.5 484.5h1v0.5h-1zM345.5 484.5h1v0.5h-1zM348.5 484.5h1v0.5h-1zM288.5 485h2v0.5h-2zM332.5 485h0.5v0.5h-0.5zM333.5 485h0.5v0.5h-0.5zM342 485h0.5v0.5h-0.5zM345.5 485h1v0.5h-1zM287.5 485.5h1v0.5h-1zM289.5 485.5h1v0.5h-1zM332.5 485.5h1v0.5h-1zM334.5 485.5h1.5v0.5h-1.5zM341 485.5h1.5v0.5h-1.5zM344 485.5h1.5v0.5h-1.5zM346.5 485.5h1v0.5h-1zM349.5 485.5h1v0.5h-1zM353.5 485.5h1v0.5h-1zM287.5 486h1v0.5h-1zM290 486h0.5v0.5h-0.5zM333.5 486h0.5v0.5h-0.5zM334.5 486h1v0.5h-1zM336 486h1v0.5h-1zM338 486h0.5v0.5h-0.5zM339.5 486h1.5v0.5h-1.5zM343.5 486h2v0.5h-2zM346.5 486h1v0.5h-1zM349.5 486h1v0.5h-1zM352.5 486h1v0.5h-1zM354 486h0.5v0.5h-0.5zM355.5 486h1v0.5h-1zM288.5 486.5h1v0.5h-1zM290 486.5h0.5v0.5h-0.5zM336 486.5h0.5v0.5h-0.5zM337 486.5h2.5v0.5h-2.5zM340 486.5h1v0.5h-1zM345 486.5h0.5v0.5h-0.5zM346.5 486.5h0.5v0.5h-0.5zM348.5 486.5h2v0.5h-2zM352.5 486.5h0.5v0.5h-0.5zM353.5 486.5h0.5v0.5h-0.5zM288.5 487h1v0.5h-1zM290 487h0.5v0.5h-0.5zM333.5 487h0.5v0.5h-0.5zM335 487h1v0.5h-1zM336.5 487h0.5v0.5h-0.5zM338.5 487h1v0.5h-1zM340 487h1v0.5h-1zM343.5 487h0.5v0.5h-0.5zM346.5 487h0.5v0.5h-0.5zM348.5 487h0.5v0.5h-0.5zM350.5 487h1v0.5h-1zM357.5 487h1v0.5h-1zM360 487h1v0.5h-1zM332.5 487.5h2v0.5h-2zM335 487.5h1.5v0.5h-1.5zM338 487.5h0.5v0.5h-0.5zM339.5 487.5h0.5v0.5h-0.5zM342 487.5h0.5v0.5h-0.5zM346.5 487.5h1v0.5h-1zM354 487.5h0.5v0.5h-0.5zM355.5 487.5h1v0.5h-1zM357.5 487.5h1v0.5h-1zM360 487.5h1.5v0.5h-1.5zM289 488h1.5v0.5h-1.5zM334 488h0.5v0.5h-0.5zM335.5 488h0.5v0.5h-0.5zM343.5 488h1v0.5h-1zM353 488h0.5v0.5h-0.5zM354 488h0.5v0.5h-0.5zM358.5 488h0.5v0.5h-0.5zM360.5 488h1v0.5h-1zM287.5 488.5h1v0.5h-1zM289.5 488.5h1.5v0.5h-1.5zM333 488.5h0.5v0.5h-0.5zM334 488.5h1.5v0.5h-1.5zM336.5 488.5h0.5v0.5h-0.5zM342.5 488.5h0.5v0.5h-0.5zM349.5 488.5h0.5v0.5h-0.5zM351.5 488.5h0.5v0.5h-0.5zM353 488.5h1v0.5h-1zM357 488.5h1v0.5h-1zM287 489h2.5v0.5h-2.5zM333 489h1.5v0.5h-1.5zM338.5 489h0.5v0.5h-0.5zM341.5 489h0.5v0.5h-0.5zM344.5 489h0.5v0.5h-0.5zM346.5 489h0.5v0.5h-0.5zM350 489h0.5v0.5h-0.5zM351.5 489h0.5v0.5h-0.5zM356 489h1v0.5h-1zM359.5 489h0.5v0.5h-0.5zM287 489.5h3v0.5h-3zM290.5 489.5h0.5v0.5h-0.5zM335 489.5h0.5v0.5h-0.5zM342.5 489.5h0.5v0.5h-0.5zM355.5 489.5h0.5v0.5h-0.5zM359 489.5h2.5v0.5h-2.5zM287 490h2.5v0.5h-2.5zM290.5 490h0.5v0.5h-0.5zM333.5 490h1v0.5h-1zM335.5 490h0.5v0.5h-0.5zM342 490h1v0.5h-1zM360 490h2.5v0.5h-2.5zM287.5 490.5h1.5v0.5h-1.5zM289.5 490.5h0.5v0.5h-0.5zM290.5 490.5h0.5v0.5h-0.5zM333.5 490.5h0.5v0.5h-0.5zM353.5 490.5h0.5v0.5h-0.5zM355.5 490.5h0.5v0.5h-0.5zM357.5 490.5h0.5v0.5h-0.5zM360.5 490.5h1.5v0.5h-1.5zM289.5 491h1v0.5h-1zM334 491h1v0.5h-1zM340.5 491h0.5v0.5h-0.5zM345.5 491h0.5v0.5h-0.5zM355.5 491h0.5v0.5h-0.5zM357 491h1v0.5h-1zM359 491h0.5v0.5h-0.5zM360 491h0.5v0.5h-0.5zM361.5 491h2v0.5h-2zM289 491.5h1.5v0.5h-1.5zM333 491.5h0.5v0.5h-0.5zM341 491.5h0.5v0.5h-0.5zM346.5 491.5h0.5v0.5h-0.5zM352.5 491.5h0.5v0.5h-0.5zM355 491.5h1v0.5h-1zM361 491.5h1.5v0.5h-1.5zM288 492h1.5v0.5h-1.5zM334 492h0.5v0.5h-0.5zM340 492h1v0.5h-1zM350.5 492h0.5v0.5h-0.5zM359.5 492h1v0.5h-1zM361.5 492h0.5v0.5h-0.5zM288 492.5h2.5v0.5h-2.5zM333 492.5h0.5v0.5h-0.5zM334.5 492.5h0.5v0.5h-0.5zM339.5 492.5h0.5v0.5h-0.5zM341.5 492.5h0.5v0.5h-0.5zM351 492.5h0.5v0.5h-0.5zM361 492.5h0.5v0.5h-0.5zM362 492.5h2v0.5h-2zM288 493h2.5v0.5h-2.5zM333.5 493h0.5v0.5h-0.5zM334.5 493h0.5v0.5h-0.5zM337 493h0.5v0.5h-0.5zM338.5 493h0.5v0.5h-0.5zM345.5 493h0.5v0.5h-0.5zM352 493h0.5v0.5h-0.5zM357.5 493h0.5v0.5h-0.5zM360 493h0.5v0.5h-0.5zM361.5 493h0.5v0.5h-0.5zM362.5 493h0.5v0.5h-0.5zM363.5 493h1v0.5h-1zM365 493h0.5v0.5h-0.5zM287 493.5h0.5v0.5h-0.5zM289 493.5h0.5v0.5h-0.5zM333 493.5h0.5v0.5h-0.5zM334.5 493.5h0.5v0.5h-0.5zM335.5 493.5h0.5v0.5h-0.5zM343 493.5h0.5v0.5h-0.5zM348.5 493.5h0.5v0.5h-0.5zM362 493.5h3.5v0.5h-3.5zM287 494h0.5v0.5h-0.5zM288 494h1v0.5h-1zM289.5 494h0.5v0.5h-0.5zM290.5 494h0.5v0.5h-0.5zM334.5 494h0.5v0.5h-0.5zM335.5 494h0.5v0.5h-0.5zM336.5 494h0.5v0.5h-0.5zM339 494h0.5v0.5h-0.5zM341 494h0.5v0.5h-0.5zM355 494h0.5v0.5h-0.5zM356 494h0.5v0.5h-0.5zM362.5 494h0.5v0.5h-0.5zM364.5 494h0.5v0.5h-0.5zM286 494.5h0.5v0.5h-0.5zM289.5 494.5h2v0.5h-2zM333 494.5h0.5v0.5h-0.5zM334 494.5h0.5v0.5h-0.5zM337 494.5h0.5v0.5h-0.5zM347.5 494.5h0.5v0.5h-0.5zM357.5 494.5h0.5v0.5h-0.5zM362.5 494.5h1.5v0.5h-1.5zM286 495h0.5v0.5h-0.5zM289.5 495h1.5v0.5h-1.5zM333.5 495h0.5v0.5h-0.5zM343 495h0.5v0.5h-0.5zM347.5 495h0.5v0.5h-0.5zM362.5 495h2v0.5h-2zM289 495.5h1.5v0.5h-1.5zM338.5 495.5h0.5v0.5h-0.5zM344.5 495.5h0.5v0.5h-0.5zM348 495.5h0.5v0.5h-0.5zM352 495.5h0.5v0.5h-0.5zM354 495.5h0.5v0.5h-0.5zM357 495.5h0.5v0.5h-0.5zM362 495.5h0.5v0.5h-0.5zM363 495.5h1.5v0.5h-1.5zM289.5 496h1v0.5h-1zM291.5 496h0.5v0.5h-0.5zM333.5 496h1v0.5h-1zM341 496h0.5v0.5h-0.5zM352.5 496h0.5v0.5h-0.5zM355.5 496h0.5v0.5h-0.5zM360.5 496h0.5v0.5h-0.5zM363.5 496h2v0.5h-2zM289 496.5h1v0.5h-1zM290.5 496.5h2v0.5h-2zM333 496.5h0.5v0.5h-0.5zM337 496.5h0.5v0.5h-0.5zM345.5 496.5h0.5v0.5h-0.5zM347 496.5h0.5v0.5h-0.5zM350.5 496.5h0.5v0.5h-0.5zM355.5 496.5h0.5v0.5h-0.5zM362 496.5h1.5v0.5h-1.5zM364.5 496.5h1v0.5h-1zM290 497h2v0.5h-2zM292.5 497h0.5v0.5h-0.5zM340.5 497h0.5v0.5h-0.5zM352 497h0.5v0.5h-0.5zM361.5 497h1v0.5h-1zM288.5 497.5h1v0.5h-1zM290 497.5h0.5v0.5h-0.5zM291 497.5h2v0.5h-2zM333 497.5h1.5v0.5h-1.5zM339.5 497.5h0.5v0.5h-0.5zM344 497.5h0.5v0.5h-0.5zM348 497.5h0.5v0.5h-0.5zM352 497.5h0.5v0.5h-0.5zM356.5 497.5h1v0.5h-1zM287.5 498h2v0.5h-2zM290.5 498h1v0.5h-1zM293.5 498h0.5v0.5h-0.5zM333.5 498h0.5v0.5h-0.5zM334.5 498h0.5v0.5h-0.5zM339.5 498h0.5v0.5h-0.5zM355.5 498h0.5v0.5h-0.5zM361 498h0.5v0.5h-0.5zM362.5 498h0.5v0.5h-0.5zM363.5 498h1v0.5h-1zM290.5 498.5h1v0.5h-1zM292.5 498.5h0.5v0.5h-0.5zM337.5 498.5h0.5v0.5h-0.5zM340 498.5h0.5v0.5h-0.5zM348 498.5h0.5v0.5h-0.5zM351 498.5h0.5v0.5h-0.5zM356.5 498.5h0.5v0.5h-0.5zM362 498.5h2.5v0.5h-2.5zM288 499h1v0.5h-1zM290.5 499h0.5v0.5h-0.5zM291.5 499h1.5v0.5h-1.5zM294 499h0.5v0.5h-0.5zM335.5 499h0.5v0.5h-0.5zM343 499h0.5v0.5h-0.5zM357 499h0.5v0.5h-0.5zM361 499h0.5v0.5h-0.5zM362.5 499h1.5v0.5h-1.5zM288 499.5h1v0.5h-1zM290.5 499.5h0.5v0.5h-0.5zM291.5 499.5h1.5v0.5h-1.5zM332 499.5h0.5v0.5h-0.5zM334.5 499.5h0.5v0.5h-0.5zM336.5 499.5h0.5v0.5h-0.5zM340 499.5h0.5v0.5h-0.5zM342 499.5h0.5v0.5h-0.5zM344.5 499.5h0.5v0.5h-0.5zM349 499.5h0.5v0.5h-0.5zM350 499.5h0.5v0.5h-0.5zM353.5 499.5h0.5v0.5h-0.5zM355.5 499.5h0.5v0.5h-0.5zM356.5 499.5h0.5v0.5h-0.5zM362 499.5h1.5v0.5h-1.5zM365 499.5h1v0.5h-1zM289 500h1v0.5h-1zM291.5 500h1v0.5h-1zM293.5 500h0.5v0.5h-0.5zM332.5 500h0.5v0.5h-0.5zM339.5 500h0.5v0.5h-0.5zM351 500h0.5v0.5h-0.5zM361.5 500h0.5v0.5h-0.5zM362.5 500h1v0.5h-1zM365 500h1v0.5h-1zM290.5 500.5h2.5v0.5h-2.5zM293.5 500.5h1v0.5h-1zM332.5 500.5h1v0.5h-1zM334 500.5h0.5v0.5h-0.5zM341 500.5h0.5v0.5h-0.5zM356.5 500.5h0.5v0.5h-0.5zM360.5 500.5h0.5v0.5h-0.5zM363 500.5h1v0.5h-1zM290.5 501h1.5v0.5h-1.5zM293 501h1.5v0.5h-1.5zM295 501h0.5v0.5h-0.5zM333.5 501h0.5v0.5h-0.5zM348.5 501h0.5v0.5h-0.5zM352.5 501h1v0.5h-1zM360.5 501h0.5v0.5h-0.5zM362 501h0.5v0.5h-0.5zM363 501h1v0.5h-1zM291 501.5h0.5v0.5h-0.5zM293 501.5h1.5v0.5h-1.5zM295 501.5h0.5v0.5h-0.5zM296 501.5h0.5v0.5h-0.5zM332.5 501.5h0.5v0.5h-0.5zM333.5 501.5h0.5v0.5h-0.5zM335.5 501.5h0.5v0.5h-0.5zM336.5 501.5h0.5v0.5h-0.5zM343.5 501.5h0.5v0.5h-0.5zM346.5 501.5h0.5v0.5h-0.5zM351 501.5h0.5v0.5h-0.5zM356.5 501.5h0.5v0.5h-0.5zM361.5 501.5h0.5v0.5h-0.5zM362.5 501.5h1v0.5h-1zM294.5 502h2v0.5h-2zM334 502h0.5v0.5h-0.5zM339 502h0.5v0.5h-0.5zM350 502h0.5v0.5h-0.5zM353 502h0.5v0.5h-0.5zM354.5 502h0.5v0.5h-0.5zM356 502h0.5v0.5h-0.5zM360 502h0.5v0.5h-0.5zM361 502h2.5v0.5h-2.5zM294 502.5h3v0.5h-3zM297.5 502.5h0.5v0.5h-0.5zM332.5 502.5h1v0.5h-1zM334 502.5h0.5v0.5h-0.5zM353 502.5h0.5v0.5h-0.5zM358 502.5h0.5v0.5h-0.5zM360.5 502.5h0.5v0.5h-0.5zM361.5 502.5h2v0.5h-2zM294 503h1v0.5h-1zM295.5 503h1.5v0.5h-1.5zM297.5 503h1v0.5h-1zM305.5 503h0.5v0.5h-0.5zM310.5 503h0.5v0.5h-0.5zM312 503h0.5v0.5h-0.5zM319.5 503h0.5v0.5h-0.5zM323 503h0.5v0.5h-0.5zM324 503h1v0.5h-1zM326 503h0.5v0.5h-0.5zM327.5 503h0.5v0.5h-0.5zM328.5 503h0.5v0.5h-0.5zM332 503h0.5v0.5h-0.5zM333.5 503h2v0.5h-2zM343 503h0.5v0.5h-0.5zM354 503h0.5v0.5h-0.5zM355.5 503h0.5v0.5h-0.5zM357.5 503h0.5v0.5h-0.5zM359 503h0.5v0.5h-0.5zM361.5 503h1.5v0.5h-1.5zM290.5 503.5h0.5v0.5h-0.5zM294.5 503.5h2.5v0.5h-2.5zM297.5 503.5h1v0.5h-1zM299 503.5h2.5v0.5h-2.5zM302 503.5h0.5v0.5h-0.5zM303 503.5h0.5v0.5h-0.5zM309.5 503.5h0.5v0.5h-0.5zM310.5 503.5h0.5v0.5h-0.5zM312 503.5h0.5v0.5h-0.5zM314.5 503.5h1v0.5h-1zM317.5 503.5h0.5v0.5h-0.5zM319.5 503.5h0.5v0.5h-0.5zM322 503.5h0.5v0.5h-0.5zM323 503.5h1v0.5h-1zM328 503.5h0.5v0.5h-0.5zM331.5 503.5h1.5v0.5h-1.5zM333.5 503.5h0.5v0.5h-0.5zM336 503.5h0.5v0.5h-0.5zM339 503.5h0.5v0.5h-0.5zM345.5 503.5h0.5v0.5h-0.5zM346.5 503.5h0.5v0.5h-0.5zM352.5 503.5h0.5v0.5h-0.5zM357.5 503.5h1v0.5h-1zM359.5 503.5h0.5v0.5h-0.5zM360.5 503.5h2v0.5h-2zM290.5 504h0.5v0.5h-0.5zM295.5 504h1.5v0.5h-1.5zM298 504h2v0.5h-2zM300.5 504h3v0.5h-3zM305 504h1v0.5h-1zM306.5 504h1v0.5h-1zM308.5 504h1.5v0.5h-1.5zM311 504h4.5v0.5h-4.5zM316.5 504h1.5v0.5h-1.5zM319.5 504h1v0.5h-1zM321 504h1v0.5h-1zM322.5 504h3v0.5h-3zM326 504h1.5v0.5h-1.5zM328 504h0.5v0.5h-0.5zM329 504h3.5v0.5h-3.5zM333 504h0.5v0.5h-0.5zM340 504h0.5v0.5h-0.5zM348 504h0.5v0.5h-0.5zM355.5 504h0.5v0.5h-0.5zM359 504h1.5v0.5h-1.5zM361 504h1.5v0.5h-1.5zM293 504.5h1.5v0.5h-1.5zM295 504.5h3.5v0.5h-3.5zM300.5 504.5h1.5v0.5h-1.5zM302.5 504.5h2v0.5h-2zM305 504.5h2v0.5h-2zM307.5 504.5h5.5v0.5h-5.5zM313.5 504.5h2v0.5h-2zM316 504.5h1.5v0.5h-1.5zM318 504.5h6.5v0.5h-6.5zM326 504.5h3.5v0.5h-3.5zM330 504.5h3v0.5h-3zM334 504.5h0.5v0.5h-0.5zM338 504.5h1.5v0.5h-1.5zM341 504.5h1v0.5h-1zM342.5 504.5h3v0.5h-3zM351.5 504.5h0.5v0.5h-0.5zM352.5 504.5h1v0.5h-1zM356 504.5h0.5v0.5h-0.5zM357.5 504.5h0.5v0.5h-0.5zM359.5 504.5h2.5v0.5h-2.5zM293 505h1.5v0.5h-1.5zM295 505h19v0.5h-19zM314.5 505h2.5v0.5h-2.5zM317.5 505h1.5v0.5h-1.5zM319.5 505h8v0.5h-8zM328 505h4v0.5h-4zM332.5 505h0.5v0.5h-0.5zM334.5 505h0.5v0.5h-0.5zM337.5 505h1v0.5h-1zM339.5 505h1v0.5h-1zM342.5 505h0.5v0.5h-0.5zM343.5 505h0.5v0.5h-0.5zM345.5 505h0.5v0.5h-0.5zM348.5 505h0.5v0.5h-0.5zM349.5 505h1v0.5h-1zM352 505h1.5v0.5h-1.5zM355 505h0.5v0.5h-0.5zM356 505h0.5v0.5h-0.5zM357.5 505h0.5v0.5h-0.5zM358.5 505h3v0.5h-3zM295.5 505.5h1v0.5h-1zM297 505.5h1v0.5h-1zM298.5 505.5h7.5v0.5h-7.5zM306.5 505.5h2v0.5h-2zM309 505.5h2.5v0.5h-2.5zM312.5 505.5h9v0.5h-9zM322 505.5h3.5v0.5h-3.5zM326 505.5h1v0.5h-1zM327.5 505.5h3v0.5h-3zM331 505.5h0.5v0.5h-0.5zM332 505.5h3.5v0.5h-3.5zM336 505.5h2v0.5h-2zM341 505.5h0.5v0.5h-0.5zM342 505.5h0.5v0.5h-0.5zM344 505.5h1v0.5h-1zM347 505.5h1v0.5h-1zM350.5 505.5h1v0.5h-1zM354 505.5h1.5v0.5h-1.5zM356 505.5h2.5v0.5h-2.5zM359 505.5h0.5v0.5h-0.5zM294.5 506h4v0.5h-4zM299 506h1v0.5h-1zM300.5 506h1v0.5h-1zM302 506h3.5v0.5h-3.5zM306 506h2v0.5h-2zM309 506h1v0.5h-1zM311 506h1v0.5h-1zM313.5 506h3v0.5h-3zM317 506h10v0.5h-10zM328 506h1v0.5h-1zM329.5 506h1v0.5h-1zM331 506h2.5v0.5h-2.5zM334 506h0.5v0.5h-0.5zM336 506h2v0.5h-2zM339 506h0.5v0.5h-0.5zM340.5 506h2v0.5h-2zM344.5 506h1v0.5h-1zM348 506h0.5v0.5h-0.5zM349 506h1.5v0.5h-1.5zM352 506h1v0.5h-1zM354 506h1.5v0.5h-1.5zM357 506h2.5v0.5h-2.5zM294.5 506.5h1.5v0.5h-1.5zM297 506.5h4.5v0.5h-4.5zM302 506.5h1.5v0.5h-1.5zM304 506.5h0.5v0.5h-0.5zM309 506.5h1v0.5h-1zM311 506.5h1v0.5h-1zM312.5 506.5h2.5v0.5h-2.5zM316 506.5h0.5v0.5h-0.5zM317 506.5h5.5v0.5h-5.5zM323 506.5h1v0.5h-1zM324.5 506.5h2v0.5h-2zM329.5 506.5h5.5v0.5h-5.5zM338.5 506.5h1v0.5h-1zM342 506.5h1v0.5h-1zM345 506.5h0.5v0.5h-0.5zM348.5 506.5h2v0.5h-2zM353 506.5h1v0.5h-1zM356 506.5h1v0.5h-1zM357.5 506.5h0.5v0.5h-0.5zM295 507h1v0.5h-1zM298 507h2.5v0.5h-2.5zM301 507h0.5v0.5h-0.5zM302.5 507h1v0.5h-1zM304.5 507h1v0.5h-1zM306 507h0.5v0.5h-0.5zM308.5 507h1v0.5h-1zM311.5 507h1.5v0.5h-1.5zM314.5 507h0.5v0.5h-0.5zM316 507h0.5v0.5h-0.5zM317 507h2v0.5h-2zM320 507h1v0.5h-1zM323 507h1.5v0.5h-1.5zM326 507h1v0.5h-1zM330 507h1v0.5h-1zM332.5 507h2.5v0.5h-2.5zM348.5 507h0.5v0.5h-0.5zM349.5 507h1.5v0.5h-1.5zM352 507h2v0.5h-2zM354.5 507h1v0.5h-1zM356 507h1v0.5h-1zM298 507.5h0.5v0.5h-0.5zM301 507.5h0.5v0.5h-0.5zM302.5 507.5h1v0.5h-1zM304.5 507.5h1v0.5h-1zM306 507.5h0.5v0.5h-0.5zM308 507.5h1.5v0.5h-1.5zM312 507.5h1v0.5h-1zM317 507.5h1v0.5h-1zM322.5 507.5h0.5v0.5h-0.5zM326 507.5h1v0.5h-1zM327.5 507.5h1v0.5h-1zM330 507.5h1v0.5h-1zM332.5 507.5h2.5v0.5h-2.5zM350.5 507.5h1v0.5h-1zM352 507.5h1.5v0.5h-1.5zM317 508h1v0.5h-1zM322.5 508h0.5v0.5h-0.5zM327.5 508h1v0.5h-1zM333 508h2v0.5h-2zM317.5 508.5h1v0.5h-1zM322.5 508.5h0.5v0.5h-0.5zM330 508.5h0.5v0.5h-0.5zM330 509h0.5v0.5h-0.5z"/>
<path fill="#111111" d="M311.5 478h0.5v0.5h-0.5zM316 478.5h0.5v0.5h-0.5zM302 479h0.5v0.5h-0.5zM304 479h0.5v0.5h-0.5zM308.5 479h0.5v0.5h-0.5zM318 479h0.5v0.5h-0.5zM324 479h0.5v0.5h-0.5zM325 479h0.5v0.5h-0.5zM326.5 479h0.5v0.5h-0.5zM304 479.5h0.5v0.5h-0.5zM305.5 479.5h1.5v0.5h-1.5zM308.5 479.5h0.5v0.5h-0.5zM310 479.5h0.5v0.5h-0.5zM311 479.5h0.5v0.5h-0.5zM312 479.5h0.5v0.5h-0.5zM313.5 479.5h0.5v0.5h-0.5zM314.5 479.5h1.5v0.5h-1.5zM317 479.5h0.5v0.5h-0.5zM320.5 479.5h0.5v0.5h-0.5zM321.5 479.5h0.5v0.5h-0.5zM323.5 479.5h0.5v0.5h-0.5zM299.5 480h0.5v0.5h-0.5zM305 480h1v0.5h-1zM306.5 480h0.5v0.5h-0.5zM310 480h0.5v0.5h-0.5zM311 480h2.5v0.5h-2.5zM314 480h1v0.5h-1zM315.5 480h1v0.5h-1zM317.5 480h1v0.5h-1zM321.5 480h0.5v0.5h-0.5zM322.5 480h1v0.5h-1zM324.5 480h0.5v0.5h-0.5zM325.5 480h1.5v0.5h-1.5zM300 480.5h0.5v0.5h-0.5zM302.5 480.5h2.5v0.5h-2.5zM305.5 480.5h0.5v0.5h-0.5zM306.5 480.5h7v0.5h-7zM314 480.5h3.5v0.5h-3.5zM318 480.5h1.5v0.5h-1.5zM320 480.5h4v0.5h-4zM324.5 480.5h1v0.5h-1zM326 480.5h1.5v0.5h-1.5zM328 480.5h0.5v0.5h-0.5zM297 481h0.5v0.5h-0.5zM298.5 481h4v0.5h-4zM303 481h24.5v0.5h-24.5zM328 481h1v0.5h-1zM332 481h0.5v0.5h-0.5zM295 481.5h0.5v0.5h-0.5zM298 481.5h1v0.5h-1zM299.5 481.5h0.5v0.5h-0.5zM300.5 481.5h27.5v0.5h-27.5zM328.5 481.5h0.5v0.5h-0.5zM330 481.5h0.5v0.5h-0.5zM292 482h1v0.5h-1zM293.5 482h0.5v0.5h-0.5zM295 482h1v0.5h-1zM296.5 482h2v0.5h-2zM299 482h30v0.5h-30zM329.5 482h1v0.5h-1zM290.5 482.5h0.5v0.5h-0.5zM291.5 482.5h0.5v0.5h-0.5zM292.5 482.5h0.5v0.5h-0.5zM293.5 482.5h0.5v0.5h-0.5zM294.5 482.5h0.5v0.5h-0.5zM295.5 482.5h34v0.5h-34zM292 483h1v0.5h-1zM293.5 483h0.5v0.5h-0.5zM294.5 483h36v0.5h-36zM331 483h0.5v0.5h-0.5zM290 483.5h0.5v0.5h-0.5zM291.5 483.5h40v0.5h-40zM332 483.5h1v0.5h-1zM291 484h0.5v0.5h-0.5zM292 484h39.5v0.5h-39.5zM290 484.5h0.5v0.5h-0.5zM291 484.5h41v0.5h-41zM290.5 485h42v0.5h-42zM333 485h0.5v0.5h-0.5zM334 485h0.5v0.5h-0.5zM347.5 485h0.5v0.5h-0.5zM290.5 485.5h42v0.5h-42zM333.5 485.5h0.5v0.5h-0.5zM343 485.5h0.5v0.5h-0.5zM345.5 485.5h0.5v0.5h-0.5zM351 485.5h0.5v0.5h-0.5zM289.5 486h0.5v0.5h-0.5zM290.5 486h43v0.5h-43zM342 486h0.5v0.5h-0.5zM349 486h0.5v0.5h-0.5zM352 486h0.5v0.5h-0.5zM353.5 486h0.5v0.5h-0.5zM289.5 486.5h0.5v0.5h-0.5zM290.5 486.5h43v0.5h-43zM336.5 486.5h0.5v0.5h-0.5zM342 486.5h0.5v0.5h-0.5zM343 486.5h2v0.5h-2zM345.5 486.5h0.5v0.5h-0.5zM347.5 486.5h1v0.5h-1zM350.5 486.5h0.5v0.5h-0.5zM351.5 486.5h1v0.5h-1zM353 486.5h0.5v0.5h-0.5zM289.5 487h0.5v0.5h-0.5zM290.5 487h43v0.5h-43zM336 487h0.5v0.5h-0.5zM341 487h2.5v0.5h-2.5zM344 487h1.5v0.5h-1.5zM346 487h0.5v0.5h-0.5zM347 487h0.5v0.5h-0.5zM348 487h0.5v0.5h-0.5zM349 487h1.5v0.5h-1.5zM352 487h3.5v0.5h-3.5zM289 487.5h43.5v0.5h-43.5zM334.5 487.5h0.5v0.5h-0.5zM336.5 487.5h0.5v0.5h-0.5zM337.5 487.5h0.5v0.5h-0.5zM340 487.5h2v0.5h-2zM342.5 487.5h4v0.5h-4zM348 487.5h4.5v0.5h-4.5zM353 487.5h1v0.5h-1zM355 487.5h0.5v0.5h-0.5zM357 487.5h0.5v0.5h-0.5zM359 487.5h0.5v0.5h-0.5zM290.5 488h42.5v0.5h-42.5zM334.5 488h1v0.5h-1zM336 488h1v0.5h-1zM338.5 488h2.5v0.5h-2.5zM341.5 488h2v0.5h-2zM344.5 488h4v0.5h-4zM349 488h4v0.5h-4zM353.5 488h0.5v0.5h-0.5zM354.5 488h2.5v0.5h-2.5zM357.5 488h1v0.5h-1zM291 488.5h42v0.5h-42zM333.5 488.5h0.5v0.5h-0.5zM335.5 488.5h1v0.5h-1zM337 488.5h5.5v0.5h-5.5zM343 488.5h6.5v0.5h-6.5zM350 488.5h1.5v0.5h-1.5zM352 488.5h1v0.5h-1zM354 488.5h3v0.5h-3zM358 488.5h0.5v0.5h-0.5zM290 489h43v0.5h-43zM334.5 489h4v0.5h-4zM339 489h2.5v0.5h-2.5zM342 489h2.5v0.5h-2.5zM345 489h1.5v0.5h-1.5zM347 489h3v0.5h-3zM350.5 489h1v0.5h-1zM352 489h4v0.5h-4zM357 489h1.5v0.5h-1.5zM359 489h0.5v0.5h-0.5zM360 489h0.5v0.5h-0.5zM361.5 489h0.5v0.5h-0.5zM290 489.5h0.5v0.5h-0.5zM291 489.5h44v0.5h-44zM335.5 489.5h2.5v0.5h-2.5zM338.5 489.5h4v0.5h-4zM343 489.5h12.5v0.5h-12.5zM356 489.5h3v0.5h-3zM289.5 490h1v0.5h-1zM291 490h42.5v0.5h-42.5zM334.5 490h1v0.5h-1zM336 490h1.5v0.5h-1.5zM338 490h2v0.5h-2zM340.5 490h1.5v0.5h-1.5zM343 490h17v0.5h-17zM289 490.5h0.5v0.5h-0.5zM290 490.5h0.5v0.5h-0.5zM291 490.5h42.5v0.5h-42.5zM334 490.5h8v0.5h-8zM342.5 490.5h1v0.5h-1zM344 490.5h9.5v0.5h-9.5zM354 490.5h1.5v0.5h-1.5zM356 490.5h1.5v0.5h-1.5zM358 490.5h2.5v0.5h-2.5zM290.5 491h43.5v0.5h-43.5zM335 491h5.5v0.5h-5.5zM341 491h4.5v0.5h-4.5zM346 491h9.5v0.5h-9.5zM356 491h1v0.5h-1zM358 491h1v0.5h-1zM359.5 491h0.5v0.5h-0.5zM360.5 491h1v0.5h-1zM290.5 491.5h42.5v0.5h-42.5zM333.5 491.5h7.5v0.5h-7.5zM341.5 491.5h5v0.5h-5zM347 491.5h5.5v0.5h-5.5zM353 491.5h2v0.5h-2zM356 491.5h5v0.5h-5zM289.5 492h44.5v0.5h-44.5zM334.5 492h5.5v0.5h-5.5zM341 492h3.5v0.5h-3.5zM345 492h5.5v0.5h-5.5zM351 492h8.5v0.5h-8.5zM360.5 492h1v0.5h-1zM362 492h0.5v0.5h-0.5zM290.5 492.5h42.5v0.5h-42.5zM333.5 492.5h1v0.5h-1zM335 492.5h4.5v0.5h-4.5zM340 492.5h1.5v0.5h-1.5zM342 492.5h9v0.5h-9zM351.5 492.5h9.5v0.5h-9.5zM361.5 492.5h0.5v0.5h-0.5zM290.5 493h43v0.5h-43zM334 493h0.5v0.5h-0.5zM335 493h2v0.5h-2zM337.5 493h1v0.5h-1zM339 493h6.5v0.5h-6.5zM346 493h6v0.5h-6zM352.5 493h5v0.5h-5zM358 493h2v0.5h-2zM360.5 493h1v0.5h-1zM362 493h0.5v0.5h-0.5zM363 493h0.5v0.5h-0.5zM290 493.5h43v0.5h-43zM333.5 493.5h1v0.5h-1zM335 493.5h0.5v0.5h-0.5zM336 493.5h7v0.5h-7zM343.5 493.5h5v0.5h-5zM349 493.5h13v0.5h-13zM291 494h42.5v0.5h-42.5zM334 494h0.5v0.5h-0.5zM335 494h0.5v0.5h-0.5zM336 494h0.5v0.5h-0.5zM337 494h2v0.5h-2zM339.5 494h1.5v0.5h-1.5zM341.5 494h13.5v0.5h-13.5zM355.5 494h0.5v0.5h-0.5zM356.5 494h6v0.5h-6zM364 494h0.5v0.5h-0.5zM291.5 494.5h41.5v0.5h-41.5zM333.5 494.5h0.5v0.5h-0.5zM334.5 494.5h2.5v0.5h-2.5zM337.5 494.5h10v0.5h-10zM348 494.5h9.5v0.5h-9.5zM358 494.5h4.5v0.5h-4.5zM291 495h42.5v0.5h-42.5zM334 495h9v0.5h-9zM343.5 495h4v0.5h-4zM348 495h14.5v0.5h-14.5zM291 495.5h43v0.5h-43zM334.5 495.5h4v0.5h-4zM339 495.5h5.5v0.5h-5.5zM345 495.5h3v0.5h-3zM348.5 495.5h3.5v0.5h-3.5zM352.5 495.5h1.5v0.5h-1.5zM354.5 495.5h2.5v0.5h-2.5zM357.5 495.5h4.5v0.5h-4.5zM362.5 495.5h0.5v0.5h-0.5zM292 496h41.5v0.5h-41.5zM334.5 496h6.5v0.5h-6.5zM341.5 496h1.5v0.5h-1.5zM343.5 496h9v0.5h-9zM353 496h2.5v0.5h-2.5zM356 496h4.5v0.5h-4.5zM361 496h2.5v0.5h-2.5zM292.5 496.5h40.5v0.5h-40.5zM333.5 496.5h3.5v0.5h-3.5zM337.5 496.5h8v0.5h-8zM346 496.5h1v0.5h-1zM347.5 496.5h3v0.5h-3zM351 496.5h4.5v0.5h-4.5zM356 496.5h6v0.5h-6zM293 497h39.5v0.5h-39.5zM333.5 497h7v0.5h-7zM341 497h11v0.5h-11zM352.5 497h0.5v0.5h-0.5zM353.5 497h8v0.5h-8zM362.5 497h1v0.5h-1zM293 497.5h40v0.5h-40zM334.5 497.5h5v0.5h-5zM340 497.5h4v0.5h-4zM344.5 497.5h3.5v0.5h-3.5zM348.5 497.5h3.5v0.5h-3.5zM352.5 497.5h4v0.5h-4zM357.5 497.5h4.5v0.5h-4.5zM292.5 498h1v0.5h-1zM294 498h39.5v0.5h-39.5zM334 498h0.5v0.5h-0.5zM335 498h4.5v0.5h-4.5zM340 498h15.5v0.5h-15.5zM356 498h5v0.5h-5zM361.5 498h1v0.5h-1zM292 498.5h0.5v0.5h-0.5zM293 498.5h44.5v0.5h-44.5zM338 498.5h2v0.5h-2zM340.5 498.5h7.5v0.5h-7.5zM348.5 498.5h2.5v0.5h-2.5zM351.5 498.5h5v0.5h-5zM357 498.5h5v0.5h-5zM293.5 499h0.5v0.5h-0.5zM294.5 499h41v0.5h-41zM336 499h7v0.5h-7zM343.5 499h10v0.5h-10zM354 499h3v0.5h-3zM357.5 499h3.5v0.5h-3.5zM361.5 499h1v0.5h-1zM293 499.5h39v0.5h-39zM334 499.5h0.5v0.5h-0.5zM335 499.5h1.5v0.5h-1.5zM337 499.5h3v0.5h-3zM340.5 499.5h1.5v0.5h-1.5zM342.5 499.5h2v0.5h-2zM345 499.5h0.5v0.5h-0.5zM346 499.5h3v0.5h-3zM349.5 499.5h0.5v0.5h-0.5zM350.5 499.5h3v0.5h-3zM354 499.5h1.5v0.5h-1.5zM356 499.5h0.5v0.5h-0.5zM357 499.5h5v0.5h-5zM294 500h38v0.5h-38zM333.5 500h6v0.5h-6zM340 500h11v0.5h-11zM351.5 500h10v0.5h-10zM294.5 500.5h38v0.5h-38zM333.5 500.5h0.5v0.5h-0.5zM334.5 500.5h6.5v0.5h-6.5zM341.5 500.5h3v0.5h-3zM345 500.5h11.5v0.5h-11.5zM357 500.5h3.5v0.5h-3.5zM361 500.5h1.5v0.5h-1.5zM294.5 501h0.5v0.5h-0.5zM295.5 501h38v0.5h-38zM334 501h14.5v0.5h-14.5zM349 501h3.5v0.5h-3.5zM353.5 501h7v0.5h-7zM361 501h1v0.5h-1zM294.5 501.5h0.5v0.5h-0.5zM295.5 501.5h0.5v0.5h-0.5zM296.5 501.5h36v0.5h-36zM333 501.5h0.5v0.5h-0.5zM334 501.5h1.5v0.5h-1.5zM336 501.5h0.5v0.5h-0.5zM337 501.5h6.5v0.5h-6.5zM344 501.5h2.5v0.5h-2.5zM347 501.5h4v0.5h-4zM351.5 501.5h5v0.5h-5zM357 501.5h4.5v0.5h-4.5zM362 501.5h0.5v0.5h-0.5zM296.5 502h35.5v0.5h-35.5zM332.5 502h1.5v0.5h-1.5zM335 502h4v0.5h-4zM339.5 502h10.5v0.5h-10.5zM350.5 502h2.5v0.5h-2.5zM353.5 502h1v0.5h-1zM355 502h1v0.5h-1zM356.5 502h3v0.5h-3zM360.5 502h0.5v0.5h-0.5zM297 502.5h0.5v0.5h-0.5zM298 502.5h34.5v0.5h-34.5zM333.5 502.5h0.5v0.5h-0.5zM334.5 502.5h14v0.5h-14zM349 502.5h4v0.5h-4zM353.5 502.5h1.5v0.5h-1.5zM355.5 502.5h2.5v0.5h-2.5zM358.5 502.5h2v0.5h-2zM297 503h0.5v0.5h-0.5zM298.5 503h7v0.5h-7zM306 503h4.5v0.5h-4.5zM311 503h1v0.5h-1zM312.5 503h7v0.5h-7zM320 503h3v0.5h-3zM323.5 503h0.5v0.5h-0.5zM325 503h1v0.5h-1zM326.5 503h1v0.5h-1zM328 503h0.5v0.5h-0.5zM329 503h3v0.5h-3zM332.5 503h1v0.5h-1zM335.5 503h7.5v0.5h-7.5zM343.5 503h10.5v0.5h-10.5zM354.5 503h1v0.5h-1zM356.5 503h1v0.5h-1zM358 503h1v0.5h-1zM359.5 503h1.5v0.5h-1.5zM297 503.5h0.5v0.5h-0.5zM298.5 503.5h0.5v0.5h-0.5zM301.5 503.5h0.5v0.5h-0.5zM303.5 503.5h6v0.5h-6zM310 503.5h0.5v0.5h-0.5zM311 503.5h1v0.5h-1zM312.5 503.5h2v0.5h-2zM315.5 503.5h2v0.5h-2zM318 503.5h1.5v0.5h-1.5zM320 503.5h2v0.5h-2zM322.5 503.5h0.5v0.5h-0.5zM324.5 503.5h3.5v0.5h-3.5zM328.5 503.5h3v0.5h-3zM333 503.5h0.5v0.5h-0.5zM334.5 503.5h1.5v0.5h-1.5zM336.5 503.5h2.5v0.5h-2.5zM339.5 503.5h6v0.5h-6zM346 503.5h0.5v0.5h-0.5zM347 503.5h1v0.5h-1zM348.5 503.5h2v0.5h-2zM351 503.5h1.5v0.5h-1.5zM353 503.5h4.5v0.5h-4.5zM358.5 503.5h1v0.5h-1zM360 503.5h0.5v0.5h-0.5zM297.5 504h0.5v0.5h-0.5zM300 504h0.5v0.5h-0.5zM303.5 504h1.5v0.5h-1.5zM306 504h0.5v0.5h-0.5zM307.5 504h1v0.5h-1zM310 504h1v0.5h-1zM315.5 504h1v0.5h-1zM318 504h1v0.5h-1zM320.5 504h0.5v0.5h-0.5zM322 504h0.5v0.5h-0.5zM325.5 504h0.5v0.5h-0.5zM327.5 504h0.5v0.5h-0.5zM328.5 504h0.5v0.5h-0.5zM332.5 504h0.5v0.5h-0.5zM333.5 504h6.5v0.5h-6.5zM340.5 504h7.5v0.5h-7.5zM348.5 504h7v0.5h-7zM356 504h0.5v0.5h-0.5zM357 504h2v0.5h-2zM360.5 504h0.5v0.5h-0.5zM298.5 504.5h0.5v0.5h-0.5zM302 504.5h0.5v0.5h-0.5zM313 504.5h0.5v0.5h-0.5zM315.5 504.5h0.5v0.5h-0.5zM317.5 504.5h0.5v0.5h-0.5zM324.5 504.5h1.5v0.5h-1.5zM329.5 504.5h0.5v0.5h-0.5zM333 504.5h1v0.5h-1zM334.5 504.5h3.5v0.5h-3.5zM339.5 504.5h1.5v0.5h-1.5zM342 504.5h0.5v0.5h-0.5zM345.5 504.5h6v0.5h-6zM353.5 504.5h2.5v0.5h-2.5zM357 504.5h0.5v0.5h-0.5zM358.5 504.5h1v0.5h-1zM319 505h0.5v0.5h-0.5zM327.5 505h0.5v0.5h-0.5zM332 505h0.5v0.5h-0.5zM334 505h0.5v0.5h-0.5zM335.5 505h0.5v0.5h-0.5zM338.5 505h0.5v0.5h-0.5zM340.5 505h2v0.5h-2zM343 505h0.5v0.5h-0.5zM344 505h1.5v0.5h-1.5zM346 505h1v0.5h-1zM348 505h0.5v0.5h-0.5zM349 505h0.5v0.5h-0.5zM350.5 505h1.5v0.5h-1.5zM354 505h1v0.5h-1zM355.5 505h0.5v0.5h-0.5zM357 505h0.5v0.5h-0.5zM358 505h0.5v0.5h-0.5zM331.5 505.5h0.5v0.5h-0.5zM338 505.5h0.5v0.5h-0.5zM340.5 505.5h0.5v0.5h-0.5zM341.5 505.5h0.5v0.5h-0.5zM342.5 505.5h1.5v0.5h-1.5zM345.5 505.5h0.5v0.5h-0.5zM346.5 505.5h0.5v0.5h-0.5zM348 505.5h2.5v0.5h-2.5zM351.5 505.5h2v0.5h-2zM358.5 505.5h0.5v0.5h-0.5zM334.5 506h0.5v0.5h-0.5zM338 506h0.5v0.5h-0.5zM342.5 506h0.5v0.5h-0.5zM343.5 506h0.5v0.5h-0.5zM347.5 506h0.5v0.5h-0.5zM348.5 506h0.5v0.5h-0.5zM351.5 506h0.5v0.5h-0.5zM353 506h0.5v0.5h-0.5zM337.5 506.5h0.5v0.5h-0.5zM340.5 506.5h0.5v0.5h-0.5zM344.5 506.5h0.5v0.5h-0.5zM346 506.5h0.5v0.5h-0.5zM347 506.5h0.5v0.5h-0.5zM350.5 506.5h1v0.5h-1zM354.5 506.5h1.5v0.5h-1.5zM357 506.5h0.5v0.5h-0.5zM358 506.5h0.5v0.5h-0.5zM337.5 507h0.5v0.5h-0.5z"/>
<path stroke="#3a3a3a" stroke-width="1.25" fill="none" d="M276.3 452H380.6V538H276.3ZM335.8 452V538M276.3 506.3H380.6"/>
<path stroke="#1c1c1c" stroke-width="1.2" fill="none" d="M297 538v5.2M317.5 538v5.2M346.3 538v5.2M371.3 538v5.2M326.17 538v3M331.24 538v3M334.84 538v3M337.63 538v3M339.91 538v3M341.84 538v3M343.51 538v3M344.98 538v3M354.97 538v3M360.04 538v3M363.64 538v3M366.43 538v3M368.71 538v3M370.64 538v3M372.31 538v3M373.78 538v3M379.97 538v3M277.5 538v3.6M279.5 538v3M281.5 538v3M283.5 538v3M285.5 538v3.6M287.5 538v3M289.5 538v3M291.5 538v3M293.5 538v3.6M295.5 538v3M297.5 538v3M299.5 538v3M301.5 538v3.6M303.5 538v3M305.5 538v3M307.5 538v3M309.5 538v3.6M311.5 538v3M313.5 538v3M315.5 538v3M294.8 538v5.2M299.4 538v4.4"/>
<path stroke="#1c1c1c" stroke-width="1.0" fill="none" d="M276.3 460.43h-4.2M276.3 479.43h-4.2M276.3 499.56h-4.2M276.3 519.6h-4.2M276.3 454.71h-2.4M276.3 473.71h-2.4M276.3 470.37h-2.4M276.3 467.99h-2.4M276.3 466.15h-2.4M276.3 464.64h-2.4M276.3 463.37h-2.4M276.3 462.27h-2.4M276.3 461.3h-2.4M276.3 493.84h-2.4M276.3 490.49h-2.4M276.3 488.12h-2.4M276.3 486.27h-2.4M276.3 484.77h-2.4M276.3 483.5h-2.4M276.3 482.39h-2.4M276.3 481.42h-2.4M276.3 513.87h-2.4M276.3 510.53h-2.4M276.3 508.15h-2.4M276.3 506.31h-2.4M276.3 504.81h-2.4M276.3 503.53h-2.4M276.3 502.43h-2.4M276.3 501.46h-2.4M276.3 519.6h-2.4M276.3 521.1h-2.4M276.3 522.6h-2.4M276.3 524.1h-2.4M276.3 525.6h-2.4M276.3 527.1h-2.4M276.3 528.6h-2.4M276.3 530.1h-2.4M276.3 531.6h-2.4M276.3 533.1h-2.4M276.3 534.6h-2.4M276.3 536.1h-2.4M276.3 537.6h-2.4M276.3 528.88h-4.2"/>
<text x="357.5" y="535.7" font-size="6.1" fill="#222">Q4-4</text>
<rect x="347.5" y="513.8" width="29.5" height="20" fill="#d3d3d3"/>
<text x="361.55" y="528.1" font-size="11.3" fill="#666666" text-anchor="middle">6%</text>
<g font-size="6.63" fill="#1e1e1e" stroke="#1e1e1e" stroke-width="0.12">
<text x="315" y="465">Q1-4</text>
<text x="352.5" y="465">Q2-4</text>
<text x="314.5" y="526.8">Q3-4</text>
</g>
<g font-size="5.54" font-weight="bold" fill="#141414" stroke="#141414" stroke-width="0.2">
<text x="297" y="550.1" text-anchor="middle">0</text>
<text x="313.59" y="550.1">10<tspan font-size="4.35" dy="-2.93">3</tspan></text>
<text x="342.39" y="550.1">10<tspan font-size="4.35" dy="-2.93">4</tspan></text>
<text x="367.39" y="550.1">10<tspan font-size="4.35" dy="-2.93">5</tspan></text>
<text x="268.04" y="553.6" font-size="5.43" textLength="16.51" lengthAdjust="spacingAndGlyphs">-1,144</text>
<text x="268.37" y="544.4" font-size="6.63" stroke-width="0.45">M</text>
<text x="304.68" y="557" font-size="5.65" textLength="46.28" lengthAdjust="spacingAndGlyphs">Alexa Fluor 700-A</text>
<text transform="translate(271.3 460.43) rotate(-90)" x="-3.04" y="0">10<tspan font-size="4.35" dy="-4.13">5</tspan></text>
<text transform="translate(271.3 479.43) rotate(-90)" x="-3.04" y="0">10<tspan font-size="4.35" dy="-4.13">4</tspan></text>
<text transform="translate(271.3 499.56) rotate(-90)" x="-3.04" y="0">10<tspan font-size="4.35" dy="-4.13">3</tspan></text>
<text transform="translate(271.3 519.6) rotate(-90)" x="-3.04" y="0">10<tspan font-size="4.35" dy="-4.13">2</tspan></text>
<text transform="translate(271.3 528.88) rotate(-90)" x="-1.52" y="0">0</text>
<text transform="translate(265.11 536.4) rotate(-90)" x="-3.91" y="0" font-size="4.89">-90</text>
</g>
</g>
<g>
<text x="417.5" y="451" font-size="3.3" fill="#333" fill-opacity="0.4" font-weight="bold" textLength="61.3" lengthAdjust="spacingAndGlyphs">Specimen_001-PIN 5 CD107a IL-2 TNF IFN CD8 T cells</text>
<path fill="#0a0a0a" fill-opacity="0.92" d="M446 481h1v0.5h-1zM454 481h1v0.5h-1zM480.5 481h1v0.5h-1zM446.5 481.5h1v0.5h-1zM449 481.5h1v0.5h-1zM454 481.5h1v0.5h-1zM459.5 481.5h1v0.5h-1zM462.5 481.5h0.5v0.5h-0.5zM463.5 481.5h1.5v0.5h-1.5zM480.5 481.5h1v0.5h-1zM482 481.5h1v0.5h-1zM446.5 482h0.5v0.5h-0.5zM449 482h2v0.5h-2zM452.5 482h0.5v0.5h-0.5zM462.5 482h0.5v0.5h-0.5zM463.5 482h2.5v0.5h-2.5zM470 482h1v0.5h-1zM471.5 482h1v0.5h-1zM473 482h1v0.5h-1zM481 482h1v0.5h-1zM446.5 482.5h1.5v0.5h-1.5zM449 482.5h3v0.5h-3zM452.5 482.5h1.5v0.5h-1.5zM456.5 482.5h1v0.5h-1zM459 482.5h0.5v0.5h-0.5zM460.5 482.5h1v0.5h-1zM464 482.5h0.5v0.5h-0.5zM465 482.5h1v0.5h-1zM470 482.5h1v0.5h-1zM471.5 482.5h2.5v0.5h-2.5zM475 482.5h1v0.5h-1zM480.5 482.5h1.5v0.5h-1.5zM444 483h1.5v0.5h-1.5zM450 483h2v0.5h-2zM452.5 483h3.5v0.5h-3.5zM457.5 483h4v0.5h-4zM463.5 483h1v0.5h-1zM465 483h1v0.5h-1zM472 483h4v0.5h-4zM479 483h0.5v0.5h-0.5zM480.5 483h1v0.5h-1zM482 483h1v0.5h-1zM483.5 483h0.5v0.5h-0.5zM486.5 483h1v0.5h-1zM441 483.5h1v0.5h-1zM442.5 483.5h1v0.5h-1zM444 483.5h1.5v0.5h-1.5zM446 483.5h3.5v0.5h-3.5zM450 483.5h2.5v0.5h-2.5zM454 483.5h2v0.5h-2zM456.5 483.5h5v0.5h-5zM462 483.5h2v0.5h-2zM466.5 483.5h0.5v0.5h-0.5zM468 483.5h1.5v0.5h-1.5zM470 483.5h2.5v0.5h-2.5zM473 483.5h0.5v0.5h-0.5zM474 483.5h0.5v0.5h-0.5zM475 483.5h5v0.5h-5zM480.5 483.5h0.5v0.5h-0.5zM482 483.5h1.5v0.5h-1.5zM486.5 483.5h1v0.5h-1zM490.5 483.5h1v0.5h-1zM440.5 484h1.5v0.5h-1.5zM442.5 484h1v0.5h-1zM445 484h1.5v0.5h-1.5zM447 484h2.5v0.5h-2.5zM453.5 484h0.5v0.5h-0.5zM454.5 484h7v0.5h-7zM462 484h1.5v0.5h-1.5zM464.5 484h1v0.5h-1zM466 484h1.5v0.5h-1.5zM468 484h0.5v0.5h-0.5zM469.5 484h1v0.5h-1zM471.5 484h0.5v0.5h-0.5zM472.5 484h8v0.5h-8zM481 484h2.5v0.5h-2.5zM484 484h2v0.5h-2zM486.5 484h0.5v0.5h-0.5zM487.5 484h4.5v0.5h-4.5zM438 484.5h1v0.5h-1zM439.5 484.5h2.5v0.5h-2.5zM442.5 484.5h1.5v0.5h-1.5zM444.5 484.5h4.5v0.5h-4.5zM449.5 484.5h2v0.5h-2zM452 484.5h0.5v0.5h-0.5zM454 484.5h1v0.5h-1zM456 484.5h1v0.5h-1zM458 484.5h1.5v0.5h-1.5zM460 484.5h2v0.5h-2zM463 484.5h0.5v0.5h-0.5zM464.5 484.5h0.5v0.5h-0.5zM466 484.5h0.5v0.5h-0.5zM468 484.5h0.5v0.5h-0.5zM469.5 484.5h0.5v0.5h-0.5zM472 484.5h0.5v0.5h-0.5zM473 484.5h3.5v0.5h-3.5zM477 484.5h0.5v0.5h-0.5zM479 484.5h1v0.5h-1zM480.5 484.5h1v0.5h-1zM482 484.5h1.5v0.5h-1.5zM484 484.5h2v0.5h-2zM486.5 484.5h3v0.5h-3zM490 484.5h1v0.5h-1zM492 484.5h1v0.5h-1zM439 485h1.5v0.5h-1.5zM441 485h1v0.5h-1zM442.5 485h2v0.5h-2zM445 485h1.5v0.5h-1.5zM447 485h1v0.5h-1zM448.5 485h1.5v0.5h-1.5zM451 485h2v0.5h-2zM453.5 485h1v0.5h-1zM455 485h0.5v0.5h-0.5zM456.5 485h1v0.5h-1zM458.5 485h0.5v0.5h-0.5zM459.5 485h1v0.5h-1zM461 485h1v0.5h-1zM463 485h1v0.5h-1zM465 485h0.5v0.5h-0.5zM466 485h0.5v0.5h-0.5zM467 485h1v0.5h-1zM468.5 485h0.5v0.5h-0.5zM470 485h0.5v0.5h-0.5zM471.5 485h0.5v0.5h-0.5zM475.5 485h0.5v0.5h-0.5zM477 485h1v0.5h-1zM480 485h0.5v0.5h-0.5zM483 485h1v0.5h-1zM485 485h0.5v0.5h-0.5zM486.5 485h1.5v0.5h-1.5zM488.5 485h2v0.5h-2zM433 485.5h1v0.5h-1zM438 485.5h2.5v0.5h-2.5zM441 485.5h6.5v0.5h-6.5zM448 485.5h0.5v0.5h-0.5zM450 485.5h1v0.5h-1zM451.5 485.5h1v0.5h-1zM455 485.5h0.5v0.5h-0.5zM457 485.5h0.5v0.5h-0.5zM459.5 485.5h0.5v0.5h-0.5zM465 485.5h0.5v0.5h-0.5zM466.5 485.5h1v0.5h-1zM473.5 485.5h0.5v0.5h-0.5zM477 485.5h1v0.5h-1zM484 485.5h1v0.5h-1zM485.5 485.5h0.5v0.5h-0.5zM486.5 485.5h0.5v0.5h-0.5zM488.5 485.5h1v0.5h-1zM490 485.5h0.5v0.5h-0.5zM433 486h1v0.5h-1zM436.5 486h1.5v0.5h-1.5zM439 486h3.5v0.5h-3.5zM444 486h0.5v0.5h-0.5zM445.5 486h1v0.5h-1zM451.5 486h0.5v0.5h-0.5zM485 486h0.5v0.5h-0.5zM486.5 486h2.5v0.5h-2.5zM489.5 486h2v0.5h-2zM492.5 486h1v0.5h-1zM434.5 486.5h3.5v0.5h-3.5zM439 486.5h0.5v0.5h-0.5zM440.5 486.5h2.5v0.5h-2.5zM443.5 486.5h0.5v0.5h-0.5zM444.5 486.5h0.5v0.5h-0.5zM445.5 486.5h1v0.5h-1zM447 486.5h1v0.5h-1zM486.5 486.5h0.5v0.5h-0.5zM489 486.5h0.5v0.5h-0.5zM490 486.5h3.5v0.5h-3.5zM432 487h4.5v0.5h-4.5zM437 487h2.5v0.5h-2.5zM440 487h1v0.5h-1zM441.5 487h1.5v0.5h-1.5zM444.5 487h0.5v0.5h-0.5zM446.5 487h0.5v0.5h-0.5zM484.5 487h0.5v0.5h-0.5zM488 487h0.5v0.5h-0.5zM489 487h3.5v0.5h-3.5zM421.5 487.5h0.5v0.5h-0.5zM432 487.5h7.5v0.5h-7.5zM440 487.5h1.5v0.5h-1.5zM442.5 487.5h0.5v0.5h-0.5zM443.5 487.5h0.5v0.5h-0.5zM488.5 487.5h4.5v0.5h-4.5zM421.5 488h0.5v0.5h-0.5zM430.5 488h0.5v0.5h-0.5zM432.5 488h5v0.5h-5zM438.5 488h1.5v0.5h-1.5zM440.5 488h1v0.5h-1zM442.5 488h0.5v0.5h-0.5zM487.5 488h0.5v0.5h-0.5zM488.5 488h3v0.5h-3zM492 488h1v0.5h-1zM428.5 488.5h1v0.5h-1zM430.5 488.5h0.5v0.5h-0.5zM431.5 488.5h0.5v0.5h-0.5zM433.5 488.5h1v0.5h-1zM435 488.5h0.5v0.5h-0.5zM436 488.5h1v0.5h-1zM438.5 488.5h0.5v0.5h-0.5zM466 488.5h0.5v0.5h-0.5zM487.5 488.5h0.5v0.5h-0.5zM488.5 488.5h0.5v0.5h-0.5zM489.5 488.5h2v0.5h-2zM492 488.5h1.5v0.5h-1.5zM417.5 489h1v0.5h-1zM427 489h1v0.5h-1zM428.5 489h2v0.5h-2zM431.5 489h0.5v0.5h-0.5zM432.5 489h3v0.5h-3zM436.5 489h1v0.5h-1zM486 489h0.5v0.5h-0.5zM487.5 489h1v0.5h-1zM489 489h2.5v0.5h-2.5zM492 489h1.5v0.5h-1.5zM422.5 489.5h0.5v0.5h-0.5zM427 489.5h1v0.5h-1zM429.5 489.5h1v0.5h-1zM431 489.5h5v0.5h-5zM484 489.5h1v0.5h-1zM488 489.5h0.5v0.5h-0.5zM489 489.5h3v0.5h-3zM419 490h1v0.5h-1zM422.5 490h0.5v0.5h-0.5zM429.5 490h5.5v0.5h-5.5zM435.5 490h0.5v0.5h-0.5zM485 490h0.5v0.5h-0.5zM486 490h0.5v0.5h-0.5zM487 490h5.5v0.5h-5.5zM419 490.5h1v0.5h-1zM428 490.5h6.5v0.5h-6.5zM435 490.5h0.5v0.5h-0.5zM467 490.5h0.5v0.5h-0.5zM481.5 490.5h0.5v0.5h-0.5zM487.5 490.5h2v0.5h-2zM490.5 490.5h1v0.5h-1zM493.5 490.5h1v0.5h-1zM427 491h1.5v0.5h-1.5zM429 491h6v0.5h-6zM466.5 491h0.5v0.5h-0.5zM481 491h1v0.5h-1zM482.5 491h0.5v0.5h-0.5zM483.5 491h0.5v0.5h-0.5zM486 491h1.5v0.5h-1.5zM489 491h1v0.5h-1zM493.5 491h1v0.5h-1zM420 491.5h0.5v0.5h-0.5zM427 491.5h1.5v0.5h-1.5zM429 491.5h5.5v0.5h-5.5zM465 491.5h0.5v0.5h-0.5zM466.5 491.5h0.5v0.5h-0.5zM467.5 491.5h0.5v0.5h-0.5zM473.5 491.5h0.5v0.5h-0.5zM476 491.5h0.5v0.5h-0.5zM478.5 491.5h1v0.5h-1zM480.5 491.5h0.5v0.5h-0.5zM481.5 491.5h0.5v0.5h-0.5zM484.5 491.5h0.5v0.5h-0.5zM485.5 491.5h1v0.5h-1zM489 491.5h1v0.5h-1zM420 492h0.5v0.5h-0.5zM423 492h1v0.5h-1zM426 492h0.5v0.5h-0.5zM427 492h1v0.5h-1zM428.5 492h4v0.5h-4zM433 492h1v0.5h-1zM474.5 492h0.5v0.5h-0.5zM477.5 492h2.5v0.5h-2.5zM480.5 492h2v0.5h-2zM483 492h2v0.5h-2zM485.5 492h1.5v0.5h-1.5zM487.5 492h1v0.5h-1zM419.5 492.5h1v0.5h-1zM421 492.5h0.5v0.5h-0.5zM422 492.5h2v0.5h-2zM425.5 492.5h1v0.5h-1zM427 492.5h5v0.5h-5zM432.5 492.5h1.5v0.5h-1.5zM471.5 492.5h0.5v0.5h-0.5zM475 492.5h0.5v0.5h-0.5zM476.5 492.5h0.5v0.5h-0.5zM477.5 492.5h1v0.5h-1zM479 492.5h1v0.5h-1zM480.5 492.5h0.5v0.5h-0.5zM481.5 492.5h3v0.5h-3zM485.5 492.5h3.5v0.5h-3.5zM489.5 492.5h2v0.5h-2zM417.5 493h3v0.5h-3zM421 493h0.5v0.5h-0.5zM425.5 493h3.5v0.5h-3.5zM429.5 493h2v0.5h-2zM466 493h2.5v0.5h-2.5zM473 493h0.5v0.5h-0.5zM477 493h2v0.5h-2zM480 493h2.5v0.5h-2.5zM483 493h1v0.5h-1zM485.5 493h2v0.5h-2zM488 493h1v0.5h-1zM489.5 493h2v0.5h-2zM418.5 493.5h1v0.5h-1zM420.5 493.5h1v0.5h-1zM423.5 493.5h7.5v0.5h-7.5zM431.5 493.5h1v0.5h-1zM465 493.5h1.5v0.5h-1.5zM467 493.5h1.5v0.5h-1.5zM470.5 493.5h0.5v0.5h-0.5zM472.5 493.5h0.5v0.5h-0.5zM474 493.5h1v0.5h-1zM476.5 493.5h0.5v0.5h-0.5zM477.5 493.5h0.5v0.5h-0.5zM478.5 493.5h1.5v0.5h-1.5zM480.5 493.5h3.5v0.5h-3.5zM486.5 493.5h1v0.5h-1zM488.5 493.5h0.5v0.5h-0.5zM489.5 493.5h0.5v0.5h-0.5zM420.5 494h1v0.5h-1zM423.5 494h4v0.5h-4zM428 494h3v0.5h-3zM464 494h2v0.5h-2zM466.5 494h0.5v0.5h-0.5zM468 494h1v0.5h-1zM471 494h1.5v0.5h-1.5zM473.5 494h1.5v0.5h-1.5zM476 494h1v0.5h-1zM478 494h2v0.5h-2zM480.5 494h3v0.5h-3zM416.5 494.5h1v0.5h-1zM420 494.5h1v0.5h-1zM424.5 494.5h6v0.5h-6zM463.5 494.5h0.5v0.5h-0.5zM464.5 494.5h1.5v0.5h-1.5zM466.5 494.5h1v0.5h-1zM468 494.5h2v0.5h-2zM470.5 494.5h0.5v0.5h-0.5zM473 494.5h2v0.5h-2zM476 494.5h1.5v0.5h-1.5zM478 494.5h2v0.5h-2zM482 494.5h1.5v0.5h-1.5zM488 494.5h1v0.5h-1zM489.5 494.5h1v0.5h-1zM416 495h1.5v0.5h-1.5zM424 495h2v0.5h-2zM426.5 495h3v0.5h-3zM464.5 495h3.5v0.5h-3.5zM470.5 495h3v0.5h-3zM474 495h6v0.5h-6zM481 495h2.5v0.5h-2.5zM485 495h1v0.5h-1zM488 495h1v0.5h-1zM489.5 495h1v0.5h-1zM416 495.5h1v0.5h-1zM422.5 495.5h3v0.5h-3zM426.5 495.5h3.5v0.5h-3.5zM463.5 495.5h4v0.5h-4zM468 495.5h1v0.5h-1zM469.5 495.5h7.5v0.5h-7.5zM478 495.5h2v0.5h-2zM481 495.5h1v0.5h-1zM485 495.5h1.5v0.5h-1.5zM487 495.5h1v0.5h-1zM492.5 495.5h1v0.5h-1zM415.5 496h0.5v0.5h-0.5zM418.5 496h1v0.5h-1zM422.5 496h3v0.5h-3zM426 496h3v0.5h-3zM429.5 496h0.5v0.5h-0.5zM462.5 496h2v0.5h-2zM465 496h1.5v0.5h-1.5zM469 496h0.5v0.5h-0.5zM470.5 496h2.5v0.5h-2.5zM473.5 496h3v0.5h-3zM477 496h1v0.5h-1zM478.5 496h1.5v0.5h-1.5zM481 496h1v0.5h-1zM484.5 496h0.5v0.5h-0.5zM486 496h0.5v0.5h-0.5zM487 496h1v0.5h-1zM492.5 496h1v0.5h-1zM414 496.5h1v0.5h-1zM415.5 496.5h0.5v0.5h-0.5zM417 496.5h0.5v0.5h-0.5zM419 496.5h1v0.5h-1zM422.5 496.5h1v0.5h-1zM424.5 496.5h3v0.5h-3zM428 496.5h0.5v0.5h-0.5zM429 496.5h0.5v0.5h-0.5zM461.5 496.5h1.5v0.5h-1.5zM464 496.5h1v0.5h-1zM465.5 496.5h0.5v0.5h-0.5zM466.5 496.5h3.5v0.5h-3.5zM470.5 496.5h1.5v0.5h-1.5zM473 496.5h3.5v0.5h-3.5zM477 496.5h2v0.5h-2zM481 496.5h2.5v0.5h-2.5zM484.5 496.5h0.5v0.5h-0.5zM487.5 496.5h1v0.5h-1zM492.5 496.5h1.5v0.5h-1.5zM417 497h0.5v0.5h-0.5zM422.5 497h1.5v0.5h-1.5zM425.5 497h3v0.5h-3zM429.5 497h0.5v0.5h-0.5zM462 497h2v0.5h-2zM464.5 497h1.5v0.5h-1.5zM466.5 497h2v0.5h-2zM469.5 497h7v0.5h-7zM478 497h2v0.5h-2zM481 497h3v0.5h-3zM487 497h1v0.5h-1zM489.5 497h1.5v0.5h-1.5zM416 497.5h1v0.5h-1zM418 497.5h1.5v0.5h-1.5zM422.5 497.5h6.5v0.5h-6.5zM463.5 497.5h3v0.5h-3zM467.5 497.5h1v0.5h-1zM469.5 497.5h4v0.5h-4zM474 497.5h6v0.5h-6zM481 497.5h1v0.5h-1zM483 497.5h0.5v0.5h-0.5zM484 497.5h1v0.5h-1zM487.5 497.5h1v0.5h-1zM489.5 497.5h1v0.5h-1zM416 498h1v0.5h-1zM418.5 498h1v0.5h-1zM420.5 498h1v0.5h-1zM423 498h1.5v0.5h-1.5zM425 498h2.5v0.5h-2.5zM428 498h1.5v0.5h-1.5zM460.5 498h0.5v0.5h-0.5zM462 498h3.5v0.5h-3.5zM466 498h0.5v0.5h-0.5zM467.5 498h1.5v0.5h-1.5zM470.5 498h8.5v0.5h-8.5zM479.5 498h0.5v0.5h-0.5zM481.5 498h1v0.5h-1zM483 498h0.5v0.5h-0.5zM484 498h1v0.5h-1zM488 498h2v0.5h-2zM492 498h1v0.5h-1zM417 498.5h0.5v0.5h-0.5zM418 498.5h1v0.5h-1zM419.5 498.5h0.5v0.5h-0.5zM420.5 498.5h1v0.5h-1zM423 498.5h5v0.5h-5zM462.5 498.5h4.5v0.5h-4.5zM467.5 498.5h2v0.5h-2zM470 498.5h5v0.5h-5zM475.5 498.5h3v0.5h-3zM479.5 498.5h5.5v0.5h-5.5zM488 498.5h2.5v0.5h-2.5zM492 498.5h1v0.5h-1zM494 498.5h1v0.5h-1zM415 499h0.5v0.5h-0.5zM416 499h1.5v0.5h-1.5zM418.5 499h0.5v0.5h-0.5zM419.5 499h0.5v0.5h-0.5zM420.5 499h1v0.5h-1zM423.5 499h5v0.5h-5zM462.5 499h3.5v0.5h-3.5zM467.5 499h6.5v0.5h-6.5zM474.5 499h4v0.5h-4zM480 499h1v0.5h-1zM481.5 499h3v0.5h-3zM488 499h1v0.5h-1zM490 499h0.5v0.5h-0.5zM415 499.5h0.5v0.5h-0.5zM416 499.5h1v0.5h-1zM417.5 499.5h2v0.5h-2zM420.5 499.5h2.5v0.5h-2.5zM423.5 499.5h5v0.5h-5zM459.5 499.5h0.5v0.5h-0.5zM460.5 499.5h1v0.5h-1zM462 499.5h1v0.5h-1zM463.5 499.5h1v0.5h-1zM467 499.5h2v0.5h-2zM469.5 499.5h1v0.5h-1zM471 499.5h5v0.5h-5zM477 499.5h3.5v0.5h-3.5zM481.5 499.5h0.5v0.5h-0.5zM482.5 499.5h1.5v0.5h-1.5zM485.5 499.5h0.5v0.5h-0.5zM488.5 499.5h0.5v0.5h-0.5zM494 499.5h1v0.5h-1zM417.5 500h2v0.5h-2zM420 500h3.5v0.5h-3.5zM424 500h5.5v0.5h-5.5zM460 500h1.5v0.5h-1.5zM462 500h1v0.5h-1zM463.5 500h1.5v0.5h-1.5zM466 500h1.5v0.5h-1.5zM468 500h2v0.5h-2zM470.5 500h5.5v0.5h-5.5zM477 500h0.5v0.5h-0.5zM478 500h0.5v0.5h-0.5zM479.5 500h1v0.5h-1zM481 500h1v0.5h-1zM482.5 500h1v0.5h-1zM484.5 500h0.5v0.5h-0.5zM485.5 500h1.5v0.5h-1.5zM488 500h2.5v0.5h-2.5zM494 500h1v0.5h-1zM420 500.5h1.5v0.5h-1.5zM422.5 500.5h1.5v0.5h-1.5zM424.5 500.5h4.5v0.5h-4.5zM458.5 500.5h4.5v0.5h-4.5zM465 500.5h3.5v0.5h-3.5zM470 500.5h4v0.5h-4zM475 500.5h1v0.5h-1zM477 500.5h1.5v0.5h-1.5zM479 500.5h1v0.5h-1zM480.5 500.5h1.5v0.5h-1.5zM484.5 500.5h0.5v0.5h-0.5zM486 500.5h1v0.5h-1zM488 500.5h1v0.5h-1zM494.5 500.5h0.5v0.5h-0.5zM418 501h1v0.5h-1zM420.5 501h1v0.5h-1zM422.5 501h1.5v0.5h-1.5zM424.5 501h1.5v0.5h-1.5zM427 501h1.5v0.5h-1.5zM458 501h4v0.5h-4zM462.5 501h2.5v0.5h-2.5zM466 501h1.5v0.5h-1.5zM470 501h8v0.5h-8zM479 501h2v0.5h-2zM481.5 501h1v0.5h-1zM485 501h0.5v0.5h-0.5zM494.5 501h0.5v0.5h-0.5zM421 501.5h1v0.5h-1zM423.5 501.5h0.5v0.5h-0.5zM424.5 501.5h3.5v0.5h-3.5zM428.5 501.5h1v0.5h-1zM460 501.5h5v0.5h-5zM466.5 501.5h0.5v0.5h-0.5zM468 501.5h1v0.5h-1zM470 501.5h1.5v0.5h-1.5zM472 501.5h1v0.5h-1zM473.5 501.5h1v0.5h-1zM475 501.5h1.5v0.5h-1.5zM477.5 501.5h1v0.5h-1zM479 501.5h1v0.5h-1zM480.5 501.5h3v0.5h-3zM484.5 501.5h1v0.5h-1zM488 501.5h1v0.5h-1zM494.5 501.5h0.5v0.5h-0.5zM421 502h1v0.5h-1zM422.5 502h0.5v0.5h-0.5zM423.5 502h0.5v0.5h-0.5zM425.5 502h4v0.5h-4zM459 502h2.5v0.5h-2.5zM462 502h0.5v0.5h-0.5zM463 502h3v0.5h-3zM466.5 502h2.5v0.5h-2.5zM470 502h2v0.5h-2zM473 502h1.5v0.5h-1.5zM475.5 502h1v0.5h-1zM477 502h1.5v0.5h-1.5zM479 502h4.5v0.5h-4.5zM484.5 502h1v0.5h-1zM486 502h1v0.5h-1zM488 502h1v0.5h-1zM490 502h1v0.5h-1zM494.5 502h0.5v0.5h-0.5zM422 502.5h1v0.5h-1zM424.5 502.5h5v0.5h-5zM456.5 502.5h0.5v0.5h-0.5zM458 502.5h3v0.5h-3zM462 502.5h0.5v0.5h-0.5zM467.5 502.5h1v0.5h-1zM469 502.5h5v0.5h-5zM475 502.5h2v0.5h-2zM479 502.5h2.5v0.5h-2.5zM482.5 502.5h1v0.5h-1zM484 502.5h1.5v0.5h-1.5zM486 502.5h1v0.5h-1zM487.5 502.5h0.5v0.5h-0.5zM488.5 502.5h0.5v0.5h-0.5zM490 502.5h1.5v0.5h-1.5zM494.5 502.5h1v0.5h-1zM417.5 503h1v0.5h-1zM422 503h1v0.5h-1zM425 503h1v0.5h-1zM426.5 503h4v0.5h-4zM455.5 503h0.5v0.5h-0.5zM456.5 503h0.5v0.5h-0.5zM457.5 503h2v0.5h-2zM460.5 503h2v0.5h-2zM466.5 503h1v0.5h-1zM469 503h2v0.5h-2zM471.5 503h1v0.5h-1zM473 503h4v0.5h-4zM477.5 503h0.5v0.5h-0.5zM479 503h1.5v0.5h-1.5zM481 503h0.5v0.5h-0.5zM484 503h1v0.5h-1zM486.5 503h0.5v0.5h-0.5zM487.5 503h0.5v0.5h-0.5zM416 503.5h1v0.5h-1zM421.5 503.5h1v0.5h-1zM425 503.5h1v0.5h-1zM426.5 503.5h4v0.5h-4zM456 503.5h3.5v0.5h-3.5zM461 503.5h1.5v0.5h-1.5zM463.5 503.5h2.5v0.5h-2.5zM467.5 503.5h0.5v0.5h-0.5zM469 503.5h1v0.5h-1zM471 503.5h1.5v0.5h-1.5zM473 503.5h0.5v0.5h-0.5zM474 503.5h1.5v0.5h-1.5zM476 503.5h2v0.5h-2zM479.5 503.5h1v0.5h-1zM481 503.5h0.5v0.5h-0.5zM482.5 503.5h1v0.5h-1zM484.5 503.5h1v0.5h-1zM486.5 503.5h0.5v0.5h-0.5zM416 504h1v0.5h-1zM422 504h0.5v0.5h-0.5zM426 504h3.5v0.5h-3.5zM431.5 504h0.5v0.5h-0.5zM455 504h3.5v0.5h-3.5zM459 504h0.5v0.5h-0.5zM461.5 504h1.5v0.5h-1.5zM463.5 504h3v0.5h-3zM467 504h1v0.5h-1zM468.5 504h1.5v0.5h-1.5zM471 504h1v0.5h-1zM473 504h0.5v0.5h-0.5zM474 504h0.5v0.5h-0.5zM476 504h1.5v0.5h-1.5zM479 504h1v0.5h-1zM483.5 504h2.5v0.5h-2.5zM421.5 504.5h0.5v0.5h-0.5zM426 504.5h2.5v0.5h-2.5zM429.5 504.5h1v0.5h-1zM453.5 504.5h0.5v0.5h-0.5zM454.5 504.5h2v0.5h-2zM457 504.5h2.5v0.5h-2.5zM465.5 504.5h2.5v0.5h-2.5zM469 504.5h2.5v0.5h-2.5zM472 504.5h2v0.5h-2zM476 504.5h1.5v0.5h-1.5zM483.5 504.5h1v0.5h-1zM485 504.5h1v0.5h-1zM421.5 505h0.5v0.5h-0.5zM427 505h2.5v0.5h-2.5zM430 505h1.5v0.5h-1.5zM453.5 505h0.5v0.5h-0.5zM454.5 505h4v0.5h-4zM461.5 505h2.5v0.5h-2.5zM465 505h1v0.5h-1zM466.5 505h1v0.5h-1zM469 505h2v0.5h-2zM472 505h1v0.5h-1zM486 505h1v0.5h-1zM424.5 505.5h1v0.5h-1zM428 505.5h0.5v0.5h-0.5zM429 505.5h3v0.5h-3zM432.5 505.5h0.5v0.5h-0.5zM452.5 505.5h0.5v0.5h-0.5zM453.5 505.5h1v0.5h-1zM455 505.5h3.5v0.5h-3.5zM462.5 505.5h1.5v0.5h-1.5zM465 505.5h1v0.5h-1zM467.5 505.5h0.5v0.5h-0.5zM473 505.5h1v0.5h-1zM476.5 505.5h1v0.5h-1zM478.5 505.5h0.5v0.5h-0.5zM484.5 505.5h0.5v0.5h-0.5zM486 505.5h1v0.5h-1zM424.5 506h1v0.5h-1zM427.5 506h1v0.5h-1zM429 506h4v0.5h-4zM434 506h0.5v0.5h-0.5zM437 506h0.5v0.5h-0.5zM438 506h0.5v0.5h-0.5zM439.5 506h0.5v0.5h-0.5zM440.5 506h0.5v0.5h-0.5zM443.5 506h0.5v0.5h-0.5zM451 506h0.5v0.5h-0.5zM452.5 506h0.5v0.5h-0.5zM453.5 506h3.5v0.5h-3.5zM457.5 506h1v0.5h-1zM461.5 506h0.5v0.5h-0.5zM467.5 506h0.5v0.5h-0.5zM468.5 506h1v0.5h-1zM476.5 506h1v0.5h-1zM478.5 506h0.5v0.5h-0.5zM482 506h1v0.5h-1zM484.5 506h0.5v0.5h-0.5zM487.5 506h1v0.5h-1zM427.5 506.5h1v0.5h-1zM431 506.5h3v0.5h-3zM437 506.5h0.5v0.5h-0.5zM439.5 506.5h0.5v0.5h-0.5zM441 506.5h0.5v0.5h-0.5zM442.5 506.5h0.5v0.5h-0.5zM443.5 506.5h1v0.5h-1zM446.5 506.5h1.5v0.5h-1.5zM448.5 506.5h1v0.5h-1zM450.5 506.5h1v0.5h-1zM452.5 506.5h4.5v0.5h-4.5zM458 506.5h1v0.5h-1zM461.5 506.5h0.5v0.5h-0.5zM482.5 506.5h0.5v0.5h-0.5zM430.5 507h1v0.5h-1zM432 507h0.5v0.5h-0.5zM436 507h0.5v0.5h-0.5zM437 507h2v0.5h-2zM439.5 507h0.5v0.5h-0.5zM441 507h0.5v0.5h-0.5zM442.5 507h0.5v0.5h-0.5zM445 507h1v0.5h-1zM446.5 507h1v0.5h-1zM450.5 507h1v0.5h-1zM452 507h2v0.5h-2zM455 507h1.5v0.5h-1.5zM458 507h1v0.5h-1zM433 507.5h1v0.5h-1zM436 507.5h0.5v0.5h-0.5zM437 507.5h0.5v0.5h-0.5zM438 507.5h0.5v0.5h-0.5zM439 507.5h1v0.5h-1zM441 507.5h0.5v0.5h-0.5zM443 507.5h1v0.5h-1zM444.5 507.5h4v0.5h-4zM449 507.5h0.5v0.5h-0.5zM450 507.5h1.5v0.5h-1.5zM453 507.5h1v0.5h-1zM455 507.5h1v0.5h-1zM432 508h1v0.5h-1zM434.5 508h1v0.5h-1zM437 508h2v0.5h-2zM439.5 508h1v0.5h-1zM443 508h1v0.5h-1zM445 508h0.5v0.5h-0.5zM446 508h1v0.5h-1zM448 508h0.5v0.5h-0.5zM449.5 508h0.5v0.5h-0.5zM451 508h0.5v0.5h-0.5zM452 508h2.5v0.5h-2.5zM432 508.5h1v0.5h-1zM437 508.5h2v0.5h-2zM441.5 508.5h1v0.5h-1zM443.5 508.5h0.5v0.5h-0.5zM449 508.5h1v0.5h-1zM450.5 508.5h1v0.5h-1zM452 508.5h2.5v0.5h-2.5zM443.5 509h1v0.5h-1zM450.5 509h1v0.5h-1zM439.5 509.5h1.5v0.5h-1.5zM450.5 509.5h1v0.5h-1zM439.5 510h0.5v0.5h-0.5zM450.5 510h1v0.5h-1z"/>
<path fill="#111111" d="M477 482.5h0.5v0.5h-0.5zM453 483.5h0.5v0.5h-0.5zM469.5 483.5h0.5v0.5h-0.5zM473.5 483.5h0.5v0.5h-0.5zM474.5 483.5h0.5v0.5h-0.5zM480 483.5h0.5v0.5h-0.5zM481 483.5h0.5v0.5h-0.5zM483.5 483.5h0.5v0.5h-0.5zM454 484h0.5v0.5h-0.5zM464 484h0.5v0.5h-0.5zM468.5 484h1v0.5h-1zM470.5 484h1v0.5h-1zM472 484h0.5v0.5h-0.5zM480.5 484h0.5v0.5h-0.5zM451.5 484.5h0.5v0.5h-0.5zM452.5 484.5h1.5v0.5h-1.5zM455 484.5h1v0.5h-1zM457 484.5h0.5v0.5h-0.5zM459.5 484.5h0.5v0.5h-0.5zM462 484.5h1v0.5h-1zM463.5 484.5h1v0.5h-1zM465 484.5h1v0.5h-1zM466.5 484.5h0.5v0.5h-0.5zM467.5 484.5h0.5v0.5h-0.5zM468.5 484.5h1v0.5h-1zM470.5 484.5h1.5v0.5h-1.5zM472.5 484.5h0.5v0.5h-0.5zM476.5 484.5h0.5v0.5h-0.5zM477.5 484.5h1.5v0.5h-1.5zM480 484.5h0.5v0.5h-0.5zM481.5 484.5h0.5v0.5h-0.5zM483.5 484.5h0.5v0.5h-0.5zM486 484.5h0.5v0.5h-0.5zM489.5 484.5h0.5v0.5h-0.5zM444.5 485h0.5v0.5h-0.5zM446.5 485h0.5v0.5h-0.5zM450 485h1v0.5h-1zM453 485h0.5v0.5h-0.5zM454.5 485h0.5v0.5h-0.5zM455.5 485h1v0.5h-1zM457.5 485h1v0.5h-1zM459 485h0.5v0.5h-0.5zM460.5 485h0.5v0.5h-0.5zM462 485h0.5v0.5h-0.5zM465.5 485h0.5v0.5h-0.5zM466.5 485h0.5v0.5h-0.5zM468 485h0.5v0.5h-0.5zM469 485h1v0.5h-1zM470.5 485h1v0.5h-1zM472 485h3.5v0.5h-3.5zM476 485h1v0.5h-1zM478 485h2v0.5h-2zM480.5 485h2.5v0.5h-2.5zM484 485h1v0.5h-1zM485.5 485h0.5v0.5h-0.5zM488 485h0.5v0.5h-0.5zM447.5 485.5h0.5v0.5h-0.5zM448.5 485.5h1.5v0.5h-1.5zM451 485.5h0.5v0.5h-0.5zM452.5 485.5h2.5v0.5h-2.5zM455.5 485.5h1.5v0.5h-1.5zM457.5 485.5h2v0.5h-2zM460 485.5h3.5v0.5h-3.5zM464 485.5h1v0.5h-1zM465.5 485.5h1v0.5h-1zM467.5 485.5h6v0.5h-6zM474 485.5h3v0.5h-3zM478 485.5h6v0.5h-6zM485 485.5h0.5v0.5h-0.5zM486 485.5h0.5v0.5h-0.5zM487 485.5h1.5v0.5h-1.5zM489.5 485.5h0.5v0.5h-0.5zM442.5 486h0.5v0.5h-0.5zM444.5 486h1v0.5h-1zM446.5 486h5v0.5h-5zM452 486h13v0.5h-13zM466 486h19v0.5h-19zM485.5 486h1v0.5h-1zM489 486h0.5v0.5h-0.5zM444 486.5h0.5v0.5h-0.5zM445 486.5h0.5v0.5h-0.5zM446.5 486.5h0.5v0.5h-0.5zM448 486.5h16v0.5h-16zM464.5 486.5h22v0.5h-22zM487 486.5h2v0.5h-2zM441 487h0.5v0.5h-0.5zM443 487h1.5v0.5h-1.5zM445 487h1.5v0.5h-1.5zM447 487h37.5v0.5h-37.5zM485 487h3v0.5h-3zM488.5 487h0.5v0.5h-0.5zM439.5 487.5h0.5v0.5h-0.5zM441.5 487.5h0.5v0.5h-0.5zM443 487.5h0.5v0.5h-0.5zM444 487.5h44.5v0.5h-44.5zM437.5 488h1v0.5h-1zM440 488h0.5v0.5h-0.5zM441.5 488h1v0.5h-1zM443 488h44.5v0.5h-44.5zM488 488h0.5v0.5h-0.5zM437 488.5h0.5v0.5h-0.5zM438 488.5h0.5v0.5h-0.5zM439 488.5h27v0.5h-27zM466.5 488.5h21v0.5h-21zM488 488.5h0.5v0.5h-0.5zM489 488.5h0.5v0.5h-0.5zM437.5 489h48.5v0.5h-48.5zM486.5 489h1v0.5h-1zM488.5 489h0.5v0.5h-0.5zM436 489.5h29.5v0.5h-29.5zM466.5 489.5h17.5v0.5h-17.5zM485 489.5h3v0.5h-3zM488.5 489.5h0.5v0.5h-0.5zM436 490h49v0.5h-49zM485.5 490h0.5v0.5h-0.5zM486.5 490h0.5v0.5h-0.5zM434.5 490.5h0.5v0.5h-0.5zM435.5 490.5h31.5v0.5h-31.5zM467.5 490.5h14v0.5h-14zM482 490.5h5.5v0.5h-5.5zM435 491h31.5v0.5h-31.5zM467 491h14v0.5h-14zM482 491h0.5v0.5h-0.5zM483 491h0.5v0.5h-0.5zM484 491h2v0.5h-2zM434.5 491.5h30.5v0.5h-30.5zM466 491.5h0.5v0.5h-0.5zM467 491.5h0.5v0.5h-0.5zM468 491.5h5.5v0.5h-5.5zM474 491.5h2v0.5h-2zM476.5 491.5h2v0.5h-2zM479.5 491.5h1v0.5h-1zM481 491.5h0.5v0.5h-0.5zM482 491.5h2.5v0.5h-2.5zM485 491.5h0.5v0.5h-0.5zM432.5 492h0.5v0.5h-0.5zM434 492h31.5v0.5h-31.5zM466 492h0.5v0.5h-0.5zM467 492h7.5v0.5h-7.5zM475 492h0.5v0.5h-0.5zM476 492h1.5v0.5h-1.5zM480 492h0.5v0.5h-0.5zM482.5 492h0.5v0.5h-0.5zM485 492h0.5v0.5h-0.5zM432 492.5h0.5v0.5h-0.5zM434 492.5h30.5v0.5h-30.5zM468 492.5h3.5v0.5h-3.5zM472 492.5h3v0.5h-3zM475.5 492.5h1v0.5h-1zM477 492.5h0.5v0.5h-0.5zM478.5 492.5h0.5v0.5h-0.5zM480 492.5h0.5v0.5h-0.5zM481 492.5h0.5v0.5h-0.5zM431.5 493h33.5v0.5h-33.5zM468.5 493h4.5v0.5h-4.5zM473.5 493h2v0.5h-2zM476 493h1v0.5h-1zM479 493h0.5v0.5h-0.5zM482.5 493h0.5v0.5h-0.5zM484 493h0.5v0.5h-0.5zM431 493.5h0.5v0.5h-0.5zM432.5 493.5h32.5v0.5h-32.5zM466.5 493.5h0.5v0.5h-0.5zM468.5 493.5h2v0.5h-2zM471 493.5h1.5v0.5h-1.5zM473 493.5h1v0.5h-1zM475.5 493.5h1v0.5h-1zM477 493.5h0.5v0.5h-0.5zM478 493.5h0.5v0.5h-0.5zM431 494h33v0.5h-33zM467.5 494h0.5v0.5h-0.5zM469 494h2v0.5h-2zM472.5 494h1v0.5h-1zM475.5 494h0.5v0.5h-0.5zM430.5 494.5h33v0.5h-33zM464 494.5h0.5v0.5h-0.5zM467.5 494.5h0.5v0.5h-0.5zM470 494.5h0.5v0.5h-0.5zM429.5 495h35v0.5h-35zM470 495h0.5v0.5h-0.5zM430 495.5h33.5v0.5h-33.5zM469 495.5h0.5v0.5h-0.5zM429 496h0.5v0.5h-0.5zM430 496h32.5v0.5h-32.5zM428.5 496.5h0.5v0.5h-0.5zM429.5 496.5h32v0.5h-32zM463.5 496.5h0.5v0.5h-0.5zM428.5 497h1v0.5h-1zM430 497h32v0.5h-32zM464 497h0.5v0.5h-0.5zM429 497.5h33.5v0.5h-33.5zM463 497.5h0.5v0.5h-0.5zM429.5 498h31v0.5h-31zM461 498h1v0.5h-1zM428 498.5h33.5v0.5h-33.5zM428.5 499h32v0.5h-32zM428.5 499.5h31v0.5h-31zM460 499.5h0.5v0.5h-0.5zM429.5 500h30.5v0.5h-30.5zM429 500.5h29.5v0.5h-29.5zM428.5 501h29.5v0.5h-29.5zM428 501.5h0.5v0.5h-0.5zM429.5 501.5h29.5v0.5h-29.5zM429.5 502h29.5v0.5h-29.5zM429.5 502.5h27v0.5h-27zM457 502.5h1v0.5h-1zM430.5 503h25v0.5h-25zM456 503h0.5v0.5h-0.5zM457 503h0.5v0.5h-0.5zM430.5 503.5h25.5v0.5h-25.5zM429.5 504h2v0.5h-2zM432 504h23v0.5h-23zM430.5 504.5h23v0.5h-23zM454 504.5h0.5v0.5h-0.5zM456.5 504.5h0.5v0.5h-0.5zM431.5 505h21.5v0.5h-21.5zM454 505h0.5v0.5h-0.5zM433 505.5h19.5v0.5h-19.5zM453 505.5h0.5v0.5h-0.5zM433 506h1v0.5h-1zM434.5 506h2.5v0.5h-2.5zM437.5 506h0.5v0.5h-0.5zM438.5 506h1v0.5h-1zM440 506h0.5v0.5h-0.5zM441 506h2.5v0.5h-2.5zM444 506h7v0.5h-7zM451.5 506h1v0.5h-1zM453 506h0.5v0.5h-0.5zM434 506.5h3v0.5h-3zM437.5 506.5h1v0.5h-1zM439 506.5h0.5v0.5h-0.5zM440 506.5h1v0.5h-1zM441.5 506.5h1v0.5h-1zM443 506.5h0.5v0.5h-0.5zM445.5 506.5h1v0.5h-1zM448 506.5h0.5v0.5h-0.5zM449.5 506.5h0.5v0.5h-0.5zM451.5 506.5h0.5v0.5h-0.5zM431.5 507h0.5v0.5h-0.5zM432.5 507h2.5v0.5h-2.5zM436.5 507h0.5v0.5h-0.5zM439 507h0.5v0.5h-0.5zM440 507h1v0.5h-1zM443 507h0.5v0.5h-0.5zM444.5 507h0.5v0.5h-0.5zM446 507h0.5v0.5h-0.5zM447.5 507h0.5v0.5h-0.5zM448.5 507h2v0.5h-2zM451.5 507h0.5v0.5h-0.5zM434.5 507.5h0.5v0.5h-0.5zM436.5 507.5h0.5v0.5h-0.5zM437.5 507.5h0.5v0.5h-0.5zM440 507.5h0.5v0.5h-0.5zM448.5 507.5h0.5v0.5h-0.5zM449.5 507.5h0.5v0.5h-0.5zM442.5 508h0.5v0.5h-0.5zM445.5 508h0.5v0.5h-0.5zM447.5 508h0.5v0.5h-0.5zM449 508h0.5v0.5h-0.5zM444 508.5h0.5v0.5h-0.5z"/>
<path stroke="#3a3a3a" stroke-width="1.25" fill="none" d="M406.3 452.5H510.5V538.7H406.3ZM465.8 452.5V538.7M406.3 507H510.5"/>
<path stroke="#1c1c1c" stroke-width="1.2" fill="none" d="M427.5 538.7v5.2M447.5 538.7v5.2M476.3 538.7v5.2M501.3 538.7v5.2M456.17 538.7v3M461.24 538.7v3M464.84 538.7v3M467.63 538.7v3M469.91 538.7v3M471.84 538.7v3M473.51 538.7v3M474.98 538.7v3M484.97 538.7v3M490.04 538.7v3M493.64 538.7v3M496.43 538.7v3M498.71 538.7v3M500.64 538.7v3M502.31 538.7v3M503.78 538.7v3M509.97 538.7v3M407.5 538.7v3.6M409.5 538.7v3M411.5 538.7v3M413.5 538.7v3M415.5 538.7v3.6M417.5 538.7v3M419.5 538.7v3M421.5 538.7v3M423.5 538.7v3.6M425.5 538.7v3M427.5 538.7v3M429.5 538.7v3M431.5 538.7v3.6M433.5 538.7v3M435.5 538.7v3M437.5 538.7v3M439.5 538.7v3.6M441.5 538.7v3M443.5 538.7v3M445.5 538.7v3M425.3 538.7v5.2M429.9 538.7v4.4"/>
<path stroke="#1c1c1c" stroke-width="1.0" fill="none" d="M406.3 460.95h-4.2M406.3 480h-4.2M406.3 500.17h-4.2M406.3 520.25h-4.2M406.3 455.21h-2.4M406.3 474.26h-2.4M406.3 470.91h-2.4M406.3 468.53h-2.4M406.3 466.68h-2.4M406.3 465.17h-2.4M406.3 463.9h-2.4M406.3 462.79h-2.4M406.3 461.82h-2.4M406.3 494.43h-2.4M406.3 491.08h-2.4M406.3 488.7h-2.4M406.3 486.85h-2.4M406.3 485.34h-2.4M406.3 484.07h-2.4M406.3 482.96h-2.4M406.3 481.99h-2.4M406.3 514.52h-2.4M406.3 511.16h-2.4M406.3 508.78h-2.4M406.3 506.94h-2.4M406.3 505.43h-2.4M406.3 504.15h-2.4M406.3 503.05h-2.4M406.3 502.07h-2.4M406.3 520.25h-2.4M406.3 521.75h-2.4M406.3 523.25h-2.4M406.3 524.75h-2.4M406.3 526.25h-2.4M406.3 527.75h-2.4M406.3 529.25h-2.4M406.3 530.75h-2.4M406.3 532.25h-2.4M406.3 533.75h-2.4M406.3 535.25h-2.4M406.3 536.75h-2.4M406.3 538.25h-2.4M406.3 529.56h-4.2"/>
<text x="488" y="534.9" font-size="6.1" fill="#222">Q4-4</text>
<rect x="472" y="513" width="35.5" height="20" fill="#d3d3d3"/>
<text x="489.05" y="527.3" font-size="11.3" fill="#666666" text-anchor="middle">14%</text>
<g font-size="6.62" fill="#1e1e1e" stroke="#1e1e1e" stroke-width="0.12">
<text x="445" y="465">Q1-4</text>
<text x="482" y="465">Q2-4</text>
<text x="444.5" y="526.8">Q3-4</text>
</g>
<g font-size="5.54" font-weight="bold" fill="#141414" stroke="#141414" stroke-width="0.2">
<text x="427.5" y="550.8" text-anchor="middle">0</text>
<text x="443.59" y="550.8">10<tspan font-size="4.34" dy="-2.93">3</tspan></text>
<text x="472.39" y="550.8">10<tspan font-size="4.34" dy="-2.93">4</tspan></text>
<text x="497.39" y="550.8">10<tspan font-size="4.34" dy="-2.93">5</tspan></text>
<text x="398.05" y="554.3" font-size="5.43" textLength="16.5" lengthAdjust="spacingAndGlyphs">-1,144</text>
<text x="398.38" y="545.1" font-size="6.62" stroke-width="0.45">M</text>
<text x="434.69" y="557.7" font-size="5.64" textLength="46.24" lengthAdjust="spacingAndGlyphs">Alexa Fluor 700-A</text>
<text transform="translate(401.31 460.95) rotate(-90)" x="-3.04" y="0">10<tspan font-size="4.34" dy="-4.12">5</tspan></text>
<text transform="translate(401.31 480) rotate(-90)" x="-3.04" y="0">10<tspan font-size="4.34" dy="-4.12">4</tspan></text>
<text transform="translate(401.31 500.17) rotate(-90)" x="-3.04" y="0">10<tspan font-size="4.34" dy="-4.12">3</tspan></text>
<text transform="translate(401.31 520.25) rotate(-90)" x="-3.04" y="0">10<tspan font-size="4.34" dy="-4.12">2</tspan></text>
<text transform="translate(401.31 529.56) rotate(-90)" x="-1.52" y="0">0</text>
<text transform="translate(395.12 537.1) rotate(-90)" x="-3.91" y="0" font-size="4.88">-90</text>
</g>
</g>
</svg>
</body>
</html>
